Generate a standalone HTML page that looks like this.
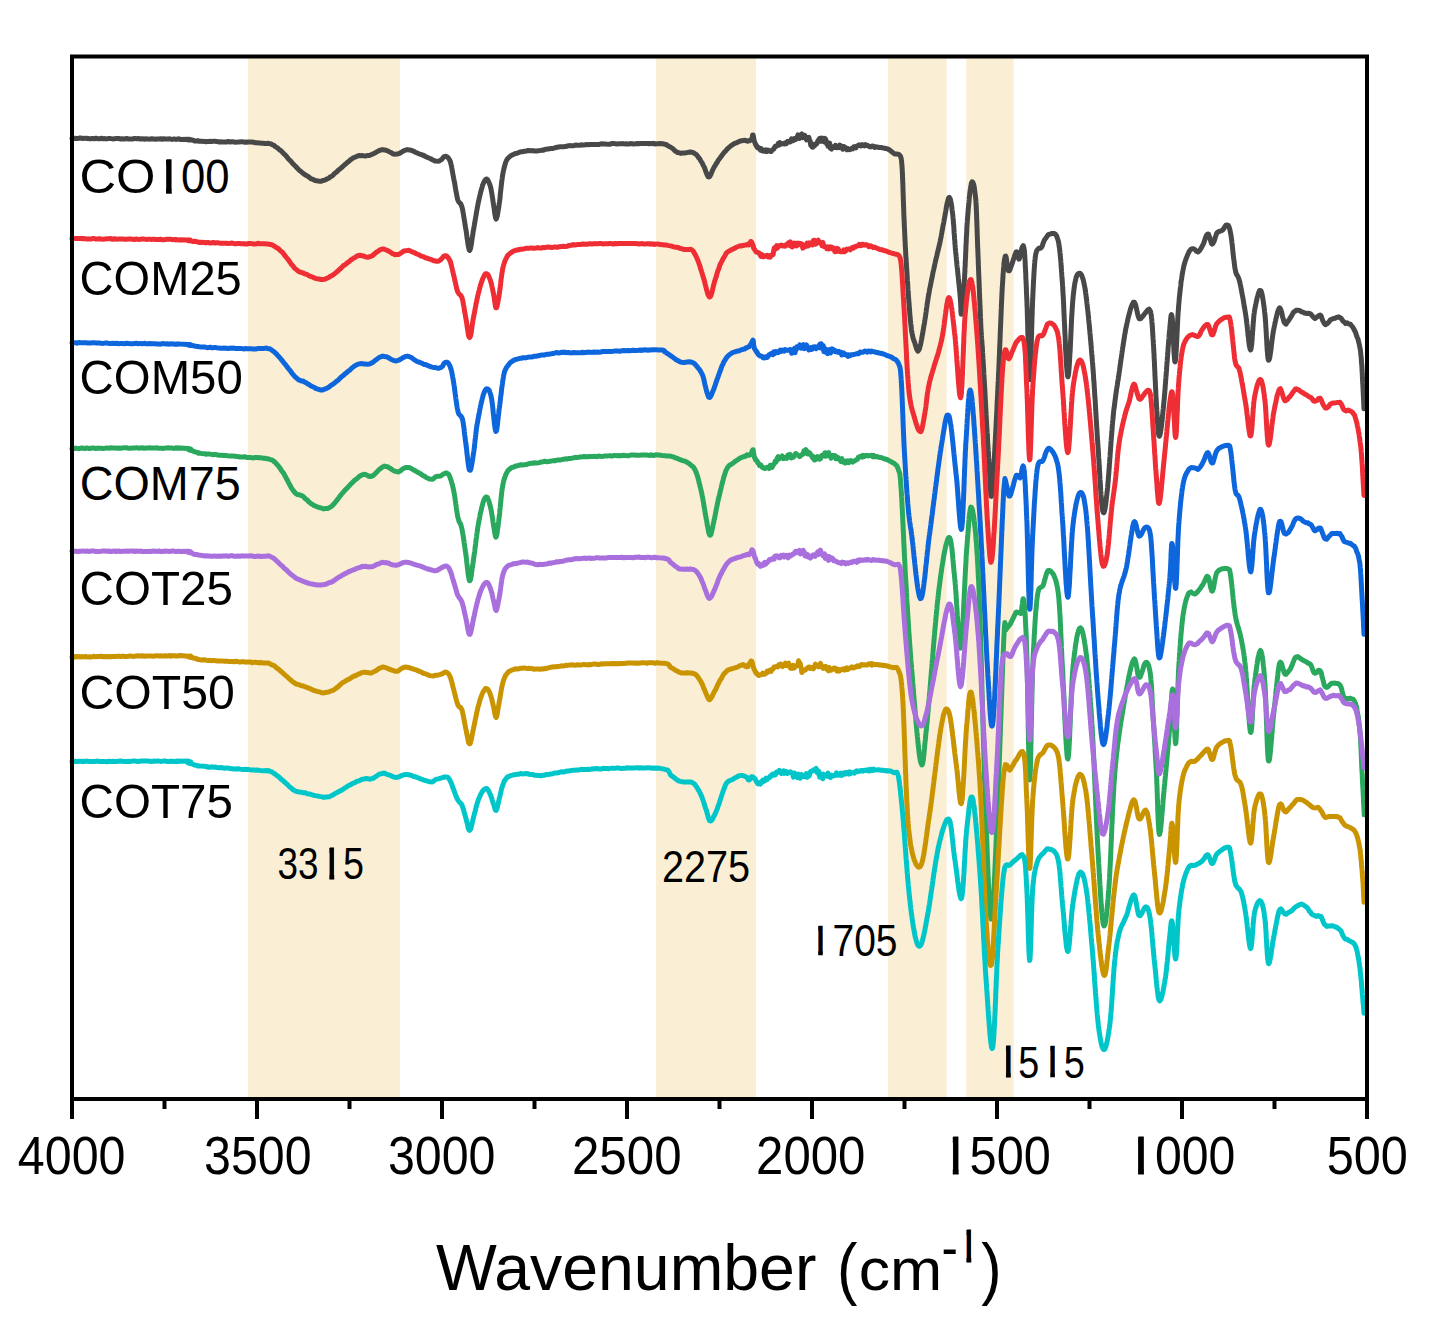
<!DOCTYPE html>
<html><head><meta charset="utf-8"><title>FTIR spectra</title>
<style>html,body{margin:0;padding:0;background:#fff;}svg{display:block;}</style>
</head><body>
<svg width="1433" height="1344" viewBox="0 0 1433 1344">
<rect width="1433" height="1344" fill="#fff"/>
<rect x="247.9" y="58" width="152.1" height="1040" fill="#faefd4"/>
<rect x="655.9" y="58" width="100.2" height="1040" fill="#faefd4"/>
<rect x="887.9" y="58" width="58.7" height="1040" fill="#faefd4"/>
<rect x="966.4" y="58" width="47.2" height="1040" fill="#faefd4"/>
<g fill="none" stroke-width="5" stroke-linejoin="round" stroke-linecap="round">
<path stroke="#484848" d="M72.0,138.3 L72.8,138.5 L73.7,138.6 L74.7,138.2 L75.8,138.5 L76.9,138.5 L78.0,138.5 L79.2,138.1 L80.5,138.0 L81.9,138.3 L83.2,138.6 L84.7,138.2 L86.1,138.4 L87.7,138.3 L89.2,138.7 L90.8,138.8 L92.5,138.4 L94.2,138.8 L95.9,138.2 L97.6,138.7 L99.4,138.8 L101.2,138.3 L103.1,138.7 L104.9,138.6 L106.8,138.9 L108.7,138.4 L110.7,138.6 L112.6,138.9 L114.6,138.7 L116.5,138.5 L118.5,138.4 L120.5,139.0 L122.5,138.7 L124.5,139.1 L126.5,138.5 L128.5,139.0 L130.5,139.0 L132.5,139.1 L134.5,138.4 L136.5,138.7 L138.4,138.5 L140.4,139.0 L142.3,138.7 L144.2,139.2 L146.1,138.8 L148.0,139.1 L149.9,139.2 L151.7,138.7 L153.5,139.0 L155.3,139.3 L157.1,139.0 L158.8,138.9 L160.5,138.8 L162.1,139.2 L163.7,138.8 L165.3,139.1 L166.8,139.1 L168.3,139.1 L169.7,138.8 L171.1,139.2 L172.4,139.4 L173.6,139.0 L174.9,139.0 L176.0,139.4 L177.1,139.2 L178.1,139.0 L179.1,138.8 L180.0,139.4 L188.1,139.2 L190.6,139.4 L189.9,139.4 L188.2,139.7 L188.0,139.9 L190.5,139.9 L192.5,140.0 L194.5,140.9 L197.0,141.1 L197.8,140.6 L198.3,141.1 L199.1,141.3 L201.1,141.2 L205.0,141.6 L206.1,141.7 L207.2,141.5 L208.6,141.4 L210.0,141.3 L211.5,141.4 L213.2,141.3 L214.9,141.3 L216.7,141.4 L218.5,141.9 L220.4,141.7 L222.3,141.9 L224.3,142.0 L226.2,142.0 L228.2,141.5 L230.2,142.1 L232.1,141.6 L234.0,142.1 L235.9,142.2 L237.7,142.1 L239.5,141.9 L241.2,141.7 L242.7,141.8 L244.2,142.2 L245.6,142.0 L246.9,142.2 L248.0,142.0 L251.3,142.1 L253.7,142.3 L255.4,142.7 L256.5,142.7 L257.5,142.8 L258.6,143.0 L260.0,143.1 L261.6,143.2 L263.3,143.2 L264.9,143.4 L266.4,143.4 L268.0,143.3 L269.6,143.6 L271.2,144.0 L272.6,144.8 L274.0,145.3 L275.4,146.6 L276.8,147.5 L278.1,148.4 L279.5,149.8 L280.9,150.7 L282.3,152.1 L283.4,153.3 L284.5,154.3 L285.7,155.5 L286.8,156.7 L287.9,158.3 L289.0,159.5 L290.1,160.5 L291.3,161.8 L292.4,163.2 L293.5,164.3 L294.7,165.5 L295.9,166.6 L297.1,168.0 L298.3,169.2 L299.5,170.4 L300.7,171.3 L302.0,172.4 L303.3,173.4 L304.6,174.4 L306.0,175.3 L307.5,176.1 L309.0,177.1 L310.5,178.4 L312.1,179.2 L313.6,179.7 L315.1,180.5 L316.6,180.7 L318.0,181.0 L319.7,181.2 L321.3,181.2 L322.8,180.5 L324.4,180.2 L325.9,179.7 L327.5,178.7 L329.2,177.9 L330.5,176.7 L331.7,176.2 L333.1,175.1 L334.4,173.5 L335.8,172.6 L337.1,171.5 L338.5,170.0 L339.9,169.0 L341.3,167.9 L342.6,166.7 L343.9,165.5 L345.3,164.2 L346.6,163.2 L348.0,161.9 L349.3,160.9 L350.6,159.7 L352.0,158.8 L353.3,157.9 L354.7,157.3 L356.0,156.7 L357.7,155.9 L359.4,155.5 L361.0,155.8 L362.7,155.6 L364.4,155.9 L366.0,155.9 L367.7,155.5 L369.4,155.5 L370.9,154.8 L372.4,154.2 L373.9,153.4 L375.4,152.7 L376.8,151.7 L378.3,151.1 L379.8,150.3 L381.3,149.8 L382.8,149.7 L384.5,150.0 L386.2,150.3 L387.9,151.0 L389.6,151.9 L391.3,152.7 L393.0,153.8 L394.6,154.2 L396.2,154.1 L397.9,153.9 L399.5,153.4 L401.0,152.5 L402.5,151.5 L404.0,150.7 L405.6,150.2 L407.3,149.6 L408.9,149.9 L410.4,150.1 L412.1,150.7 L413.7,151.3 L415.4,152.2 L417.2,153.0 L418.9,153.8 L420.7,154.3 L422.2,155.0 L423.8,155.5 L425.5,156.5 L427.2,157.4 L428.9,158.0 L430.6,158.7 L432.1,159.7 L433.6,160.3 L434.9,160.9 L436.0,161.0 L439.0,161.2 L440.7,160.2 L442.3,158.8 L443.8,156.9 L445.4,156.2 L446.6,156.6 L447.8,157.3 L449.0,158.9 L450.1,161.0 L450.5,162.0 L450.8,163.6 L451.1,164.6 L451.5,166.2 L451.8,168.0 L452.1,169.4 L452.4,171.5 L452.7,173.1 L453.0,174.7 L453.4,176.7 L453.7,178.4 L454.0,179.9 L454.3,181.4 L454.7,183.2 L455.0,185.4 L455.3,187.3 L455.6,189.0 L455.9,191.0 L456.3,192.8 L456.6,194.3 L456.9,195.9 L457.2,197.8 L457.6,199.2 L457.9,200.2 L458.9,202.3 L459.9,203.0 L460.8,204.0 L461.8,206.6 L462.1,207.4 L462.4,208.8 L462.7,210.1 L463.0,212.0 L463.3,213.5 L463.6,215.5 L463.9,217.3 L464.2,219.1 L464.5,220.9 L464.8,222.8 L465.1,225.0 L465.4,226.8 L465.7,228.4 L466.0,230.0 L466.3,231.9 L466.6,234.1 L466.9,236.6 L467.2,238.9 L467.5,240.7 L467.8,243.0 L468.1,244.8 L468.4,246.6 L468.7,247.9 L469.0,249.3 L469.3,250.0 L469.6,250.4 L469.9,250.0 L470.2,249.3 L470.6,248.3 L470.9,246.6 L471.2,245.2 L471.5,243.2 L471.8,240.8 L472.1,238.6 L472.5,236.4 L472.8,234.3 L473.1,232.0 L473.5,229.8 L473.8,228.6 L474.0,227.0 L474.3,225.4 L474.6,223.5 L474.9,221.8 L475.2,220.0 L475.5,218.5 L475.8,216.5 L476.1,215.0 L476.4,212.8 L476.7,211.0 L477.0,209.5 L477.3,207.7 L477.6,206.2 L477.9,204.5 L478.2,203.1 L478.6,201.4 L479.0,199.4 L479.4,197.7 L479.8,196.0 L480.2,194.2 L480.6,192.5 L481.0,191.0 L481.4,189.4 L481.8,188.2 L482.2,187.0 L482.5,185.4 L482.9,184.6 L483.9,182.0 L484.9,180.4 L485.8,179.3 L486.8,179.0 L487.6,179.8 L488.4,181.2 L489.2,183.1 L490.0,185.2 L490.7,187.5 L491.0,189.0 L491.3,190.6 L491.6,192.2 L491.9,194.1 L492.2,195.9 L492.5,198.0 L492.8,199.4 L493.0,201.6 L493.3,203.0 L493.5,204.9 L493.8,206.2 L494.2,208.7 L494.5,211.3 L494.8,213.9 L495.2,215.6 L495.5,217.5 L495.8,218.4 L496.2,219.0 L496.5,218.3 L496.8,217.4 L497.2,216.3 L497.5,214.3 L497.9,212.7 L498.2,210.2 L498.6,208.3 L499.0,205.5 L499.3,203.1 L499.5,201.9 L499.7,200.3 L499.9,198.9 L500.1,197.1 L500.2,195.3 L500.4,193.4 L500.6,191.6 L500.8,189.8 L501.0,188.1 L501.2,186.5 L501.4,184.6 L501.6,182.7 L501.8,181.1 L502.0,179.7 L502.2,178.3 L502.4,176.5 L502.7,174.7 L503.1,172.6 L503.4,171.1 L503.8,169.3 L504.2,167.7 L504.5,166.2 L504.9,164.9 L505.4,163.2 L505.8,162.1 L506.3,160.9 L507.3,159.0 L508.3,158.0 L509.5,156.8 L510.8,155.7 L512.6,154.8 L513.9,154.2 L515.4,153.5 L517.1,153.3 L518.8,152.5 L520.6,151.8 L522.4,151.7 L524.2,151.3 L526.0,151.2 L527.5,150.6 L528.8,150.5 L530.1,150.7 L531.3,150.7 L532.8,150.6 L534.7,151.0 L537.0,150.9 L540.0,150.6 L541.1,150.4 L542.2,150.1 L543.4,150.2 L544.6,149.6 L545.8,149.3 L547.0,149.1 L548.3,149.1 L549.7,148.7 L551.0,148.6 L552.4,148.6 L553.9,148.2 L555.4,147.7 L557.0,147.3 L558.6,147.0 L560.2,146.8 L561.9,146.7 L563.7,146.7 L565.5,146.6 L567.4,146.0 L569.3,145.6 L571.3,145.7 L573.4,145.8 L575.5,145.0 L577.7,145.2 L580.0,145.3 L581.3,144.8 L582.6,144.9 L584.0,145.0 L585.5,144.8 L587.0,144.4 L588.5,144.8 L590.1,144.6 L591.7,144.6 L593.4,144.5 L595.1,144.6 L596.8,144.4 L598.6,144.6 L600.4,144.0 L602.2,143.8 L604.1,143.9 L605.9,144.1 L607.8,144.2 L609.7,144.3 L611.6,143.6 L613.5,143.6 L615.4,143.8 L617.3,144.0 L619.1,143.8 L621.0,143.7 L622.9,143.6 L624.8,143.9 L626.6,143.8 L628.5,144.1 L630.3,143.6 L632.1,143.7 L633.8,144.0 L635.6,143.8 L637.3,143.5 L638.9,143.8 L640.6,143.6 L642.1,143.4 L643.7,143.4 L645.2,143.6 L646.6,143.5 L648.0,143.5 L649.3,143.8 L650.6,143.5 L651.8,143.6 L652.9,143.7 L654.0,143.3 L655.0,143.9 L659.7,143.6 L662.8,143.8 L664.7,144.2 L665.8,144.4 L666.4,144.6 L666.8,145.1 L667.5,145.5 L668.6,146.2 L670.3,147.0 L671.8,148.0 L673.3,149.1 L674.7,150.6 L676.2,151.6 L677.7,152.5 L679.3,152.8 L681.1,153.4 L683.0,152.9 L684.9,153.0 L686.9,152.6 L688.8,152.2 L690.5,152.0 L692.0,152.2 L693.7,152.9 L695.2,153.9 L696.4,154.6 L697.5,156.0 L698.7,157.7 L699.7,158.8 L700.6,160.5 L701.5,162.0 L702.4,163.4 L703.3,165.5 L704.1,166.8 L704.9,168.8 L705.7,171.1 L706.5,173.3 L707.3,175.2 L708.0,176.6 L708.8,176.9 L709.6,176.5 L710.3,175.5 L711.0,174.1 L711.8,172.1 L712.6,170.1 L713.5,168.4 L714.4,166.7 L715.3,165.3 L716.2,163.7 L717.2,162.3 L718.2,160.4 L719.2,159.0 L720.2,157.7 L721.3,156.2 L722.4,154.7 L723.5,153.3 L724.7,151.7 L725.8,150.9 L726.9,149.3 L728.2,148.3 L729.5,147.0 L730.8,145.8 L732.2,145.0 L733.6,144.0 L735.1,143.2 L736.6,142.8 L738.1,142.0 L739.7,141.2 L741.4,140.8 L742.4,140.7 L743.5,140.4 L744.6,140.3 L745.8,140.4 L746.9,141.0 L748.0,141.2 L749.0,140.6 L749.9,140.7 L750.6,139.9 L751.5,139.6 L752.0,138.3 L752.3,137.1 L752.6,135.1 L752.9,135.4 L753.2,135.2 L753.4,136.8 L753.6,137.7 L753.8,139.1 L754.1,140.3 L754.4,141.3 L754.7,142.2 L755.2,143.5 L755.8,145.2 L756.4,145.3 L757.0,147.2 L757.8,147.9 L758.6,147.5 L759.4,148.7 L760.4,150.1 L761.4,148.7 L762.3,150.9 L763.3,150.3 L764.4,151.2 L765.6,149.8 L766.8,151.5 L767.9,150.1 L769.1,150.7 L770.2,151.5 L771.2,151.4 L772.1,150.2 L773.0,149.4 L773.7,149.1 L774.3,148.1 L774.8,146.9 L775.4,146.1 L776.0,146.0 L776.6,146.1 L777.4,145.6 L778.3,143.4 L779.1,145.1 L780.0,142.6 L781.0,144.2 L782.0,143.9 L783.1,143.6 L784.2,144.0 L785.3,142.8 L786.4,143.7 L787.5,141.4 L788.6,142.0 L789.6,142.1 L790.5,141.7 L791.5,138.8 L792.6,139.2 L793.5,140.5 L794.5,138.5 L795.4,139.6 L796.3,139.1 L797.1,137.5 L798.0,134.8 L798.9,136.1 L799.7,138.3 L800.7,135.0 L801.8,133.9 L802.8,137.6 L803.7,135.8 L804.7,135.3 L805.6,137.4 L806.5,140.0 L807.4,138.7 L808.1,137.5 L808.8,137.3 L809.5,140.4 L810.1,140.6 L810.7,145.3 L811.4,145.8 L812.0,147.0 L812.8,147.2 L813.6,144.2 L814.3,145.9 L815.1,145.1 L815.9,144.4 L816.8,143.7 L817.7,141.2 L818.6,140.0 L819.4,138.7 L820.3,141.3 L821.2,138.0 L822.0,141.2 L822.8,140.0 L823.6,138.4 L824.4,141.9 L825.1,138.4 L825.9,139.8 L826.6,143.8 L827.3,142.5 L828.0,146.2 L828.8,144.9 L829.6,143.0 L830.4,148.3 L831.4,149.0 L832.4,146.5 L833.4,147.5 L834.4,147.5 L835.5,145.3 L836.5,147.7 L837.6,146.7 L838.7,147.5 L839.7,145.1 L840.7,146.8 L841.7,146.3 L842.7,149.3 L843.6,146.5 L844.6,146.8 L845.6,148.4 L846.7,149.8 L847.7,148.5 L848.9,149.6 L849.8,149.8 L850.8,149.1 L851.8,148.3 L852.8,148.8 L853.8,146.8 L854.9,146.8 L856.0,147.8 L857.0,145.8 L858.1,145.5 L859.1,144.9 L860.1,145.5 L861.1,146.0 L862.2,144.6 L863.3,145.2 L864.3,145.8 L865.3,144.6 L866.3,145.4 L867.3,145.3 L868.4,145.9 L869.5,146.7 L870.7,146.9 L872.0,146.1 L872.9,146.0 L873.8,146.7 L874.8,147.5 L875.8,146.8 L876.9,146.9 L878.0,147.1 L879.1,147.6 L880.2,147.4 L881.3,147.5 L882.3,147.8 L883.4,148.1 L884.4,148.1 L885.3,148.6 L886.2,148.5 L887.1,148.9 L887.8,149.0 L889.8,150.2 L891.2,151.3 L892.4,152.2 L893.5,153.1 L894.5,153.9 L896.9,154.0 L898.9,154.4 L899.5,155.0 L900.0,155.6 L900.5,156.4 L901.0,157.8 L901.5,160.4 L901.9,165.0 L902.0,166.2 L902.1,167.3 L902.1,168.1 L902.2,169.3 L902.3,170.9 L902.3,172.4 L902.4,173.4 L902.5,175.1 L902.5,176.6 L902.6,178.5 L902.7,180.1 L902.7,181.4 L902.8,183.5 L902.9,184.8 L902.9,186.7 L903.0,188.8 L903.0,190.3 L903.1,192.5 L903.2,194.1 L903.2,196.0 L903.3,198.0 L903.3,199.7 L903.4,201.4 L903.5,203.3 L903.5,205.0 L903.6,206.8 L903.7,208.6 L903.7,210.5 L903.8,212.1 L903.8,213.6 L903.9,215.6 L904.0,217.1 L904.0,218.8 L904.1,220.1 L904.2,221.8 L904.3,223.9 L904.3,225.5 L904.4,227.2 L904.5,228.9 L904.6,230.4 L904.6,231.9 L904.7,233.4 L904.8,235.2 L904.9,236.8 L904.9,238.2 L905.0,240.1 L905.1,241.6 L905.2,242.9 L905.2,244.3 L905.3,245.8 L905.4,247.7 L905.5,249.3 L905.6,250.8 L905.7,252.6 L905.7,253.9 L905.8,255.7 L905.9,257.3 L906.1,259.0 L906.2,260.8 L906.3,263.1 L906.4,264.6 L906.5,266.0 L906.6,267.8 L906.7,269.2 L906.8,270.8 L906.9,272.2 L907.0,273.8 L907.1,275.7 L907.2,277.6 L907.3,279.0 L907.4,280.7 L907.6,282.8 L907.7,284.5 L907.8,286.2 L907.9,288.1 L908.0,289.7 L908.2,291.5 L908.3,293.3 L908.4,295.1 L908.5,297.1 L908.7,298.9 L908.8,300.7 L908.9,302.4 L909.1,303.9 L909.2,305.9 L909.3,307.3 L909.4,308.9 L909.6,310.7 L909.7,312.5 L909.8,313.8 L909.9,315.4 L910.1,316.9 L910.2,318.2 L910.3,319.3 L910.4,320.9 L910.6,322.1 L910.7,323.1 L910.8,324.1 L911.2,327.1 L911.5,330.1 L911.9,332.5 L912.2,334.0 L912.6,335.9 L912.9,337.5 L913.3,338.8 L913.6,339.9 L914.0,340.6 L914.3,341.7 L914.7,342.6 L915.0,343.7 L916.0,347.1 L916.9,349.5 L917.9,351.1 L919.0,349.7 L919.3,349.1 L919.6,348.2 L919.9,347.0 L920.2,345.8 L920.6,344.3 L920.9,342.9 L921.2,341.1 L921.6,339.5 L921.9,337.6 L922.2,335.7 L922.6,333.9 L922.9,331.8 L923.3,329.8 L923.6,327.7 L923.9,325.9 L924.2,324.3 L924.5,322.9 L924.7,321.2 L925.0,319.4 L925.2,317.9 L925.5,316.4 L925.7,314.6 L925.9,313.3 L926.2,311.3 L926.4,309.5 L926.6,308.2 L926.9,306.3 L927.1,304.5 L927.4,302.8 L927.6,301.3 L927.9,299.8 L928.1,297.8 L928.4,296.2 L928.7,294.8 L929.0,293.0 L929.3,291.4 L929.6,289.3 L929.9,288.0 L930.3,286.4 L930.6,284.3 L931.0,282.8 L931.3,280.8 L931.7,279.1 L932.0,277.7 L932.4,275.7 L932.7,274.1 L933.0,272.4 L933.4,270.7 L933.7,269.5 L934.1,267.6 L934.4,266.5 L934.7,264.7 L935.1,263.1 L935.5,261.1 L935.9,259.4 L936.3,257.8 L936.7,256.4 L937.1,254.6 L937.4,252.9 L937.8,251.5 L938.2,250.0 L938.5,248.7 L938.9,246.9 L939.2,245.7 L939.6,244.0 L939.9,242.7 L940.3,240.8 L940.6,239.1 L940.9,237.7 L941.2,236.2 L941.5,234.3 L941.8,232.9 L942.0,231.4 L942.3,230.1 L942.6,228.5 L942.9,226.5 L943.2,225.0 L943.6,223.2 L943.9,221.6 L944.2,219.7 L944.5,218.1 L944.8,216.5 L945.2,214.2 L945.5,212.5 L945.9,210.4 L946.2,208.3 L946.5,206.3 L946.9,204.5 L947.2,203.1 L947.6,201.5 L947.9,200.3 L948.2,199.0 L948.5,198.4 L948.8,197.7 L949.3,197.4 L949.7,198.0 L950.2,198.8 L950.6,200.4 L951.0,202.3 L951.4,204.4 L951.8,207.0 L952.1,210.0 L952.5,212.9 L952.6,214.1 L952.8,215.0 L952.9,216.4 L953.0,217.8 L953.2,219.0 L953.3,220.6 L953.4,222.3 L953.5,223.9 L953.7,225.1 L953.8,226.9 L953.9,228.6 L954.0,230.3 L954.1,232.2 L954.2,233.5 L954.4,235.7 L954.5,237.5 L954.6,239.0 L954.8,241.0 L954.9,242.8 L955.0,244.5 L955.2,246.1 L955.3,248.0 L955.5,250.1 L955.6,251.3 L955.8,253.1 L955.9,254.3 L956.1,256.3 L956.3,257.6 L956.4,259.5 L956.6,261.0 L956.8,263.0 L956.9,264.7 L957.1,266.6 L957.3,268.0 L957.5,269.8 L957.7,271.8 L957.8,273.4 L958.0,274.9 L958.2,276.6 L958.4,278.6 L958.6,280.0 L958.7,281.6 L958.9,283.4 L959.1,284.9 L959.2,286.6 L959.4,288.0 L959.5,289.6 L959.6,290.7 L959.8,292.4 L959.9,293.2 L960.0,294.7 L960.2,297.2 L960.4,299.9 L960.6,302.5 L960.7,304.8 L960.8,307.1 L960.9,309.4 L960.9,311.0 L961.0,312.4 L961.1,313.3 L961.2,314.3 L961.3,314.3 L961.5,313.8 L961.6,313.7 L961.7,312.7 L961.8,312.3 L962.0,311.3 L962.1,310.2 L962.2,308.7 L962.4,307.6 L962.5,305.9 L962.6,304.1 L962.8,302.6 L962.9,300.8 L963.1,298.9 L963.2,296.7 L963.4,294.8 L963.5,292.7 L963.7,290.7 L963.8,288.5 L964.0,286.4 L964.1,284.3 L964.3,282.0 L964.4,279.7 L964.5,278.3 L964.6,277.0 L964.6,275.6 L964.7,274.2 L964.8,272.6 L964.9,271.5 L964.9,269.7 L965.0,268.0 L965.1,266.7 L965.2,264.9 L965.2,263.3 L965.3,261.6 L965.4,260.0 L965.5,257.9 L965.6,256.3 L965.6,254.7 L965.7,252.7 L965.8,251.2 L965.9,249.0 L965.9,247.2 L966.0,245.5 L966.1,243.8 L966.2,242.0 L966.3,240.3 L966.3,238.7 L966.4,237.0 L966.5,235.2 L966.6,233.8 L966.7,232.2 L966.8,230.6 L966.8,228.9 L966.9,227.5 L967.0,225.8 L967.1,224.5 L967.2,222.8 L967.3,221.7 L967.4,219.9 L967.6,218.1 L967.7,216.0 L967.9,213.6 L968.1,211.8 L968.2,209.5 L968.4,207.7 L968.6,205.7 L968.8,203.4 L969.0,201.7 L969.2,199.4 L969.3,197.6 L969.5,196.1 L969.7,194.4 L969.9,192.5 L970.1,191.1 L970.3,189.6 L970.5,188.4 L970.7,186.9 L970.9,186.0 L971.1,185.1 L971.2,184.3 L971.4,183.2 L971.6,182.8 L972.1,181.9 L972.5,182.0 L973.0,182.7 L973.5,183.9 L974.0,185.7 L974.4,188.1 L974.8,191.2 L975.2,194.5 L975.6,197.9 L975.7,198.8 L975.8,199.8 L975.9,201.2 L976.0,202.1 L976.0,203.5 L976.1,204.8 L976.2,206.2 L976.3,207.5 L976.3,208.9 L976.4,210.8 L976.5,212.3 L976.5,213.4 L976.6,215.4 L976.6,217.0 L976.7,218.7 L976.8,220.3 L976.8,221.7 L976.9,223.7 L976.9,225.1 L977.0,227.1 L977.1,229.1 L977.1,230.5 L977.2,232.4 L977.2,234.7 L977.3,236.3 L977.4,238.1 L977.4,240.1 L977.5,242.0 L977.6,243.8 L977.6,246.1 L977.7,247.9 L977.8,250.0 L977.9,251.4 L977.9,253.0 L978.0,254.4 L978.0,255.7 L978.1,257.2 L978.2,258.9 L978.2,260.3 L978.3,261.8 L978.3,263.8 L978.4,265.6 L978.5,267.2 L978.5,268.5 L978.6,270.6 L978.7,272.3 L978.7,274.1 L978.8,275.7 L978.9,277.5 L979.0,279.4 L979.0,280.9 L979.1,282.8 L979.2,284.4 L979.2,286.5 L979.3,288.1 L979.4,290.1 L979.4,291.5 L979.5,293.7 L979.6,295.3 L979.6,297.0 L979.7,298.6 L979.8,300.4 L979.9,302.3 L979.9,303.8 L980.0,305.4 L980.1,307.0 L980.1,308.8 L980.2,310.1 L980.3,312.0 L980.3,313.4 L980.4,315.0 L980.4,316.2 L980.5,318.0 L980.6,319.0 L980.6,320.6 L980.7,321.9 L980.7,323.3 L980.8,324.4 L980.9,326.8 L981.0,328.9 L981.1,330.6 L981.2,332.2 L981.3,333.6 L981.4,335.2 L981.5,336.2 L981.5,337.2 L981.6,338.5 L981.7,339.3 L981.8,340.3 L981.8,341.3 L981.9,342.2 L982.0,343.7 L982.1,344.9 L982.2,346.8 L982.4,348.5 L982.5,350.4 L982.6,352.9 L982.8,355.9 L983.0,359.0 L983.1,359.9 L983.1,360.9 L983.2,362.1 L983.3,363.5 L983.3,364.5 L983.4,366.1 L983.5,367.4 L983.6,368.8 L983.7,370.4 L983.7,371.7 L983.8,373.4 L983.9,374.6 L984.0,376.5 L984.1,377.9 L984.2,379.5 L984.3,381.2 L984.4,382.8 L984.5,384.6 L984.6,386.1 L984.7,388.1 L984.8,389.9 L984.9,391.5 L985.0,393.4 L985.1,395.2 L985.2,396.9 L985.3,399.2 L985.4,401.0 L985.5,402.8 L985.6,404.4 L985.7,406.6 L985.8,408.1 L985.9,410.1 L986.0,411.8 L986.1,414.2 L986.2,415.6 L986.3,417.8 L986.4,419.7 L986.5,421.5 L986.6,423.4 L986.7,425.3 L986.8,426.9 L986.9,428.8 L987.0,430.5 L987.1,432.2 L987.3,433.9 L987.4,435.9 L987.5,437.6 L987.5,439.0 L987.6,440.8 L987.7,442.5 L987.8,444.0 L987.9,445.5 L988.0,447.2 L988.1,448.5 L988.2,450.4 L988.3,451.5 L988.4,453.1 L988.5,454.4 L988.5,455.9 L988.6,457.2 L988.7,458.1 L988.8,459.3 L988.9,460.9 L988.9,461.9 L989.0,462.7 L989.2,466.6 L989.4,469.9 L989.6,473.6 L989.8,477.0 L990.0,480.3 L990.1,483.1 L990.3,485.9 L990.4,488.4 L990.5,490.5 L990.6,492.3 L990.8,494.0 L990.9,495.4 L991.0,496.2 L991.2,496.2 L991.4,496.3 L991.6,495.3 L991.8,494.3 L992.0,492.7 L992.1,492.1 L992.1,491.5 L992.2,490.7 L992.3,489.9 L992.4,488.7 L992.4,488.1 L992.5,487.2 L992.6,486.1 L992.7,485.0 L992.8,484.0 L992.8,482.5 L992.9,481.7 L993.0,480.4 L993.1,478.8 L993.2,477.5 L993.3,476.3 L993.4,474.8 L993.5,473.1 L993.6,472.0 L993.7,470.2 L993.7,468.8 L993.8,467.2 L993.9,465.7 L994.0,463.7 L994.1,462.2 L994.2,460.6 L994.3,458.7 L994.4,456.8 L994.5,455.0 L994.6,453.3 L994.7,451.5 L994.8,449.6 L994.9,447.9 L995.0,445.7 L995.1,444.0 L995.2,442.3 L995.3,440.1 L995.4,438.1 L995.5,436.4 L995.6,434.4 L995.7,432.3 L995.8,430.4 L995.9,428.4 L996.0,426.4 L996.1,424.5 L996.2,422.6 L996.3,421.0 L996.4,418.9 L996.5,416.7 L996.6,415.1 L996.7,413.3 L996.8,411.3 L996.9,409.3 L997.0,407.3 L997.0,405.8 L997.1,403.8 L997.2,402.2 L997.3,400.4 L997.4,398.6 L997.5,396.8 L997.6,395.2 L997.7,393.2 L997.7,391.7 L997.8,390.3 L997.9,388.3 L998.0,387.0 L998.1,385.0 L998.1,383.3 L998.2,381.6 L998.3,380.4 L998.4,378.5 L998.5,376.9 L998.5,375.0 L998.6,373.3 L998.7,371.8 L998.8,369.8 L998.9,368.0 L998.9,366.2 L999.0,364.3 L999.1,362.7 L999.2,360.7 L999.2,359.1 L999.3,357.3 L999.4,355.6 L999.5,353.9 L999.5,351.8 L999.6,350.0 L999.7,348.3 L999.7,346.8 L999.8,344.8 L999.9,343.1 L1000.0,341.1 L1000.0,339.7 L1000.1,337.7 L1000.2,336.1 L1000.2,334.3 L1000.3,332.3 L1000.4,330.6 L1000.4,328.9 L1000.5,327.4 L1000.6,325.4 L1000.7,323.9 L1000.7,322.5 L1000.8,320.8 L1000.9,318.8 L1000.9,317.3 L1001.0,315.9 L1001.1,314.4 L1001.1,312.8 L1001.2,310.9 L1001.2,309.5 L1001.3,308.2 L1001.4,306.3 L1001.4,305.0 L1001.5,303.7 L1001.6,302.2 L1001.6,300.8 L1001.7,299.4 L1001.8,297.8 L1001.8,296.5 L1001.9,295.3 L1001.9,294.0 L1002.0,292.9 L1002.1,292.0 L1002.1,290.8 L1002.2,289.3 L1002.2,288.3 L1002.3,287.3 L1002.5,284.1 L1002.7,280.8 L1002.9,277.8 L1003.0,275.4 L1003.2,273.1 L1003.4,270.6 L1003.5,268.8 L1003.7,266.8 L1003.8,265.5 L1004.0,263.6 L1004.1,262.3 L1004.3,261.1 L1004.4,259.9 L1004.6,259.3 L1004.7,258.4 L1004.9,257.9 L1005.1,257.3 L1005.2,256.3 L1005.4,256.1 L1005.7,256.0 L1006.1,256.8 L1006.4,259.0 L1006.7,261.3 L1007.0,264.3 L1007.4,266.9 L1007.8,268.9 L1008.3,270.7 L1008.9,270.8 L1009.4,270.7 L1010.0,269.5 L1010.6,267.7 L1011.3,265.9 L1012.0,263.9 L1012.7,261.9 L1013.4,259.5 L1014.1,257.5 L1014.8,255.2 L1015.4,253.7 L1015.9,252.3 L1016.4,251.8 L1017.3,252.3 L1017.9,254.8 L1018.3,258.0 L1019.0,259.2 L1019.5,258.3 L1020.1,255.8 L1020.7,253.1 L1021.4,250.4 L1022.0,247.6 L1022.7,246.3 L1023.3,245.6 L1023.8,247.3 L1023.9,247.9 L1024.0,248.8 L1024.2,249.4 L1024.3,250.4 L1024.4,251.2 L1024.5,252.8 L1024.6,253.9 L1024.7,254.8 L1024.8,256.4 L1024.9,257.8 L1025.0,259.3 L1025.1,260.7 L1025.2,262.3 L1025.2,263.9 L1025.3,265.9 L1025.4,267.5 L1025.5,269.4 L1025.6,271.0 L1025.7,273.1 L1025.8,274.8 L1025.8,276.9 L1025.9,278.8 L1026.0,280.7 L1026.1,282.8 L1026.2,284.9 L1026.3,286.8 L1026.4,288.6 L1026.4,291.1 L1026.5,292.8 L1026.6,295.0 L1026.7,297.1 L1026.8,299.3 L1026.9,300.4 L1026.9,302.1 L1027.0,303.7 L1027.0,305.3 L1027.1,306.7 L1027.2,308.5 L1027.2,310.5 L1027.3,312.1 L1027.3,314.0 L1027.4,315.8 L1027.4,318.1 L1027.5,319.8 L1027.6,322.1 L1027.6,324.0 L1027.7,326.4 L1027.7,328.3 L1027.8,330.6 L1027.8,332.5 L1027.9,335.0 L1028.0,336.9 L1028.0,339.2 L1028.1,341.5 L1028.1,343.4 L1028.2,345.7 L1028.2,347.8 L1028.3,349.7 L1028.4,351.8 L1028.4,353.9 L1028.5,355.9 L1028.5,357.5 L1028.6,359.3 L1028.7,361.2 L1028.7,363.0 L1028.8,364.9 L1028.8,366.1 L1028.9,367.8 L1028.9,369.6 L1029.0,370.9 L1029.1,372.0 L1029.1,373.2 L1029.2,374.2 L1029.2,375.5 L1029.3,376.5 L1029.3,377.4 L1029.4,377.7 L1029.5,378.3 L1029.5,378.8 L1029.6,379.4 L1029.6,379.3 L1029.7,379.4 L1029.8,379.2 L1029.8,379.4 L1029.9,379.1 L1029.9,378.5 L1030.0,377.7 L1030.1,377.2 L1030.1,376.4 L1030.2,375.5 L1030.2,374.2 L1030.3,373.2 L1030.4,372.0 L1030.4,370.5 L1030.5,369.1 L1030.5,367.6 L1030.6,366.0 L1030.7,364.7 L1030.7,362.5 L1030.8,361.2 L1030.8,359.0 L1030.9,357.4 L1031.0,355.1 L1031.0,353.2 L1031.1,351.1 L1031.1,349.4 L1031.2,346.9 L1031.3,345.3 L1031.3,342.8 L1031.4,340.6 L1031.4,338.4 L1031.5,336.6 L1031.6,334.0 L1031.6,332.2 L1031.7,330.0 L1031.7,328.1 L1031.8,325.8 L1031.9,323.7 L1031.9,321.4 L1032.0,319.6 L1032.0,317.5 L1032.1,315.5 L1032.2,313.5 L1032.2,311.7 L1032.3,309.7 L1032.3,308.4 L1032.4,306.6 L1032.5,304.7 L1032.5,303.6 L1032.6,301.9 L1032.6,300.6 L1032.7,299.0 L1032.8,296.8 L1032.9,294.4 L1033.0,292.5 L1033.1,290.4 L1033.2,288.1 L1033.3,286.0 L1033.4,284.2 L1033.5,282.2 L1033.6,280.3 L1033.7,278.7 L1033.8,276.4 L1033.9,274.7 L1034.0,273.3 L1034.1,271.6 L1034.2,269.8 L1034.3,268.4 L1034.4,266.9 L1034.5,265.3 L1034.6,263.9 L1034.7,262.9 L1034.8,261.1 L1035.0,260.0 L1035.1,259.0 L1035.2,257.5 L1035.4,256.8 L1035.5,255.7 L1035.7,254.4 L1036.7,250.6 L1038.0,249.1 L1039.3,248.1 L1040.6,248.3 L1041.6,247.3 L1042.5,245.4 L1043.1,243.2 L1043.7,241.7 L1044.6,239.7 L1045.6,238.5 L1046.7,236.9 L1048.0,235.0 L1049.3,234.2 L1050.6,234.0 L1052.0,233.4 L1053.6,233.4 L1055.2,234.1 L1056.7,236.1 L1058.0,240.0 L1058.2,240.6 L1058.4,241.6 L1058.6,242.6 L1058.8,243.6 L1059.0,244.9 L1059.1,246.1 L1059.3,247.1 L1059.5,248.2 L1059.6,249.4 L1059.8,250.9 L1059.9,252.3 L1060.1,253.6 L1060.2,255.1 L1060.4,256.8 L1060.5,258.3 L1060.7,259.7 L1060.8,261.4 L1061.0,263.3 L1061.1,265.3 L1061.2,267.1 L1061.4,269.1 L1061.5,271.2 L1061.7,273.0 L1061.8,275.4 L1062.0,277.5 L1062.2,279.7 L1062.3,282.1 L1062.5,284.4 L1062.6,285.8 L1062.7,286.7 L1062.8,288.3 L1062.8,289.8 L1062.9,291.5 L1063.0,293.0 L1063.1,294.7 L1063.2,296.2 L1063.3,297.9 L1063.4,300.1 L1063.5,301.5 L1063.6,303.6 L1063.7,305.8 L1063.8,307.4 L1063.8,309.3 L1063.9,311.4 L1064.0,313.5 L1064.1,315.7 L1064.2,317.7 L1064.3,320.0 L1064.4,322.0 L1064.5,324.1 L1064.6,326.2 L1064.7,328.6 L1064.8,330.9 L1064.9,333.0 L1065.0,334.7 L1065.1,336.9 L1065.2,339.0 L1065.3,341.2 L1065.4,343.1 L1065.4,345.1 L1065.5,347.5 L1065.6,349.3 L1065.7,351.2 L1065.8,352.9 L1065.9,354.7 L1066.0,356.8 L1066.1,358.4 L1066.2,360.2 L1066.3,361.8 L1066.4,363.1 L1066.5,364.9 L1066.6,366.4 L1066.7,367.5 L1066.8,368.7 L1066.9,370.0 L1067.0,371.1 L1067.1,372.1 L1067.2,372.8 L1067.2,373.6 L1067.3,374.6 L1067.4,375.2 L1067.5,375.8 L1067.6,376.2 L1067.7,376.5 L1067.8,376.6 L1067.9,376.6 L1068.0,376.8 L1068.1,376.6 L1068.2,376.1 L1068.3,375.5 L1068.4,374.8 L1068.6,373.8 L1068.7,372.9 L1068.8,371.9 L1068.9,370.6 L1069.0,369.3 L1069.1,368.2 L1069.2,366.5 L1069.3,365.1 L1069.4,363.4 L1069.5,361.4 L1069.6,359.5 L1069.7,357.9 L1069.8,355.9 L1069.9,353.9 L1070.1,351.8 L1070.2,349.8 L1070.3,347.4 L1070.4,345.4 L1070.5,343.1 L1070.6,340.9 L1070.7,338.5 L1070.8,336.3 L1070.9,334.0 L1071.0,331.9 L1071.1,329.6 L1071.2,327.2 L1071.3,325.1 L1071.4,323.2 L1071.5,320.8 L1071.6,318.9 L1071.7,316.7 L1071.8,315.0 L1072.0,312.8 L1072.1,311.2 L1072.2,309.1 L1072.3,307.6 L1072.4,305.8 L1072.5,304.4 L1072.6,303.2 L1072.7,301.6 L1072.8,300.6 L1072.9,299.4 L1073.2,296.0 L1073.5,293.2 L1073.8,290.9 L1074.1,288.4 L1074.4,286.1 L1074.7,284.1 L1075.0,282.6 L1075.3,281.2 L1075.6,279.7 L1075.9,278.5 L1076.2,277.1 L1076.5,276.6 L1076.8,275.8 L1077.2,274.8 L1077.5,274.6 L1077.9,273.9 L1078.6,273.5 L1079.3,273.3 L1080.0,273.3 L1080.8,274.1 L1081.6,275.1 L1082.4,277.4 L1083.2,279.6 L1084.0,283.3 L1084.8,287.3 L1085.0,288.3 L1085.1,289.2 L1085.3,290.6 L1085.5,291.6 L1085.6,292.8 L1085.8,294.0 L1086.0,295.2 L1086.1,296.3 L1086.3,298.1 L1086.5,299.1 L1086.7,300.6 L1086.8,301.9 L1087.0,303.8 L1087.2,305.2 L1087.3,306.8 L1087.5,308.1 L1087.7,309.9 L1087.9,311.3 L1088.0,312.9 L1088.2,314.6 L1088.4,316.3 L1088.6,318.4 L1088.7,319.9 L1088.9,321.8 L1089.1,323.6 L1089.3,325.3 L1089.4,327.1 L1089.6,328.9 L1089.8,330.6 L1089.9,332.7 L1090.1,334.4 L1090.3,336.3 L1090.4,338.3 L1090.6,339.9 L1090.8,341.9 L1090.9,343.8 L1091.1,345.5 L1091.3,347.6 L1091.4,349.5 L1091.6,351.5 L1091.7,353.2 L1091.9,354.9 L1092.0,356.8 L1092.2,358.6 L1092.3,360.1 L1092.4,361.7 L1092.6,363.4 L1092.7,364.6 L1092.8,366.3 L1092.9,367.7 L1093.0,369.3 L1093.2,371.1 L1093.3,372.7 L1093.4,374.4 L1093.5,375.7 L1093.6,377.7 L1093.7,379.3 L1093.8,380.9 L1094.0,382.3 L1094.1,384.1 L1094.2,385.9 L1094.3,387.6 L1094.4,389.2 L1094.5,390.8 L1094.6,392.6 L1094.7,394.2 L1094.8,396.2 L1095.0,397.7 L1095.1,399.4 L1095.2,401.1 L1095.3,403.2 L1095.4,404.9 L1095.5,406.5 L1095.6,408.1 L1095.7,409.7 L1095.8,411.7 L1095.9,413.5 L1096.0,415.0 L1096.1,416.5 L1096.2,418.5 L1096.3,420.3 L1096.4,421.8 L1096.5,423.5 L1096.6,424.9 L1096.7,426.8 L1096.8,428.2 L1096.9,429.7 L1097.0,431.2 L1097.1,433.1 L1097.2,434.7 L1097.3,436.3 L1097.4,437.8 L1097.5,439.2 L1097.6,441.0 L1097.7,442.3 L1097.8,443.8 L1097.9,444.9 L1098.0,446.5 L1098.1,448.1 L1098.2,450.1 L1098.4,451.7 L1098.5,453.6 L1098.6,456.0 L1098.7,457.7 L1098.9,459.6 L1099.0,461.9 L1099.1,463.8 L1099.2,465.8 L1099.4,468.0 L1099.5,469.8 L1099.6,471.8 L1099.7,473.9 L1099.8,475.4 L1099.9,477.7 L1100.0,479.5 L1100.2,481.4 L1100.3,483.3 L1100.4,484.9 L1100.5,486.9 L1100.6,488.5 L1100.7,490.4 L1100.8,491.6 L1100.9,493.5 L1101.0,495.0 L1101.2,496.6 L1101.3,497.8 L1101.4,499.3 L1101.5,501.0 L1101.6,501.9 L1101.7,503.0 L1101.8,504.5 L1101.9,505.6 L1102.0,506.3 L1102.1,507.4 L1102.3,508.2 L1102.4,509.2 L1102.5,510.0 L1102.6,510.6 L1103.0,511.8 L1103.4,512.6 L1103.8,512.7 L1104.2,512.0 L1104.6,510.8 L1105.0,509.1 L1105.4,506.6 L1105.8,503.7 L1106.2,500.2 L1106.6,496.5 L1107.1,492.4 L1107.2,491.6 L1107.3,490.4 L1107.4,489.1 L1107.6,487.8 L1107.7,486.9 L1107.8,485.2 L1107.9,483.8 L1108.0,482.6 L1108.2,481.1 L1108.3,479.7 L1108.4,477.9 L1108.5,476.3 L1108.7,474.9 L1108.8,473.1 L1108.9,471.6 L1109.0,469.8 L1109.2,468.1 L1109.3,466.1 L1109.4,464.3 L1109.6,462.5 L1109.7,460.7 L1109.8,458.8 L1110.0,456.9 L1110.1,455.4 L1110.2,453.1 L1110.4,451.6 L1110.5,449.6 L1110.6,447.7 L1110.8,446.0 L1110.9,444.0 L1111.0,442.2 L1111.2,440.3 L1111.3,438.9 L1111.4,436.9 L1111.6,435.4 L1111.7,433.4 L1111.8,431.9 L1112.0,430.0 L1112.1,428.5 L1112.2,426.7 L1112.3,425.4 L1112.5,423.8 L1112.6,422.5 L1112.7,420.9 L1112.9,419.5 L1113.0,418.2 L1113.2,416.2 L1113.4,414.3 L1113.6,412.0 L1113.8,410.1 L1114.0,408.6 L1114.3,406.6 L1114.5,405.1 L1114.7,403.4 L1114.9,401.7 L1115.1,400.2 L1115.3,398.7 L1115.5,397.1 L1115.7,395.6 L1115.9,394.5 L1116.1,392.7 L1116.3,391.5 L1116.5,390.0 L1116.7,388.5 L1117.0,387.1 L1117.2,385.5 L1117.4,384.4 L1117.6,382.8 L1117.8,381.2 L1118.1,380.1 L1118.3,378.6 L1118.5,376.7 L1118.8,375.4 L1119.0,373.7 L1119.2,372.2 L1119.5,370.4 L1119.7,369.0 L1119.9,367.4 L1120.2,365.5 L1120.4,363.8 L1120.6,362.3 L1120.9,360.5 L1121.1,358.8 L1121.4,357.2 L1121.6,355.5 L1121.9,353.5 L1122.1,351.9 L1122.4,350.1 L1122.6,348.3 L1122.9,347.0 L1123.1,345.3 L1123.4,343.3 L1123.6,342.0 L1123.9,340.3 L1124.1,338.8 L1124.4,337.0 L1124.6,335.4 L1124.9,333.8 L1125.2,332.6 L1125.4,331.1 L1125.7,329.6 L1125.9,328.3 L1126.2,327.0 L1126.4,326.2 L1126.9,323.5 L1127.4,321.5 L1127.9,318.8 L1128.4,317.0 L1128.9,314.9 L1129.5,313.0 L1130.0,310.9 L1130.5,309.3 L1131.0,307.5 L1131.5,306.1 L1132.0,304.9 L1132.4,304.1 L1132.9,303.2 L1133.4,302.3 L1133.8,302.4 L1134.4,302.3 L1135.0,303.4 L1135.6,304.8 L1136.1,307.0 L1136.6,309.1 L1137.1,311.7 L1137.7,314.1 L1138.2,316.1 L1138.7,317.5 L1139.2,318.7 L1140.5,318.8 L1141.8,317.4 L1143.1,315.8 L1144.5,314.0 L1146.0,312.2 L1147.6,310.1 L1149.1,309.1 L1150.4,311.3 L1150.6,311.7 L1150.8,313.0 L1151.0,313.7 L1151.2,315.0 L1151.4,316.3 L1151.5,317.5 L1151.7,318.9 L1151.8,320.4 L1151.9,321.9 L1152.1,323.8 L1152.2,325.1 L1152.3,327.1 L1152.5,328.9 L1152.6,331.1 L1152.7,333.0 L1152.8,335.1 L1153.0,337.1 L1153.1,339.0 L1153.3,341.5 L1153.4,343.9 L1153.5,345.3 L1153.6,346.6 L1153.6,347.7 L1153.7,349.3 L1153.8,350.5 L1153.9,352.3 L1154.0,353.9 L1154.1,355.2 L1154.1,357.2 L1154.2,358.5 L1154.3,360.6 L1154.4,362.3 L1154.5,363.7 L1154.5,365.6 L1154.6,367.2 L1154.7,369.2 L1154.8,370.8 L1154.9,372.8 L1154.9,374.6 L1155.0,376.2 L1155.1,377.9 L1155.2,379.8 L1155.3,381.4 L1155.4,383.3 L1155.4,384.9 L1155.5,386.6 L1155.6,388.3 L1155.7,389.9 L1155.8,391.5 L1155.8,393.4 L1155.9,395.0 L1156.0,396.6 L1156.1,397.9 L1156.2,399.4 L1156.2,400.6 L1156.3,401.9 L1156.4,403.3 L1156.5,405.8 L1156.7,408.2 L1156.8,410.4 L1157.0,412.6 L1157.1,415.0 L1157.2,417.3 L1157.4,419.4 L1157.5,421.4 L1157.6,423.6 L1157.8,425.3 L1157.9,427.2 L1158.0,429.2 L1158.2,430.4 L1158.3,431.7 L1158.5,433.0 L1158.6,434.1 L1158.8,435.1 L1158.9,435.3 L1159.1,435.9 L1159.3,436.2 L1159.5,435.7 L1159.7,435.6 L1159.9,435.1 L1160.1,434.3 L1160.3,433.5 L1160.5,432.4 L1160.7,431.1 L1160.9,429.8 L1161.1,427.9 L1161.4,426.6 L1161.6,424.4 L1161.8,422.5 L1162.1,420.4 L1162.3,418.3 L1162.5,415.8 L1162.8,413.6 L1163.0,411.0 L1163.3,408.5 L1163.5,405.8 L1163.8,403.1 L1163.9,402.0 L1164.0,400.7 L1164.2,399.6 L1164.3,398.0 L1164.4,396.4 L1164.5,395.3 L1164.7,393.4 L1164.8,392.3 L1164.9,390.3 L1165.1,388.9 L1165.2,386.9 L1165.3,385.1 L1165.5,383.4 L1165.6,381.8 L1165.7,379.9 L1165.9,378.0 L1166.0,376.1 L1166.2,374.4 L1166.3,372.5 L1166.5,370.4 L1166.6,368.8 L1166.7,366.6 L1166.9,365.0 L1167.0,362.8 L1167.2,360.9 L1167.3,359.4 L1167.4,357.6 L1167.6,355.4 L1167.7,353.4 L1167.9,351.8 L1168.0,350.1 L1168.1,348.1 L1168.2,346.7 L1168.4,345.1 L1168.5,343.6 L1168.6,341.9 L1168.7,340.4 L1168.9,338.7 L1169.0,337.5 L1169.1,335.8 L1169.2,334.6 L1169.3,333.5 L1169.4,332.3 L1169.5,331.0 L1169.6,330.0 L1169.7,329.2 L1170.2,323.6 L1170.6,319.4 L1170.9,316.5 L1171.2,315.1 L1171.5,314.6 L1171.8,315.5 L1172.1,317.2 L1172.2,317.8 L1172.3,318.7 L1172.4,320.1 L1172.5,321.4 L1172.6,323.1 L1172.7,325.0 L1172.8,326.9 L1172.9,329.4 L1173.0,331.6 L1173.1,334.1 L1173.2,336.2 L1173.4,338.7 L1173.5,341.1 L1173.6,343.5 L1173.7,345.8 L1173.8,347.8 L1173.9,350.2 L1174.0,352.3 L1174.1,354.3 L1174.3,355.9 L1174.4,357.5 L1174.5,358.7 L1174.6,359.8 L1174.7,360.7 L1174.9,361.6 L1175.0,361.8 L1175.1,361.6 L1175.2,361.7 L1175.3,360.8 L1175.4,360.6 L1175.5,359.8 L1175.6,358.8 L1175.7,357.6 L1175.8,356.7 L1175.9,355.3 L1176.0,353.6 L1176.1,352.1 L1176.2,350.7 L1176.3,348.9 L1176.4,347.1 L1176.5,345.5 L1176.6,343.5 L1176.7,341.6 L1176.8,339.5 L1176.9,337.4 L1177.0,335.2 L1177.1,333.2 L1177.2,331.3 L1177.3,329.2 L1177.4,326.8 L1177.5,324.9 L1177.6,322.8 L1177.7,320.5 L1177.8,318.5 L1177.9,316.8 L1178.0,315.1 L1178.1,313.1 L1178.2,311.3 L1178.4,309.9 L1178.5,308.0 L1178.6,306.8 L1178.7,305.2 L1178.9,303.1 L1179.1,301.3 L1179.2,299.3 L1179.4,297.0 L1179.6,295.3 L1179.8,293.6 L1180.0,291.9 L1180.2,289.8 L1180.4,288.0 L1180.6,286.8 L1180.8,285.0 L1180.9,283.2 L1181.1,281.7 L1181.3,280.3 L1181.6,278.9 L1181.8,277.2 L1182.0,275.9 L1182.2,274.8 L1182.4,273.5 L1182.6,272.1 L1182.9,270.8 L1183.1,269.7 L1183.6,267.2 L1184.1,264.9 L1184.7,263.2 L1185.2,261.3 L1185.8,259.5 L1186.4,257.9 L1187.0,256.4 L1187.5,255.0 L1188.1,253.8 L1188.6,252.7 L1189.1,251.6 L1190.7,249.5 L1192.1,248.8 L1193.5,248.8 L1195.0,249.6 L1196.5,251.3 L1198.0,251.9 L1199.1,251.1 L1200.2,249.7 L1201.3,247.9 L1202.5,245.6 L1203.1,244.5 L1203.8,242.9 L1204.5,240.7 L1205.1,238.9 L1205.8,236.9 L1206.5,235.2 L1207.2,234.5 L1207.8,234.0 L1208.5,234.2 L1209.1,235.9 L1209.8,237.8 L1210.4,240.1 L1211.0,242.0 L1211.6,243.8 L1212.3,244.1 L1212.9,243.5 L1213.5,242.4 L1214.2,241.1 L1214.8,239.0 L1215.4,237.0 L1216.1,235.0 L1216.7,233.3 L1217.3,232.5 L1219.5,231.3 L1221.8,230.6 L1223.1,229.5 L1224.5,227.4 L1225.9,225.2 L1227.1,225.0 L1227.8,225.1 L1228.4,225.5 L1229.0,226.8 L1229.5,228.3 L1230.1,230.7 L1230.7,233.9 L1230.9,234.9 L1231.1,236.1 L1231.3,237.6 L1231.5,239.0 L1231.7,240.4 L1231.9,242.3 L1232.1,243.8 L1232.3,245.8 L1232.5,247.5 L1232.7,249.6 L1232.9,251.7 L1233.1,253.4 L1233.3,255.3 L1233.5,257.3 L1233.7,259.1 L1234.0,260.5 L1234.2,262.2 L1234.4,264.1 L1234.6,265.7 L1234.8,267.2 L1235.0,268.6 L1235.2,269.3 L1235.8,272.4 L1236.4,274.1 L1237.0,275.0 L1237.6,276.0 L1238.2,277.3 L1238.9,278.8 L1239.6,281.6 L1239.9,282.3 L1240.1,283.7 L1240.4,285.1 L1240.7,286.4 L1241.0,287.9 L1241.3,289.5 L1241.6,291.2 L1241.9,292.8 L1242.2,294.5 L1242.6,296.3 L1242.9,297.9 L1243.2,299.7 L1243.5,301.7 L1243.8,303.5 L1244.1,305.3 L1244.4,307.3 L1244.7,308.6 L1245.0,310.5 L1245.3,312.4 L1245.6,314.2 L1245.8,315.8 L1246.1,317.4 L1246.3,319.5 L1246.6,321.4 L1246.8,323.3 L1247.1,325.5 L1247.3,327.6 L1247.5,329.8 L1247.8,332.2 L1248.0,334.5 L1248.2,336.6 L1248.5,338.2 L1248.7,340.2 L1248.9,342.2 L1249.1,343.8 L1249.3,345.4 L1249.6,346.6 L1249.8,347.6 L1250.0,348.7 L1250.2,349.5 L1250.4,349.5 L1250.6,350.0 L1250.8,349.4 L1251.0,349.0 L1251.1,348.3 L1251.3,347.2 L1251.4,346.1 L1251.6,345.1 L1251.8,343.3 L1251.9,341.6 L1252.1,340.1 L1252.2,337.9 L1252.3,335.8 L1252.5,334.1 L1252.6,332.1 L1252.8,329.8 L1252.9,327.3 L1253.1,325.6 L1253.2,323.3 L1253.4,321.4 L1253.6,319.3 L1253.7,317.6 L1253.9,315.5 L1254.1,314.0 L1254.3,312.6 L1254.5,310.9 L1254.9,308.8 L1255.3,306.6 L1255.8,304.3 L1256.2,302.1 L1256.7,299.9 L1257.2,297.6 L1257.7,295.9 L1258.1,294.4 L1258.6,292.8 L1259.1,291.6 L1259.5,290.6 L1260.0,290.4 L1260.4,290.4 L1260.7,290.8 L1261.1,290.9 L1261.4,291.9 L1261.7,293.0 L1262.0,294.1 L1262.3,295.6 L1262.6,297.2 L1262.9,299.1 L1263.2,300.8 L1263.5,303.0 L1263.8,305.2 L1264.1,307.4 L1264.4,309.6 L1264.6,312.0 L1264.9,314.2 L1265.0,315.6 L1265.2,317.1 L1265.3,318.4 L1265.4,320.4 L1265.6,322.1 L1265.7,323.7 L1265.8,326.0 L1265.9,327.7 L1266.1,330.2 L1266.2,332.2 L1266.3,334.2 L1266.4,336.3 L1266.5,338.3 L1266.7,340.3 L1266.8,342.9 L1266.9,344.8 L1267.0,346.6 L1267.1,348.7 L1267.2,350.3 L1267.4,351.8 L1267.5,353.5 L1267.6,355.0 L1267.8,356.5 L1267.9,357.3 L1268.0,358.5 L1268.2,359.1 L1268.3,359.9 L1268.5,360.2 L1268.7,360.1 L1269.0,359.9 L1269.2,359.5 L1269.5,358.3 L1269.8,357.4 L1270.0,355.8 L1270.3,353.8 L1270.6,352.2 L1270.9,349.8 L1271.2,347.7 L1271.4,345.2 L1271.7,342.9 L1272.0,340.7 L1272.3,338.5 L1272.6,336.1 L1272.9,334.1 L1273.2,332.3 L1273.5,330.4 L1273.8,329.0 L1274.2,327.0 L1274.7,324.7 L1275.1,322.5 L1275.6,320.5 L1276.0,318.5 L1276.5,316.5 L1276.9,314.8 L1277.4,312.8 L1277.8,311.3 L1278.3,310.2 L1278.7,309.3 L1279.2,308.2 L1279.6,307.8 L1280.1,308.3 L1280.7,309.4 L1281.2,310.9 L1281.7,312.2 L1282.2,315.2 L1282.7,317.3 L1283.3,319.0 L1283.8,321.6 L1284.3,322.3 L1284.8,323.2 L1286.1,324.1 L1287.3,322.0 L1288.6,320.5 L1290.0,318.2 L1291.0,316.8 L1291.9,315.3 L1292.9,313.2 L1294.0,311.7 L1295.1,311.2 L1296.2,310.3 L1297.8,310.3 L1299.5,310.4 L1301.3,311.7 L1303.0,312.1 L1304.6,313.1 L1306.9,313.4 L1309.0,313.3 L1310.8,314.1 L1312.3,315.9 L1313.6,317.5 L1315.0,318.5 L1316.7,317.3 L1318.4,315.9 L1320.2,315.1 L1321.1,315.9 L1321.9,318.2 L1322.7,320.5 L1323.6,322.2 L1324.5,323.8 L1325.4,324.7 L1326.6,324.1 L1327.7,323.1 L1329.0,321.9 L1330.3,319.9 L1331.7,319.3 L1333.3,318.6 L1335.1,318.2 L1336.9,317.3 L1338.6,316.8 L1340.0,317.7 L1341.3,318.5 L1342.2,319.9 L1343.1,321.3 L1344.2,322.1 L1345.6,323.6 L1347.2,322.8 L1348.9,324.0 L1350.4,324.3 L1351.3,325.5 L1352.2,326.3 L1353.1,327.6 L1353.9,329.3 L1354.7,330.8 L1355.6,332.5 L1356.0,333.8 L1356.4,335.3 L1356.8,336.1 L1357.3,337.6 L1357.7,338.4 L1358.1,339.4 L1358.5,341.2 L1358.9,342.9 L1359.3,344.5 L1359.7,346.6 L1360.1,348.6 L1360.5,350.8 L1360.8,353.8 L1360.9,354.9 L1361.0,356.4 L1361.2,357.1 L1361.3,359.0 L1361.4,360.8 L1361.5,362.2 L1361.6,363.7 L1361.8,365.1 L1361.9,366.9 L1362.0,369.3 L1362.1,370.7 L1362.2,373.3 L1362.3,374.5 L1362.4,376.6 L1362.5,378.7 L1362.6,380.5 L1362.7,382.9 L1362.8,384.0 L1362.9,386.6 L1363.0,387.9 L1363.1,390.5 L1363.2,391.7 L1363.3,393.8 L1363.4,396.1 L1363.4,396.9 L1363.5,398.6 L1363.6,400.1 L1363.7,402.3 L1363.7,403.0 L1363.8,404.5 L1363.8,405.9 L1363.9,407.1 L1364.0,408.1 L1364.0,408.7"/>
<path stroke="#ee2e34" d="M72.0,238.4 L72.8,238.7 L73.7,238.5 L74.7,238.4 L75.8,238.6 L76.9,238.6 L78.0,238.6 L79.2,238.6 L80.5,238.5 L81.9,238.5 L83.2,238.8 L84.7,238.6 L86.1,238.9 L87.7,239.0 L89.2,239.0 L90.8,239.1 L92.5,238.6 L94.2,238.6 L95.9,239.0 L97.6,238.9 L99.4,238.7 L101.2,239.0 L103.1,239.2 L104.9,239.1 L106.8,238.7 L108.7,238.8 L110.7,238.6 L112.6,239.3 L114.6,238.8 L116.5,239.2 L118.5,239.1 L120.5,239.1 L122.5,239.1 L124.5,239.3 L126.5,239.2 L128.5,239.0 L130.5,238.9 L132.5,239.2 L134.5,239.5 L136.5,239.0 L138.4,239.4 L140.4,239.3 L142.3,239.0 L144.2,239.1 L146.1,239.4 L148.0,239.3 L149.9,239.3 L151.7,239.4 L153.5,239.1 L155.3,239.5 L157.1,239.5 L158.8,239.5 L160.5,239.3 L162.1,239.7 L163.7,239.7 L165.3,239.5 L166.8,239.2 L168.3,239.3 L169.7,239.3 L171.1,239.3 L172.4,239.7 L173.6,239.6 L174.9,239.4 L176.0,239.9 L177.1,239.7 L178.1,239.9 L179.1,239.9 L180.0,239.8 L188.1,239.9 L190.6,240.4 L189.9,239.9 L188.2,240.4 L188.0,240.7 L190.5,240.8 L192.5,241.4 L194.5,241.3 L197.0,241.8 L197.8,241.9 L198.3,242.1 L199.1,242.4 L201.1,242.2 L205.0,242.5 L206.1,242.9 L207.2,242.5 L208.6,242.5 L210.0,243.1 L211.5,242.9 L213.2,242.5 L214.9,243.0 L216.7,242.7 L218.5,242.8 L220.4,243.3 L222.3,243.3 L224.3,243.2 L226.2,243.3 L228.2,243.4 L230.2,243.3 L232.1,243.1 L234.0,243.7 L235.9,243.7 L237.7,243.5 L239.5,243.5 L241.2,243.7 L242.7,243.7 L244.2,243.7 L245.6,244.0 L246.9,244.1 L248.0,243.6 L251.3,243.6 L253.7,244.0 L255.4,244.1 L256.5,243.8 L257.5,243.5 L258.6,243.3 L260.0,243.8 L261.6,243.8 L263.3,243.8 L264.9,243.7 L266.4,243.9 L268.0,243.9 L269.6,244.4 L271.2,244.6 L272.6,245.1 L273.9,246.1 L275.3,246.8 L276.6,247.8 L278.0,248.4 L279.4,249.7 L280.8,251.1 L282.3,252.3 L283.3,253.4 L284.3,254.8 L285.3,256.2 L286.4,257.5 L287.5,258.8 L288.6,260.3 L289.7,261.8 L290.8,263.4 L291.8,264.9 L292.9,265.8 L293.9,267.4 L294.8,268.4 L295.7,269.0 L297.4,270.5 L298.7,271.4 L300.0,272.0 L301.3,272.4 L302.8,272.8 L304.6,273.8 L305.9,274.2 L307.4,274.7 L309.0,275.8 L310.6,276.5 L312.3,276.9 L314.0,277.8 L315.7,278.4 L317.3,278.8 L318.9,278.9 L320.3,279.4 L322.1,279.5 L323.7,279.4 L325.3,279.1 L326.7,278.2 L328.2,277.9 L329.7,276.7 L331.4,275.8 L332.6,275.1 L333.9,274.2 L335.3,273.1 L336.6,272.1 L338.0,270.8 L339.3,269.6 L340.7,268.3 L342.1,267.0 L343.4,265.6 L344.8,264.9 L346.1,264.0 L347.5,262.5 L348.9,261.9 L350.3,260.3 L351.6,259.5 L353.0,258.7 L354.3,257.8 L355.7,257.0 L356.9,256.2 L358.2,255.7 L359.9,255.3 L361.5,255.7 L363.0,255.8 L364.6,256.4 L366.1,257.1 L367.7,257.2 L369.4,256.8 L370.8,256.4 L372.2,255.8 L373.7,254.5 L375.2,253.3 L376.7,252.0 L378.3,251.1 L379.8,250.0 L381.3,249.3 L382.8,248.9 L384.3,249.2 L385.8,249.8 L387.4,250.3 L388.9,251.3 L390.4,252.1 L391.9,253.3 L393.4,253.8 L394.8,254.7 L396.2,254.5 L397.9,254.6 L399.5,254.1 L401.0,253.0 L402.5,251.9 L404.0,251.0 L405.6,250.7 L407.3,250.5 L408.7,250.3 L410.1,250.8 L411.5,251.6 L413.0,252.3 L414.5,252.6 L416.0,253.6 L417.6,254.3 L419.1,254.9 L420.7,255.9 L422.2,256.4 L423.8,256.8 L425.5,257.8 L427.2,258.2 L428.9,258.8 L430.6,259.4 L432.1,259.9 L433.6,260.7 L434.9,260.8 L436.0,261.3 L438.4,261.3 L439.5,260.5 L440.7,259.7 L442.3,258.0 L443.8,256.1 L445.4,255.7 L446.6,255.9 L447.8,257.3 L449.0,259.0 L450.1,261.0 L450.5,262.0 L450.9,263.8 L451.3,264.9 L451.7,266.8 L452.1,268.3 L452.5,270.2 L452.9,271.9 L453.2,273.2 L453.6,275.0 L454.0,276.7 L454.4,278.2 L454.8,280.2 L455.2,281.6 L455.6,283.4 L455.9,285.1 L456.3,286.7 L456.7,288.7 L457.1,289.8 L457.5,291.3 L457.9,292.2 L459.2,294.3 L460.5,294.9 L461.8,297.3 L462.1,298.0 L462.5,299.6 L462.8,301.1 L463.1,302.6 L463.4,304.5 L463.8,306.2 L464.1,308.2 L464.4,310.2 L464.7,312.1 L465.1,313.7 L465.4,315.5 L465.7,317.6 L466.0,319.1 L466.4,321.2 L466.7,323.4 L467.0,325.6 L467.3,327.9 L467.7,329.9 L468.0,332.1 L468.3,334.0 L468.6,335.7 L469.0,336.7 L469.3,337.3 L469.6,337.6 L469.9,337.3 L470.2,336.5 L470.6,335.5 L470.9,334.0 L471.2,332.5 L471.5,330.4 L471.8,328.4 L472.1,325.9 L472.5,323.5 L472.8,321.5 L473.1,319.4 L473.5,317.6 L473.8,315.7 L474.1,314.3 L474.5,312.7 L474.8,310.6 L475.1,308.9 L475.5,306.9 L475.8,305.4 L476.1,303.4 L476.5,302.0 L476.8,300.3 L477.2,298.6 L477.5,297.0 L477.9,295.1 L478.2,294.1 L478.7,292.1 L479.2,290.3 L479.6,288.5 L480.1,286.6 L480.6,285.1 L481.1,283.2 L481.5,282.2 L482.0,280.7 L482.5,279.5 L482.9,278.3 L484.3,275.5 L485.5,273.7 L486.8,273.8 L487.6,274.3 L488.4,275.4 L489.2,277.4 L490.0,279.3 L490.7,281.4 L491.1,282.9 L491.5,284.1 L491.8,285.8 L492.2,287.3 L492.5,288.9 L492.8,290.6 L493.2,292.4 L493.5,293.8 L493.8,295.3 L494.2,297.5 L494.5,300.1 L494.8,302.2 L495.2,304.7 L495.5,306.3 L495.8,307.8 L496.2,307.8 L496.5,307.8 L496.8,307.0 L497.2,305.8 L497.5,304.1 L497.9,302.2 L498.2,300.5 L498.6,298.0 L499.0,296.1 L499.3,293.9 L499.5,292.3 L499.7,290.9 L499.9,289.2 L500.2,287.7 L500.4,285.6 L500.6,284.1 L500.8,281.9 L501.0,280.0 L501.2,278.5 L501.5,276.9 L501.7,275.0 L501.9,273.2 L502.2,272.1 L502.4,270.6 L502.8,268.1 L503.3,266.3 L503.7,264.7 L504.2,263.2 L504.6,261.8 L505.1,260.6 L505.7,259.2 L506.3,258.2 L507.3,256.2 L508.3,254.8 L509.5,253.8 L510.8,252.9 L512.6,251.7 L513.8,250.9 L515.0,250.6 L516.2,250.1 L517.6,250.1 L519.2,249.4 L521.0,249.2 L523.3,249.0 L526.0,248.3 L527.2,248.2 L528.5,248.4 L529.9,248.1 L531.3,247.9 L532.9,248.3 L534.5,248.2 L536.1,248.0 L537.8,247.6 L539.6,248.0 L541.3,248.1 L543.1,247.4 L544.9,247.7 L546.7,247.2 L548.5,247.1 L550.3,247.2 L552.0,247.6 L553.8,247.1 L555.4,247.1 L557.0,247.3 L558.5,246.8 L560.0,246.7 L561.7,246.4 L563.3,246.3 L564.7,246.4 L565.9,246.4 L567.1,246.3 L568.3,245.6 L569.4,245.7 L570.5,245.2 L571.8,245.2 L573.1,244.6 L574.6,245.1 L576.2,244.8 L578.1,244.6 L580.3,244.4 L582.7,244.1 L585.5,244.3 L586.6,244.1 L587.8,244.2 L589.1,243.8 L590.4,243.8 L591.8,244.1 L593.3,243.8 L594.7,243.6 L596.3,243.7 L597.9,243.8 L599.5,243.6 L601.1,243.5 L602.8,243.9 L604.5,243.7 L606.3,243.7 L608.1,243.8 L609.9,243.4 L611.7,243.7 L613.5,244.0 L615.3,243.5 L617.2,243.8 L619.1,243.4 L620.9,243.5 L622.8,243.6 L624.6,243.4 L626.5,243.4 L628.3,243.5 L630.1,243.6 L632.0,243.5 L633.7,243.6 L635.5,243.5 L637.3,243.7 L639.0,243.9 L640.6,243.7 L642.3,243.6 L643.9,244.0 L645.5,243.9 L647.0,243.8 L648.5,243.7 L649.9,244.2 L651.3,243.7 L652.6,244.3 L653.8,243.9 L655.0,244.4 L657.7,243.9 L660.2,244.6 L662.5,244.7 L664.7,245.0 L666.8,245.1 L668.7,245.6 L670.5,245.9 L672.2,246.3 L673.7,246.8 L675.2,247.2 L676.6,247.3 L677.9,247.5 L679.2,247.9 L680.4,248.6 L681.5,248.7 L682.6,249.0 L683.7,249.4 L684.7,249.4 L688.1,249.6 L689.9,249.5 L690.8,249.2 L692.0,250.2 L693.0,250.8 L693.9,252.4 L694.8,253.9 L695.7,255.5 L696.5,257.2 L697.4,259.2 L697.9,260.7 L698.5,261.9 L699.0,263.5 L699.5,264.9 L700.0,266.4 L700.5,268.4 L701.1,270.1 L701.6,271.8 L702.2,273.6 L702.8,275.6 L703.2,276.9 L703.7,278.6 L704.2,280.1 L704.7,282.0 L705.2,284.3 L705.7,286.2 L706.2,288.0 L706.7,290.2 L707.2,291.8 L707.6,293.4 L708.1,294.9 L708.6,295.7 L709.1,296.7 L709.5,296.9 L710.1,296.9 L710.6,296.2 L711.2,294.8 L711.7,293.2 L712.2,291.4 L712.7,289.2 L713.2,286.9 L713.8,284.7 L714.3,282.5 L714.8,280.8 L715.3,279.3 L715.9,277.6 L716.4,276.1 L716.9,273.9 L717.4,272.3 L717.9,270.7 L718.5,269.5 L719.0,267.9 L719.6,266.0 L720.2,264.5 L721.0,262.9 L721.8,261.4 L722.6,259.7 L723.5,258.0 L724.3,256.7 L725.2,255.2 L726.1,253.5 L726.9,252.5 L728.6,251.3 L730.3,250.3 L731.9,249.6 L733.6,248.7 L735.2,248.1 L736.7,247.0 L738.2,246.5 L740.0,245.8 L740.9,246.0 L742.0,245.8 L743.1,245.5 L744.2,245.2 L745.3,245.1 L746.4,245.0 L747.4,244.4 L748.3,243.9 L749.0,244.9 L750.2,243.6 L750.7,241.5 L751.4,241.7 L751.7,242.2 L752.1,243.5 L752.4,243.7 L752.8,245.4 L753.2,245.6 L753.6,248.1 L754.1,248.8 L754.6,249.4 L755.2,250.5 L755.9,251.6 L756.6,252.1 L757.4,252.2 L758.3,252.6 L759.2,253.2 L760.1,255.0 L761.0,256.4 L762.0,254.7 L762.9,256.8 L763.9,256.8 L765.0,255.7 L766.1,256.2 L767.2,255.3 L768.3,257.0 L769.4,256.0 L770.4,257.0 L771.3,255.2 L772.1,254.9 L772.8,254.6 L773.2,254.5 L773.4,252.7 L773.5,251.8 L773.8,249.8 L774.3,248.0 L775.2,247.3 L775.9,248.9 L776.7,245.6 L777.6,248.0 L778.5,246.6 L779.5,245.6 L780.6,245.6 L781.7,245.1 L782.8,246.0 L784.0,245.7 L785.2,246.2 L786.3,244.5 L787.5,244.9 L788.4,242.8 L789.4,245.4 L790.4,241.9 L791.4,246.4 L792.4,246.9 L793.4,244.6 L794.4,243.1 L795.5,243.6 L796.5,246.0 L797.6,243.0 L798.6,244.8 L799.7,243.3 L800.7,243.7 L801.8,243.9 L802.8,248.1 L803.8,247.2 L804.9,245.4 L805.9,246.3 L807.0,243.0 L808.1,245.8 L809.2,242.9 L810.3,244.9 L811.3,242.8 L812.4,245.0 L813.4,240.5 L814.4,240.2 L815.4,244.2 L816.4,243.8 L817.3,241.2 L818.2,240.2 L819.2,242.5 L820.2,242.7 L821.1,242.7 L821.9,245.6 L822.7,242.4 L823.5,244.7 L824.2,246.8 L825.0,246.8 L825.9,247.1 L826.8,248.7 L827.8,246.9 L828.9,249.0 L829.8,246.9 L830.7,248.2 L831.7,247.2 L832.7,249.0 L833.8,248.2 L834.9,251.7 L836.0,251.6 L837.1,248.4 L838.2,248.8 L839.3,251.6 L840.4,251.7 L841.5,251.6 L842.6,251.8 L843.7,250.0 L844.8,251.6 L845.8,250.8 L846.9,249.1 L848.0,249.3 L849.0,249.0 L850.1,249.8 L851.2,248.6 L852.2,247.5 L853.3,248.2 L854.3,246.8 L855.4,247.0 L856.4,245.9 L857.4,245.9 L858.3,245.8 L859.3,244.4 L860.2,245.5 L861.1,245.7 L862.2,244.3 L863.3,244.5 L864.3,245.2 L865.2,244.9 L866.1,244.5 L867.0,245.1 L867.9,245.2 L868.8,246.7 L869.8,246.6 L870.8,245.8 L872.0,246.7 L872.9,247.6 L873.8,247.1 L874.8,247.2 L875.8,247.7 L876.8,248.1 L877.9,248.7 L879.0,249.1 L880.1,249.5 L881.1,249.8 L882.2,249.7 L883.3,250.4 L884.3,250.7 L885.2,250.8 L886.2,251.0 L887.0,251.5 L887.8,251.7 L890.0,252.7 L891.9,253.2 L893.5,253.5 L894.8,254.1 L896.0,254.2 L897.8,254.7 L898.9,255.7 L899.4,256.4 L899.8,257.2 L900.3,258.4 L900.7,260.8 L901.2,264.8 L901.3,265.7 L901.4,267.1 L901.5,268.2 L901.6,269.4 L901.7,270.4 L901.8,271.4 L901.9,273.1 L902.0,274.1 L902.1,275.7 L902.2,277.1 L902.3,278.8 L902.4,280.3 L902.5,282.1 L902.6,283.8 L902.7,285.2 L902.8,286.9 L902.9,288.9 L903.0,290.9 L903.1,292.8 L903.2,294.5 L903.3,296.4 L903.5,298.4 L903.6,300.7 L903.7,302.6 L903.8,305.1 L904.0,307.4 L904.1,309.5 L904.2,310.7 L904.3,312.2 L904.3,313.5 L904.4,314.9 L904.5,316.3 L904.6,317.8 L904.7,319.2 L904.7,320.7 L904.8,322.6 L904.9,323.9 L905.0,325.8 L905.1,327.4 L905.2,329.3 L905.3,331.0 L905.3,332.9 L905.4,334.5 L905.5,336.2 L905.6,337.9 L905.7,339.7 L905.8,341.6 L905.9,343.5 L906.0,345.3 L906.1,347.0 L906.2,348.8 L906.3,351.0 L906.4,352.7 L906.5,354.3 L906.5,356.1 L906.6,358.0 L906.7,359.6 L906.8,361.7 L906.9,363.4 L907.0,365.1 L907.1,366.9 L907.2,368.6 L907.3,370.2 L907.4,372.0 L907.5,373.5 L907.6,374.8 L907.8,376.7 L907.9,378.3 L908.0,379.7 L908.1,380.7 L908.2,382.5 L908.3,383.7 L908.4,384.9 L908.5,386.3 L908.6,387.4 L908.7,388.7 L909.0,391.5 L909.3,394.2 L909.6,396.6 L909.9,398.7 L910.2,400.5 L910.6,402.7 L910.9,404.4 L911.2,406.0 L911.6,407.6 L911.9,408.9 L912.2,410.0 L912.6,411.2 L912.9,412.3 L913.3,413.8 L913.6,414.6 L913.9,415.7 L914.3,417.3 L914.6,418.3 L915.3,420.7 L916.0,423.2 L916.7,424.9 L917.3,427.1 L918.0,428.7 L918.7,430.3 L919.4,430.9 L920.0,431.5 L920.6,431.7 L921.0,431.4 L921.4,430.5 L921.8,429.2 L922.2,427.9 L922.5,426.3 L922.9,424.6 L923.2,422.7 L923.6,420.8 L923.9,418.8 L924.3,416.5 L924.6,414.4 L925.0,412.5 L925.2,410.8 L925.5,409.7 L925.7,407.9 L925.9,406.5 L926.0,405.3 L926.2,403.6 L926.4,402.0 L926.6,400.4 L926.8,398.6 L927.0,397.1 L927.2,395.3 L927.4,393.5 L927.7,392.0 L928.0,390.2 L928.3,388.1 L928.7,386.2 L929.1,384.3 L929.5,382.3 L929.8,381.0 L930.2,379.8 L930.5,378.3 L930.9,376.8 L931.3,375.6 L931.7,374.2 L932.2,372.7 L932.6,371.2 L933.1,369.6 L933.6,368.0 L934.0,366.5 L934.5,364.7 L935.0,363.4 L935.5,361.4 L936.0,360.2 L936.5,358.3 L937.0,357.0 L937.5,355.4 L938.0,353.8 L938.5,352.1 L938.9,350.4 L939.4,348.7 L939.8,347.0 L940.2,345.8 L940.6,343.9 L941.0,342.4 L941.4,340.8 L941.8,339.1 L942.1,337.5 L942.4,335.9 L942.8,333.8 L943.1,331.8 L943.4,329.6 L943.7,327.9 L944.0,325.7 L944.3,323.5 L944.5,321.4 L944.8,319.5 L945.1,317.6 L945.3,315.2 L945.6,313.6 L945.9,311.4 L946.1,309.5 L946.4,307.9 L946.6,306.0 L946.8,304.5 L947.1,303.4 L947.3,302.2 L947.6,300.7 L947.8,299.8 L948.1,299.1 L948.3,298.4 L948.6,297.8 L948.8,297.6 L949.1,297.9 L949.4,297.9 L949.7,298.3 L949.9,299.1 L950.2,300.1 L950.5,301.2 L950.7,302.3 L951.0,303.7 L951.3,305.2 L951.5,307.1 L951.8,308.8 L952.0,310.5 L952.3,312.5 L952.5,314.6 L952.8,316.9 L953.0,319.0 L953.3,321.3 L953.5,323.6 L953.8,325.7 L954.0,327.9 L954.3,330.3 L954.5,332.5 L954.8,334.8 L955.0,335.9 L955.1,337.6 L955.3,339.0 L955.4,340.7 L955.6,342.5 L955.7,344.4 L955.9,346.5 L956.0,348.6 L956.2,350.5 L956.4,352.6 L956.5,354.9 L956.7,356.8 L956.8,359.2 L957.0,361.5 L957.1,363.6 L957.3,365.8 L957.5,368.2 L957.6,370.3 L957.8,372.7 L957.9,374.6 L958.1,376.8 L958.2,379.1 L958.4,380.8 L958.5,382.8 L958.7,384.6 L958.8,386.2 L959.0,387.9 L959.1,389.6 L959.3,390.8 L959.4,392.5 L959.6,393.8 L959.7,394.7 L959.9,395.7 L960.0,396.4 L960.2,396.9 L960.3,397.1 L960.4,397.5 L960.6,397.7 L960.7,397.4 L960.8,397.4 L960.9,396.8 L961.0,396.1 L961.1,395.6 L961.2,394.8 L961.3,394.2 L961.4,393.2 L961.5,391.9 L961.5,391.0 L961.6,390.0 L961.7,388.4 L961.8,387.0 L961.9,385.6 L962.0,384.3 L962.1,382.7 L962.1,380.8 L962.2,379.2 L962.3,377.4 L962.4,375.7 L962.5,373.6 L962.5,372.0 L962.6,369.8 L962.7,367.8 L962.8,365.7 L962.9,363.7 L962.9,361.9 L963.0,359.7 L963.1,357.4 L963.2,355.7 L963.3,353.5 L963.4,351.3 L963.4,349.2 L963.5,347.2 L963.6,344.9 L963.7,343.1 L963.8,340.7 L963.8,338.7 L963.9,336.8 L964.0,334.8 L964.1,332.8 L964.2,331.0 L964.3,329.3 L964.4,327.3 L964.4,325.8 L964.5,323.9 L964.6,322.2 L964.7,321.0 L964.8,319.4 L964.9,317.8 L965.0,316.4 L965.1,315.4 L965.2,314.2 L965.5,311.2 L965.7,308.4 L966.0,306.1 L966.2,303.4 L966.5,300.7 L966.8,298.2 L967.1,295.8 L967.3,293.6 L967.6,291.6 L967.9,289.3 L968.2,287.6 L968.5,285.6 L968.8,284.3 L969.1,283.0 L969.4,281.5 L969.7,280.7 L970.0,280.4 L970.2,279.8 L970.5,279.7 L970.8,279.6 L971.1,279.7 L971.3,280.3 L971.4,280.9 L971.6,281.3 L971.8,281.9 L972.0,282.6 L972.1,283.8 L972.3,284.7 L972.5,285.7 L972.7,287.0 L972.8,288.2 L973.0,289.5 L973.2,291.1 L973.4,292.5 L973.5,294.2 L973.7,295.6 L973.9,297.2 L974.0,299.0 L974.2,301.1 L974.4,303.0 L974.6,304.8 L974.7,306.7 L974.9,308.9 L975.1,310.6 L975.3,312.8 L975.4,314.8 L975.6,316.8 L975.8,319.4 L976.0,321.4 L976.1,323.5 L976.3,325.6 L976.5,328.0 L976.7,330.4 L976.8,332.6 L977.0,334.7 L977.1,336.1 L977.2,337.3 L977.3,338.8 L977.4,340.1 L977.5,341.3 L977.6,342.8 L977.7,343.9 L977.8,345.6 L977.9,346.8 L978.0,348.3 L978.1,349.9 L978.2,351.5 L978.3,352.8 L978.4,354.3 L978.5,356.0 L978.6,357.6 L978.7,359.2 L978.8,360.8 L978.9,362.0 L979.0,363.8 L979.1,365.2 L979.2,367.1 L979.3,368.7 L979.4,370.6 L979.5,371.8 L979.6,373.5 L979.7,375.3 L979.8,376.8 L979.9,378.6 L980.0,380.7 L980.1,382.0 L980.2,384.0 L980.3,385.7 L980.4,387.1 L980.5,388.9 L980.6,390.6 L980.7,392.5 L980.8,394.2 L980.9,395.7 L981.0,397.7 L981.1,399.1 L981.2,401.1 L981.3,402.7 L981.4,404.7 L981.5,406.4 L981.6,408.1 L981.7,409.6 L981.8,411.7 L981.9,413.1 L982.0,414.8 L982.1,416.8 L982.2,418.2 L982.3,419.7 L982.4,421.8 L982.4,423.3 L982.5,425.1 L982.6,426.6 L982.7,428.2 L982.8,430.0 L982.9,431.6 L983.0,433.1 L983.1,434.5 L983.2,436.3 L983.3,438.0 L983.4,439.8 L983.4,441.1 L983.5,443.3 L983.6,444.9 L983.7,446.5 L983.8,448.0 L983.9,450.0 L984.0,451.5 L984.1,453.4 L984.1,455.1 L984.2,457.0 L984.3,458.8 L984.4,460.5 L984.5,462.3 L984.6,463.9 L984.7,465.8 L984.7,467.6 L984.8,469.5 L984.9,471.5 L985.0,472.9 L985.1,474.8 L985.2,476.6 L985.3,478.4 L985.3,480.0 L985.4,482.0 L985.5,483.9 L985.6,485.3 L985.7,487.3 L985.7,488.8 L985.8,490.7 L985.9,492.4 L986.0,494.0 L986.1,495.7 L986.2,497.3 L986.2,499.3 L986.3,500.8 L986.4,502.4 L986.5,504.1 L986.5,505.5 L986.6,507.1 L986.7,508.4 L986.8,510.1 L986.9,511.9 L986.9,513.1 L987.0,514.7 L987.1,515.9 L987.2,517.6 L987.2,518.9 L987.3,520.1 L987.4,521.4 L987.5,522.8 L987.6,524.2 L987.6,525.4 L987.7,526.4 L987.8,527.5 L987.9,528.7 L987.9,529.7 L988.0,530.7 L988.3,534.5 L988.5,538.1 L988.7,541.3 L989.0,544.9 L989.2,548.0 L989.4,550.7 L989.6,553.2 L989.8,555.9 L990.1,558.0 L990.3,559.6 L990.5,560.5 L990.7,561.7 L990.9,562.2 L991.2,561.8 L991.4,561.5 L991.7,559.9 L992.0,558.6 L992.1,557.6 L992.2,557.1 L992.2,556.4 L992.3,555.8 L992.4,554.8 L992.5,554.0 L992.6,552.5 L992.7,551.8 L992.8,550.7 L992.9,549.3 L993.0,548.2 L993.1,546.9 L993.2,545.6 L993.3,544.5 L993.4,543.0 L993.4,541.6 L993.5,539.8 L993.6,538.4 L993.7,537.1 L993.8,535.1 L993.9,533.5 L994.1,531.8 L994.2,530.4 L994.3,528.6 L994.4,526.7 L994.5,524.9 L994.6,523.1 L994.7,521.3 L994.8,519.5 L994.9,517.7 L995.0,516.0 L995.1,514.0 L995.2,511.9 L995.3,510.3 L995.4,508.1 L995.5,506.1 L995.6,504.1 L995.7,502.2 L995.8,500.4 L995.9,498.3 L996.0,496.3 L996.1,494.4 L996.2,492.8 L996.3,491.0 L996.4,488.7 L996.5,487.0 L996.6,485.1 L996.7,483.1 L996.8,481.5 L996.9,479.3 L997.0,477.4 L997.1,475.8 L997.2,474.1 L997.3,472.4 L997.4,470.6 L997.5,468.8 L997.6,467.1 L997.6,465.5 L997.7,464.1 L997.8,462.5 L997.9,460.8 L998.0,459.3 L998.1,457.4 L998.2,455.7 L998.3,453.8 L998.4,452.0 L998.5,450.3 L998.6,448.7 L998.6,446.9 L998.7,444.7 L998.8,443.1 L998.9,441.1 L999.0,439.7 L999.1,437.5 L999.2,435.9 L999.3,434.3 L999.4,432.3 L999.4,430.7 L999.5,428.4 L999.6,427.0 L999.7,425.3 L999.8,423.0 L999.9,421.5 L999.9,419.9 L1000.0,418.1 L1000.1,416.0 L1000.2,414.6 L1000.3,412.6 L1000.4,410.8 L1000.4,409.0 L1000.5,407.6 L1000.6,405.9 L1000.7,404.1 L1000.8,402.5 L1000.8,401.0 L1000.9,399.1 L1001.0,397.7 L1001.1,396.1 L1001.1,394.7 L1001.2,392.9 L1001.3,391.4 L1001.4,389.8 L1001.4,388.5 L1001.5,387.2 L1001.6,385.9 L1001.7,384.6 L1001.7,382.9 L1001.8,382.0 L1001.9,380.2 L1001.9,379.4 L1002.0,377.9 L1002.1,376.9 L1002.2,375.9 L1002.2,374.9 L1002.3,373.6 L1002.5,370.0 L1002.8,366.8 L1003.0,364.2 L1003.2,362.0 L1003.4,359.9 L1003.6,358.1 L1003.8,356.2 L1004.0,354.9 L1004.2,354.0 L1004.4,353.1 L1004.6,352.0 L1004.8,351.5 L1005.0,350.7 L1005.2,350.2 L1005.4,349.8 L1006.0,349.9 L1006.6,352.1 L1007.2,355.3 L1007.9,358.2 L1008.9,358.8 L1009.4,358.1 L1010.0,357.1 L1010.7,355.7 L1011.3,353.9 L1012.0,352.0 L1012.8,350.4 L1013.5,348.5 L1014.3,346.7 L1015.0,344.9 L1015.7,343.3 L1016.4,342.2 L1018.4,339.8 L1020.4,337.8 L1022.3,337.4 L1023.8,340.6 L1024.0,341.4 L1024.1,342.7 L1024.3,343.7 L1024.4,344.8 L1024.6,345.8 L1024.7,346.9 L1024.8,348.6 L1024.9,349.7 L1025.1,351.0 L1025.2,352.6 L1025.3,354.1 L1025.4,355.8 L1025.5,357.5 L1025.5,359.0 L1025.6,361.1 L1025.7,362.7 L1025.8,364.5 L1025.9,366.3 L1025.9,368.6 L1026.0,370.1 L1026.1,372.4 L1026.2,374.3 L1026.3,376.1 L1026.3,378.3 L1026.4,380.3 L1026.5,382.6 L1026.6,384.6 L1026.7,386.3 L1026.8,388.4 L1026.9,389.9 L1026.9,391.4 L1027.0,393.2 L1027.1,394.4 L1027.1,396.6 L1027.2,398.2 L1027.3,400.0 L1027.3,401.7 L1027.4,403.9 L1027.5,406.1 L1027.5,408.1 L1027.6,410.3 L1027.7,412.2 L1027.7,414.5 L1027.8,416.5 L1027.9,418.9 L1027.9,420.7 L1028.0,423.0 L1028.1,425.2 L1028.1,427.2 L1028.2,429.4 L1028.2,431.7 L1028.3,433.7 L1028.4,435.7 L1028.4,437.9 L1028.5,439.6 L1028.6,441.7 L1028.6,443.4 L1028.7,445.1 L1028.8,446.8 L1028.8,448.6 L1028.9,449.8 L1029.0,451.3 L1029.0,452.6 L1029.1,454.3 L1029.2,455.0 L1029.2,456.1 L1029.3,456.9 L1029.4,457.8 L1029.4,458.7 L1029.5,458.9 L1029.6,459.4 L1029.6,459.5 L1029.7,459.9 L1029.8,459.6 L1029.8,459.6 L1029.9,459.0 L1030.0,458.7 L1030.0,458.1 L1030.1,457.1 L1030.2,456.3 L1030.2,455.1 L1030.3,454.2 L1030.3,452.7 L1030.4,451.4 L1030.5,450.1 L1030.5,448.2 L1030.6,446.7 L1030.7,445.3 L1030.7,443.2 L1030.8,441.6 L1030.8,439.8 L1030.9,437.8 L1031.0,435.9 L1031.0,433.7 L1031.1,431.3 L1031.2,429.4 L1031.2,427.6 L1031.3,425.3 L1031.4,422.9 L1031.4,420.9 L1031.5,418.6 L1031.6,416.6 L1031.6,414.4 L1031.7,412.3 L1031.8,410.2 L1031.8,408.1 L1031.9,406.1 L1032.0,404.1 L1032.1,402.2 L1032.1,400.2 L1032.2,398.1 L1032.3,396.6 L1032.4,394.4 L1032.5,393.2 L1032.5,391.6 L1032.6,389.7 L1032.7,388.4 L1032.8,386.5 L1033.0,384.3 L1033.1,382.4 L1033.2,380.6 L1033.4,378.3 L1033.5,376.5 L1033.7,374.2 L1033.8,372.4 L1033.9,370.3 L1034.1,368.9 L1034.2,366.7 L1034.4,364.7 L1034.5,363.2 L1034.7,361.7 L1034.8,359.5 L1035.0,358.0 L1035.2,356.4 L1035.3,354.7 L1035.5,353.1 L1035.7,351.6 L1035.8,350.4 L1036.0,348.8 L1036.2,347.4 L1036.3,346.3 L1036.5,345.0 L1036.7,344.1 L1036.8,342.6 L1037.0,341.9 L1037.2,340.6 L1038.3,336.9 L1039.5,335.7 L1040.7,335.6 L1041.9,335.9 L1043.1,334.7 L1043.8,333.6 L1044.5,331.7 L1045.2,329.8 L1045.9,328.1 L1046.6,326.0 L1047.3,324.3 L1048.1,323.6 L1049.0,323.1 L1049.9,322.9 L1050.9,323.1 L1051.9,323.5 L1053.0,324.5 L1054.1,325.3 L1055.2,327.0 L1056.2,329.2 L1057.2,331.4 L1058.0,334.8 L1058.2,336.0 L1058.4,337.0 L1058.6,338.2 L1058.8,339.4 L1058.9,340.5 L1059.1,341.9 L1059.2,343.2 L1059.4,344.8 L1059.5,346.3 L1059.7,347.6 L1059.8,349.1 L1059.9,350.9 L1060.1,352.5 L1060.2,354.3 L1060.3,356.0 L1060.4,357.5 L1060.5,359.3 L1060.7,361.1 L1060.8,362.9 L1060.9,364.7 L1061.0,366.4 L1061.1,368.4 L1061.2,370.3 L1061.3,372.1 L1061.5,374.0 L1061.6,375.6 L1061.7,377.4 L1061.8,379.2 L1061.9,381.3 L1062.1,383.1 L1062.2,385.1 L1062.4,386.8 L1062.5,388.7 L1062.6,390.2 L1062.7,391.4 L1062.9,393.5 L1063.0,394.8 L1063.1,397.1 L1063.3,398.6 L1063.4,400.5 L1063.5,402.9 L1063.6,404.8 L1063.8,406.8 L1063.9,408.9 L1064.0,411.2 L1064.2,413.2 L1064.3,415.2 L1064.4,417.4 L1064.6,419.6 L1064.7,421.4 L1064.8,423.7 L1065.0,425.8 L1065.1,427.7 L1065.2,429.6 L1065.4,431.7 L1065.5,433.8 L1065.7,435.7 L1065.8,437.4 L1065.9,439.0 L1066.1,440.9 L1066.2,442.1 L1066.3,443.8 L1066.5,445.1 L1066.6,446.4 L1066.7,447.6 L1066.9,448.8 L1067.0,449.8 L1067.1,450.4 L1067.3,451.2 L1067.4,451.5 L1067.5,452.1 L1067.7,452.3 L1067.8,452.6 L1067.9,452.5 L1068.1,452.1 L1068.2,451.5 L1068.3,451.3 L1068.4,450.1 L1068.6,449.3 L1068.7,448.4 L1068.8,447.1 L1068.9,445.9 L1069.0,444.5 L1069.2,442.9 L1069.3,441.3 L1069.4,439.7 L1069.5,437.9 L1069.7,436.2 L1069.8,434.5 L1069.9,432.5 L1070.0,430.5 L1070.1,428.2 L1070.3,426.0 L1070.4,424.1 L1070.5,422.1 L1070.6,419.9 L1070.7,417.7 L1070.9,415.6 L1071.0,413.3 L1071.1,411.2 L1071.3,409.1 L1071.4,407.0 L1071.5,405.0 L1071.6,403.1 L1071.8,401.0 L1071.9,399.1 L1072.0,397.2 L1072.2,395.4 L1072.3,394.0 L1072.5,392.5 L1072.6,390.8 L1072.8,389.6 L1072.9,388.5 L1073.2,386.0 L1073.6,383.5 L1073.9,381.3 L1074.3,379.0 L1074.7,376.7 L1075.1,374.7 L1075.4,372.4 L1075.8,370.8 L1076.2,368.9 L1076.6,367.2 L1077.0,365.8 L1077.4,364.5 L1077.8,363.5 L1078.2,362.2 L1078.6,361.4 L1078.9,360.7 L1079.3,360.5 L1079.7,360.1 L1080.2,360.1 L1080.6,360.3 L1081.1,360.6 L1081.6,361.5 L1082.0,362.3 L1082.5,363.9 L1083.0,365.2 L1083.4,366.9 L1083.9,369.0 L1084.3,371.3 L1084.8,373.7 L1085.3,376.4 L1085.7,379.3 L1086.2,382.5 L1086.4,383.7 L1086.5,384.6 L1086.7,385.9 L1086.8,387.3 L1087.0,388.5 L1087.1,389.7 L1087.3,391.0 L1087.4,392.6 L1087.6,393.9 L1087.8,395.5 L1087.9,396.8 L1088.1,398.2 L1088.3,400.0 L1088.4,401.8 L1088.6,403.3 L1088.7,404.8 L1088.9,406.3 L1089.1,408.0 L1089.2,409.8 L1089.4,411.8 L1089.6,413.2 L1089.7,415.2 L1089.9,416.7 L1090.0,418.9 L1090.2,420.4 L1090.4,422.1 L1090.5,423.9 L1090.7,425.7 L1090.8,427.7 L1091.0,429.2 L1091.1,431.2 L1091.3,432.7 L1091.4,434.6 L1091.6,436.3 L1091.7,438.3 L1091.9,439.8 L1092.0,441.5 L1092.2,443.2 L1092.3,445.1 L1092.5,446.9 L1092.6,448.4 L1092.7,450.2 L1092.9,451.3 L1093.0,453.1 L1093.1,454.8 L1093.3,456.5 L1093.4,458.4 L1093.6,459.8 L1093.7,461.5 L1093.8,463.5 L1093.9,464.9 L1094.1,467.0 L1094.2,468.7 L1094.3,470.1 L1094.4,471.8 L1094.6,473.7 L1094.7,475.4 L1094.8,477.1 L1094.9,478.8 L1095.0,480.3 L1095.2,482.4 L1095.3,483.8 L1095.4,485.6 L1095.5,487.2 L1095.6,488.7 L1095.7,490.5 L1095.8,492.3 L1095.9,493.8 L1096.0,495.7 L1096.1,497.2 L1096.3,498.6 L1096.4,500.2 L1096.5,501.8 L1096.6,503.2 L1096.7,504.9 L1096.8,506.4 L1096.9,507.8 L1097.0,509.6 L1097.1,510.8 L1097.2,512.4 L1097.4,514.2 L1097.5,515.6 L1097.6,516.7 L1097.7,518.4 L1097.9,520.0 L1098.0,522.3 L1098.2,524.0 L1098.4,526.4 L1098.5,528.4 L1098.7,530.1 L1098.9,532.4 L1099.0,534.5 L1099.2,536.3 L1099.3,538.0 L1099.5,540.2 L1099.7,542.0 L1099.8,543.6 L1100.0,545.6 L1100.2,547.1 L1100.3,549.3 L1100.5,550.7 L1100.7,552.2 L1100.8,553.7 L1101.0,555.4 L1101.1,556.4 L1101.3,557.8 L1101.5,559.2 L1101.6,560.2 L1101.8,561.5 L1102.0,562.3 L1102.1,563.1 L1102.3,564.0 L1103.2,566.2 L1104.2,566.0 L1105.1,564.0 L1106.1,560.5 L1107.0,555.5 L1107.2,554.6 L1107.3,553.4 L1107.5,552.4 L1107.6,551.0 L1107.8,549.7 L1108.0,548.2 L1108.1,546.4 L1108.3,545.0 L1108.5,543.2 L1108.6,541.7 L1108.8,539.6 L1109.0,537.7 L1109.1,536.3 L1109.3,534.4 L1109.4,532.4 L1109.6,530.5 L1109.8,528.9 L1109.9,526.9 L1110.1,525.2 L1110.2,522.9 L1110.4,521.4 L1110.6,519.8 L1110.7,517.7 L1110.9,516.4 L1111.0,514.8 L1111.2,513.1 L1111.3,511.7 L1111.5,510.3 L1111.6,508.9 L1111.8,506.8 L1112.1,504.7 L1112.3,502.8 L1112.5,501.1 L1112.8,499.3 L1113.0,497.9 L1113.2,496.7 L1113.4,495.1 L1113.6,493.6 L1113.8,492.4 L1114.0,490.9 L1114.2,489.3 L1114.4,487.7 L1114.7,486.3 L1114.9,484.4 L1115.1,482.9 L1115.3,481.1 L1115.5,479.4 L1115.6,478.2 L1115.8,476.5 L1115.9,474.9 L1116.1,473.1 L1116.2,471.8 L1116.4,470.2 L1116.5,468.4 L1116.7,466.7 L1116.8,465.2 L1117.0,463.0 L1117.1,461.4 L1117.3,459.9 L1117.4,458.1 L1117.6,456.2 L1117.7,454.5 L1117.9,453.0 L1118.1,451.3 L1118.2,449.8 L1118.4,448.4 L1118.6,446.6 L1118.8,445.4 L1119.0,444.0 L1119.3,442.0 L1119.6,439.8 L1119.9,438.0 L1120.2,436.3 L1120.6,434.5 L1120.9,432.9 L1121.3,430.8 L1121.6,429.2 L1122.0,427.7 L1122.3,426.0 L1122.7,424.2 L1123.0,422.9 L1123.4,421.4 L1123.7,419.8 L1124.1,418.7 L1124.4,417.3 L1124.7,415.7 L1125.3,413.8 L1125.8,411.7 L1126.3,410.3 L1126.8,408.4 L1127.3,407.2 L1127.8,405.7 L1128.3,404.1 L1128.8,402.8 L1129.3,401.2 L1129.8,399.0 L1130.2,397.2 L1130.7,395.1 L1131.1,392.8 L1131.6,390.6 L1132.1,388.8 L1132.5,386.8 L1133.0,385.8 L1133.5,384.6 L1134.0,384.1 L1134.6,384.5 L1135.1,385.7 L1135.7,387.9 L1136.3,390.2 L1136.9,392.2 L1137.6,394.5 L1138.2,396.7 L1138.8,398.6 L1139.5,399.3 L1140.5,399.2 L1141.7,397.8 L1142.8,396.0 L1144.0,394.6 L1145.0,392.9 L1146.0,391.9 L1147.7,390.3 L1149.1,390.4 L1150.4,394.2 L1150.6,395.3 L1150.7,396.3 L1150.8,397.3 L1151.0,398.9 L1151.1,400.2 L1151.2,401.4 L1151.4,402.8 L1151.5,404.6 L1151.6,406.1 L1151.7,407.6 L1151.9,409.4 L1152.0,410.9 L1152.1,412.8 L1152.2,414.8 L1152.3,416.8 L1152.5,418.3 L1152.6,420.1 L1152.7,422.1 L1152.8,424.0 L1152.9,425.8 L1153.0,427.8 L1153.2,429.6 L1153.3,431.2 L1153.4,433.0 L1153.5,434.4 L1153.6,436.4 L1153.7,437.8 L1153.8,439.6 L1154.0,441.2 L1154.1,442.8 L1154.2,444.9 L1154.3,446.5 L1154.4,448.1 L1154.5,449.9 L1154.6,452.0 L1154.7,453.7 L1154.9,455.3 L1155.0,456.9 L1155.1,458.9 L1155.2,460.5 L1155.3,462.4 L1155.4,464.2 L1155.5,465.9 L1155.6,467.6 L1155.7,468.8 L1155.9,470.5 L1156.0,472.0 L1156.1,473.6 L1156.2,475.0 L1156.3,476.2 L1156.4,477.5 L1156.6,479.9 L1156.8,482.7 L1157.0,485.3 L1157.1,487.7 L1157.3,490.2 L1157.5,492.5 L1157.7,494.6 L1157.8,496.5 L1158.0,498.4 L1158.2,500.0 L1158.4,501.7 L1158.6,502.6 L1158.8,503.2 L1159.1,503.4 L1159.3,502.9 L1159.4,502.4 L1159.6,502.1 L1159.8,501.4 L1159.9,500.7 L1160.1,499.7 L1160.2,498.5 L1160.4,496.9 L1160.6,495.8 L1160.7,494.0 L1160.9,492.4 L1161.1,490.7 L1161.3,489.3 L1161.5,487.0 L1161.6,485.2 L1161.8,483.6 L1162.0,481.3 L1162.2,479.4 L1162.4,477.2 L1162.6,475.2 L1162.8,473.0 L1163.0,471.1 L1163.2,469.0 L1163.4,466.6 L1163.6,464.6 L1163.8,462.8 L1163.9,461.3 L1164.1,459.9 L1164.2,458.6 L1164.4,457.1 L1164.5,455.4 L1164.7,453.7 L1164.9,451.9 L1165.0,450.4 L1165.2,448.4 L1165.4,446.6 L1165.5,445.2 L1165.7,442.9 L1165.9,441.3 L1166.1,439.5 L1166.2,437.5 L1166.4,436.0 L1166.6,434.0 L1166.8,432.0 L1166.9,430.4 L1167.1,428.2 L1167.3,426.8 L1167.4,424.9 L1167.6,422.9 L1167.8,421.1 L1168.0,419.5 L1168.1,417.9 L1168.3,416.4 L1168.4,414.6 L1168.6,413.0 L1168.7,411.9 L1168.9,410.4 L1169.0,408.8 L1169.2,407.4 L1169.3,406.4 L1169.4,405.2 L1169.6,404.4 L1169.7,403.1 L1170.5,397.7 L1171.1,393.8 L1171.6,391.8 L1172.1,391.8 L1172.7,394.6 L1172.8,395.0 L1172.9,396.3 L1173.0,397.3 L1173.1,399.1 L1173.3,400.4 L1173.4,402.1 L1173.5,404.1 L1173.6,406.5 L1173.7,408.5 L1173.8,410.7 L1173.9,412.9 L1174.0,415.6 L1174.1,417.5 L1174.3,420.0 L1174.4,422.2 L1174.5,424.3 L1174.6,426.4 L1174.7,428.4 L1174.8,430.3 L1174.9,431.8 L1175.0,433.4 L1175.1,435.0 L1175.3,436.1 L1175.4,436.5 L1175.5,437.1 L1175.6,437.4 L1175.7,437.3 L1175.8,437.0 L1175.9,436.6 L1176.0,436.0 L1176.0,435.4 L1176.1,434.4 L1176.2,433.6 L1176.3,432.4 L1176.4,431.1 L1176.5,429.5 L1176.5,428.2 L1176.6,426.5 L1176.7,424.5 L1176.8,422.8 L1176.9,420.7 L1176.9,419.2 L1177.0,416.9 L1177.1,414.9 L1177.2,413.1 L1177.3,410.7 L1177.4,408.7 L1177.5,406.4 L1177.5,404.4 L1177.6,402.5 L1177.7,400.1 L1177.8,398.4 L1177.9,396.1 L1178.0,394.2 L1178.1,392.3 L1178.2,390.2 L1178.3,388.9 L1178.4,387.0 L1178.5,385.5 L1178.6,384.1 L1178.7,382.6 L1178.9,380.3 L1179.0,378.2 L1179.2,376.4 L1179.4,374.4 L1179.5,372.8 L1179.7,370.7 L1179.9,368.9 L1180.1,367.0 L1180.2,365.3 L1180.4,363.6 L1180.6,361.8 L1180.8,360.2 L1181.0,358.6 L1181.2,357.3 L1181.4,355.7 L1181.6,354.3 L1181.9,353.1 L1182.1,351.7 L1182.3,350.2 L1182.6,349.0 L1182.8,347.9 L1183.1,346.6 L1183.9,343.9 L1184.8,342.0 L1185.7,340.1 L1186.7,338.6 L1187.7,337.3 L1188.7,336.3 L1189.6,335.7 L1190.6,335.1 L1192.5,334.6 L1194.5,335.3 L1196.4,336.2 L1198.0,336.6 L1199.1,335.5 L1200.0,334.1 L1200.8,332.0 L1201.6,330.4 L1202.5,329.2 L1203.8,327.2 L1205.1,325.8 L1206.5,324.5 L1207.8,324.4 L1208.5,325.6 L1209.1,326.8 L1209.8,329.3 L1210.4,331.1 L1211.0,333.3 L1211.6,334.7 L1212.3,334.8 L1212.9,334.6 L1213.4,333.2 L1213.9,331.8 L1214.5,330.2 L1215.1,327.8 L1215.7,326.1 L1216.4,324.2 L1217.3,323.0 L1218.5,321.8 L1219.9,320.5 L1221.5,319.3 L1223.1,318.3 L1224.6,317.6 L1226.0,317.3 L1227.1,317.2 L1228.4,316.9 L1229.2,317.0 L1229.9,318.8 L1230.7,323.1 L1230.9,324.1 L1231.0,325.3 L1231.2,326.5 L1231.4,327.9 L1231.6,329.3 L1231.8,330.8 L1231.9,332.9 L1232.1,334.7 L1232.3,336.2 L1232.5,338.1 L1232.7,340.2 L1232.9,341.9 L1233.1,344.0 L1233.3,346.1 L1233.5,347.8 L1233.7,349.7 L1233.9,351.6 L1234.1,353.3 L1234.3,355.1 L1234.4,356.6 L1234.6,358.1 L1234.8,359.3 L1235.0,360.9 L1235.2,361.7 L1235.9,364.6 L1236.6,365.8 L1237.3,366.5 L1238.0,367.1 L1238.8,368.0 L1239.6,370.7 L1239.9,371.8 L1240.1,372.7 L1240.4,374.1 L1240.7,375.5 L1241.0,377.0 L1241.3,378.4 L1241.6,380.1 L1241.9,382.0 L1242.2,383.6 L1242.6,385.4 L1242.9,387.4 L1243.2,389.2 L1243.5,390.9 L1243.8,392.5 L1244.1,394.6 L1244.4,396.6 L1244.7,398.0 L1245.0,400.0 L1245.3,401.5 L1245.6,403.5 L1245.9,404.9 L1246.1,406.7 L1246.4,408.7 L1246.7,411.2 L1246.9,413.3 L1247.2,415.1 L1247.5,417.8 L1247.7,419.9 L1248.0,421.8 L1248.2,424.2 L1248.5,426.3 L1248.7,427.9 L1249.0,429.9 L1249.2,431.6 L1249.5,432.7 L1249.7,434.0 L1249.9,435.2 L1250.1,435.8 L1250.4,436.0 L1250.6,435.9 L1250.8,435.5 L1251.0,435.0 L1251.1,434.5 L1251.3,433.4 L1251.4,432.4 L1251.6,430.6 L1251.8,429.2 L1251.9,427.8 L1252.1,425.8 L1252.2,424.1 L1252.3,421.9 L1252.5,420.1 L1252.6,417.8 L1252.8,415.6 L1252.9,413.7 L1253.1,411.6 L1253.2,409.3 L1253.4,407.4 L1253.6,405.2 L1253.7,403.6 L1253.9,401.6 L1254.1,400.4 L1254.3,398.7 L1254.5,397.4 L1255.0,395.0 L1255.5,392.5 L1256.0,390.2 L1256.6,387.6 L1257.1,385.7 L1257.7,383.8 L1258.3,382.4 L1258.8,380.9 L1259.4,380.1 L1259.9,379.6 L1260.4,379.6 L1260.8,379.7 L1261.2,380.2 L1261.6,381.3 L1261.9,382.2 L1262.3,383.8 L1262.6,385.1 L1263.0,386.7 L1263.3,389.0 L1263.6,390.8 L1264.0,393.4 L1264.3,395.4 L1264.6,398.1 L1264.9,400.2 L1265.0,401.7 L1265.2,402.9 L1265.3,404.9 L1265.5,406.3 L1265.6,408.4 L1265.7,410.1 L1265.9,412.3 L1266.0,414.5 L1266.1,416.3 L1266.2,418.3 L1266.3,420.5 L1266.5,423.0 L1266.6,425.2 L1266.7,427.2 L1266.8,429.3 L1267.0,431.1 L1267.1,433.0 L1267.2,434.8 L1267.3,436.5 L1267.5,438.2 L1267.6,439.7 L1267.7,441.1 L1267.9,442.6 L1268.0,443.4 L1268.2,443.9 L1268.3,444.5 L1268.5,444.9 L1268.7,445.1 L1269.0,444.8 L1269.2,444.3 L1269.4,443.0 L1269.7,441.8 L1269.9,440.6 L1270.2,439.0 L1270.5,437.2 L1270.7,435.0 L1271.0,433.0 L1271.3,430.6 L1271.6,428.2 L1271.8,425.9 L1272.1,423.6 L1272.4,421.7 L1272.7,419.5 L1273.0,417.5 L1273.2,415.5 L1273.5,413.7 L1273.8,412.1 L1274.2,410.0 L1274.6,407.9 L1275.0,406.1 L1275.4,403.8 L1275.9,402.1 L1276.3,399.9 L1276.7,397.9 L1277.1,395.8 L1277.6,394.3 L1278.0,392.9 L1278.4,391.8 L1278.8,390.4 L1279.2,389.7 L1279.6,389.2 L1280.4,388.7 L1281.1,390.1 L1281.9,392.7 L1282.6,394.7 L1283.3,397.4 L1284.1,399.3 L1284.8,400.8 L1286.1,400.4 L1287.3,399.7 L1288.6,397.6 L1290.0,396.6 L1291.0,394.9 L1291.9,394.0 L1292.9,392.1 L1294.0,391.0 L1295.1,389.3 L1296.2,388.7 L1297.5,389.6 L1299.0,390.0 L1300.4,391.4 L1301.9,392.2 L1303.3,393.0 L1304.6,394.1 L1306.3,394.8 L1308.0,396.0 L1309.4,397.0 L1310.8,397.4 L1312.3,399.2 L1313.6,401.1 L1315.0,401.2 L1316.7,400.6 L1318.4,398.7 L1320.2,398.2 L1321.1,399.8 L1321.9,401.7 L1322.7,403.7 L1323.6,405.4 L1324.5,406.7 L1325.4,408.0 L1326.9,407.9 L1328.4,406.7 L1330.0,404.4 L1331.7,403.4 L1333.3,402.9 L1335.1,402.9 L1336.9,402.6 L1338.6,402.5 L1340.0,402.3 L1341.1,403.7 L1341.9,405.3 L1342.6,407.0 L1343.3,408.8 L1344.2,410.0 L1346.2,410.9 L1348.3,410.0 L1350.4,411.1 L1351.5,411.5 L1352.6,412.5 L1353.6,414.0 L1354.6,415.2 L1355.6,418.6 L1355.9,419.6 L1356.2,420.7 L1356.5,421.9 L1356.8,422.8 L1357.1,423.9 L1357.4,426.1 L1357.7,427.1 L1358.0,428.5 L1358.3,430.1 L1358.6,432.0 L1358.9,433.3 L1359.2,435.8 L1359.5,437.6 L1359.8,439.3 L1360.0,441.5 L1360.3,443.5 L1360.6,445.7 L1360.8,447.0 L1360.9,448.4 L1361.1,449.9 L1361.2,451.9 L1361.4,452.9 L1361.5,454.5 L1361.6,456.9 L1361.8,458.7 L1361.9,460.4 L1362.0,461.7 L1362.1,463.5 L1362.3,465.8 L1362.4,467.9 L1362.5,469.5 L1362.6,471.6 L1362.7,473.9 L1362.8,475.2 L1362.9,476.8 L1363.0,478.8 L1363.1,481.1 L1363.2,482.4 L1363.3,483.8 L1363.4,486.0 L1363.5,487.1 L1363.6,489.1 L1363.7,490.2 L1363.7,491.4 L1363.8,492.4 L1363.9,494.4 L1363.9,494.8 L1364.0,495.5"/>
<path stroke="#0d66dc" d="M72.0,342.9 L72.8,343.0 L73.7,342.8 L74.7,342.8 L75.8,342.8 L76.9,343.2 L78.0,342.7 L79.2,342.6 L80.5,342.7 L81.9,342.8 L83.2,342.8 L84.7,342.8 L86.1,342.7 L87.7,342.9 L89.2,342.9 L90.8,343.1 L92.5,342.8 L94.2,342.8 L95.9,342.9 L97.6,343.1 L99.4,343.1 L101.2,343.3 L103.1,343.4 L104.9,343.1 L106.8,342.9 L108.7,343.4 L110.7,343.4 L112.6,343.2 L114.6,343.4 L116.5,343.2 L118.5,343.7 L120.5,343.6 L122.5,343.6 L124.5,343.8 L126.5,343.3 L128.5,343.5 L130.5,343.7 L132.5,343.7 L134.5,343.5 L136.5,343.3 L138.4,343.7 L140.4,343.4 L142.3,343.8 L144.2,343.3 L146.1,343.7 L148.0,343.7 L149.9,343.5 L151.7,343.8 L153.5,343.8 L155.3,343.7 L157.1,344.1 L158.8,344.1 L160.5,344.2 L162.1,343.7 L163.7,343.6 L165.3,343.9 L166.8,343.7 L168.3,344.2 L169.7,343.9 L171.1,343.8 L172.4,343.9 L173.6,344.0 L174.9,344.3 L176.0,344.1 L177.1,344.0 L178.1,344.3 L179.1,343.9 L180.0,344.0 L188.1,344.5 L190.6,344.7 L189.9,344.4 L188.2,344.5 L188.0,345.0 L190.5,345.5 L192.5,345.4 L194.5,346.1 L197.0,346.4 L197.8,346.4 L198.3,346.6 L199.1,346.8 L201.1,347.1 L205.0,347.0 L206.1,347.4 L207.2,347.7 L208.6,347.6 L210.0,347.2 L211.5,347.7 L213.2,347.7 L214.9,347.4 L216.7,347.7 L218.5,347.9 L220.4,348.2 L222.3,348.3 L224.3,348.1 L226.2,348.2 L228.2,348.5 L230.2,348.1 L232.1,348.3 L234.0,348.1 L235.9,348.6 L237.7,348.6 L239.5,348.4 L241.2,348.4 L242.7,348.7 L244.2,348.9 L245.6,348.5 L246.9,348.7 L248.0,348.8 L251.3,348.7 L253.7,349.1 L255.4,348.9 L256.5,348.9 L257.5,348.6 L258.6,348.6 L260.0,348.4 L261.6,348.5 L263.3,348.4 L264.9,348.3 L266.4,348.1 L268.0,348.7 L269.6,348.7 L271.2,349.6 L272.4,350.6 L273.6,351.3 L274.8,352.6 L276.0,353.5 L277.2,354.9 L278.4,356.2 L279.7,357.7 L281.0,359.2 L282.3,360.8 L283.3,362.1 L284.3,363.4 L285.3,364.3 L286.4,366.0 L287.5,367.4 L288.6,368.8 L289.7,370.1 L290.8,371.6 L291.8,373.0 L292.9,374.3 L293.9,375.6 L294.8,376.5 L295.7,377.4 L297.4,378.8 L298.7,380.0 L300.0,380.3 L301.3,380.9 L302.8,381.0 L304.6,382.1 L305.9,382.7 L307.4,383.7 L309.0,384.5 L310.6,385.7 L312.3,386.5 L314.0,387.2 L315.7,388.4 L317.3,389.0 L318.9,389.4 L320.3,389.9 L322.1,390.0 L323.7,389.5 L325.3,388.9 L326.7,388.2 L328.2,387.5 L329.7,386.4 L331.4,385.1 L332.6,384.4 L333.9,383.5 L335.3,382.4 L336.6,381.2 L338.0,380.2 L339.3,378.9 L340.7,377.5 L342.1,376.3 L343.4,375.4 L344.8,374.0 L346.1,373.0 L347.5,371.8 L348.9,370.7 L350.3,369.7 L351.6,368.2 L353.0,367.2 L354.3,366.1 L355.7,365.3 L356.9,364.7 L358.2,364.1 L360.2,363.8 L362.0,363.6 L363.8,364.0 L365.6,364.1 L367.4,364.3 L369.4,364.0 L370.8,363.4 L372.2,362.8 L373.7,361.6 L375.2,360.3 L376.7,359.4 L378.3,358.1 L379.8,357.2 L381.3,356.7 L382.8,356.1 L384.5,356.5 L386.2,356.7 L387.9,357.3 L389.6,358.4 L391.3,359.5 L393.0,360.1 L394.6,360.8 L396.2,361.0 L397.9,360.4 L399.5,359.8 L401.0,359.0 L402.5,357.9 L404.0,357.3 L405.6,356.4 L407.3,356.1 L408.7,356.4 L410.0,357.0 L411.4,357.5 L412.8,358.6 L414.3,359.8 L415.8,360.7 L417.4,361.6 L419.0,362.1 L420.7,362.8 L422.2,363.4 L423.9,364.4 L425.6,364.6 L427.4,365.3 L429.3,366.2 L431.1,366.9 L432.9,367.2 L434.6,367.4 L436.2,367.7 L437.7,368.3 L438.9,368.3 L441.0,367.4 L442.5,366.3 L443.6,364.2 L444.6,362.7 L445.6,362.3 L447.3,362.2 L448.8,363.8 L450.1,366.3 L450.5,367.7 L450.9,368.7 L451.2,369.9 L451.6,371.5 L451.9,372.7 L452.3,374.9 L452.6,376.7 L453.0,378.5 L453.4,381.0 L453.6,382.1 L453.8,383.7 L454.0,385.0 L454.3,386.6 L454.5,388.4 L454.7,389.9 L455.0,392.2 L455.2,393.9 L455.5,395.5 L455.7,397.5 L455.9,399.1 L456.2,400.9 L456.4,402.7 L456.7,404.6 L456.9,405.8 L457.2,407.7 L457.4,408.8 L457.7,410.0 L457.9,411.2 L458.8,414.1 L459.8,415.1 L460.7,415.9 L461.6,417.0 L462.4,419.0 L462.7,420.1 L462.9,421.3 L463.2,422.9 L463.4,424.5 L463.6,426.1 L463.9,427.5 L464.1,429.2 L464.3,431.5 L464.5,433.2 L464.7,435.1 L465.0,437.0 L465.2,438.6 L465.4,440.4 L465.7,442.6 L465.9,444.2 L466.1,445.5 L466.4,447.7 L466.6,449.6 L466.8,451.4 L467.0,453.7 L467.3,455.9 L467.5,457.8 L467.7,459.7 L468.0,462.0 L468.2,463.7 L468.4,465.1 L468.7,466.8 L468.9,468.2 L469.1,469.0 L469.4,469.9 L469.6,470.1 L470.0,470.3 L470.4,470.2 L470.8,469.1 L471.2,467.6 L471.6,465.3 L472.0,463.3 L472.4,460.8 L472.8,458.2 L473.1,456.1 L473.5,453.4 L473.7,452.0 L473.9,450.8 L474.1,449.2 L474.3,447.8 L474.5,446.3 L474.6,444.6 L474.8,443.1 L475.0,441.2 L475.2,439.3 L475.4,437.8 L475.6,435.8 L475.8,434.3 L476.0,432.3 L476.2,430.8 L476.4,429.0 L476.6,427.6 L476.9,425.5 L477.2,423.9 L477.5,422.2 L477.8,420.5 L478.1,418.7 L478.4,417.2 L478.8,415.3 L479.1,413.5 L479.5,411.5 L479.8,409.8 L480.2,408.0 L480.5,406.1 L480.9,404.5 L481.2,402.9 L481.6,401.7 L481.9,400.3 L482.2,398.7 L482.5,397.7 L483.3,394.8 L484.1,392.7 L484.8,390.9 L485.5,389.8 L486.2,389.0 L486.9,388.8 L487.6,389.0 L488.4,389.7 L489.2,390.4 L489.9,392.5 L490.7,394.7 L491.4,397.9 L491.6,398.8 L491.8,400.2 L492.0,402.0 L492.3,403.7 L492.5,405.2 L492.7,407.1 L492.9,409.1 L493.1,411.2 L493.3,413.6 L493.6,415.4 L493.8,417.4 L494.0,419.7 L494.2,421.5 L494.4,423.5 L494.6,425.1 L494.8,426.5 L495.0,427.7 L495.2,429.1 L495.4,430.1 L495.6,430.8 L495.8,431.4 L496.1,431.3 L496.3,431.1 L496.6,430.5 L496.8,429.4 L497.0,428.0 L497.3,426.0 L497.5,424.4 L497.7,422.3 L497.9,419.9 L498.2,417.7 L498.4,415.6 L498.7,413.3 L498.9,410.8 L499.2,408.9 L499.4,407.6 L499.6,405.9 L499.8,404.6 L500.0,403.0 L500.2,401.2 L500.4,399.7 L500.6,397.6 L500.8,395.8 L501.1,394.3 L501.3,392.3 L501.5,390.2 L501.7,388.7 L501.9,386.9 L502.2,385.4 L502.4,383.8 L502.6,381.8 L502.8,380.6 L503.1,379.2 L503.3,377.5 L503.5,376.5 L503.7,375.2 L504.4,372.2 L505.1,370.2 L505.8,368.8 L506.5,367.4 L507.2,366.6 L508.1,365.4 L509.2,363.9 L510.2,362.7 L511.4,361.8 L512.9,360.8 L514.8,359.8 L516.0,359.5 L517.3,359.0 L518.7,358.7 L520.2,358.3 L521.8,358.2 L523.5,357.6 L525.5,357.9 L527.6,357.3 L530.0,356.9 L531.3,357.0 L532.7,356.7 L534.3,356.3 L535.9,356.3 L537.5,355.8 L539.3,355.7 L541.1,355.0 L542.9,355.1 L544.7,354.9 L546.5,354.3 L548.4,354.2 L550.2,354.1 L552.0,353.6 L553.7,353.5 L555.4,352.8 L557.0,352.6 L558.6,353.0 L560.0,352.8 L561.8,352.2 L563.3,352.6 L564.4,352.1 L565.4,352.6 L566.3,352.7 L567.2,352.5 L568.3,352.4 L569.6,352.8 L571.4,352.9 L573.6,352.5 L576.4,352.7 L580.0,352.7 L581.1,352.8 L582.2,352.2 L583.5,352.7 L584.7,352.5 L586.1,352.6 L587.5,352.1 L589.0,352.2 L590.6,352.3 L592.2,352.4 L593.8,352.0 L595.5,352.3 L597.3,352.0 L599.0,352.2 L600.8,352.1 L602.7,351.4 L604.5,351.4 L606.4,351.4 L608.3,351.5 L610.3,351.6 L612.2,351.4 L614.2,351.1 L616.1,350.9 L618.1,351.0 L620.0,351.3 L622.0,350.7 L623.9,350.6 L625.8,350.8 L627.7,350.5 L629.6,350.8 L631.5,350.5 L633.3,350.2 L635.1,350.4 L636.9,350.5 L638.6,350.3 L640.3,350.0 L641.9,350.5 L643.5,349.9 L645.1,349.8 L646.6,349.9 L648.0,350.3 L649.3,350.0 L650.6,350.1 L651.8,349.8 L653.0,349.8 L654.0,349.9 L655.0,349.7 L659.9,350.0 L662.7,350.0 L664.0,350.6 L664.4,350.8 L664.4,351.0 L664.7,352.0 L665.9,352.4 L667.2,353.5 L668.6,354.1 L670.0,355.3 L671.4,356.2 L672.9,357.3 L674.4,358.4 L675.8,359.5 L677.3,360.4 L678.7,361.0 L680.0,361.8 L681.9,362.3 L683.7,362.6 L685.6,362.2 L687.3,362.0 L689.0,361.8 L690.5,362.0 L691.9,362.3 L693.5,363.0 L694.8,363.8 L695.9,365.4 L696.9,366.2 L697.9,367.8 L699.0,368.9 L700.0,370.4 L700.9,371.9 L701.8,373.6 L702.6,375.2 L703.1,376.8 L703.6,378.3 L704.0,380.4 L704.4,381.9 L704.7,384.0 L705.2,385.5 L705.6,387.1 L706.2,389.5 L706.7,391.6 L707.3,393.4 L707.9,395.3 L708.6,397.0 L709.2,397.4 L710.0,397.4 L710.8,396.2 L711.6,394.5 L712.4,392.3 L713.3,390.3 L713.8,389.2 L714.3,387.5 L714.8,386.2 L715.4,384.6 L715.9,382.7 L716.5,381.2 L717.0,379.5 L717.6,378.2 L718.1,376.7 L718.7,375.0 L719.3,373.2 L719.9,371.8 L720.5,370.1 L721.1,368.5 L721.7,366.6 L722.3,365.3 L722.9,364.3 L723.8,362.0 L724.7,360.6 L725.6,359.2 L726.6,357.5 L727.6,356.4 L729.0,355.0 L730.4,354.0 L731.9,353.0 L733.6,352.1 L735.0,351.9 L736.6,351.2 L738.2,351.1 L739.8,350.5 L741.4,349.8 L742.3,349.5 L743.3,349.2 L744.4,349.1 L745.4,348.4 L746.4,347.4 L747.4,347.4 L748.3,347.0 L749.1,346.7 L749.8,345.5 L750.6,344.8 L751.3,343.3 L751.7,342.4 L752.1,341.5 L752.5,341.3 L752.9,340.2 L753.2,340.6 L753.3,341.3 L753.5,342.7 L753.6,344.6 L753.8,346.0 L754.0,346.5 L754.3,348.4 L754.7,348.7 L755.2,349.8 L755.7,350.4 L756.4,351.7 L757.1,352.1 L757.8,353.9 L758.7,354.9 L759.5,355.5 L760.4,356.1 L761.2,356.0 L762.1,356.5 L762.9,357.7 L763.7,357.3 L764.6,357.9 L765.5,356.8 L766.3,357.4 L767.1,357.5 L768.0,356.5 L768.9,355.0 L769.9,354.4 L770.9,353.6 L772.1,353.2 L772.9,354.7 L773.8,351.8 L774.8,353.3 L775.8,351.5 L776.9,352.4 L778.0,352.7 L779.0,351.3 L780.1,350.2 L781.2,351.3 L782.2,350.1 L783.2,350.7 L784.2,351.1 L785.1,349.5 L785.9,350.1 L787.3,350.3 L788.6,350.3 L789.7,349.6 L790.7,349.6 L791.7,353.3 L792.6,349.9 L793.6,349.6 L794.4,348.5 L795.1,352.7 L795.7,348.3 L796.3,349.7 L796.9,346.9 L797.7,347.7 L798.6,346.8 L799.7,345.0 L800.5,345.5 L801.3,348.2 L802.3,347.3 L803.3,344.7 L804.3,348.6 L805.4,346.8 L806.6,345.0 L807.7,348.1 L808.8,350.0 L809.9,349.1 L810.9,347.7 L811.9,349.4 L812.8,347.0 L813.6,347.0 L814.9,346.7 L816.0,348.7 L817.0,348.0 L818.0,346.6 L818.8,347.1 L819.7,344.3 L820.4,348.0 L821.2,343.7 L822.0,345.4 L822.6,347.3 L823.2,345.6 L823.8,351.4 L824.3,347.7 L825.0,352.1 L825.8,349.2 L826.7,351.6 L827.5,353.7 L828.5,352.0 L829.5,349.6 L830.6,353.0 L832.0,348.9 L833.5,349.5 L834.3,350.9 L835.1,351.6 L835.9,350.9 L836.8,351.8 L837.7,352.2 L838.7,351.4 L839.7,352.6 L840.7,352.2 L841.8,355.0 L842.8,354.5 L843.8,353.0 L844.9,354.4 L845.9,354.3 L846.9,355.6 L847.9,356.4 L848.9,354.8 L849.9,355.7 L850.9,354.7 L852.0,354.8 L853.0,354.8 L854.0,354.4 L855.0,354.2 L856.0,353.9 L857.1,353.5 L858.1,353.8 L859.1,353.6 L860.1,351.9 L861.1,352.1 L862.2,352.3 L863.2,352.3 L864.2,351.3 L865.2,351.0 L866.3,351.7 L867.3,352.1 L868.4,350.9 L869.4,351.2 L870.5,351.9 L871.6,351.1 L872.6,351.4 L873.7,351.7 L874.7,351.8 L875.7,352.3 L876.7,352.4 L877.7,352.4 L878.7,352.9 L879.6,353.0 L880.7,353.4 L881.7,353.3 L882.8,354.0 L883.8,354.1 L884.8,354.6 L885.8,354.9 L886.7,355.5 L887.7,355.8 L888.6,356.0 L889.4,356.4 L890.3,356.6 L891.1,357.0 L891.8,357.4 L893.5,358.6 L895.0,359.2 L896.2,360.0 L897.3,361.5 L898.3,363.0 L898.7,364.0 L899.1,364.9 L899.4,365.9 L899.7,366.4 L900.0,367.4 L900.2,368.7 L900.4,370.2 L900.7,372.6 L900.9,375.5 L901.2,379.4 L901.3,380.4 L901.3,381.6 L901.4,382.8 L901.5,384.0 L901.5,385.1 L901.6,386.4 L901.7,387.8 L901.8,389.6 L901.8,390.9 L901.9,392.2 L902.0,393.9 L902.0,395.3 L902.1,397.3 L902.2,399.0 L902.2,400.5 L902.3,402.1 L902.4,403.7 L902.4,405.8 L902.5,407.3 L902.6,409.2 L902.6,411.2 L902.7,413.1 L902.8,414.5 L902.9,416.4 L902.9,418.5 L903.0,420.3 L903.1,422.0 L903.1,423.9 L903.2,425.7 L903.3,427.7 L903.4,429.5 L903.4,431.3 L903.5,433.0 L903.6,434.7 L903.7,436.5 L903.7,438.0 L903.8,439.9 L903.9,441.5 L904.0,443.1 L904.0,444.6 L904.1,446.2 L904.2,447.8 L904.3,449.7 L904.4,451.6 L904.5,453.1 L904.6,454.9 L904.7,456.8 L904.8,458.3 L904.9,460.4 L905.0,462.0 L905.1,463.5 L905.2,465.4 L905.3,467.3 L905.4,469.2 L905.5,470.6 L905.6,472.4 L905.7,474.2 L905.8,475.7 L906.0,477.3 L906.1,479.4 L906.2,480.7 L906.3,482.7 L906.4,484.4 L906.5,486.0 L906.6,487.2 L906.7,489.0 L906.8,490.3 L906.9,491.9 L907.0,493.5 L907.2,495.1 L907.3,496.5 L907.4,497.8 L907.5,499.3 L907.6,500.8 L907.7,501.9 L907.8,503.4 L907.9,504.5 L908.0,505.9 L908.2,508.2 L908.4,510.1 L908.5,511.8 L908.7,513.4 L908.9,514.8 L909.0,516.0 L909.2,517.5 L909.3,518.8 L909.5,519.8 L909.6,521.0 L909.8,522.4 L910.0,523.4 L910.2,524.8 L910.4,526.6 L910.7,528.2 L911.0,529.8 L911.3,532.1 L911.6,534.6 L911.8,535.7 L911.9,537.3 L912.1,538.8 L912.3,539.9 L912.5,541.8 L912.7,543.3 L912.9,545.3 L913.1,546.9 L913.3,549.2 L913.5,550.9 L913.7,552.9 L913.9,555.3 L914.1,557.1 L914.4,559.4 L914.6,561.4 L914.8,563.8 L915.1,565.8 L915.3,568.1 L915.5,570.4 L915.8,572.4 L916.0,574.6 L916.3,576.7 L916.5,578.4 L916.7,580.4 L917.0,582.3 L917.2,584.4 L917.5,586.1 L917.7,587.6 L918.0,589.2 L918.2,590.6 L918.5,592.1 L918.7,593.3 L919.0,594.5 L919.2,595.6 L919.4,596.6 L919.7,597.2 L919.9,597.8 L920.1,598.1 L920.4,598.6 L920.6,598.4 L920.8,598.4 L921.0,598.2 L921.3,598.2 L921.5,597.3 L921.7,597.1 L921.9,596.4 L922.1,595.6 L922.3,594.6 L922.6,593.4 L922.8,592.0 L923.0,590.8 L923.2,589.7 L923.4,588.3 L923.6,586.7 L923.8,585.0 L924.0,583.6 L924.2,581.6 L924.4,579.9 L924.7,578.3 L924.9,576.1 L925.1,574.3 L925.3,572.2 L925.5,570.3 L925.7,568.3 L925.9,565.8 L926.2,563.9 L926.4,562.1 L926.6,559.9 L926.8,557.5 L927.1,555.2 L927.3,553.0 L927.5,551.3 L927.8,549.0 L928.0,546.6 L928.2,544.9 L928.5,542.4 L928.7,540.5 L929.0,538.6 L929.2,536.3 L929.5,534.6 L929.7,533.2 L929.9,531.9 L930.1,530.3 L930.3,528.9 L930.5,527.3 L930.7,525.7 L930.9,524.3 L931.1,522.6 L931.3,521.1 L931.5,519.4 L931.7,517.9 L931.9,516.2 L932.2,514.3 L932.4,512.8 L932.6,511.1 L932.8,509.3 L933.0,507.4 L933.3,505.5 L933.5,504.2 L933.7,502.3 L933.9,500.2 L934.2,498.8 L934.4,496.9 L934.6,494.9 L934.9,493.1 L935.1,491.7 L935.3,489.5 L935.5,487.8 L935.8,486.1 L936.0,484.3 L936.2,482.4 L936.5,480.9 L936.7,478.9 L936.9,477.1 L937.1,475.6 L937.4,474.0 L937.6,472.4 L937.8,470.3 L938.0,468.7 L938.2,467.1 L938.5,465.5 L938.7,463.9 L938.9,462.5 L939.1,460.9 L939.3,459.7 L939.5,457.9 L939.7,456.7 L939.9,455.5 L940.1,453.7 L940.3,452.3 L940.5,451.3 L940.7,450.2 L940.9,448.7 L941.0,447.5 L941.2,446.6 L941.4,445.3 L941.9,442.3 L942.4,439.3 L942.8,436.4 L943.3,433.6 L943.7,431.1 L944.1,428.8 L944.5,426.5 L944.8,424.1 L945.2,422.0 L945.6,420.5 L945.9,418.9 L946.3,417.5 L946.6,416.7 L947.0,415.4 L947.3,415.2 L947.7,414.9 L948.0,415.0 L948.4,415.2 L948.8,415.7 L949.0,416.1 L949.2,416.8 L949.4,417.3 L949.6,418.1 L949.8,419.2 L950.0,420.4 L950.2,421.6 L950.4,422.7 L950.6,423.9 L950.9,425.3 L951.1,427.0 L951.3,428.8 L951.5,430.0 L951.7,431.8 L951.9,433.5 L952.1,435.6 L952.3,437.4 L952.5,439.2 L952.7,440.9 L952.9,443.1 L953.1,445.3 L953.3,447.1 L953.5,449.3 L953.7,451.2 L953.9,453.3 L954.1,454.9 L954.3,457.2 L954.5,459.1 L954.7,461.2 L954.9,463.0 L955.1,465.0 L955.3,466.9 L955.5,468.6 L955.7,470.1 L955.8,471.9 L956.0,473.6 L956.2,475.3 L956.4,476.9 L956.6,478.8 L956.8,480.8 L957.0,482.7 L957.1,485.0 L957.3,486.9 L957.5,489.5 L957.7,491.8 L957.8,494.0 L958.0,496.3 L958.2,498.8 L958.4,501.2 L958.5,503.3 L958.7,505.8 L958.8,507.7 L959.0,510.1 L959.2,512.0 L959.3,514.3 L959.5,516.2 L959.6,518.0 L959.8,519.8 L959.9,521.3 L960.1,523.2 L960.3,524.5 L960.4,525.9 L960.6,526.9 L960.7,527.7 L960.9,528.2 L961.0,528.9 L961.2,529.0 L961.3,529.4 L961.5,529.1 L961.6,528.8 L961.7,528.4 L961.8,528.0 L961.9,527.4 L961.9,526.5 L962.0,525.7 L962.1,524.9 L962.2,524.2 L962.3,523.1 L962.4,521.8 L962.5,520.7 L962.5,519.6 L962.6,518.3 L962.7,516.8 L962.8,515.6 L962.9,513.7 L962.9,512.3 L963.0,510.8 L963.1,508.9 L963.2,507.2 L963.2,505.7 L963.3,503.6 L963.4,501.9 L963.5,499.8 L963.6,497.8 L963.6,495.9 L963.7,494.1 L963.8,492.3 L963.9,490.3 L963.9,488.2 L964.0,485.9 L964.1,484.1 L964.2,481.9 L964.2,479.8 L964.3,477.6 L964.4,475.9 L964.5,473.6 L964.5,471.8 L964.6,469.7 L964.7,467.5 L964.8,465.5 L964.9,463.6 L964.9,461.8 L965.0,459.9 L965.1,457.9 L965.2,456.2 L965.3,454.5 L965.3,452.7 L965.4,451.3 L965.5,449.4 L965.6,448.1 L965.7,446.5 L965.7,444.7 L965.8,443.4 L965.9,442.3 L966.0,440.9 L966.2,438.6 L966.3,436.0 L966.5,433.5 L966.6,430.9 L966.8,428.2 L966.9,425.8 L967.1,423.2 L967.2,420.7 L967.4,417.7 L967.5,415.1 L967.7,412.7 L967.8,410.5 L968.0,407.9 L968.1,405.7 L968.3,403.6 L968.4,401.2 L968.6,399.5 L968.8,397.5 L968.9,396.0 L969.1,394.2 L969.3,393.2 L969.4,391.9 L969.6,391.3 L969.8,390.6 L970.0,390.4 L970.2,390.0 L970.4,390.5 L970.6,391.0 L970.9,391.6 L971.1,392.9 L971.2,393.5 L971.3,393.9 L971.4,394.6 L971.5,395.3 L971.6,396.0 L971.7,396.8 L971.8,397.3 L971.9,398.2 L972.0,399.6 L972.1,400.3 L972.2,401.5 L972.3,402.4 L972.4,403.5 L972.5,404.5 L972.6,405.9 L972.7,406.9 L972.8,408.3 L972.9,409.4 L973.0,410.8 L973.1,412.2 L973.2,413.5 L973.3,414.9 L973.5,416.1 L973.6,417.8 L973.7,419.3 L973.8,421.0 L973.9,422.3 L974.0,424.2 L974.1,425.8 L974.3,427.2 L974.4,428.7 L974.5,430.6 L974.6,432.6 L974.7,434.1 L974.9,436.0 L975.0,437.7 L975.1,439.7 L975.2,441.0 L975.3,442.9 L975.5,445.1 L975.6,446.8 L975.7,448.5 L975.8,450.7 L975.9,452.6 L976.1,454.4 L976.2,456.3 L976.3,458.4 L976.4,460.0 L976.6,462.3 L976.7,464.1 L976.8,466.2 L976.9,467.8 L977.0,470.2 L977.2,471.8 L977.3,473.9 L977.4,476.0 L977.5,478.1 L977.6,479.7 L977.8,482.1 L977.9,483.8 L978.0,486.1 L978.1,487.8 L978.2,489.9 L978.3,491.6 L978.5,493.7 L978.6,495.6 L978.7,497.8 L978.8,499.4 L978.9,501.4 L979.0,503.3 L979.1,505.2 L979.2,507.1 L979.4,509.2 L979.5,510.6 L979.6,512.5 L979.7,514.4 L979.8,516.5 L979.9,517.9 L980.0,519.9 L980.1,521.4 L980.2,522.7 L980.3,524.6 L980.4,526.0 L980.4,527.2 L980.5,528.9 L980.6,530.5 L980.7,532.3 L980.8,533.7 L980.9,535.3 L981.0,536.8 L981.1,538.8 L981.1,540.3 L981.2,542.1 L981.3,543.6 L981.4,545.4 L981.5,547.0 L981.6,548.5 L981.7,550.1 L981.8,551.8 L981.8,553.7 L981.9,555.7 L982.0,557.0 L982.1,558.7 L982.2,560.4 L982.3,562.4 L982.4,564.2 L982.4,566.1 L982.5,567.7 L982.6,569.3 L982.7,571.4 L982.8,572.7 L982.9,574.9 L983.0,576.6 L983.0,578.5 L983.1,579.9 L983.2,581.6 L983.3,583.3 L983.4,585.2 L983.5,586.9 L983.5,589.0 L983.6,590.9 L983.7,592.5 L983.8,594.0 L983.9,596.0 L984.0,597.5 L984.0,599.6 L984.1,601.4 L984.2,603.1 L984.3,604.6 L984.4,606.6 L984.4,608.0 L984.5,609.7 L984.6,611.4 L984.7,613.2 L984.8,614.9 L984.8,616.7 L984.9,618.5 L985.0,619.8 L985.1,621.7 L985.2,623.4 L985.2,625.1 L985.3,626.4 L985.4,628.4 L985.5,629.9 L985.5,631.2 L985.6,633.2 L985.7,634.7 L985.8,636.4 L985.9,637.8 L985.9,639.0 L986.0,640.8 L986.1,642.0 L986.2,643.7 L986.2,645.2 L986.3,646.6 L986.4,647.9 L986.4,649.3 L986.5,650.7 L986.6,652.1 L986.7,653.5 L986.7,654.8 L986.8,656.1 L986.9,657.8 L986.9,659.2 L987.0,660.3 L987.1,661.7 L987.2,662.8 L987.2,664.1 L987.3,664.9 L987.4,666.5 L987.4,667.6 L987.5,668.3 L987.7,671.5 L987.8,674.4 L988.0,677.1 L988.2,680.2 L988.3,682.8 L988.5,685.4 L988.7,688.2 L988.8,690.7 L989.0,693.2 L989.1,695.8 L989.2,698.2 L989.4,700.6 L989.5,703.0 L989.7,705.3 L989.8,707.3 L989.9,709.5 L990.1,711.4 L990.2,713.5 L990.3,714.9 L990.5,716.9 L990.6,718.2 L990.7,719.6 L990.9,720.9 L991.0,722.2 L991.1,722.9 L991.2,724.0 L991.4,724.6 L991.5,725.3 L991.6,726.0 L991.8,726.1 L991.9,725.9 L992.1,726.0 L992.2,725.9 L992.4,725.6 L992.5,725.1 L992.6,724.8 L992.7,724.0 L992.7,723.7 L992.8,723.0 L992.9,722.4 L993.0,721.4 L993.1,720.8 L993.2,720.2 L993.2,719.1 L993.3,718.3 L993.4,717.0 L993.5,715.9 L993.6,715.1 L993.7,713.8 L993.7,712.3 L993.8,711.1 L993.9,710.1 L994.0,708.4 L994.1,707.2 L994.2,705.9 L994.3,704.2 L994.3,702.4 L994.4,701.3 L994.5,699.6 L994.6,697.8 L994.7,696.0 L994.8,694.2 L994.8,692.5 L994.9,691.0 L995.0,689.0 L995.1,687.5 L995.2,685.2 L995.3,683.5 L995.4,681.7 L995.4,679.5 L995.5,677.9 L995.6,676.0 L995.7,674.0 L995.8,672.0 L995.9,669.9 L996.0,667.9 L996.0,665.6 L996.1,663.9 L996.2,661.7 L996.3,659.5 L996.4,657.7 L996.5,655.8 L996.6,653.5 L996.7,651.3 L996.7,649.6 L996.8,647.3 L996.9,645.2 L997.0,643.5 L997.1,641.2 L997.2,639.2 L997.3,637.4 L997.4,635.6 L997.5,633.3 L997.5,631.6 L997.6,629.7 L997.7,627.5 L997.8,625.6 L997.9,623.8 L998.0,622.4 L998.0,620.9 L998.1,619.6 L998.2,618.0 L998.2,616.4 L998.3,614.9 L998.4,613.1 L998.5,611.5 L998.5,610.1 L998.6,608.4 L998.7,606.7 L998.8,604.9 L998.8,603.4 L998.9,601.6 L999.0,599.9 L999.1,598.1 L999.1,596.2 L999.2,594.6 L999.3,593.0 L999.4,591.0 L999.4,589.1 L999.5,587.5 L999.6,585.5 L999.7,583.8 L999.7,582.0 L999.8,580.1 L999.9,577.9 L1000.0,576.2 L1000.1,574.1 L1000.1,572.5 L1000.2,570.5 L1000.3,568.9 L1000.4,566.6 L1000.4,565.0 L1000.5,563.1 L1000.6,561.0 L1000.7,559.5 L1000.7,557.2 L1000.8,555.5 L1000.9,553.8 L1001.0,551.6 L1001.1,550.1 L1001.1,548.3 L1001.2,546.4 L1001.3,544.3 L1001.4,542.8 L1001.4,540.9 L1001.5,538.9 L1001.6,537.1 L1001.7,535.2 L1001.7,533.5 L1001.8,531.7 L1001.9,530.3 L1002.0,528.5 L1002.0,526.8 L1002.1,525.1 L1002.2,523.4 L1002.2,521.7 L1002.3,520.4 L1002.4,518.8 L1002.5,517.2 L1002.5,515.4 L1002.6,513.8 L1002.7,512.5 L1002.7,511.0 L1002.8,509.5 L1002.9,508.1 L1002.9,506.6 L1003.0,505.6 L1003.0,503.9 L1003.1,502.5 L1003.2,501.7 L1003.2,500.4 L1003.3,499.2 L1003.4,497.9 L1003.4,496.6 L1003.5,495.8 L1003.5,494.5 L1003.6,493.6 L1003.6,492.9 L1003.7,491.5 L1003.7,490.6 L1003.8,490.0 L1004.9,478.6 L1005.7,481.3 L1006.5,485.4 L1007.0,486.9 L1007.4,489.0 L1007.9,491.7 L1008.4,494.3 L1009.1,496.1 L1009.8,496.0 L1010.2,495.4 L1010.7,494.5 L1011.2,492.8 L1011.7,491.0 L1012.2,489.3 L1012.8,487.0 L1013.4,485.0 L1013.9,482.7 L1014.5,480.6 L1015.0,478.9 L1015.5,477.5 L1016.0,475.9 L1016.4,475.3 L1018.4,475.8 L1020.0,477.9 L1020.6,476.3 L1021.3,473.2 L1021.9,469.7 L1022.6,466.9 L1023.2,466.0 L1023.8,467.7 L1023.9,468.6 L1024.0,469.2 L1024.1,469.9 L1024.2,470.8 L1024.3,472.1 L1024.4,472.9 L1024.5,474.0 L1024.6,475.3 L1024.7,476.7 L1024.8,478.0 L1024.9,479.5 L1025.0,480.8 L1025.1,482.6 L1025.2,484.0 L1025.3,485.6 L1025.4,487.4 L1025.4,489.3 L1025.5,491.2 L1025.6,492.8 L1025.7,494.7 L1025.8,496.6 L1025.9,498.8 L1026.0,500.6 L1026.1,502.8 L1026.2,504.8 L1026.3,506.7 L1026.3,508.9 L1026.4,510.9 L1026.5,513.0 L1026.6,515.4 L1026.7,517.6 L1026.8,519.9 L1026.9,521.0 L1026.9,522.4 L1027.0,524.1 L1027.0,525.3 L1027.1,527.3 L1027.1,528.8 L1027.2,530.7 L1027.2,532.2 L1027.3,534.0 L1027.3,535.9 L1027.4,538.1 L1027.4,540.0 L1027.5,541.6 L1027.5,543.6 L1027.6,545.8 L1027.6,547.8 L1027.7,550.0 L1027.8,552.0 L1027.8,554.3 L1027.9,556.5 L1027.9,558.5 L1028.0,560.6 L1028.0,563.0 L1028.1,564.8 L1028.1,567.0 L1028.2,569.2 L1028.2,571.1 L1028.3,573.5 L1028.3,575.3 L1028.4,577.4 L1028.4,579.6 L1028.5,581.3 L1028.5,583.5 L1028.6,585.2 L1028.6,587.0 L1028.7,589.1 L1028.7,590.4 L1028.8,592.5 L1028.9,593.9 L1028.9,595.3 L1029.0,597.0 L1029.0,598.3 L1029.1,599.7 L1029.1,600.9 L1029.2,602.0 L1029.2,603.5 L1029.3,604.4 L1029.3,605.3 L1029.4,606.4 L1029.4,607.0 L1029.5,607.6 L1029.5,608.1 L1029.6,608.6 L1029.6,608.8 L1029.7,609.2 L1029.8,609.0 L1029.8,609.2 L1029.9,608.9 L1030.0,608.4 L1030.0,608.0 L1030.1,607.3 L1030.1,606.4 L1030.2,605.6 L1030.3,604.6 L1030.3,603.8 L1030.4,602.5 L1030.4,600.9 L1030.5,599.7 L1030.6,598.0 L1030.6,596.5 L1030.7,594.7 L1030.7,593.3 L1030.8,591.3 L1030.9,589.7 L1030.9,587.4 L1031.0,585.6 L1031.0,583.3 L1031.1,581.5 L1031.2,579.5 L1031.2,577.3 L1031.3,575.1 L1031.3,572.7 L1031.4,570.5 L1031.5,568.7 L1031.5,566.2 L1031.6,564.1 L1031.7,561.6 L1031.7,559.5 L1031.8,557.3 L1031.9,555.4 L1031.9,553.1 L1032.0,550.9 L1032.1,549.2 L1032.2,546.8 L1032.2,545.2 L1032.3,543.1 L1032.4,541.1 L1032.5,539.7 L1032.5,538.0 L1032.6,536.2 L1032.7,534.8 L1032.8,533.1 L1032.9,531.3 L1033.0,529.1 L1033.1,527.4 L1033.2,525.6 L1033.3,524.0 L1033.4,521.9 L1033.5,519.9 L1033.6,518.3 L1033.7,516.2 L1033.8,514.4 L1033.9,512.4 L1034.0,510.7 L1034.1,508.8 L1034.2,506.7 L1034.3,505.1 L1034.4,503.0 L1034.5,501.5 L1034.7,499.6 L1034.8,497.9 L1034.9,496.3 L1035.0,494.5 L1035.1,492.7 L1035.2,490.9 L1035.3,489.1 L1035.5,487.6 L1035.6,486.2 L1035.7,484.2 L1035.8,482.8 L1035.9,481.4 L1036.1,479.7 L1036.2,478.7 L1036.3,477.0 L1036.4,475.9 L1036.6,474.8 L1036.7,473.2 L1036.8,472.5 L1036.9,470.9 L1037.1,470.4 L1037.2,469.0 L1038.1,464.4 L1039.1,462.3 L1040.1,461.5 L1041.1,461.5 L1042.1,461.5 L1043.1,460.3 L1043.8,458.6 L1044.5,457.0 L1045.2,454.5 L1045.9,452.7 L1046.6,450.9 L1047.3,449.6 L1048.1,448.7 L1049.0,448.2 L1049.7,448.6 L1050.4,449.3 L1051.1,449.7 L1051.9,450.8 L1052.8,451.9 L1053.6,453.2 L1054.4,454.7 L1055.2,456.4 L1056.0,458.5 L1056.7,461.0 L1057.4,463.1 L1058.0,466.1 L1058.2,467.1 L1058.4,468.4 L1058.6,469.9 L1058.8,471.1 L1058.9,472.3 L1059.1,473.4 L1059.2,474.9 L1059.4,476.4 L1059.5,477.6 L1059.7,479.1 L1059.8,480.6 L1059.9,482.2 L1060.1,483.8 L1060.2,485.4 L1060.3,486.7 L1060.4,488.2 L1060.5,490.3 L1060.7,491.7 L1060.8,493.3 L1060.9,495.3 L1061.0,497.2 L1061.1,498.6 L1061.2,500.7 L1061.3,502.5 L1061.5,504.2 L1061.6,506.2 L1061.7,508.1 L1061.8,510.1 L1061.9,512.2 L1062.1,514.0 L1062.2,515.7 L1062.4,517.6 L1062.5,519.9 L1062.6,521.0 L1062.7,522.6 L1062.8,524.2 L1062.9,525.8 L1063.0,527.7 L1063.1,529.1 L1063.2,531.2 L1063.3,533.1 L1063.4,534.9 L1063.6,536.9 L1063.7,539.0 L1063.8,541.1 L1063.9,543.0 L1064.0,545.0 L1064.1,547.0 L1064.2,549.2 L1064.3,551.6 L1064.4,553.7 L1064.5,556.0 L1064.7,557.9 L1064.8,560.1 L1064.9,562.0 L1065.0,564.4 L1065.1,566.2 L1065.2,568.3 L1065.3,570.3 L1065.5,572.5 L1065.6,574.1 L1065.7,576.3 L1065.8,578.2 L1065.9,579.6 L1066.0,581.5 L1066.1,583.0 L1066.2,584.6 L1066.4,586.2 L1066.5,587.5 L1066.6,588.9 L1066.7,590.5 L1066.8,591.6 L1066.9,592.4 L1067.0,593.3 L1067.1,594.4 L1067.3,595.2 L1067.4,595.9 L1067.5,596.3 L1067.6,596.7 L1067.7,597.0 L1067.8,597.3 L1067.9,597.0 L1068.0,597.1 L1068.1,596.7 L1068.3,596.3 L1068.4,595.5 L1068.5,594.4 L1068.6,593.9 L1068.7,592.8 L1068.8,591.3 L1068.9,590.0 L1069.0,588.9 L1069.2,587.3 L1069.3,585.7 L1069.4,584.1 L1069.5,582.2 L1069.6,580.4 L1069.7,578.3 L1069.8,576.6 L1069.9,574.4 L1070.0,572.5 L1070.1,570.5 L1070.3,568.3 L1070.4,566.3 L1070.5,563.8 L1070.6,561.5 L1070.7,559.3 L1070.8,557.1 L1070.9,555.1 L1071.0,552.8 L1071.2,550.8 L1071.3,548.8 L1071.4,546.2 L1071.5,544.4 L1071.6,542.4 L1071.8,540.4 L1071.9,538.5 L1072.0,536.4 L1072.1,534.6 L1072.2,532.8 L1072.4,531.3 L1072.5,529.9 L1072.6,528.5 L1072.8,527.1 L1072.9,525.5 L1073.2,523.2 L1073.5,520.5 L1073.8,518.0 L1074.2,515.7 L1074.5,513.5 L1074.8,511.5 L1075.2,509.3 L1075.5,507.3 L1075.9,505.3 L1076.2,503.4 L1076.6,501.8 L1076.9,500.4 L1077.3,498.9 L1077.6,497.9 L1078.0,496.6 L1078.3,495.7 L1078.7,494.6 L1079.0,493.8 L1079.4,493.2 L1079.7,493.1 L1080.2,492.5 L1080.7,492.5 L1081.2,492.5 L1081.7,492.9 L1082.2,493.7 L1082.7,494.7 L1083.3,496.0 L1083.8,497.8 L1084.2,500.3 L1084.7,502.9 L1085.2,506.2 L1085.7,509.5 L1086.2,514.0 L1086.3,515.0 L1086.4,515.7 L1086.5,516.9 L1086.6,518.2 L1086.7,519.5 L1086.8,520.7 L1086.9,521.6 L1087.0,522.9 L1087.1,524.5 L1087.2,525.5 L1087.4,527.1 L1087.5,528.5 L1087.6,529.7 L1087.7,531.3 L1087.8,533.1 L1087.9,534.5 L1088.0,535.8 L1088.1,537.5 L1088.2,539.0 L1088.3,540.6 L1088.4,542.5 L1088.5,544.2 L1088.6,545.8 L1088.7,547.6 L1088.8,549.1 L1088.9,550.9 L1089.0,552.8 L1089.1,554.4 L1089.2,556.0 L1089.3,558.0 L1089.4,559.9 L1089.5,561.8 L1089.6,563.2 L1089.7,565.3 L1089.8,566.9 L1089.9,568.9 L1090.0,570.5 L1090.1,572.6 L1090.2,574.6 L1090.3,576.0 L1090.4,577.8 L1090.5,579.7 L1090.6,581.7 L1090.7,583.6 L1090.8,585.2 L1090.9,587.1 L1091.0,588.9 L1091.1,590.6 L1091.2,592.2 L1091.3,594.0 L1091.4,595.8 L1091.5,597.5 L1091.6,599.2 L1091.7,601.0 L1091.8,602.4 L1091.9,604.3 L1092.0,606.0 L1092.1,607.2 L1092.2,609.0 L1092.3,610.4 L1092.4,612.6 L1092.5,614.1 L1092.6,615.6 L1092.7,617.3 L1092.9,619.0 L1093.0,621.2 L1093.1,622.8 L1093.2,624.5 L1093.3,626.3 L1093.4,627.8 L1093.5,629.4 L1093.6,631.3 L1093.7,633.2 L1093.8,635.1 L1093.9,636.6 L1094.1,638.6 L1094.2,640.0 L1094.3,642.1 L1094.4,643.6 L1094.5,645.2 L1094.6,647.2 L1094.7,648.7 L1094.8,650.9 L1094.9,652.4 L1095.0,653.9 L1095.2,655.8 L1095.3,657.7 L1095.4,659.0 L1095.5,660.9 L1095.6,662.5 L1095.7,664.0 L1095.8,666.0 L1095.9,667.7 L1096.0,669.0 L1096.1,670.8 L1096.2,672.2 L1096.3,674.1 L1096.4,675.6 L1096.6,677.2 L1096.7,678.8 L1096.8,680.4 L1096.9,682.0 L1097.0,683.1 L1097.1,684.7 L1097.2,686.3 L1097.3,687.7 L1097.4,689.2 L1097.5,690.5 L1097.6,691.7 L1097.7,693.2 L1097.8,694.4 L1097.9,695.7 L1098.0,697.1 L1098.1,698.4 L1098.3,700.5 L1098.5,703.0 L1098.7,705.6 L1098.9,707.6 L1099.1,710.0 L1099.2,712.2 L1099.4,714.6 L1099.6,716.9 L1099.8,718.7 L1100.0,720.9 L1100.2,722.9 L1100.3,725.2 L1100.5,727.2 L1100.7,729.0 L1100.9,730.3 L1101.0,732.3 L1101.2,733.9 L1101.4,735.3 L1101.6,736.9 L1101.8,738.0 L1101.9,739.1 L1102.1,740.4 L1102.3,741.3 L1102.5,742.1 L1102.6,743.0 L1102.8,743.6 L1103.0,744.1 L1103.2,744.3 L1103.5,744.6 L1103.7,744.2 L1104.0,743.9 L1104.3,743.3 L1104.6,742.4 L1104.8,741.2 L1105.1,740.1 L1105.4,738.4 L1105.7,736.6 L1105.9,734.8 L1106.2,732.8 L1106.5,730.5 L1106.8,728.2 L1107.1,726.1 L1107.3,723.2 L1107.6,720.8 L1107.9,718.2 L1108.2,715.7 L1108.5,713.3 L1108.6,712.0 L1108.8,710.6 L1108.9,709.4 L1109.1,707.7 L1109.2,706.3 L1109.3,705.0 L1109.5,703.7 L1109.6,702.1 L1109.8,700.7 L1109.9,699.1 L1110.1,697.2 L1110.2,696.0 L1110.4,694.1 L1110.5,692.4 L1110.7,690.9 L1110.8,688.8 L1111.0,687.4 L1111.1,685.4 L1111.3,683.6 L1111.4,681.8 L1111.5,679.9 L1111.7,678.2 L1111.8,676.5 L1112.0,674.9 L1112.1,673.0 L1112.3,671.4 L1112.4,669.4 L1112.6,667.7 L1112.7,665.7 L1112.9,664.1 L1113.0,662.3 L1113.2,660.3 L1113.3,658.7 L1113.4,657.1 L1113.6,655.4 L1113.7,654.0 L1113.9,652.4 L1114.0,650.8 L1114.1,648.9 L1114.2,647.4 L1114.4,646.1 L1114.5,644.6 L1114.7,642.8 L1114.8,640.7 L1115.0,639.1 L1115.1,637.1 L1115.3,635.0 L1115.4,633.2 L1115.6,631.8 L1115.7,629.6 L1115.8,628.0 L1116.0,626.0 L1116.1,624.3 L1116.2,623.0 L1116.3,621.1 L1116.5,619.5 L1116.6,617.8 L1116.7,615.8 L1116.9,614.4 L1117.0,612.6 L1117.1,611.0 L1117.2,609.5 L1117.4,608.1 L1117.5,606.3 L1117.7,604.8 L1117.8,603.7 L1118.0,601.9 L1118.1,600.7 L1118.3,599.3 L1118.5,597.9 L1118.6,596.7 L1118.8,595.2 L1119.0,594.0 L1119.4,592.2 L1119.7,590.0 L1120.1,588.3 L1120.5,586.3 L1121.0,585.0 L1121.4,583.7 L1121.8,582.4 L1122.3,580.9 L1122.7,579.8 L1123.2,578.5 L1123.7,577.1 L1124.1,576.0 L1124.6,574.1 L1125.1,572.7 L1125.5,571.0 L1126.0,569.2 L1126.4,567.5 L1126.7,565.9 L1126.9,564.5 L1127.2,563.1 L1127.5,561.4 L1127.7,559.8 L1128.0,557.7 L1128.3,555.8 L1128.6,554.1 L1128.8,552.4 L1129.1,550.5 L1129.4,548.5 L1129.7,546.5 L1130.0,544.3 L1130.2,542.3 L1130.5,540.6 L1130.8,538.9 L1131.0,536.7 L1131.3,535.2 L1131.6,533.4 L1131.8,531.8 L1132.1,530.2 L1132.3,528.9 L1132.6,527.3 L1132.8,526.3 L1133.1,525.0 L1133.3,524.3 L1133.6,523.1 L1133.8,522.5 L1134.5,521.7 L1135.1,522.1 L1135.7,523.8 L1136.3,525.8 L1136.8,528.4 L1137.4,531.3 L1138.0,533.4 L1138.6,535.4 L1139.2,536.2 L1140.2,535.9 L1141.4,534.2 L1142.5,531.9 L1143.6,529.6 L1144.7,527.9 L1145.7,527.1 L1146.8,526.9 L1147.8,527.4 L1148.7,528.3 L1149.6,530.7 L1150.4,534.8 L1150.5,535.7 L1150.7,536.5 L1150.8,538.2 L1150.9,539.2 L1151.1,540.7 L1151.2,542.0 L1151.3,543.4 L1151.4,544.9 L1151.5,546.7 L1151.6,548.3 L1151.7,550.0 L1151.8,551.6 L1152.0,553.5 L1152.1,555.5 L1152.2,557.1 L1152.3,559.0 L1152.4,560.7 L1152.5,562.9 L1152.6,564.7 L1152.7,566.6 L1152.8,568.5 L1152.9,570.1 L1153.0,572.1 L1153.1,573.9 L1153.2,575.5 L1153.3,577.6 L1153.4,579.4 L1153.5,580.7 L1153.6,582.7 L1153.7,583.9 L1153.8,585.5 L1153.9,587.6 L1154.0,589.0 L1154.1,590.9 L1154.2,592.3 L1154.3,594.1 L1154.4,596.2 L1154.5,597.7 L1154.6,599.5 L1154.8,601.3 L1154.9,602.9 L1155.0,604.9 L1155.1,606.2 L1155.2,608.2 L1155.3,609.8 L1155.4,611.3 L1155.5,613.0 L1155.6,614.8 L1155.7,616.5 L1155.8,617.8 L1155.9,619.4 L1156.0,620.8 L1156.1,622.8 L1156.2,623.8 L1156.3,625.5 L1156.4,626.7 L1156.6,629.0 L1156.7,631.2 L1156.8,633.3 L1157.0,635.5 L1157.1,637.7 L1157.3,639.8 L1157.4,641.9 L1157.5,644.0 L1157.7,646.1 L1157.8,647.7 L1158.0,649.8 L1158.1,651.2 L1158.3,652.9 L1158.4,654.4 L1158.6,655.6 L1158.8,656.5 L1158.9,657.1 L1159.1,657.8 L1159.3,658.0 L1159.6,657.9 L1159.8,657.6 L1160.1,657.3 L1160.3,656.2 L1160.6,654.7 L1160.9,653.1 L1161.2,651.6 L1161.5,649.7 L1161.8,647.8 L1162.1,645.5 L1162.5,643.1 L1162.8,640.5 L1163.1,638.0 L1163.5,635.6 L1163.8,632.9 L1164.0,631.7 L1164.1,630.3 L1164.3,628.9 L1164.5,627.7 L1164.7,626.0 L1164.8,624.7 L1165.0,622.9 L1165.2,621.4 L1165.4,619.8 L1165.6,617.8 L1165.8,616.4 L1166.0,614.6 L1166.2,613.1 L1166.4,611.3 L1166.6,609.4 L1166.8,607.3 L1167.0,605.9 L1167.2,603.9 L1167.4,602.2 L1167.6,600.4 L1167.8,598.7 L1167.9,597.0 L1168.1,595.1 L1168.3,593.5 L1168.5,591.6 L1168.7,589.9 L1168.8,588.3 L1169.0,586.7 L1169.1,585.3 L1169.3,583.5 L1169.4,582.2 L1169.6,580.5 L1169.7,579.3 L1169.9,577.2 L1170.0,574.9 L1170.2,572.8 L1170.3,570.7 L1170.5,568.5 L1170.6,566.2 L1170.7,563.5 L1170.8,561.4 L1170.9,559.2 L1171.0,557.0 L1171.0,555.2 L1171.1,553.4 L1171.2,551.6 L1171.3,549.7 L1171.4,548.1 L1171.5,546.9 L1171.5,546.1 L1171.6,545.1 L1171.7,544.5 L1171.8,543.6 L1172.0,543.8 L1172.1,543.8 L1172.2,543.8 L1172.3,544.6 L1172.5,545.4 L1172.6,546.7 L1172.7,548.4 L1172.8,550.1 L1173.0,552.1 L1173.1,554.5 L1173.2,556.4 L1173.4,558.9 L1173.5,561.3 L1173.7,563.9 L1173.8,566.2 L1173.9,568.7 L1174.1,571.3 L1174.2,573.8 L1174.4,575.9 L1174.5,578.2 L1174.6,580.5 L1174.8,582.5 L1174.9,584.2 L1175.1,585.6 L1175.2,586.7 L1175.3,587.7 L1175.4,588.1 L1175.6,588.2 L1175.7,588.3 L1175.8,587.9 L1175.9,587.6 L1175.9,586.7 L1176.0,586.3 L1176.1,585.0 L1176.2,584.4 L1176.3,583.2 L1176.3,582.0 L1176.4,580.6 L1176.5,579.1 L1176.5,577.8 L1176.6,576.2 L1176.7,574.4 L1176.8,572.9 L1176.8,571.2 L1176.9,569.3 L1177.0,567.2 L1177.0,565.4 L1177.1,563.5 L1177.2,561.3 L1177.3,559.1 L1177.3,557.3 L1177.4,555.2 L1177.5,553.1 L1177.5,551.1 L1177.6,549.2 L1177.7,546.9 L1177.8,545.1 L1177.8,542.7 L1177.9,540.7 L1178.0,539.0 L1178.1,537.1 L1178.2,535.0 L1178.3,533.7 L1178.3,531.6 L1178.4,530.2 L1178.5,528.5 L1178.6,526.9 L1178.7,525.8 L1178.8,523.9 L1179.0,521.7 L1179.1,519.6 L1179.3,518.0 L1179.4,516.0 L1179.6,514.3 L1179.7,512.3 L1179.9,510.6 L1180.1,508.6 L1180.2,506.9 L1180.4,505.4 L1180.5,503.8 L1180.7,501.8 L1180.9,500.1 L1181.1,498.9 L1181.2,497.2 L1181.4,495.8 L1181.6,494.3 L1181.8,492.7 L1181.9,491.2 L1182.1,490.3 L1182.3,489.0 L1182.5,487.8 L1182.7,486.2 L1182.9,485.2 L1183.1,483.9 L1183.6,481.7 L1184.2,479.2 L1184.8,477.2 L1185.4,475.4 L1186.0,474.4 L1186.6,472.8 L1187.3,472.0 L1187.9,470.8 L1188.5,469.9 L1189.1,469.0 L1191.2,467.5 L1193.3,467.7 L1195.0,467.9 L1196.6,468.8 L1198.0,469.4 L1199.0,468.3 L1200.1,467.0 L1201.3,465.4 L1202.5,463.2 L1203.2,461.8 L1204.0,460.1 L1204.8,458.1 L1205.5,455.9 L1206.3,454.5 L1207.1,453.0 L1207.8,452.6 L1208.5,453.5 L1209.1,454.9 L1209.8,457.3 L1210.4,459.5 L1211.0,461.5 L1211.6,462.7 L1212.3,463.1 L1212.9,462.8 L1213.4,461.2 L1213.9,459.4 L1214.4,457.7 L1215.0,455.4 L1215.7,453.3 L1216.4,451.4 L1217.3,450.1 L1218.6,448.5 L1220.1,447.7 L1221.8,446.8 L1223.5,446.1 L1225.1,445.6 L1226.6,445.6 L1227.7,445.2 L1228.9,445.5 L1229.6,445.9 L1230.0,447.1 L1230.7,451.3 L1230.9,452.2 L1231.0,453.4 L1231.2,454.9 L1231.4,456.4 L1231.5,457.6 L1231.7,459.6 L1231.9,461.1 L1232.1,463.0 L1232.3,464.8 L1232.5,466.7 L1232.7,468.4 L1232.9,470.5 L1233.1,472.3 L1233.3,474.5 L1233.5,476.4 L1233.7,477.9 L1233.8,480.1 L1234.0,481.5 L1234.2,483.1 L1234.4,484.7 L1234.6,486.5 L1234.8,487.6 L1235.0,489.1 L1235.2,490.2 L1235.9,493.2 L1236.6,494.2 L1237.3,494.9 L1238.0,495.4 L1238.8,496.6 L1239.6,499.1 L1239.9,500.0 L1240.2,501.1 L1240.5,502.3 L1240.8,503.7 L1241.2,505.5 L1241.5,506.7 L1241.9,508.3 L1242.2,509.9 L1242.6,511.7 L1242.9,513.3 L1243.3,515.0 L1243.6,517.2 L1244.0,518.7 L1244.3,520.9 L1244.6,522.8 L1245.0,524.6 L1245.3,526.9 L1245.6,528.5 L1245.8,530.0 L1246.0,531.9 L1246.2,533.4 L1246.4,534.9 L1246.6,536.9 L1246.8,539.1 L1247.0,540.9 L1247.2,543.1 L1247.4,544.9 L1247.6,547.3 L1247.8,549.1 L1248.0,551.6 L1248.1,553.2 L1248.3,555.4 L1248.5,557.6 L1248.7,559.6 L1248.9,561.3 L1249.1,563.1 L1249.2,564.7 L1249.4,566.2 L1249.6,567.1 L1249.8,568.5 L1249.9,569.4 L1250.1,570.3 L1250.3,571.1 L1250.4,571.7 L1250.6,571.7 L1250.8,571.8 L1251.0,571.3 L1251.1,570.6 L1251.3,569.7 L1251.5,568.6 L1251.6,567.4 L1251.8,566.1 L1252.0,564.4 L1252.1,562.7 L1252.3,560.6 L1252.4,558.5 L1252.6,556.5 L1252.7,554.1 L1252.9,551.9 L1253.0,549.9 L1253.2,547.8 L1253.4,545.3 L1253.5,543.4 L1253.7,541.3 L1253.9,539.3 L1254.1,537.9 L1254.3,535.9 L1254.5,534.7 L1254.8,532.7 L1255.2,530.3 L1255.5,528.2 L1255.9,526.2 L1256.2,523.9 L1256.6,522.2 L1257.0,519.9 L1257.4,517.9 L1257.8,516.2 L1258.2,514.6 L1258.6,513.2 L1259.0,512.0 L1259.4,510.9 L1259.7,509.8 L1260.1,509.3 L1260.4,509.3 L1260.7,509.4 L1261.0,510.0 L1261.3,510.6 L1261.6,511.5 L1261.9,512.3 L1262.2,513.9 L1262.5,515.0 L1262.8,516.7 L1263.1,518.3 L1263.3,520.6 L1263.6,522.7 L1263.9,524.6 L1264.1,527.1 L1264.4,529.7 L1264.6,532.0 L1264.9,534.4 L1265.0,536.0 L1265.1,537.0 L1265.2,538.8 L1265.3,540.4 L1265.4,541.5 L1265.5,543.4 L1265.6,545.4 L1265.7,546.9 L1265.8,548.8 L1265.9,551.0 L1266.0,553.0 L1266.1,554.7 L1266.2,556.8 L1266.3,559.1 L1266.4,561.2 L1266.5,563.0 L1266.6,565.3 L1266.7,567.4 L1266.7,569.2 L1266.8,571.2 L1266.9,573.4 L1267.0,575.2 L1267.1,576.9 L1267.2,578.9 L1267.3,580.7 L1267.4,582.5 L1267.5,583.6 L1267.6,585.2 L1267.7,586.6 L1267.8,588.1 L1267.9,589.0 L1268.0,589.9 L1268.1,591.0 L1268.3,591.6 L1268.4,592.4 L1268.5,592.8 L1268.7,592.7 L1268.9,592.8 L1269.2,592.7 L1269.4,591.9 L1269.6,591.1 L1269.9,589.8 L1270.1,587.9 L1270.4,586.2 L1270.6,584.3 L1270.9,582.3 L1271.1,580.2 L1271.4,578.0 L1271.7,575.5 L1271.9,573.4 L1272.2,571.1 L1272.5,568.9 L1272.7,566.6 L1273.0,564.4 L1273.3,562.0 L1273.5,560.2 L1273.8,558.2 L1274.0,556.7 L1274.3,555.3 L1274.5,553.5 L1274.8,551.4 L1275.0,549.6 L1275.3,547.9 L1275.5,545.8 L1275.8,543.9 L1276.1,541.8 L1276.3,539.9 L1276.6,537.9 L1276.8,536.3 L1277.1,534.5 L1277.4,532.3 L1277.6,530.7 L1277.9,529.2 L1278.1,527.9 L1278.4,526.3 L1278.6,525.0 L1278.9,524.1 L1279.1,522.9 L1279.4,522.3 L1279.6,521.5 L1280.3,521.3 L1280.9,521.4 L1281.6,523.1 L1282.2,526.1 L1282.9,528.4 L1283.5,531.4 L1284.2,533.2 L1284.8,533.7 L1286.1,534.1 L1287.3,533.1 L1288.6,532.2 L1290.0,529.7 L1290.7,528.7 L1291.4,527.2 L1292.2,526.1 L1292.9,524.3 L1293.7,522.1 L1294.5,520.7 L1295.4,519.1 L1296.2,518.4 L1297.8,518.0 L1299.5,518.2 L1301.3,519.2 L1303.0,521.1 L1304.6,521.9 L1306.3,522.7 L1308.0,522.8 L1309.4,524.0 L1310.8,524.4 L1312.0,526.2 L1313.0,527.9 L1313.9,529.8 L1315.0,530.8 L1316.7,529.9 L1318.4,528.2 L1320.2,527.9 L1320.9,528.7 L1321.7,531.0 L1322.4,532.8 L1323.1,534.7 L1323.8,536.7 L1324.6,538.3 L1325.4,538.8 L1326.6,539.2 L1327.7,538.0 L1329.0,536.3 L1330.3,535.2 L1331.7,533.6 L1333.3,533.6 L1335.1,533.6 L1336.9,533.3 L1338.6,533.7 L1340.0,533.6 L1341.1,535.6 L1341.9,536.4 L1342.6,538.4 L1343.3,539.9 L1344.2,541.4 L1345.6,542.1 L1347.2,542.4 L1348.9,543.2 L1350.4,543.3 L1351.8,544.6 L1353.1,545.6 L1354.4,546.3 L1355.6,548.2 L1356.1,549.5 L1356.6,551.4 L1357.2,552.7 L1357.7,553.5 L1358.1,555.2 L1358.6,556.5 L1359.0,559.0 L1359.4,561.0 L1359.8,563.0 L1360.0,564.8 L1360.1,565.6 L1360.2,567.2 L1360.4,568.8 L1360.5,569.7 L1360.6,571.9 L1360.7,573.5 L1360.8,574.4 L1360.9,576.3 L1361.0,578.5 L1361.1,579.9 L1361.2,581.9 L1361.3,584.0 L1361.4,585.8 L1361.5,587.0 L1361.6,589.1 L1361.7,591.0 L1361.8,592.4 L1361.9,594.8 L1362.0,596.1 L1362.1,598.1 L1362.2,599.6 L1362.3,600.9 L1362.4,603.1 L1362.5,604.5 L1362.6,606.6 L1362.7,608.7 L1362.8,610.6 L1362.9,612.1 L1363.0,613.9 L1363.1,616.0 L1363.2,617.8 L1363.3,620.0 L1363.4,621.4 L1363.5,623.1 L1363.5,625.2 L1363.6,627.1 L1363.7,628.1 L1363.8,630.0 L1363.8,630.9 L1363.9,632.2 L1364.0,633.0 L1364.0,634.3"/>
<path stroke="#2aa85e" d="M72.0,448.6 L72.8,448.4 L73.7,448.5 L74.7,448.6 L75.8,448.1 L76.9,448.4 L78.0,448.6 L79.2,448.5 L80.5,448.3 L81.9,448.0 L83.2,448.2 L84.7,448.6 L86.1,448.0 L87.7,448.1 L89.2,448.6 L90.8,448.2 L92.5,448.0 L94.2,448.1 L95.9,448.5 L97.6,448.1 L99.4,448.2 L101.2,448.3 L103.1,448.4 L104.9,448.2 L106.8,447.9 L108.7,448.2 L110.7,447.8 L112.6,447.9 L114.6,447.9 L116.5,448.3 L118.5,448.0 L120.5,448.3 L122.5,447.9 L124.5,447.8 L126.5,447.8 L128.5,448.2 L130.5,448.3 L132.5,447.9 L134.5,447.9 L136.5,447.7 L138.4,448.2 L140.4,447.9 L142.3,447.8 L144.2,448.2 L146.1,448.1 L148.0,448.0 L149.9,447.8 L151.7,448.1 L153.5,448.1 L155.3,448.0 L157.1,447.8 L158.8,448.3 L160.5,448.3 L162.1,448.2 L163.7,448.4 L165.3,448.1 L166.8,447.9 L168.3,447.8 L169.7,448.1 L171.1,448.1 L172.4,448.0 L173.6,448.4 L174.9,448.3 L176.0,447.8 L177.1,448.3 L178.1,447.7 L179.1,448.2 L180.0,448.0 L188.1,448.4 L190.6,448.9 L189.9,448.9 L188.2,449.4 L188.0,449.3 L190.5,450.4 L192.5,450.8 L194.5,451.8 L197.0,452.4 L197.8,452.5 L198.3,453.2 L199.2,453.0 L201.2,453.4 L205.0,453.7 L206.0,454.2 L207.2,454.1 L208.5,454.0 L209.9,454.1 L211.4,454.4 L212.9,454.7 L214.6,454.5 L216.3,454.6 L218.1,455.2 L220.0,455.3 L221.8,455.2 L223.7,455.4 L225.6,455.4 L227.5,455.7 L229.5,455.9 L231.3,456.0 L233.2,456.1 L235.0,456.2 L236.8,456.4 L238.5,456.7 L240.1,457.1 L241.7,457.0 L243.2,457.0 L244.5,456.8 L245.8,457.0 L246.9,457.4 L249.9,457.4 L252.2,457.8 L253.9,457.9 L255.3,457.4 L256.4,457.5 L257.4,457.4 L258.6,457.8 L260.0,457.6 L261.6,457.9 L263.3,458.3 L264.9,458.2 L266.6,458.8 L268.2,458.8 L269.7,459.4 L271.2,459.8 L272.7,460.4 L273.9,461.5 L275.1,462.2 L276.2,463.6 L277.2,464.7 L278.3,465.8 L279.3,467.4 L280.4,468.7 L281.4,470.5 L282.6,472.0 L283.4,472.9 L284.2,474.3 L285.0,476.0 L285.8,477.2 L286.7,479.2 L287.5,480.4 L288.4,482.4 L289.2,483.9 L290.1,485.4 L290.9,487.0 L291.7,488.4 L292.5,489.5 L293.3,490.6 L294.0,491.5 L295.8,493.6 L297.5,494.5 L299.1,494.7 L300.7,495.3 L302.4,495.9 L303.6,496.8 L304.7,498.1 L305.9,499.2 L307.2,500.0 L308.4,501.6 L309.7,502.4 L311.0,503.7 L312.3,504.3 L313.9,505.5 L315.5,506.1 L317.2,506.8 L318.9,507.3 L320.5,507.9 L322.1,508.3 L323.6,508.9 L325.4,508.6 L327.0,508.5 L328.5,508.2 L330.2,507.2 L332.1,506.0 L333.0,504.8 L333.9,504.1 L334.9,502.8 L335.9,501.5 L336.9,500.2 L338.0,498.9 L339.1,497.3 L340.2,495.9 L341.3,494.4 L342.5,493.1 L343.7,491.7 L344.9,490.2 L346.0,489.2 L347.2,488.0 L348.4,486.6 L349.6,485.5 L350.9,483.9 L352.2,482.8 L353.5,481.4 L354.8,480.1 L356.1,479.2 L357.4,478.2 L358.6,477.0 L359.7,476.1 L360.8,475.6 L361.8,475.0 L363.8,474.3 L365.5,474.5 L367.0,475.2 L368.4,476.0 L370.0,476.5 L371.7,476.2 L372.9,475.7 L374.1,474.8 L375.3,473.6 L376.6,472.3 L377.9,470.9 L379.2,469.5 L380.6,468.5 L381.9,467.4 L383.2,466.7 L384.5,466.1 L386.1,466.5 L387.7,466.7 L389.3,467.9 L390.9,468.8 L392.5,470.0 L394.1,471.0 L395.7,471.4 L397.2,471.8 L398.8,471.9 L400.2,471.0 L401.6,469.8 L403.0,468.8 L404.6,467.9 L406.4,467.5 L408.5,467.5 L409.7,467.8 L410.9,468.3 L412.3,469.2 L413.8,470.1 L415.4,470.8 L417.0,471.8 L418.6,472.8 L420.2,473.5 L421.8,474.8 L423.4,475.7 L424.9,476.5 L426.3,477.6 L427.5,478.0 L428.7,478.7 L429.7,479.1 L432.4,479.3 L433.9,478.4 L434.9,477.3 L436.0,476.6 L438.4,476.3 L440.7,476.0 L442.5,474.6 L444.5,473.5 L446.2,472.9 L447.6,473.5 L448.9,474.7 L450.1,477.4 L450.5,478.9 L451.0,480.1 L451.4,481.5 L451.8,483.1 L452.3,484.4 L452.7,486.2 L453.1,488.2 L453.6,490.2 L454.0,492.3 L454.3,493.7 L454.5,495.5 L454.8,496.8 L455.0,498.7 L455.3,500.7 L455.6,502.2 L455.8,504.1 L456.1,506.0 L456.3,507.8 L456.6,509.9 L456.9,511.7 L457.1,513.0 L457.4,514.5 L457.6,516.2 L457.9,517.4 L458.5,519.3 L459.0,521.3 L459.6,522.5 L460.1,523.4 L460.7,524.4 L461.2,526.0 L461.8,528.5 L462.1,529.6 L462.3,530.9 L462.6,532.6 L462.8,533.7 L463.1,535.6 L463.4,537.3 L463.6,539.1 L463.9,540.5 L464.1,542.6 L464.4,544.3 L464.7,546.2 L464.9,547.8 L465.2,550.0 L465.4,551.8 L465.7,553.1 L465.9,555.0 L466.2,556.7 L466.4,558.6 L466.6,560.5 L466.8,562.5 L467.1,564.8 L467.3,566.8 L467.5,568.8 L467.8,570.8 L468.0,572.6 L468.2,574.6 L468.5,576.2 L468.7,577.3 L468.9,578.5 L469.1,579.6 L469.4,580.3 L469.6,580.8 L469.9,580.8 L470.2,579.9 L470.5,579.5 L470.8,577.9 L471.1,576.7 L471.4,575.0 L471.6,572.8 L471.9,570.7 L472.2,568.4 L472.5,566.3 L472.9,564.2 L473.2,561.5 L473.5,559.7 L473.7,558.1 L473.9,557.0 L474.1,555.3 L474.3,553.6 L474.6,551.9 L474.8,550.5 L475.0,548.6 L475.2,547.0 L475.5,545.2 L475.7,543.5 L475.9,541.4 L476.1,539.6 L476.4,537.8 L476.6,536.3 L476.8,534.3 L477.1,532.6 L477.3,531.1 L477.5,529.7 L477.7,527.9 L478.0,526.5 L478.2,525.0 L478.6,523.3 L478.9,521.2 L479.3,519.2 L479.7,517.1 L480.0,515.1 L480.4,513.2 L480.8,511.6 L481.2,510.2 L481.5,508.5 L481.9,506.8 L482.2,505.9 L482.6,504.6 L482.9,503.1 L483.9,500.0 L484.9,498.1 L485.8,497.0 L486.8,497.2 L487.4,497.5 L487.9,498.9 L488.5,500.1 L489.1,501.7 L489.6,504.0 L490.2,506.0 L490.7,508.1 L491.0,509.3 L491.3,511.3 L491.6,512.7 L491.9,514.6 L492.2,516.6 L492.5,518.1 L492.8,520.0 L493.0,522.1 L493.3,523.7 L493.5,525.5 L493.8,526.9 L494.2,529.2 L494.6,532.0 L495.0,534.0 L495.4,536.2 L495.8,537.1 L496.2,536.8 L496.4,536.2 L496.6,535.4 L496.9,534.3 L497.1,532.9 L497.3,531.1 L497.6,529.4 L497.8,527.6 L498.1,526.0 L498.3,523.8 L498.6,521.8 L498.8,520.0 L499.1,517.5 L499.3,516.0 L499.5,514.5 L499.7,512.7 L499.8,511.2 L500.0,509.1 L500.2,507.6 L500.4,505.6 L500.5,504.1 L500.7,502.5 L500.9,500.6 L501.1,498.6 L501.2,497.0 L501.4,495.2 L501.6,493.2 L501.8,491.8 L502.0,490.2 L502.2,489.0 L502.4,487.6 L502.8,485.2 L503.2,483.2 L503.6,481.5 L503.9,480.1 L504.4,478.7 L504.8,477.3 L505.3,476.1 L505.8,474.6 L506.3,473.5 L507.3,471.7 L508.3,470.2 L509.5,469.3 L510.8,468.1 L512.6,467.2 L513.8,467.0 L515.0,466.3 L516.2,466.0 L517.6,465.7 L519.2,465.1 L521.0,464.7 L523.3,464.9 L526.0,464.5 L527.2,464.2 L528.5,463.8 L529.8,463.4 L531.3,463.2 L532.8,463.2 L534.4,462.8 L536.1,462.9 L537.8,462.9 L539.5,462.6 L541.3,461.9 L543.0,461.7 L544.8,461.3 L546.6,461.7 L548.4,461.5 L550.2,461.2 L552.0,460.9 L553.7,460.6 L555.3,460.7 L557.0,460.0 L558.5,460.0 L560.0,460.1 L561.8,459.6 L563.4,459.3 L564.8,458.9 L566.2,458.8 L567.4,459.0 L568.6,458.6 L569.8,458.5 L571.1,458.4 L572.4,458.1 L573.8,457.8 L575.4,457.3 L577.2,457.6 L579.2,457.1 L581.4,456.9 L584.0,456.6 L586.9,456.8 L588.1,456.8 L589.3,456.4 L590.6,456.4 L591.9,456.5 L593.3,456.5 L594.8,456.3 L596.3,456.7 L597.9,456.3 L599.5,456.1 L601.2,456.4 L602.9,456.4 L604.6,456.0 L606.4,455.9 L608.2,455.9 L610.0,455.6 L611.8,456.1 L613.7,455.6 L615.6,455.5 L617.5,455.8 L619.4,455.6 L621.3,455.7 L623.2,455.3 L625.1,455.6 L627.0,455.8 L628.9,455.7 L630.7,455.0 L632.6,455.1 L634.5,455.1 L636.3,455.3 L638.1,455.2 L639.8,455.2 L641.6,455.0 L643.3,454.9 L645.0,455.1 L646.6,454.9 L648.2,455.2 L649.7,455.4 L651.2,454.8 L652.6,455.4 L654.0,455.4 L655.3,455.0 L656.5,454.8 L657.7,455.1 L658.8,455.0 L662.2,455.5 L665.0,455.8 L667.5,456.1 L669.6,456.0 L671.4,456.4 L672.9,456.8 L674.2,457.2 L675.3,457.8 L676.4,458.2 L677.4,458.3 L678.4,458.9 L679.4,459.4 L680.6,459.8 L682.7,460.6 L684.5,461.0 L686.0,461.7 L687.4,462.6 L688.6,463.2 L689.7,464.0 L690.7,465.1 L692.2,466.2 L693.4,467.0 L694.3,468.7 L695.2,470.1 L695.8,471.7 L696.3,472.7 L696.8,474.2 L697.3,475.6 L697.8,477.3 L698.3,479.0 L698.8,481.1 L699.1,482.7 L699.5,483.8 L699.9,485.4 L700.3,487.3 L700.7,488.9 L701.1,490.7 L701.5,492.3 L701.9,494.0 L702.3,496.2 L702.6,497.6 L702.8,498.9 L703.1,500.7 L703.4,502.3 L703.7,503.8 L703.9,505.5 L704.2,507.2 L704.5,508.9 L704.8,510.5 L705.0,511.9 L705.3,513.8 L705.6,515.4 L705.9,516.9 L706.2,518.8 L706.6,520.4 L707.0,523.0 L707.3,525.2 L707.7,527.1 L708.1,529.1 L708.4,531.2 L708.8,532.9 L709.2,534.0 L709.5,534.7 L709.9,535.2 L710.3,535.2 L710.8,534.6 L711.2,533.4 L711.7,531.3 L712.1,529.4 L712.6,527.5 L713.0,525.2 L713.5,523.1 L713.9,521.4 L714.2,519.5 L714.6,518.2 L714.9,516.5 L715.2,514.9 L715.6,513.0 L715.9,511.6 L716.2,509.7 L716.5,508.1 L716.9,506.5 L717.2,504.8 L717.5,503.1 L717.9,501.5 L718.3,499.5 L718.7,498.0 L719.1,496.4 L719.5,494.8 L719.9,492.9 L720.3,491.3 L720.7,489.7 L721.1,488.1 L721.5,486.2 L722.0,484.4 L722.4,482.5 L722.9,480.7 L723.3,479.4 L723.7,477.4 L724.2,475.9 L724.6,474.9 L725.3,472.5 L725.9,470.7 L726.6,469.2 L727.4,467.9 L728.2,466.7 L729.4,465.3 L730.6,464.7 L732.0,463.8 L733.6,462.7 L735.0,461.5 L736.5,460.4 L738.1,459.6 L739.8,458.2 L741.4,457.6 L742.5,456.9 L743.6,456.8 L744.7,456.1 L745.9,456.2 L747.0,454.8 L748.1,454.9 L749.0,455.2 L749.8,455.0 L750.8,454.0 L751.5,452.7 L752.0,451.4 L752.4,450.2 L752.9,449.7 L753.2,449.7 L753.3,451.1 L753.5,452.3 L753.6,453.1 L753.8,453.7 L754.0,455.7 L754.3,457.0 L754.7,457.8 L755.2,458.5 L755.7,460.2 L756.4,460.2 L757.1,460.9 L757.8,462.8 L758.7,463.6 L759.5,465.4 L760.4,464.6 L761.2,465.5 L762.1,467.3 L762.9,467.3 L763.7,468.3 L764.8,468.5 L765.9,468.2 L767.0,467.2 L768.1,467.7 L769.1,468.5 L770.2,465.2 L771.2,467.0 L772.1,467.4 L772.8,466.0 L773.5,464.4 L774.1,464.1 L774.7,462.6 L775.2,461.1 L775.8,462.3 L776.5,461.1 L777.3,457.9 L778.2,456.7 L779.1,458.9 L780.0,457.4 L781.1,457.5 L782.2,456.0 L783.3,458.6 L784.5,458.3 L785.6,457.3 L786.8,458.3 L787.9,455.1 L789.0,457.0 L790.0,454.3 L791.2,458.0 L792.4,456.2 L793.5,457.0 L794.6,455.1 L795.7,453.5 L796.8,454.1 L797.8,455.3 L798.8,455.7 L799.7,456.7 L800.9,455.4 L802.0,454.6 L802.9,454.2 L803.9,450.9 L804.8,451.6 L805.9,449.6 L806.6,451.0 L807.3,453.9 L808.0,451.8 L808.7,452.4 L809.4,453.9 L810.1,453.2 L810.9,455.5 L811.7,455.4 L812.6,457.8 L813.6,456.7 L814.5,460.0 L815.4,458.4 L816.4,459.2 L817.5,456.5 L818.6,457.4 L819.7,459.1 L820.8,458.2 L821.9,455.3 L823.0,455.9 L824.0,455.5 L824.9,452.7 L825.8,456.3 L826.9,453.3 L827.9,454.4 L828.7,452.5 L829.4,456.1 L830.2,456.3 L831.1,458.2 L832.2,455.4 L833.5,455.4 L834.3,455.5 L835.1,455.7 L835.9,458.8 L836.8,457.4 L837.7,457.3 L838.7,459.0 L839.7,458.8 L840.7,461.4 L841.8,458.6 L842.8,461.9 L843.8,461.7 L844.9,463.0 L845.9,461.1 L846.9,462.3 L847.9,460.9 L848.9,462.6 L849.9,461.0 L850.8,460.6 L851.8,461.6 L852.7,462.1 L853.7,461.2 L854.6,460.9 L855.6,460.2 L856.6,459.6 L857.5,459.4 L858.5,457.0 L859.4,457.1 L860.4,456.5 L861.3,456.0 L862.3,457.0 L863.2,455.4 L864.2,456.6 L865.2,455.4 L866.3,455.7 L867.3,455.4 L868.4,455.9 L869.4,455.6 L870.5,455.4 L871.6,455.2 L872.6,456.6 L873.7,455.5 L874.7,456.7 L875.7,456.7 L876.7,456.5 L877.7,456.8 L878.7,457.1 L879.6,457.5 L880.7,457.5 L881.7,457.7 L882.8,458.3 L883.8,458.7 L884.8,458.7 L885.8,459.4 L886.7,459.3 L887.7,459.9 L888.6,460.3 L889.4,460.9 L890.3,461.4 L891.1,461.6 L891.8,462.1 L893.3,463.0 L894.5,463.5 L895.6,464.8 L896.6,465.5 L897.5,467.1 L898.3,469.4 L898.6,470.4 L898.9,471.1 L899.2,471.6 L899.4,472.3 L899.6,473.0 L899.8,473.8 L900.0,474.8 L900.1,476.2 L900.3,478.1 L900.5,480.3 L900.7,483.1 L900.9,486.3 L901.2,490.0 L901.3,490.8 L901.3,492.2 L901.4,493.3 L901.5,494.2 L901.5,495.4 L901.6,497.0 L901.7,498.1 L901.8,499.3 L901.8,500.8 L901.9,501.8 L902.0,503.3 L902.0,505.1 L902.1,506.3 L902.2,508.0 L902.3,509.5 L902.4,511.0 L902.4,512.5 L902.5,514.1 L902.6,515.7 L902.7,517.5 L902.7,519.1 L902.8,520.5 L902.9,522.4 L903.0,524.2 L903.1,526.0 L903.1,527.6 L903.2,529.4 L903.3,531.4 L903.4,533.1 L903.5,534.7 L903.6,536.4 L903.6,538.6 L903.7,540.3 L903.8,541.8 L903.9,543.9 L904.0,545.8 L904.1,547.8 L904.2,549.3 L904.2,551.0 L904.3,553.0 L904.4,554.7 L904.5,556.8 L904.6,558.3 L904.7,560.5 L904.8,561.8 L904.9,563.9 L905.0,565.8 L905.0,567.2 L905.1,569.0 L905.2,570.6 L905.3,572.6 L905.4,574.3 L905.5,575.8 L905.6,577.6 L905.7,579.2 L905.8,580.9 L905.9,582.6 L906.0,584.0 L906.1,585.8 L906.2,587.5 L906.3,588.9 L906.4,590.6 L906.5,592.4 L906.6,593.6 L906.6,595.3 L906.7,597.1 L906.8,598.9 L906.9,600.1 L907.0,602.0 L907.1,603.2 L907.2,604.9 L907.3,606.6 L907.4,608.2 L907.5,609.8 L907.6,611.6 L907.7,613.2 L907.8,614.8 L907.9,616.4 L908.0,617.7 L908.1,619.7 L908.2,621.3 L908.3,622.6 L908.4,624.4 L908.5,625.8 L908.6,627.4 L908.7,629.3 L908.8,630.9 L908.9,632.7 L909.1,634.1 L909.2,635.5 L909.3,637.3 L909.4,638.9 L909.5,640.4 L909.6,642.5 L909.7,643.8 L909.8,645.7 L910.0,647.0 L910.1,648.9 L910.2,650.4 L910.3,651.9 L910.4,653.7 L910.6,655.2 L910.7,656.9 L910.8,658.8 L910.9,660.2 L911.1,662.1 L911.2,663.7 L911.3,665.3 L911.5,667.0 L911.6,668.7 L911.7,669.9 L911.9,671.7 L912.0,673.5 L912.1,675.1 L912.3,676.7 L912.4,678.6 L912.6,680.6 L912.7,682.2 L912.9,683.9 L913.0,686.0 L913.2,687.9 L913.3,689.8 L913.5,691.8 L913.6,693.8 L913.8,695.5 L913.9,697.6 L914.1,699.6 L914.3,701.3 L914.4,703.1 L914.6,705.5 L914.8,707.5 L914.9,709.1 L915.1,711.4 L915.3,713.2 L915.4,715.0 L915.6,716.9 L915.8,718.8 L915.9,721.1 L916.1,722.7 L916.3,724.9 L916.4,726.4 L916.6,728.3 L916.8,730.4 L916.9,731.9 L917.1,733.8 L917.3,735.6 L917.4,737.0 L917.6,738.7 L917.8,740.5 L917.9,742.1 L918.1,743.6 L918.3,745.3 L918.4,746.4 L918.6,748.0 L918.7,749.4 L918.9,750.9 L919.0,752.1 L919.2,753.2 L919.3,754.6 L919.5,755.6 L919.6,756.6 L919.8,757.6 L919.9,758.5 L920.1,759.0 L920.2,759.9 L920.3,760.6 L920.5,761.1 L920.6,761.6 L920.9,762.8 L921.3,763.8 L921.6,764.3 L921.8,764.9 L922.1,764.8 L922.3,764.4 L922.6,763.7 L922.8,762.6 L923.0,761.2 L923.3,760.1 L923.5,758.3 L923.7,755.9 L924.0,753.9 L924.2,751.2 L924.5,748.4 L924.7,745.5 L925.0,742.6 L925.4,739.2 L925.7,735.6 L926.1,732.0 L926.5,728.1 L926.6,726.9 L926.7,726.0 L926.8,724.5 L926.9,723.8 L927.1,722.3 L927.2,721.1 L927.3,720.0 L927.4,718.6 L927.5,717.3 L927.7,715.9 L927.8,714.4 L927.9,713.0 L928.0,711.9 L928.2,710.1 L928.3,708.8 L928.4,707.2 L928.6,705.7 L928.7,704.2 L928.8,702.6 L929.0,701.1 L929.1,699.4 L929.3,697.7 L929.4,695.7 L929.5,694.2 L929.7,692.6 L929.8,690.8 L930.0,689.2 L930.1,687.1 L930.3,685.6 L930.4,683.5 L930.6,681.8 L930.7,680.1 L930.9,678.1 L931.0,676.2 L931.2,674.5 L931.3,672.5 L931.5,671.0 L931.6,668.9 L931.8,667.2 L931.9,665.4 L932.1,663.4 L932.2,661.5 L932.4,659.8 L932.6,657.7 L932.7,655.6 L932.9,654.1 L933.0,652.0 L933.2,650.4 L933.3,648.5 L933.5,646.6 L933.6,644.7 L933.8,642.7 L934.0,641.0 L934.1,638.9 L934.3,637.5 L934.4,635.3 L934.6,633.4 L934.7,631.7 L934.9,630.3 L935.0,628.5 L935.2,626.5 L935.4,625.1 L935.5,623.3 L935.7,621.5 L935.8,619.7 L936.0,618.4 L936.1,616.4 L936.3,614.8 L936.4,613.4 L936.6,611.6 L936.7,610.4 L936.9,608.8 L937.0,607.4 L937.1,605.6 L937.3,604.2 L937.4,603.2 L937.6,601.4 L937.7,600.2 L937.9,598.8 L938.0,597.7 L938.1,596.5 L938.3,595.3 L938.4,594.0 L938.7,591.2 L939.0,588.8 L939.4,586.0 L939.7,583.7 L940.0,581.2 L940.3,578.8 L940.6,576.3 L941.0,574.0 L941.3,571.6 L941.6,569.6 L941.9,567.5 L942.2,565.2 L942.6,563.2 L942.9,561.3 L943.2,559.5 L943.5,557.4 L943.8,555.6 L944.1,554.1 L944.4,552.5 L944.7,551.0 L945.0,549.6 L945.3,548.2 L945.6,546.7 L945.9,545.3 L946.2,544.1 L946.5,543.3 L946.8,542.2 L947.0,541.6 L947.3,540.7 L947.6,540.0 L947.8,539.0 L948.1,538.5 L948.3,538.5 L948.6,537.7 L948.8,537.4 L949.1,537.4 L949.4,537.5 L949.7,537.8 L950.0,538.5 L950.2,538.9 L950.5,540.0 L950.7,540.9 L951.0,542.3 L951.2,543.6 L951.4,545.4 L951.7,547.1 L951.9,548.8 L952.1,550.4 L952.3,552.5 L952.5,554.6 L952.7,556.6 L952.9,559.2 L953.1,561.2 L953.3,563.7 L953.5,565.8 L953.7,568.3 L953.9,570.4 L954.1,572.7 L954.4,574.9 L954.6,577.0 L954.8,579.3 L954.9,580.6 L955.1,582.0 L955.2,583.7 L955.4,585.5 L955.5,587.2 L955.6,589.0 L955.8,590.8 L955.9,593.0 L956.1,594.9 L956.2,597.5 L956.3,599.3 L956.5,601.8 L956.6,603.9 L956.8,606.1 L956.9,608.5 L957.1,610.9 L957.2,613.1 L957.3,615.2 L957.5,617.6 L957.6,619.8 L957.7,622.3 L957.9,624.4 L958.0,626.3 L958.2,628.8 L958.3,630.6 L958.4,632.5 L958.6,634.5 L958.7,636.0 L958.9,637.9 L959.0,639.3 L959.2,640.9 L959.3,642.4 L959.4,643.3 L959.6,644.3 L959.7,645.7 L959.9,646.6 L960.0,646.9 L960.1,647.3 L960.3,647.7 L960.4,648.1 L960.6,647.8 L960.7,647.7 L960.8,647.4 L960.9,647.2 L961.0,646.4 L961.1,645.8 L961.2,645.0 L961.3,644.2 L961.4,643.6 L961.5,642.7 L961.6,641.7 L961.7,640.5 L961.8,639.1 L961.9,638.2 L962.0,636.9 L962.1,635.0 L962.2,633.9 L962.3,632.5 L962.4,630.6 L962.5,629.3 L962.6,627.6 L962.7,625.9 L962.8,624.2 L962.9,622.0 L963.0,620.1 L963.1,618.3 L963.2,616.5 L963.3,614.5 L963.4,612.4 L963.5,610.6 L963.6,608.6 L963.7,606.7 L963.8,604.2 L963.9,602.1 L964.0,600.0 L964.1,598.2 L964.2,595.8 L964.3,593.7 L964.4,591.6 L964.5,589.5 L964.6,587.5 L964.7,585.4 L964.8,583.5 L964.9,581.4 L965.0,579.3 L965.1,577.4 L965.2,575.6 L965.3,573.5 L965.4,571.6 L965.5,569.7 L965.6,567.7 L965.7,565.9 L965.8,564.3 L965.9,562.7 L966.0,561.0 L966.1,559.4 L966.1,557.4 L966.2,556.1 L966.3,554.5 L966.4,553.1 L966.5,551.8 L966.6,550.7 L966.7,549.3 L966.9,546.8 L967.1,544.0 L967.3,541.6 L967.5,538.6 L967.7,536.5 L967.9,533.8 L968.1,531.3 L968.3,529.0 L968.4,526.4 L968.6,524.4 L968.8,522.2 L969.0,519.9 L969.1,517.9 L969.3,516.2 L969.5,514.5 L969.7,512.9 L969.9,511.8 L970.1,510.6 L970.3,509.5 L970.4,508.5 L970.6,507.7 L970.8,507.2 L971.0,507.3 L971.3,507.2 L971.5,507.5 L971.7,507.8 L971.8,508.0 L972.0,508.5 L972.1,509.2 L972.3,509.6 L972.4,510.3 L972.5,510.8 L972.7,511.3 L972.8,512.0 L973.0,512.9 L973.1,513.7 L973.3,514.3 L973.4,515.2 L973.6,516.2 L973.7,517.3 L973.9,518.3 L974.1,519.7 L974.2,521.0 L974.4,521.8 L974.5,523.5 L974.7,524.8 L974.8,526.2 L975.0,527.7 L975.2,529.3 L975.3,530.9 L975.5,532.4 L975.7,534.1 L975.8,536.1 L976.0,537.9 L976.1,540.3 L976.3,542.0 L976.5,544.2 L976.6,546.5 L976.8,548.7 L976.9,551.1 L977.1,553.8 L977.3,556.2 L977.4,558.6 L977.6,561.7 L977.7,564.0 L977.9,567.1 L978.0,569.9 L978.2,572.9 L978.3,576.3 L978.5,579.0 L978.6,580.2 L978.6,581.2 L978.7,582.7 L978.7,583.4 L978.8,585.0 L978.8,586.1 L978.9,587.0 L978.9,588.2 L979.0,589.6 L979.0,590.7 L979.1,592.1 L979.1,593.2 L979.2,594.9 L979.2,595.9 L979.3,597.5 L979.3,598.9 L979.4,600.3 L979.4,601.6 L979.5,603.0 L979.5,604.4 L979.6,605.7 L979.6,607.1 L979.7,609.0 L979.7,610.0 L979.8,611.9 L979.8,613.3 L979.9,614.7 L979.9,616.3 L980.0,617.9 L980.0,619.5 L980.1,621.0 L980.1,622.8 L980.2,624.0 L980.2,625.8 L980.3,627.5 L980.3,629.0 L980.4,630.5 L980.4,632.3 L980.5,633.9 L980.5,635.5 L980.6,637.4 L980.6,639.2 L980.7,640.8 L980.7,642.4 L980.8,644.4 L980.8,646.0 L980.9,647.8 L980.9,649.5 L981.0,651.0 L981.0,653.1 L981.1,654.7 L981.1,656.2 L981.2,658.0 L981.2,659.6 L981.3,661.5 L981.3,663.6 L981.4,665.1 L981.4,666.8 L981.5,668.9 L981.5,670.7 L981.6,672.3 L981.6,674.4 L981.7,675.9 L981.7,678.0 L981.8,679.8 L981.8,681.6 L981.8,683.2 L981.9,685.0 L981.9,686.7 L982.0,688.7 L982.0,690.8 L982.1,692.6 L982.1,694.2 L982.2,696.2 L982.2,697.7 L982.3,699.7 L982.3,701.4 L982.4,703.3 L982.4,704.9 L982.5,707.0 L982.5,708.9 L982.6,710.7 L982.6,712.1 L982.7,714.2 L982.7,715.8 L982.8,717.6 L982.8,719.3 L982.9,721.4 L982.9,723.1 L983.0,724.9 L983.0,726.8 L983.1,728.2 L983.1,730.1 L983.2,731.9 L983.2,733.5 L983.3,735.6 L983.3,737.2 L983.4,738.8 L983.4,740.4 L983.5,742.4 L983.5,744.0 L983.6,745.6 L983.6,747.4 L983.7,749.1 L983.7,750.8 L983.8,752.1 L983.8,753.9 L983.9,755.3 L983.9,757.4 L983.9,759.0 L984.0,760.5 L984.0,761.8 L984.1,763.6 L984.1,765.0 L984.2,766.6 L984.2,768.2 L984.3,769.5 L984.3,771.1 L984.4,772.6 L984.4,774.3 L984.5,775.5 L984.5,777.0 L984.6,778.7 L984.6,780.0 L984.7,781.6 L984.7,782.9 L984.8,784.1 L984.8,785.4 L984.9,787.0 L984.9,788.4 L985.0,789.5 L985.0,790.7 L985.1,792.9 L985.2,794.8 L985.2,797.4 L985.3,799.2 L985.4,801.6 L985.5,803.9 L985.5,805.6 L985.6,808.0 L985.7,810.0 L985.8,812.3 L985.9,814.7 L985.9,816.6 L986.0,818.9 L986.1,821.0 L986.2,823.0 L986.2,825.2 L986.3,827.8 L986.4,829.5 L986.5,832.0 L986.5,834.1 L986.6,836.1 L986.7,838.3 L986.8,840.5 L986.8,842.6 L986.9,844.4 L987.0,846.8 L987.1,848.7 L987.1,850.6 L987.2,853.0 L987.3,854.8 L987.4,856.6 L987.4,859.0 L987.5,860.8 L987.6,862.6 L987.7,864.5 L987.7,866.4 L987.8,868.7 L987.9,870.6 L988.0,872.1 L988.0,874.1 L988.1,876.1 L988.2,877.6 L988.3,879.3 L988.3,881.2 L988.4,883.0 L988.5,884.6 L988.5,886.2 L988.6,887.8 L988.7,889.6 L988.8,891.1 L988.8,892.5 L988.9,893.9 L989.0,895.5 L989.1,897.0 L989.1,898.3 L989.2,899.7 L989.3,900.8 L989.4,902.5 L989.4,903.6 L989.5,904.9 L989.6,905.9 L989.7,907.1 L989.7,907.7 L989.8,908.9 L989.9,909.9 L990.0,910.9 L990.0,911.7 L990.1,912.7 L990.2,913.5 L990.3,914.2 L990.3,914.7 L990.4,915.7 L990.5,916.3 L990.6,916.7 L990.6,917.0 L990.7,917.4 L990.8,918.0 L990.9,918.5 L990.9,918.3 L991.0,918.9 L991.1,919.1 L991.2,918.9 L991.3,918.9 L991.4,918.9 L991.5,918.6 L991.6,918.8 L991.7,918.0 L991.8,917.6 L991.9,917.1 L992.0,916.9 L992.1,915.8 L992.2,915.2 L992.3,914.3 L992.4,913.6 L992.5,912.2 L992.6,911.1 L992.6,910.4 L992.7,908.9 L992.8,907.8 L992.9,906.6 L993.0,904.9 L993.1,903.7 L993.2,902.3 L993.3,900.5 L993.4,899.0 L993.5,897.5 L993.6,895.6 L993.7,894.0 L993.8,891.9 L993.9,890.1 L994.0,888.1 L994.1,886.4 L994.2,884.5 L994.3,882.2 L994.4,880.2 L994.5,878.4 L994.6,875.9 L994.7,873.7 L994.8,871.6 L994.9,869.5 L995.0,867.2 L995.1,865.2 L995.2,862.8 L995.3,860.4 L995.4,858.0 L995.5,855.8 L995.6,853.8 L995.7,851.3 L995.8,849.2 L995.9,846.5 L996.0,844.4 L996.1,841.7 L996.2,839.4 L996.3,837.2 L996.4,834.6 L996.5,832.3 L996.6,830.1 L996.7,827.5 L996.8,825.3 L996.9,823.1 L997.0,820.6 L997.1,819.6 L997.1,818.0 L997.2,817.1 L997.2,815.6 L997.3,814.3 L997.3,812.7 L997.4,811.6 L997.5,810.2 L997.5,808.5 L997.6,807.0 L997.6,805.7 L997.7,804.0 L997.8,802.7 L997.8,801.3 L997.9,799.7 L998.0,798.0 L998.0,796.3 L998.1,794.6 L998.2,793.3 L998.2,791.5 L998.3,789.6 L998.3,787.8 L998.4,786.4 L998.5,784.5 L998.5,782.7 L998.6,780.9 L998.7,779.6 L998.7,777.7 L998.8,775.6 L998.9,773.9 L998.9,772.2 L999.0,770.4 L999.1,768.6 L999.1,766.7 L999.2,764.9 L999.3,763.2 L999.3,761.2 L999.4,759.2 L999.5,757.2 L999.5,755.7 L999.6,753.6 L999.7,751.5 L999.7,750.0 L999.8,747.8 L999.9,746.2 L999.9,744.2 L1000.0,742.4 L1000.1,740.6 L1000.1,738.7 L1000.2,736.4 L1000.3,734.7 L1000.3,732.8 L1000.4,731.0 L1000.5,728.9 L1000.5,726.9 L1000.6,725.3 L1000.7,723.2 L1000.7,721.6 L1000.8,719.3 L1000.9,717.6 L1000.9,715.4 L1001.0,713.9 L1001.1,712.2 L1001.1,710.2 L1001.2,708.0 L1001.3,706.3 L1001.3,704.7 L1001.4,702.6 L1001.4,700.8 L1001.5,699.1 L1001.6,697.5 L1001.6,695.8 L1001.7,693.9 L1001.8,692.2 L1001.8,690.4 L1001.9,688.4 L1001.9,686.6 L1002.0,685.3 L1002.1,683.2 L1002.1,681.7 L1002.2,680.3 L1002.2,678.4 L1002.3,676.7 L1002.4,675.4 L1002.4,673.7 L1002.5,672.0 L1002.5,670.4 L1002.6,669.0 L1002.6,667.4 L1002.7,665.9 L1002.8,664.4 L1002.8,662.9 L1002.9,661.8 L1002.9,660.0 L1003.0,658.7 L1003.0,657.3 L1003.1,656.3 L1003.1,654.8 L1003.2,653.8 L1003.2,652.1 L1003.3,650.9 L1003.3,649.8 L1003.4,648.8 L1003.4,647.6 L1003.5,646.6 L1003.5,645.3 L1003.5,644.6 L1003.6,643.5 L1003.6,642.4 L1003.7,641.4 L1003.7,640.4 L1003.8,639.8 L1003.8,638.8 L1004.5,625.8 L1004.9,622.5 L1005.2,624.7 L1005.5,628.6 L1006.0,629.8 L1006.9,628.1 L1008.0,626.9 L1009.1,625.6 L1010.4,623.8 L1011.1,622.4 L1011.8,620.9 L1012.6,619.2 L1013.4,617.7 L1014.2,615.9 L1015.0,614.3 L1015.7,612.7 L1016.4,612.0 L1018.8,612.6 L1020.8,613.5 L1021.2,611.9 L1021.6,609.4 L1022.0,606.3 L1022.4,603.6 L1022.7,600.9 L1023.1,598.8 L1023.4,598.8 L1023.8,600.3 L1023.9,600.7 L1024.0,601.5 L1024.1,602.4 L1024.2,602.8 L1024.3,604.0 L1024.3,604.8 L1024.4,605.9 L1024.5,606.8 L1024.6,608.1 L1024.7,609.0 L1024.8,610.5 L1024.9,611.5 L1025.0,612.9 L1025.1,614.3 L1025.2,615.6 L1025.3,617.3 L1025.4,618.8 L1025.4,620.4 L1025.5,622.2 L1025.6,624.3 L1025.7,626.1 L1025.8,627.8 L1025.9,629.9 L1026.0,631.8 L1026.1,634.0 L1026.2,636.1 L1026.3,638.3 L1026.4,641.0 L1026.4,643.0 L1026.5,645.7 L1026.6,648.5 L1026.7,650.9 L1026.8,653.7 L1026.8,654.8 L1026.9,656.0 L1026.9,657.5 L1027.0,658.6 L1027.0,660.3 L1027.0,661.6 L1027.1,663.0 L1027.1,664.8 L1027.1,666.4 L1027.2,668.0 L1027.2,669.6 L1027.3,671.4 L1027.3,673.4 L1027.3,675.2 L1027.4,677.0 L1027.4,678.6 L1027.4,680.5 L1027.5,682.8 L1027.5,684.7 L1027.5,686.4 L1027.6,688.7 L1027.6,690.6 L1027.7,692.6 L1027.7,694.8 L1027.7,696.8 L1027.8,698.8 L1027.8,701.4 L1027.8,703.3 L1027.9,705.3 L1027.9,707.6 L1028.0,709.9 L1028.0,712.1 L1028.0,714.2 L1028.1,716.1 L1028.1,718.3 L1028.1,720.8 L1028.2,722.7 L1028.2,725.0 L1028.2,727.1 L1028.3,729.3 L1028.3,731.2 L1028.4,733.1 L1028.4,735.5 L1028.4,737.1 L1028.5,739.6 L1028.5,741.4 L1028.5,743.5 L1028.6,745.3 L1028.6,747.1 L1028.7,748.8 L1028.7,750.6 L1028.7,752.7 L1028.8,754.3 L1028.8,756.1 L1028.8,757.6 L1028.9,759.5 L1028.9,761.0 L1029.0,762.7 L1029.0,763.9 L1029.0,765.6 L1029.1,766.6 L1029.1,768.0 L1029.1,769.2 L1029.2,770.3 L1029.2,771.6 L1029.2,772.5 L1029.3,773.5 L1029.3,774.5 L1029.4,775.5 L1029.4,776.6 L1029.4,777.2 L1029.5,777.6 L1029.5,778.2 L1029.5,778.9 L1029.6,779.3 L1029.6,779.6 L1029.7,779.9 L1029.7,779.6 L1029.7,779.6 L1029.8,779.6 L1029.8,779.8 L1029.9,779.6 L1029.9,778.8 L1030.0,778.5 L1030.0,778.0 L1030.0,777.4 L1030.1,776.5 L1030.1,776.1 L1030.2,775.2 L1030.2,774.3 L1030.2,773.1 L1030.3,771.8 L1030.3,770.5 L1030.4,769.2 L1030.4,768.1 L1030.4,766.7 L1030.5,765.2 L1030.5,763.5 L1030.6,762.3 L1030.6,760.6 L1030.6,758.9 L1030.7,757.2 L1030.7,755.3 L1030.8,753.3 L1030.8,751.6 L1030.8,749.7 L1030.9,747.9 L1030.9,745.7 L1031.0,743.5 L1031.0,741.7 L1031.0,739.4 L1031.1,737.4 L1031.1,735.7 L1031.2,733.3 L1031.2,731.1 L1031.2,729.1 L1031.3,726.9 L1031.3,724.5 L1031.4,722.7 L1031.4,720.4 L1031.5,718.1 L1031.5,715.9 L1031.5,713.7 L1031.6,711.5 L1031.6,709.2 L1031.7,706.8 L1031.7,704.7 L1031.8,702.6 L1031.8,700.4 L1031.9,698.6 L1031.9,696.3 L1031.9,694.5 L1032.0,692.2 L1032.0,690.3 L1032.1,688.6 L1032.1,686.3 L1032.2,684.6 L1032.2,683.0 L1032.3,681.2 L1032.3,679.5 L1032.4,677.4 L1032.4,676.0 L1032.5,674.1 L1032.5,672.5 L1032.6,671.5 L1032.6,669.8 L1032.7,668.6 L1032.8,666.6 L1032.9,664.6 L1033.0,662.2 L1033.0,660.1 L1033.1,658.4 L1033.2,656.2 L1033.3,654.1 L1033.4,652.4 L1033.5,650.2 L1033.6,648.6 L1033.7,646.6 L1033.8,644.7 L1033.9,642.4 L1034.0,640.9 L1034.1,638.7 L1034.2,636.9 L1034.3,635.1 L1034.4,633.3 L1034.5,632.0 L1034.6,630.2 L1034.7,628.4 L1034.8,626.8 L1034.9,624.9 L1035.0,623.4 L1035.1,621.6 L1035.2,619.9 L1035.3,618.4 L1035.4,617.0 L1035.5,615.5 L1035.6,614.0 L1035.7,612.7 L1035.8,611.4 L1035.9,610.0 L1036.1,608.7 L1036.2,607.4 L1036.3,606.2 L1036.4,604.6 L1036.5,603.3 L1036.6,602.5 L1036.7,601.3 L1036.8,600.1 L1037.0,599.1 L1037.1,598.3 L1037.2,597.2 L1037.9,592.8 L1038.6,589.8 L1039.3,588.3 L1040.1,587.8 L1040.8,587.3 L1041.6,586.9 L1042.4,586.3 L1043.1,585.4 L1043.7,583.7 L1044.2,581.7 L1044.8,579.8 L1045.3,577.8 L1045.9,575.7 L1046.4,573.9 L1047.0,572.5 L1047.6,571.1 L1048.3,570.5 L1049.0,570.3 L1049.6,570.7 L1050.2,570.8 L1050.8,571.2 L1051.5,572.1 L1052.2,572.7 L1052.9,573.7 L1053.6,574.7 L1054.3,576.5 L1055.0,578.2 L1055.7,580.1 L1056.3,582.4 L1056.9,585.0 L1057.5,587.9 L1058.0,591.3 L1058.1,591.9 L1058.3,593.3 L1058.4,594.1 L1058.5,595.6 L1058.7,596.7 L1058.8,597.9 L1058.9,599.1 L1059.0,600.5 L1059.1,602.0 L1059.2,603.5 L1059.3,604.7 L1059.4,605.9 L1059.5,607.8 L1059.6,608.9 L1059.7,610.6 L1059.8,612.4 L1059.9,613.6 L1060.0,615.6 L1060.1,617.0 L1060.2,618.7 L1060.2,620.5 L1060.3,622.2 L1060.4,623.5 L1060.5,625.2 L1060.6,627.0 L1060.6,628.9 L1060.7,630.9 L1060.8,632.6 L1060.9,634.3 L1061.0,636.1 L1061.0,638.1 L1061.1,639.5 L1061.2,641.3 L1061.3,643.4 L1061.3,645.0 L1061.4,647.2 L1061.5,648.6 L1061.6,650.7 L1061.7,652.5 L1061.8,654.0 L1061.8,655.9 L1061.9,657.8 L1062.0,659.7 L1062.1,661.5 L1062.2,663.3 L1062.3,665.0 L1062.4,666.6 L1062.5,668.4 L1062.6,669.9 L1062.7,671.5 L1062.8,673.0 L1062.9,675.2 L1062.9,676.7 L1063.0,678.7 L1063.1,680.3 L1063.2,682.6 L1063.3,684.1 L1063.4,686.3 L1063.5,688.1 L1063.6,690.2 L1063.7,692.3 L1063.8,694.3 L1063.9,696.7 L1064.0,698.7 L1064.1,700.9 L1064.2,703.0 L1064.2,705.0 L1064.3,707.4 L1064.4,709.5 L1064.5,711.7 L1064.6,713.7 L1064.7,715.9 L1064.8,718.0 L1064.9,719.8 L1065.0,721.9 L1065.1,723.9 L1065.2,726.0 L1065.3,728.1 L1065.4,730.4 L1065.5,732.2 L1065.6,733.9 L1065.7,735.8 L1065.8,737.4 L1065.9,739.6 L1066.0,741.0 L1066.1,742.7 L1066.2,744.1 L1066.3,745.7 L1066.4,747.1 L1066.5,748.6 L1066.6,749.7 L1066.7,751.0 L1066.8,752.2 L1066.9,753.2 L1067.0,754.5 L1067.0,755.2 L1067.1,756.1 L1067.2,756.7 L1067.3,757.5 L1067.4,758.1 L1067.5,758.2 L1067.6,758.6 L1067.7,758.8 L1067.8,758.8 L1067.9,758.9 L1068.0,758.3 L1068.1,758.0 L1068.2,757.8 L1068.3,757.3 L1068.3,756.5 L1068.4,755.7 L1068.5,755.2 L1068.6,753.9 L1068.7,752.7 L1068.8,751.7 L1068.9,750.3 L1069.0,749.3 L1069.0,747.7 L1069.1,746.5 L1069.2,744.6 L1069.3,742.9 L1069.4,741.4 L1069.5,739.7 L1069.6,737.7 L1069.7,736.0 L1069.7,734.2 L1069.8,732.2 L1069.9,729.9 L1070.0,727.9 L1070.1,726.3 L1070.2,723.9 L1070.3,721.7 L1070.3,719.4 L1070.4,717.7 L1070.5,715.2 L1070.6,713.2 L1070.7,711.1 L1070.8,709.0 L1070.9,706.5 L1071.0,704.5 L1071.1,702.5 L1071.1,700.2 L1071.2,698.0 L1071.3,695.9 L1071.4,693.7 L1071.5,691.7 L1071.6,689.9 L1071.7,687.9 L1071.8,685.7 L1071.9,684.0 L1072.0,682.1 L1072.1,680.5 L1072.2,678.4 L1072.3,677.0 L1072.4,675.4 L1072.5,673.9 L1072.6,672.3 L1072.7,671.1 L1072.8,669.9 L1072.9,668.3 L1073.1,665.7 L1073.4,663.6 L1073.6,660.9 L1073.9,658.7 L1074.2,656.0 L1074.4,654.0 L1074.7,651.5 L1075.0,649.6 L1075.2,647.8 L1075.5,645.8 L1075.8,643.7 L1076.1,641.9 L1076.4,640.2 L1076.6,638.5 L1076.9,637.1 L1077.2,635.8 L1077.5,634.4 L1077.8,633.2 L1078.1,632.1 L1078.3,631.2 L1078.6,630.4 L1078.9,629.8 L1079.2,629.0 L1079.4,628.7 L1079.7,628.5 L1080.1,628.0 L1080.5,627.8 L1080.9,628.4 L1081.4,628.8 L1081.8,629.5 L1082.2,631.0 L1082.6,632.4 L1083.0,633.7 L1083.4,635.5 L1083.8,637.7 L1084.2,639.7 L1084.6,642.4 L1085.0,644.7 L1085.4,647.5 L1085.8,650.4 L1086.2,653.5 L1086.3,654.7 L1086.5,655.8 L1086.6,656.8 L1086.7,658.1 L1086.9,659.4 L1087.0,660.4 L1087.1,661.9 L1087.3,663.0 L1087.4,664.3 L1087.5,665.6 L1087.7,667.0 L1087.8,668.2 L1087.9,669.6 L1088.1,671.3 L1088.2,672.7 L1088.3,673.9 L1088.5,675.4 L1088.6,676.9 L1088.7,678.3 L1088.9,679.7 L1089.0,681.6 L1089.1,683.2 L1089.2,684.5 L1089.4,686.2 L1089.5,688.2 L1089.6,689.5 L1089.8,691.1 L1089.9,693.1 L1090.0,694.9 L1090.1,696.5 L1090.3,698.5 L1090.4,700.2 L1090.5,702.0 L1090.7,704.0 L1090.8,706.0 L1090.9,707.7 L1091.0,709.6 L1091.2,711.4 L1091.3,713.5 L1091.4,715.3 L1091.6,717.2 L1091.7,719.3 L1091.8,721.6 L1091.9,723.5 L1092.1,725.9 L1092.2,728.0 L1092.3,729.4 L1092.4,730.8 L1092.4,732.0 L1092.5,733.2 L1092.6,734.7 L1092.7,736.0 L1092.7,737.8 L1092.8,739.2 L1092.9,740.3 L1093.0,742.2 L1093.1,743.6 L1093.1,745.0 L1093.2,746.9 L1093.3,748.4 L1093.4,749.8 L1093.4,751.6 L1093.5,752.9 L1093.6,754.5 L1093.7,756.6 L1093.7,758.2 L1093.8,759.7 L1093.9,761.5 L1094.0,763.3 L1094.1,764.8 L1094.1,766.7 L1094.2,768.5 L1094.3,769.9 L1094.4,771.7 L1094.4,773.7 L1094.5,775.1 L1094.6,777.1 L1094.7,778.6 L1094.7,780.5 L1094.8,782.5 L1094.9,783.9 L1095.0,786.0 L1095.1,787.7 L1095.1,789.3 L1095.2,791.0 L1095.3,792.7 L1095.4,794.8 L1095.4,796.4 L1095.5,798.4 L1095.6,799.9 L1095.7,801.9 L1095.7,803.8 L1095.8,805.3 L1095.9,806.8 L1096.0,808.7 L1096.0,810.3 L1096.1,812.1 L1096.2,813.7 L1096.3,815.8 L1096.3,817.5 L1096.4,819.1 L1096.5,820.5 L1096.6,822.1 L1096.7,823.9 L1096.7,825.9 L1096.8,827.1 L1096.9,828.8 L1097.0,830.5 L1097.0,832.0 L1097.1,833.7 L1097.2,835.1 L1097.3,836.6 L1097.3,838.3 L1097.4,839.9 L1097.5,841.4 L1097.6,842.6 L1097.6,844.1 L1097.7,845.4 L1097.8,846.9 L1097.9,848.1 L1097.9,849.5 L1098.0,851.0 L1098.1,853.0 L1098.2,855.0 L1098.4,857.4 L1098.5,859.4 L1098.6,861.7 L1098.7,863.5 L1098.9,865.7 L1099.0,867.9 L1099.1,869.9 L1099.2,872.5 L1099.3,874.6 L1099.5,876.4 L1099.6,878.5 L1099.7,880.6 L1099.8,882.4 L1099.9,884.4 L1100.1,886.7 L1100.2,888.6 L1100.3,890.4 L1100.4,892.6 L1100.5,894.2 L1100.6,895.9 L1100.8,897.7 L1100.9,899.8 L1101.0,901.4 L1101.1,903.1 L1101.2,904.6 L1101.4,906.4 L1101.5,907.7 L1101.6,909.5 L1101.7,910.9 L1101.8,912.3 L1102.0,913.6 L1102.1,914.6 L1102.2,915.8 L1102.3,917.3 L1102.4,918.3 L1102.5,919.0 L1102.7,920.4 L1102.8,921.0 L1102.9,921.8 L1103.0,922.6 L1103.1,923.3 L1103.3,923.8 L1103.4,924.3 L1103.5,924.8 L1103.7,925.6 L1104.0,925.9 L1104.2,926.0 L1104.4,925.6 L1104.6,925.3 L1104.9,924.6 L1105.1,924.0 L1105.3,922.8 L1105.5,921.9 L1105.8,920.4 L1106.0,918.8 L1106.2,917.1 L1106.4,915.3 L1106.7,913.0 L1106.9,911.2 L1107.1,908.8 L1107.4,906.1 L1107.6,903.5 L1107.8,900.8 L1108.1,898.2 L1108.3,895.0 L1108.5,891.9 L1108.8,889.2 L1109.0,885.8 L1109.1,884.6 L1109.2,883.7 L1109.2,882.4 L1109.3,881.3 L1109.4,880.0 L1109.5,878.9 L1109.6,877.3 L1109.6,875.7 L1109.7,874.4 L1109.8,873.2 L1109.9,871.7 L1109.9,870.3 L1110.0,868.6 L1110.1,867.3 L1110.2,865.6 L1110.2,864.2 L1110.3,862.6 L1110.4,860.8 L1110.5,859.4 L1110.5,857.9 L1110.6,856.0 L1110.7,854.4 L1110.8,852.7 L1110.8,851.0 L1110.9,849.2 L1111.0,847.4 L1111.1,845.7 L1111.1,844.1 L1111.2,842.4 L1111.3,840.2 L1111.4,838.5 L1111.5,837.0 L1111.5,835.1 L1111.6,833.4 L1111.7,831.5 L1111.8,829.4 L1111.8,827.7 L1111.9,825.9 L1112.0,824.1 L1112.1,822.2 L1112.2,820.1 L1112.2,818.5 L1112.3,816.8 L1112.4,814.9 L1112.5,813.2 L1112.6,811.0 L1112.7,809.6 L1112.7,807.5 L1112.8,805.9 L1112.9,803.8 L1113.0,802.3 L1113.1,800.6 L1113.2,798.9 L1113.3,797.1 L1113.4,795.5 L1113.5,793.5 L1113.6,791.7 L1113.7,790.4 L1113.8,788.7 L1113.8,786.8 L1113.9,785.5 L1114.0,784.1 L1114.1,782.5 L1114.3,780.6 L1114.4,779.4 L1114.5,777.5 L1114.6,776.3 L1114.7,775.0 L1114.8,773.6 L1114.9,772.1 L1115.0,770.9 L1115.2,768.8 L1115.4,766.7 L1115.5,764.6 L1115.7,762.9 L1115.9,760.9 L1116.1,758.9 L1116.3,756.6 L1116.5,755.0 L1116.7,752.9 L1117.0,751.1 L1117.2,749.2 L1117.4,747.5 L1117.6,745.6 L1117.8,744.0 L1118.0,742.0 L1118.3,740.7 L1118.5,738.6 L1118.7,737.1 L1119.0,735.5 L1119.2,733.6 L1119.4,732.1 L1119.7,730.6 L1119.9,728.8 L1120.1,727.2 L1120.4,725.9 L1120.6,724.1 L1120.8,722.6 L1121.1,721.4 L1121.3,719.7 L1121.5,718.3 L1121.8,717.1 L1122.0,715.5 L1122.2,713.9 L1122.5,712.8 L1122.7,711.1 L1122.9,710.1 L1123.1,708.6 L1123.4,707.4 L1123.6,705.6 L1123.8,704.5 L1124.0,703.4 L1124.3,701.9 L1124.5,700.7 L1124.7,699.6 L1124.9,698.3 L1125.3,695.8 L1125.7,693.6 L1126.1,691.5 L1126.5,689.0 L1126.9,687.1 L1127.3,685.0 L1127.7,682.9 L1128.1,680.5 L1128.5,678.7 L1128.9,676.8 L1129.2,675.0 L1129.6,673.3 L1130.0,671.3 L1130.4,670.0 L1130.8,668.1 L1131.1,666.8 L1131.5,665.5 L1131.8,664.2 L1132.2,663.1 L1132.5,662.1 L1132.9,661.5 L1133.2,660.6 L1133.5,660.0 L1133.8,659.7 L1134.4,659.0 L1135.0,659.6 L1135.5,661.2 L1136.0,663.1 L1136.4,665.5 L1136.9,668.0 L1137.3,670.9 L1137.7,673.4 L1138.2,675.5 L1138.7,676.8 L1139.2,677.3 L1139.8,677.2 L1140.5,676.2 L1141.1,674.5 L1141.8,672.6 L1142.5,670.5 L1143.2,668.1 L1143.8,665.8 L1144.5,664.1 L1145.1,663.2 L1145.7,662.6 L1146.5,662.2 L1147.2,663.0 L1147.9,663.9 L1148.6,665.4 L1149.2,667.8 L1149.8,670.4 L1150.4,674.3 L1150.5,675.4 L1150.7,676.6 L1150.8,678.0 L1150.9,679.3 L1151.0,680.2 L1151.1,682.0 L1151.2,683.4 L1151.4,684.9 L1151.5,686.3 L1151.6,688.0 L1151.7,689.9 L1151.8,691.4 L1151.9,692.9 L1152.0,694.8 L1152.1,696.6 L1152.1,698.7 L1152.2,700.4 L1152.3,702.2 L1152.4,703.9 L1152.5,705.8 L1152.6,707.7 L1152.7,709.6 L1152.8,711.1 L1152.9,713.1 L1153.0,714.7 L1153.1,716.9 L1153.2,718.6 L1153.3,720.4 L1153.4,721.9 L1153.5,723.8 L1153.6,725.3 L1153.7,726.9 L1153.8,728.3 L1153.9,729.9 L1154.0,731.4 L1154.1,733.1 L1154.2,734.8 L1154.3,736.2 L1154.4,737.8 L1154.5,739.1 L1154.6,741.0 L1154.7,742.5 L1154.8,744.1 L1154.9,745.7 L1155.0,747.2 L1155.1,748.5 L1155.1,750.3 L1155.2,751.9 L1155.3,753.4 L1155.4,755.3 L1155.5,756.7 L1155.6,758.6 L1155.7,760.4 L1155.8,762.0 L1155.9,763.6 L1156.0,765.5 L1156.1,767.3 L1156.2,768.8 L1156.3,770.5 L1156.4,772.3 L1156.5,773.9 L1156.6,775.4 L1156.6,777.1 L1156.7,779.0 L1156.8,780.8 L1156.8,782.9 L1156.9,784.5 L1157.0,786.7 L1157.1,788.8 L1157.1,790.5 L1157.2,792.4 L1157.3,794.6 L1157.3,796.9 L1157.4,798.7 L1157.5,800.9 L1157.5,802.9 L1157.6,805.0 L1157.7,807.2 L1157.7,809.3 L1157.8,811.0 L1157.9,813.0 L1158.0,814.9 L1158.0,816.9 L1158.1,818.7 L1158.2,820.4 L1158.3,822.2 L1158.3,823.3 L1158.4,824.8 L1158.5,826.4 L1158.6,827.6 L1158.7,828.7 L1158.7,829.8 L1158.8,831.0 L1158.9,831.9 L1159.0,832.6 L1159.1,833.3 L1159.2,833.5 L1159.3,834.1 L1159.4,834.4 L1159.6,834.3 L1159.7,833.9 L1159.9,833.2 L1160.0,832.8 L1160.2,832.1 L1160.4,831.0 L1160.5,829.5 L1160.7,827.9 L1160.9,826.3 L1161.0,824.9 L1161.2,823.2 L1161.4,821.4 L1161.6,819.2 L1161.7,817.1 L1161.9,814.8 L1162.1,813.0 L1162.3,810.6 L1162.5,808.2 L1162.7,806.2 L1162.9,803.7 L1163.0,801.6 L1163.2,799.4 L1163.4,797.1 L1163.6,794.9 L1163.8,792.6 L1164.0,790.7 L1164.1,789.2 L1164.3,787.9 L1164.4,786.4 L1164.6,784.9 L1164.7,783.7 L1164.8,781.7 L1165.0,780.3 L1165.1,778.8 L1165.3,776.9 L1165.5,775.3 L1165.6,773.9 L1165.8,772.3 L1165.9,770.2 L1166.1,768.5 L1166.2,767.0 L1166.4,765.3 L1166.6,763.5 L1166.7,761.9 L1166.9,760.1 L1167.0,758.1 L1167.2,756.6 L1167.3,754.8 L1167.5,752.8 L1167.7,751.3 L1167.8,749.6 L1168.0,748.0 L1168.1,746.3 L1168.3,744.2 L1168.4,743.0 L1168.5,740.9 L1168.7,739.6 L1168.8,738.0 L1169.0,736.6 L1169.1,734.8 L1169.2,733.3 L1169.3,732.2 L1169.5,730.5 L1169.6,729.4 L1169.7,728.1 L1169.9,725.5 L1170.0,723.6 L1170.2,721.3 L1170.4,719.2 L1170.5,716.5 L1170.6,714.6 L1170.8,712.0 L1170.9,709.8 L1171.0,707.4 L1171.1,705.6 L1171.3,703.4 L1171.4,701.3 L1171.5,699.4 L1171.6,697.6 L1171.7,695.9 L1171.8,694.4 L1171.9,692.9 L1172.0,691.7 L1172.1,690.8 L1172.2,690.0 L1172.3,689.8 L1172.5,689.2 L1172.6,689.0 L1172.7,689.2 L1172.8,689.8 L1172.9,690.3 L1173.0,691.3 L1173.1,692.3 L1173.2,693.9 L1173.2,695.4 L1173.3,697.1 L1173.4,698.9 L1173.5,700.7 L1173.6,703.2 L1173.7,705.3 L1173.8,707.4 L1173.9,709.7 L1174.0,712.6 L1174.1,714.8 L1174.2,717.5 L1174.2,719.7 L1174.3,722.1 L1174.4,724.9 L1174.5,726.8 L1174.6,729.5 L1174.7,731.3 L1174.8,733.7 L1174.9,735.1 L1175.0,737.2 L1175.1,738.5 L1175.2,740.0 L1175.2,741.1 L1175.3,742.4 L1175.4,743.1 L1175.5,743.2 L1175.6,743.6 L1175.7,743.4 L1175.8,743.0 L1175.8,742.4 L1175.9,742.2 L1176.0,741.3 L1176.0,740.5 L1176.1,739.6 L1176.1,738.8 L1176.2,737.6 L1176.3,736.6 L1176.3,735.5 L1176.4,733.9 L1176.4,732.7 L1176.5,730.9 L1176.6,729.3 L1176.6,727.7 L1176.7,726.0 L1176.7,724.0 L1176.8,722.3 L1176.9,720.6 L1176.9,718.8 L1177.0,716.9 L1177.1,714.5 L1177.1,712.4 L1177.2,710.4 L1177.2,708.4 L1177.3,706.5 L1177.4,704.1 L1177.4,702.4 L1177.5,700.4 L1177.6,698.3 L1177.6,696.1 L1177.7,693.7 L1177.8,691.7 L1177.8,689.5 L1177.9,687.7 L1178.0,685.6 L1178.0,683.6 L1178.1,682.0 L1178.2,680.0 L1178.2,678.0 L1178.3,676.4 L1178.4,674.9 L1178.5,673.0 L1178.5,671.4 L1178.6,669.8 L1178.7,668.4 L1178.8,666.6 L1178.9,664.7 L1179.0,662.9 L1179.2,660.7 L1179.3,659.1 L1179.4,657.0 L1179.5,655.0 L1179.6,653.4 L1179.8,651.7 L1179.9,649.6 L1180.0,648.1 L1180.1,646.2 L1180.3,644.2 L1180.4,642.6 L1180.5,640.8 L1180.6,639.1 L1180.8,637.5 L1180.9,635.8 L1181.0,634.3 L1181.2,632.6 L1181.3,631.2 L1181.5,629.5 L1181.6,628.0 L1181.7,626.9 L1181.9,625.3 L1182.0,623.8 L1182.2,622.4 L1182.3,621.0 L1182.5,619.7 L1182.6,618.3 L1182.8,617.4 L1182.9,615.8 L1183.1,615.0 L1183.5,612.2 L1183.9,610.0 L1184.3,607.6 L1184.7,605.8 L1185.1,603.6 L1185.6,601.9 L1186.0,600.2 L1186.5,598.9 L1186.9,597.5 L1187.3,596.4 L1187.8,595.5 L1188.2,594.1 L1188.7,593.3 L1189.1,592.8 L1191.0,591.9 L1192.9,593.4 L1195.0,594.0 L1196.0,593.4 L1197.1,592.2 L1198.2,591.0 L1199.4,589.5 L1200.5,588.1 L1201.5,586.4 L1202.5,585.2 L1203.5,583.4 L1204.5,581.4 L1205.3,579.5 L1206.2,577.5 L1207.0,576.3 L1207.8,576.4 L1208.3,577.3 L1208.8,578.7 L1209.3,580.7 L1209.8,582.9 L1210.3,585.8 L1210.8,587.9 L1211.3,589.7 L1211.8,591.0 L1212.3,591.2 L1212.7,590.4 L1213.0,589.5 L1213.4,588.4 L1213.7,586.7 L1214.1,584.5 L1214.4,582.5 L1214.8,580.3 L1215.2,578.3 L1215.7,576.1 L1216.1,574.4 L1216.7,572.8 L1217.3,572.0 L1218.8,570.3 L1220.6,569.4 L1222.6,568.7 L1224.6,568.6 L1226.3,568.5 L1227.7,568.7 L1228.7,569.2 L1229.4,569.5 L1229.7,570.4 L1230.1,572.4 L1230.7,576.5 L1230.9,577.4 L1231.0,578.7 L1231.2,579.9 L1231.3,581.1 L1231.5,582.6 L1231.7,584.3 L1231.9,586.0 L1232.0,587.2 L1232.2,588.9 L1232.4,590.8 L1232.6,592.9 L1232.8,594.7 L1233.0,596.6 L1233.1,598.2 L1233.3,600.1 L1233.5,601.8 L1233.7,603.6 L1233.9,605.5 L1234.1,607.4 L1234.4,609.2 L1234.6,610.4 L1234.8,611.9 L1235.0,613.5 L1235.2,615.1 L1235.6,616.8 L1235.9,619.0 L1236.3,620.3 L1236.7,622.2 L1237.1,623.5 L1237.5,625.4 L1237.9,626.4 L1238.4,628.1 L1238.8,629.3 L1239.2,630.9 L1239.6,632.3 L1240.0,633.6 L1240.4,635.5 L1240.7,637.1 L1241.1,638.5 L1241.4,639.9 L1241.7,641.6 L1241.9,642.9 L1242.2,644.0 L1242.4,645.5 L1242.7,646.8 L1242.9,648.5 L1243.2,649.5 L1243.4,651.0 L1243.6,652.4 L1243.9,653.9 L1244.1,655.6 L1244.4,657.7 L1244.6,659.5 L1244.8,661.5 L1245.1,663.7 L1245.3,665.9 L1245.6,668.7 L1245.7,669.9 L1245.8,671.0 L1246.0,672.7 L1246.1,674.1 L1246.2,675.9 L1246.3,677.5 L1246.5,679.1 L1246.6,680.9 L1246.7,682.7 L1246.8,684.5 L1247.0,686.9 L1247.1,688.8 L1247.2,691.0 L1247.4,692.9 L1247.5,694.9 L1247.6,696.9 L1247.7,699.3 L1247.9,701.4 L1248.0,703.2 L1248.1,705.6 L1248.3,707.6 L1248.4,709.5 L1248.5,711.5 L1248.7,713.2 L1248.8,715.2 L1248.9,717.1 L1249.0,718.7 L1249.2,720.3 L1249.3,722.2 L1249.4,723.5 L1249.5,725.0 L1249.7,726.3 L1249.8,727.8 L1249.9,728.8 L1250.0,729.4 L1250.1,730.5 L1250.3,731.0 L1250.4,731.9 L1250.5,732.2 L1250.6,732.2 L1250.7,732.4 L1250.9,732.2 L1251.0,731.9 L1251.2,731.5 L1251.3,730.8 L1251.4,729.7 L1251.5,728.4 L1251.7,727.2 L1251.8,725.4 L1251.9,723.9 L1252.0,721.9 L1252.1,720.2 L1252.3,718.2 L1252.4,716.2 L1252.5,713.7 L1252.6,711.9 L1252.7,709.5 L1252.8,707.2 L1253.0,704.9 L1253.1,702.4 L1253.2,700.2 L1253.3,698.4 L1253.5,696.0 L1253.6,693.8 L1253.7,691.9 L1253.9,690.1 L1254.0,688.1 L1254.2,686.4 L1254.3,684.9 L1254.5,683.5 L1254.8,681.0 L1255.0,679.0 L1255.3,677.1 L1255.6,674.4 L1255.9,672.4 L1256.2,670.4 L1256.5,668.2 L1256.8,665.8 L1257.1,664.1 L1257.4,661.9 L1257.7,659.8 L1258.0,658.1 L1258.4,656.5 L1258.7,655.3 L1259.0,653.7 L1259.3,652.6 L1259.6,652.0 L1259.9,651.4 L1260.1,650.8 L1260.4,650.4 L1260.7,650.7 L1260.9,651.1 L1261.2,651.7 L1261.4,652.3 L1261.6,653.3 L1261.9,654.2 L1262.1,655.7 L1262.3,656.8 L1262.6,658.6 L1262.8,660.2 L1263.0,661.8 L1263.2,664.1 L1263.4,666.0 L1263.7,668.0 L1263.9,670.5 L1264.1,673.0 L1264.3,675.2 L1264.5,677.9 L1264.7,680.8 L1264.9,683.4 L1265.0,684.7 L1265.1,685.8 L1265.1,687.1 L1265.2,688.6 L1265.3,690.2 L1265.4,691.5 L1265.5,693.5 L1265.5,695.0 L1265.6,697.0 L1265.7,698.5 L1265.8,700.7 L1265.8,702.4 L1265.9,704.4 L1266.0,706.4 L1266.0,708.2 L1266.1,710.7 L1266.2,712.3 L1266.2,714.7 L1266.3,716.8 L1266.4,718.9 L1266.4,720.7 L1266.5,723.0 L1266.6,725.1 L1266.7,727.2 L1266.7,728.8 L1266.8,730.9 L1266.9,733.1 L1266.9,735.1 L1267.0,737.0 L1267.1,738.8 L1267.1,740.9 L1267.2,742.5 L1267.3,744.3 L1267.4,745.9 L1267.4,747.7 L1267.5,749.2 L1267.6,750.5 L1267.7,751.9 L1267.7,753.1 L1267.8,754.7 L1267.9,755.4 L1268.0,756.6 L1268.1,757.5 L1268.1,758.6 L1268.2,759.3 L1268.3,759.6 L1268.4,760.4 L1268.5,760.8 L1268.7,761.0 L1268.8,761.0 L1269.0,760.9 L1269.1,760.5 L1269.3,760.0 L1269.5,759.1 L1269.7,757.9 L1269.8,756.5 L1270.0,755.1 L1270.2,753.5 L1270.4,752.1 L1270.5,749.9 L1270.7,748.0 L1270.9,746.0 L1271.1,743.8 L1271.3,741.5 L1271.5,739.1 L1271.7,737.0 L1271.9,734.3 L1272.1,732.2 L1272.3,729.7 L1272.4,727.4 L1272.6,725.4 L1272.8,723.0 L1273.0,720.6 L1273.2,718.7 L1273.4,716.8 L1273.6,715.0 L1273.8,713.1 L1274.0,711.3 L1274.2,710.0 L1274.3,708.1 L1274.5,706.6 L1274.7,704.8 L1274.9,702.7 L1275.1,700.9 L1275.3,698.7 L1275.5,696.9 L1275.7,695.0 L1275.8,693.1 L1276.0,691.1 L1276.2,689.1 L1276.4,687.5 L1276.6,685.4 L1276.8,683.7 L1277.0,682.0 L1277.2,680.1 L1277.4,678.4 L1277.6,676.6 L1277.8,675.0 L1277.9,673.7 L1278.1,671.8 L1278.3,670.5 L1278.5,669.1 L1278.7,667.8 L1278.9,666.7 L1279.1,666.0 L1279.2,664.7 L1279.4,663.8 L1279.6,663.3 L1280.4,662.2 L1281.1,662.6 L1281.9,664.5 L1282.6,667.6 L1283.3,669.6 L1284.1,672.6 L1284.8,674.0 L1286.1,674.4 L1287.3,672.7 L1288.6,671.3 L1290.0,669.5 L1290.7,668.3 L1291.4,666.5 L1292.2,665.0 L1292.9,662.6 L1293.7,661.1 L1294.5,658.8 L1295.4,657.5 L1296.2,656.9 L1297.8,656.6 L1299.5,657.9 L1301.3,659.1 L1303.0,660.3 L1304.6,661.1 L1306.3,661.8 L1308.0,663.2 L1309.4,663.6 L1310.8,664.9 L1311.8,667.0 L1312.6,669.4 L1313.3,671.3 L1314.1,672.8 L1315.0,673.2 L1316.7,672.5 L1318.4,670.2 L1320.2,670.7 L1320.7,671.5 L1321.2,672.7 L1321.7,674.8 L1322.2,677.2 L1322.7,678.8 L1323.2,681.0 L1323.8,683.1 L1324.3,685.3 L1324.8,686.0 L1325.4,686.9 L1326.9,687.5 L1328.4,686.5 L1330.0,684.6 L1331.7,683.2 L1333.3,683.2 L1335.1,683.0 L1336.9,683.6 L1338.6,683.8 L1340.0,685.2 L1340.7,686.3 L1341.3,687.9 L1341.8,689.8 L1342.2,691.9 L1342.7,693.3 L1343.1,695.4 L1343.6,696.8 L1344.2,697.3 L1346.2,698.9 L1348.3,698.5 L1350.4,698.3 L1351.8,698.8 L1353.1,699.2 L1354.4,700.9 L1355.6,703.8 L1355.9,705.4 L1356.2,705.6 L1356.5,706.9 L1356.8,708.3 L1357.1,710.4 L1357.3,711.4 L1357.6,713.6 L1357.9,714.7 L1358.2,716.7 L1358.4,718.0 L1358.7,720.0 L1358.9,722.3 L1359.2,724.3 L1359.4,725.9 L1359.6,727.8 L1359.8,730.3 L1359.9,731.6 L1360.0,732.4 L1360.2,734.4 L1360.3,736.0 L1360.4,737.5 L1360.5,738.6 L1360.6,739.9 L1360.7,742.2 L1360.7,743.6 L1360.8,745.4 L1360.9,747.0 L1361.0,748.8 L1361.1,750.0 L1361.1,751.7 L1361.2,753.2 L1361.3,755.1 L1361.4,757.1 L1361.4,758.9 L1361.5,760.6 L1361.6,761.9 L1361.7,764.1 L1361.7,765.9 L1361.8,767.8 L1361.9,769.1 L1362.0,770.6 L1362.1,772.5 L1362.2,773.8 L1362.3,775.8 L1362.3,778.0 L1362.4,779.0 L1362.5,781.3 L1362.6,783.4 L1362.7,785.2 L1362.8,787.2 L1362.9,788.2 L1363.0,790.0 L1363.1,792.5 L1363.2,794.2 L1363.3,795.7 L1363.4,798.2 L1363.5,799.3 L1363.5,801.3 L1363.6,802.5 L1363.7,804.4 L1363.8,806.0 L1363.9,807.4 L1363.9,808.6 L1364.0,810.0 L1364.1,811.1 L1364.1,812.1 L1364.2,813.4 L1364.2,814.8"/>
<path stroke="#a86fdd" d="M72.0,551.1 L72.8,551.4 L73.7,551.4 L74.7,551.3 L75.8,551.1 L76.9,551.5 L78.0,551.5 L79.2,551.3 L80.5,551.3 L81.9,551.1 L83.2,550.9 L84.7,551.2 L86.1,551.3 L87.7,551.0 L89.2,551.5 L90.8,551.1 L92.5,551.1 L94.2,551.0 L95.9,551.6 L97.6,551.4 L99.4,551.5 L101.2,551.3 L103.1,550.9 L104.9,551.1 L106.8,551.3 L108.7,551.0 L110.7,551.6 L112.6,551.2 L114.6,551.0 L116.5,551.5 L118.5,551.0 L120.5,551.5 L122.5,551.2 L124.5,551.3 L126.5,551.1 L128.5,551.2 L130.5,551.0 L132.5,550.9 L134.5,551.5 L136.5,551.0 L138.4,551.4 L140.4,551.0 L142.3,551.5 L144.2,551.5 L146.1,551.4 L148.0,551.4 L149.9,551.3 L151.7,551.4 L153.5,551.0 L155.3,551.2 L157.1,551.4 L158.8,551.0 L160.5,551.5 L162.1,551.5 L163.7,551.2 L165.3,551.1 L166.8,551.2 L168.3,551.2 L169.7,551.6 L171.1,551.2 L172.4,550.9 L173.6,551.0 L174.9,551.4 L176.0,551.6 L177.1,551.3 L178.1,551.3 L179.1,551.3 L180.0,551.5 L188.1,551.3 L190.6,551.7 L189.9,552.0 L188.2,552.3 L188.0,552.2 L190.5,552.8 L192.5,553.4 L194.5,554.4 L197.0,554.6 L197.6,555.0 L197.7,555.0 L198.2,555.1 L200.3,555.3 L205.0,556.0 L206.0,556.0 L207.1,555.8 L208.3,556.0 L209.6,556.0 L211.0,556.2 L212.5,556.2 L214.0,555.9 L215.6,556.3 L217.3,556.3 L219.1,556.0 L220.9,556.2 L222.7,556.0 L224.6,555.9 L226.5,555.8 L228.4,556.3 L230.3,555.8 L232.3,555.7 L234.2,556.3 L236.2,556.2 L238.1,556.0 L240.0,556.3 L241.9,555.8 L243.8,555.9 L245.6,555.9 L247.4,556.0 L249.1,555.9 L250.7,555.8 L252.3,556.0 L253.8,556.4 L255.2,556.5 L256.6,556.3 L257.8,556.2 L259.0,556.0 L260.0,556.4 L263.9,556.2 L266.5,556.2 L268.0,555.8 L268.8,555.8 L269.4,556.2 L270.1,556.4 L271.3,557.0 L272.6,557.5 L273.8,558.3 L275.0,559.3 L276.2,560.6 L277.3,561.5 L278.6,562.8 L279.8,563.9 L281.2,565.4 L282.4,566.1 L283.6,567.6 L284.9,568.9 L286.2,569.7 L287.5,571.2 L288.8,572.4 L290.2,573.7 L291.5,574.7 L292.8,575.6 L294.0,576.6 L295.7,578.0 L297.3,578.9 L298.8,579.4 L300.3,580.1 L301.9,580.8 L303.6,581.4 L305.3,582.2 L306.9,582.6 L308.7,583.4 L310.5,583.8 L312.4,584.0 L314.2,584.6 L316.0,584.8 L317.8,585.0 L319.4,585.0 L321.1,584.9 L322.7,584.7 L324.3,584.5 L325.8,584.2 L327.3,583.6 L329.0,582.7 L330.7,582.3 L332.0,581.8 L333.3,581.0 L334.7,580.2 L336.0,578.9 L337.4,578.2 L338.9,577.1 L340.4,576.5 L341.8,575.3 L343.4,574.7 L344.9,573.7 L346.4,573.2 L347.9,572.2 L349.5,571.3 L351.1,570.8 L352.8,570.0 L354.4,569.6 L356.1,568.6 L357.6,568.1 L359.1,567.6 L360.5,567.3 L361.8,566.5 L363.8,566.4 L365.6,566.3 L367.1,566.6 L368.6,567.0 L370.0,566.8 L371.7,566.8 L373.2,566.3 L374.8,565.6 L376.4,564.6 L378.0,564.1 L379.6,563.5 L381.3,562.6 L383.0,562.3 L384.5,562.7 L386.1,562.6 L387.8,563.0 L389.4,563.5 L391.0,564.5 L392.7,564.9 L394.3,565.1 L395.8,565.4 L397.4,564.9 L398.8,564.7 L400.2,563.9 L401.5,563.3 L403.1,562.6 L404.9,562.3 L407.1,562.3 L408.4,562.4 L409.9,562.9 L411.5,563.2 L413.2,564.0 L415.0,564.6 L416.9,565.2 L418.7,565.7 L420.6,566.2 L422.4,566.9 L424.1,567.6 L425.7,568.3 L427.2,568.9 L428.6,568.9 L429.7,569.5 L433.1,570.4 L434.6,570.8 L436.0,570.7 L437.7,570.1 L439.1,569.1 L440.7,568.2 L442.5,567.2 L444.5,566.2 L446.2,565.9 L447.6,566.7 L448.9,568.0 L450.1,570.7 L450.6,571.6 L451.1,573.1 L451.6,574.8 L452.1,576.5 L452.5,578.2 L453.0,579.4 L453.5,581.3 L454.0,582.9 L454.5,584.6 L455.0,586.1 L455.5,588.0 L455.9,589.4 L456.4,591.2 L456.9,593.0 L457.4,594.4 L457.9,595.5 L458.9,597.1 L459.9,598.6 L460.8,599.7 L461.8,601.6 L462.2,602.8 L462.6,604.3 L463.0,605.8 L463.4,607.1 L463.8,609.1 L464.1,610.5 L464.5,612.2 L464.9,614.2 L465.3,615.6 L465.7,617.5 L466.1,619.1 L466.5,621.3 L466.9,623.4 L467.3,625.7 L467.7,628.2 L468.0,630.0 L468.4,631.7 L468.8,633.3 L469.2,634.0 L469.6,634.4 L470.0,634.3 L470.4,633.5 L470.7,632.3 L471.1,631.1 L471.5,628.8 L471.9,627.2 L472.3,625.2 L472.7,623.0 L473.1,620.6 L473.5,618.9 L473.8,617.2 L474.2,616.0 L474.5,614.5 L474.9,612.6 L475.2,610.8 L475.6,609.4 L476.0,607.5 L476.4,606.0 L476.7,604.4 L477.1,603.0 L477.5,601.3 L477.8,599.7 L478.2,598.7 L478.8,596.8 L479.4,594.7 L480.0,592.7 L480.6,591.2 L481.2,589.8 L481.8,588.5 L482.4,587.1 L482.9,586.3 L484.3,583.9 L485.5,582.6 L486.8,582.4 L487.6,582.6 L488.4,584.0 L489.2,585.3 L490.0,587.5 L490.7,589.3 L491.1,590.7 L491.5,591.9 L492.0,593.4 L492.3,595.5 L492.7,597.1 L493.1,598.8 L493.5,600.3 L493.8,601.9 L494.3,603.9 L494.8,606.4 L495.2,608.5 L495.7,609.9 L496.2,610.4 L496.6,609.9 L496.9,608.5 L497.3,607.0 L497.7,605.5 L498.1,603.6 L498.5,601.2 L498.9,599.1 L499.3,596.8 L499.6,595.3 L499.8,593.9 L500.1,592.3 L500.3,590.5 L500.6,588.3 L500.8,586.4 L501.1,585.0 L501.3,582.9 L501.6,581.1 L501.8,579.6 L502.1,578.1 L502.4,576.7 L503.0,574.2 L503.6,572.7 L504.2,570.8 L504.8,569.4 L505.5,568.4 L506.3,567.4 L507.5,566.2 L508.9,565.2 L510.5,564.9 L512.6,564.2 L513.9,563.7 L515.4,563.6 L517.1,563.2 L518.8,562.9 L520.6,562.5 L522.4,561.9 L524.2,562.1 L526.0,562.2 L527.7,562.1 L529.3,562.6 L530.9,563.1 L532.6,563.2 L534.3,564.1 L536.1,564.5 L538.0,564.7 L540.0,564.3 L541.4,564.4 L542.9,564.5 L544.4,564.3 L546.0,564.1 L547.6,563.8 L549.2,563.1 L550.9,563.3 L552.6,562.7 L554.4,562.6 L556.2,561.8 L558.1,562.0 L560.0,561.4 L561.4,561.4 L562.7,561.2 L564.0,561.0 L565.2,560.5 L566.4,560.0 L567.6,560.1 L568.9,559.7 L570.2,559.7 L571.6,559.7 L573.2,559.2 L574.9,558.8 L576.8,558.6 L579.0,558.7 L581.3,558.6 L584.0,558.1 L586.9,558.4 L588.1,558.1 L589.3,557.9 L590.6,558.5 L592.0,558.1 L593.4,558.4 L594.9,558.1 L596.4,557.7 L598.0,557.8 L599.7,557.9 L601.4,558.0 L603.1,558.0 L604.9,558.0 L606.7,557.9 L608.5,557.5 L610.4,557.6 L612.2,557.6 L614.1,557.6 L616.0,557.4 L618.0,557.6 L619.9,557.5 L621.8,557.2 L623.8,557.7 L625.7,557.5 L627.6,557.6 L629.5,557.6 L631.4,557.6 L633.3,557.7 L635.1,557.3 L637.0,557.3 L638.8,557.0 L640.5,557.5 L642.3,557.4 L643.9,557.4 L645.6,557.7 L647.2,557.2 L648.7,557.2 L650.2,557.6 L651.7,557.7 L653.0,557.5 L654.3,557.2 L655.6,557.5 L656.7,557.8 L657.8,557.6 L658.8,557.7 L663.2,558.0 L666.2,558.7 L668.0,559.3 L669.0,560.0 L669.5,560.9 L669.8,561.6 L670.3,562.2 L671.3,562.9 L672.9,564.1 L674.3,565.3 L675.6,566.5 L676.9,567.1 L678.3,568.4 L680.0,569.1 L681.5,569.0 L683.2,569.2 L685.0,569.3 L686.8,569.0 L688.7,569.2 L690.4,569.0 L692.0,569.3 L693.4,569.5 L694.9,570.2 L696.2,571.2 L697.2,572.5 L698.2,573.9 L699.1,575.2 L700.1,577.1 L700.8,578.2 L701.4,579.8 L702.0,581.2 L702.7,582.7 L703.3,584.3 L703.9,585.9 L704.4,587.8 L705.0,589.1 L705.5,590.2 L706.4,592.8 L707.1,594.9 L707.9,596.5 L708.6,598.1 L709.5,598.4 L710.3,597.9 L711.2,596.7 L712.1,595.3 L713.0,593.0 L713.9,591.1 L714.8,589.1 L715.4,587.6 L715.9,586.2 L716.5,585.0 L717.1,583.4 L717.6,581.8 L718.2,580.2 L718.8,578.5 L719.5,577.3 L720.2,575.4 L721.0,574.1 L721.8,572.4 L722.7,570.6 L723.6,569.2 L724.5,567.6 L725.4,565.8 L726.4,564.5 L727.3,563.1 L728.2,562.3 L729.8,560.7 L731.4,559.8 L733.1,559.1 L734.7,558.5 L736.3,558.0 L737.9,557.4 L739.6,557.0 L741.3,556.6 L742.8,555.8 L744.3,555.3 L745.6,555.2 L746.9,554.2 L748.1,554.4 L749.1,554.7 L750.0,553.3 L750.8,553.1 L751.4,551.5 L751.9,549.8 L752.4,549.9 L752.8,551.0 L753.1,551.0 L753.5,552.4 L753.9,554.3 L754.2,556.0 L754.6,556.8 L755.0,558.1 L755.4,558.1 L755.8,559.7 L756.2,560.8 L756.7,562.7 L757.2,562.7 L757.7,564.1 L758.5,563.3 L759.3,565.1 L760.4,566.3 L762.1,565.7 L762.7,564.9 L763.4,563.6 L764.1,565.0 L764.9,562.4 L765.8,564.0 L766.6,562.9 L767.6,562.2 L768.5,561.1 L769.4,559.6 L770.4,559.2 L771.3,559.8 L772.3,559.3 L773.3,557.9 L774.2,559.0 L775.1,556.0 L776.1,556.6 L777.1,555.7 L778.1,556.4 L779.1,557.9 L780.2,557.7 L781.2,555.4 L782.2,555.9 L783.3,555.2 L784.3,557.1 L785.3,556.2 L786.3,555.3 L787.3,555.6 L788.2,557.8 L789.3,555.2 L790.3,556.2 L791.4,555.5 L792.4,554.2 L793.5,554.2 L794.5,552.8 L795.5,551.5 L796.5,552.6 L797.5,551.3 L798.4,551.2 L799.4,550.3 L800.3,554.0 L801.3,551.7 L802.3,550.8 L803.2,550.4 L804.1,552.0 L805.0,556.0 L805.9,553.9 L806.8,556.3 L807.7,554.6 L808.6,557.3 L809.5,556.5 L810.4,558.1 L811.3,556.9 L812.3,555.8 L813.2,554.8 L814.1,555.8 L815.1,556.4 L816.0,555.0 L816.9,553.2 L817.8,551.8 L818.7,554.3 L819.6,553.8 L820.4,550.1 L821.2,553.0 L821.9,553.8 L822.6,553.8 L823.2,556.0 L823.8,556.2 L824.4,553.7 L825.2,558.4 L826.1,555.7 L827.1,556.7 L828.4,560.4 L829.1,556.5 L829.9,557.9 L830.8,559.4 L831.7,557.9 L832.7,558.6 L833.7,560.8 L834.7,560.5 L835.8,561.3 L836.8,561.8 L837.9,562.4 L839.1,562.7 L840.2,562.8 L841.3,563.6 L842.4,562.1 L843.5,563.0 L844.5,562.6 L845.6,563.8 L846.6,563.2 L847.6,562.8 L848.5,563.4 L849.6,562.5 L850.7,562.1 L851.7,562.6 L852.7,561.8 L853.7,561.3 L854.7,561.3 L855.6,561.9 L856.6,562.3 L857.5,560.3 L858.4,561.4 L859.4,559.9 L860.4,560.6 L861.4,560.0 L862.4,560.1 L863.5,560.3 L864.6,559.8 L865.5,559.7 L866.5,560.2 L867.5,559.2 L868.5,559.6 L869.6,560.1 L870.7,560.4 L871.7,560.6 L872.8,559.5 L873.9,560.1 L875.0,559.9 L876.1,560.2 L877.2,560.3 L878.2,560.1 L879.3,560.2 L880.3,560.6 L881.3,560.5 L882.2,560.7 L883.1,560.9 L883.9,560.8 L884.7,561.1 L887.0,561.3 L889.1,562.2 L890.8,562.9 L892.3,563.8 L893.6,564.4 L894.8,564.8 L897.0,564.4 L898.3,564.2 L898.7,565.0 L899.1,565.4 L899.5,566.1 L899.9,567.2 L900.3,568.9 L900.7,571.7 L901.2,576.4 L901.3,577.1 L901.4,578.6 L901.5,579.4 L901.6,580.5 L901.7,581.7 L901.8,583.1 L901.9,584.6 L902.0,586.1 L902.1,587.4 L902.2,588.9 L902.3,590.2 L902.4,591.8 L902.5,593.4 L902.6,595.1 L902.8,596.9 L902.9,598.7 L903.0,599.9 L903.1,602.1 L903.2,603.9 L903.3,605.4 L903.4,607.3 L903.6,609.1 L903.7,610.6 L903.8,612.7 L903.9,614.7 L904.0,616.4 L904.2,618.3 L904.3,619.7 L904.4,621.8 L904.5,623.5 L904.7,625.4 L904.8,626.8 L904.9,628.8 L905.0,630.3 L905.2,632.3 L905.3,634.0 L905.4,635.3 L905.6,637.0 L905.7,638.5 L905.8,640.4 L906.0,642.1 L906.1,643.5 L906.3,645.7 L906.4,647.4 L906.5,648.8 L906.7,650.6 L906.8,652.3 L907.0,654.2 L907.1,655.8 L907.3,657.6 L907.4,659.5 L907.6,661.0 L907.7,662.8 L907.9,664.7 L908.0,666.2 L908.2,667.9 L908.3,670.0 L908.5,671.3 L908.6,673.2 L908.8,674.8 L909.0,676.4 L909.1,678.1 L909.3,679.8 L909.5,681.2 L909.6,683.0 L909.8,684.3 L910.0,685.8 L910.1,687.4 L910.3,688.9 L910.5,690.4 L910.7,691.7 L910.8,693.3 L911.0,694.6 L911.2,695.8 L911.4,697.1 L911.6,698.3 L912.0,700.6 L912.5,703.2 L913.0,705.5 L913.4,707.6 L913.9,709.8 L914.5,711.8 L915.0,713.8 L915.5,715.2 L916.0,717.1 L916.6,718.7 L917.1,719.9 L917.6,721.3 L918.1,722.0 L918.6,723.3 L919.1,723.9 L919.6,724.8 L920.0,725.2 L920.9,725.9 L921.6,725.9 L922.3,725.5 L923.0,724.7 L923.8,722.9 L924.5,720.4 L925.4,717.0 L926.5,713.0 L926.8,712.3 L927.0,710.9 L927.3,709.9 L927.6,708.7 L927.8,707.4 L928.1,706.1 L928.4,704.9 L928.7,703.3 L929.1,701.6 L929.4,700.1 L929.7,698.5 L930.0,697.0 L930.3,695.4 L930.7,693.5 L931.0,692.0 L931.3,690.1 L931.7,688.1 L932.0,686.5 L932.4,684.7 L932.7,682.8 L933.1,681.2 L933.4,679.5 L933.8,677.7 L934.1,675.7 L934.5,674.0 L934.8,672.0 L935.1,670.2 L935.5,668.6 L935.8,666.4 L936.2,664.8 L936.5,663.1 L936.8,661.4 L937.1,659.8 L937.5,658.0 L937.8,656.7 L938.1,655.3 L938.4,653.5 L938.8,651.7 L939.1,649.9 L939.5,648.3 L939.8,646.1 L940.2,644.4 L940.6,642.1 L940.9,640.3 L941.3,638.4 L941.7,636.4 L942.0,634.1 L942.4,632.5 L942.7,630.5 L943.1,628.3 L943.4,626.6 L943.8,624.5 L944.1,622.5 L944.5,620.8 L944.8,619.2 L945.2,617.4 L945.5,615.6 L945.8,614.1 L946.1,612.6 L946.5,611.5 L946.8,610.2 L947.1,608.9 L947.4,607.9 L947.7,607.2 L948.0,606.1 L948.3,605.5 L948.5,604.8 L948.8,604.5 L949.2,604.0 L949.7,603.9 L950.1,604.4 L950.4,604.9 L950.8,606.0 L951.1,607.3 L951.5,608.7 L951.8,610.5 L952.1,612.2 L952.4,614.0 L952.7,616.5 L953.0,618.6 L953.3,621.1 L953.6,623.6 L953.9,625.7 L954.2,628.0 L954.5,630.4 L954.8,632.8 L955.0,634.0 L955.2,635.4 L955.3,637.1 L955.5,638.9 L955.7,640.8 L955.9,642.7 L956.1,644.7 L956.2,646.7 L956.4,648.7 L956.6,650.9 L956.8,652.8 L956.9,655.4 L957.1,657.6 L957.3,659.6 L957.5,661.9 L957.7,664.0 L957.8,666.4 L958.0,668.4 L958.2,670.6 L958.4,672.6 L958.6,674.5 L958.7,676.1 L958.9,677.7 L959.1,679.6 L959.3,681.0 L959.4,682.0 L959.6,683.2 L959.8,684.4 L960.0,685.2 L960.2,685.6 L960.3,686.1 L960.5,686.6 L960.7,686.1 L960.9,686.0 L961.0,685.8 L961.2,685.4 L961.3,684.8 L961.5,683.7 L961.6,683.0 L961.8,682.0 L961.9,680.5 L962.1,679.1 L962.3,677.8 L962.4,676.5 L962.6,674.6 L962.7,673.1 L962.9,671.6 L963.0,669.4 L963.2,667.7 L963.4,665.8 L963.5,664.0 L963.7,661.7 L963.8,659.7 L964.0,657.8 L964.1,655.6 L964.3,653.2 L964.5,651.4 L964.6,649.1 L964.8,647.3 L964.9,645.2 L965.1,642.9 L965.2,640.8 L965.4,638.7 L965.5,636.8 L965.7,634.9 L965.8,633.0 L966.0,631.5 L966.1,629.5 L966.3,628.1 L966.4,626.6 L966.6,625.2 L966.7,623.8 L966.9,621.8 L967.2,619.2 L967.4,616.8 L967.6,614.8 L967.8,612.3 L968.0,610.3 L968.2,608.0 L968.4,605.6 L968.6,603.5 L968.8,601.0 L969.0,599.1 L969.3,597.1 L969.5,595.2 L969.7,593.5 L969.9,592.0 L970.1,590.7 L970.3,589.2 L970.5,588.4 L970.7,587.4 L971.0,587.2 L971.2,586.6 L971.4,586.6 L971.7,586.6 L971.9,587.1 L972.1,587.5 L972.3,588.0 L972.5,588.4 L972.7,588.9 L972.9,589.9 L973.1,590.4 L973.3,591.7 L973.5,592.5 L973.7,593.8 L973.9,594.7 L974.1,596.2 L974.3,597.4 L974.5,598.7 L974.7,600.4 L974.9,602.3 L975.2,603.8 L975.4,605.6 L975.6,607.6 L975.8,609.7 L976.0,611.3 L976.3,613.6 L976.5,615.9 L976.7,618.1 L976.9,620.2 L977.2,622.7 L977.4,625.3 L977.6,627.6 L977.8,630.4 L978.1,633.2 L978.3,636.0 L978.5,638.6 L978.6,639.9 L978.7,640.9 L978.8,642.0 L978.9,643.4 L978.9,644.8 L979.0,646.1 L979.1,647.6 L979.2,648.5 L979.3,650.1 L979.4,651.5 L979.5,652.8 L979.6,654.6 L979.7,655.7 L979.8,657.3 L979.8,658.7 L979.9,660.6 L980.0,662.1 L980.1,663.5 L980.2,665.5 L980.3,667.0 L980.4,668.4 L980.5,670.5 L980.6,672.1 L980.7,673.5 L980.8,675.5 L980.9,676.9 L981.0,678.7 L981.1,680.5 L981.2,682.6 L981.3,684.0 L981.4,685.9 L981.4,687.6 L981.5,689.7 L981.6,691.2 L981.7,693.3 L981.8,694.9 L981.9,696.8 L982.0,698.8 L982.1,700.3 L982.2,702.3 L982.3,704.2 L982.4,706.0 L982.5,707.8 L982.6,709.7 L982.7,711.4 L982.8,713.2 L982.9,714.9 L983.0,717.1 L983.1,718.9 L983.1,720.8 L983.2,722.3 L983.3,724.3 L983.4,726.0 L983.5,727.8 L983.6,729.8 L983.7,731.4 L983.8,733.1 L983.9,734.9 L984.0,736.4 L984.1,738.5 L984.2,740.0 L984.3,741.5 L984.4,743.3 L984.4,745.2 L984.5,746.9 L984.6,748.2 L984.7,749.7 L984.8,751.6 L984.9,752.9 L985.0,754.2 L985.1,755.9 L985.2,757.5 L985.2,759.0 L985.3,760.1 L985.4,761.7 L985.5,763.3 L985.6,764.4 L985.7,765.7 L985.8,767.2 L985.8,768.3 L985.9,769.7 L986.0,770.8 L986.2,773.5 L986.4,775.9 L986.5,778.6 L986.7,781.1 L986.9,783.5 L987.0,785.9 L987.2,788.4 L987.4,790.7 L987.5,792.9 L987.7,795.7 L987.9,797.9 L988.0,800.2 L988.2,802.4 L988.4,804.4 L988.5,806.8 L988.7,808.6 L988.8,810.8 L989.0,812.3 L989.2,814.3 L989.3,816.2 L989.5,818.1 L989.6,819.6 L989.8,821.3 L989.9,822.5 L990.1,824.1 L990.2,825.4 L990.4,826.5 L990.5,827.3 L990.7,828.7 L990.8,829.2 L991.0,830.2 L991.1,830.8 L991.3,831.7 L991.4,831.8 L991.6,832.4 L991.7,832.3 L991.9,832.4 L992.0,832.6 L992.1,832.5 L992.2,831.8 L992.4,831.7 L992.5,831.0 L992.6,830.5 L992.7,829.5 L992.9,828.6 L993.0,827.6 L993.1,827.0 L993.2,825.7 L993.3,824.5 L993.4,822.9 L993.6,821.8 L993.7,820.5 L993.8,818.6 L993.9,817.3 L994.0,815.6 L994.1,814.0 L994.3,812.0 L994.4,810.2 L994.5,808.1 L994.6,806.4 L994.7,804.2 L994.8,802.4 L994.9,800.3 L995.0,798.4 L995.2,796.3 L995.3,793.8 L995.4,791.7 L995.5,789.7 L995.6,787.5 L995.7,785.6 L995.8,783.2 L995.9,781.2 L996.0,779.0 L996.1,776.8 L996.2,774.9 L996.4,772.7 L996.5,770.9 L996.6,768.4 L996.7,766.8 L996.8,764.7 L996.9,762.7 L997.0,760.6 L997.1,759.4 L997.2,758.0 L997.2,756.3 L997.3,754.9 L997.4,753.2 L997.5,751.4 L997.6,750.1 L997.7,748.2 L997.7,746.6 L997.8,745.0 L997.9,743.3 L998.0,741.5 L998.1,739.5 L998.1,738.0 L998.2,735.8 L998.3,734.2 L998.4,732.3 L998.5,730.7 L998.5,728.8 L998.6,726.9 L998.7,725.1 L998.8,723.1 L998.9,721.2 L998.9,719.2 L999.0,717.5 L999.1,715.6 L999.2,714.0 L999.2,711.8 L999.3,710.4 L999.4,708.4 L999.5,706.5 L999.6,704.6 L999.6,702.9 L999.7,701.2 L999.8,699.3 L999.9,697.9 L999.9,695.9 L1000.0,694.3 L1000.1,692.5 L1000.2,690.9 L1000.3,689.3 L1000.3,688.0 L1000.4,686.0 L1000.5,684.6 L1000.6,683.3 L1000.6,681.7 L1000.7,680.3 L1000.8,678.9 L1000.9,677.4 L1001.0,676.2 L1001.0,675.0 L1001.1,674.0 L1001.2,672.6 L1001.3,671.5 L1001.3,670.6 L1001.4,669.4 L1001.5,668.5 L1002.0,663.2 L1002.5,659.7 L1003.0,657.2 L1003.5,655.7 L1004.0,654.9 L1004.5,654.5 L1005.0,654.5 L1005.5,653.9 L1006.0,653.8 L1007.4,653.8 L1008.8,656.0 L1010.4,656.6 L1011.1,656.0 L1011.8,654.8 L1012.5,653.1 L1013.2,651.1 L1014.0,649.2 L1014.8,647.5 L1015.6,646.1 L1016.4,644.8 L1017.9,642.3 L1019.5,639.9 L1021.1,638.5 L1022.6,637.4 L1023.8,638.5 L1024.1,639.4 L1024.3,640.0 L1024.6,641.3 L1024.8,642.1 L1025.0,643.3 L1025.1,644.7 L1025.3,645.6 L1025.4,647.1 L1025.6,648.9 L1025.7,650.5 L1025.8,652.2 L1026.0,654.1 L1026.1,656.3 L1026.2,658.6 L1026.4,660.9 L1026.5,663.4 L1026.6,666.0 L1026.8,668.3 L1026.9,669.5 L1026.9,671.2 L1027.0,672.3 L1027.1,674.0 L1027.1,675.6 L1027.2,677.5 L1027.3,679.0 L1027.3,680.7 L1027.4,682.6 L1027.5,684.9 L1027.5,686.9 L1027.6,688.6 L1027.7,691.1 L1027.7,693.0 L1027.8,695.3 L1027.9,697.4 L1027.9,699.7 L1028.0,701.7 L1028.1,703.7 L1028.1,706.2 L1028.2,708.5 L1028.2,710.4 L1028.3,712.8 L1028.4,714.7 L1028.4,716.7 L1028.5,718.7 L1028.6,720.6 L1028.6,722.6 L1028.7,724.7 L1028.8,726.3 L1028.8,728.0 L1028.9,729.4 L1029.0,731.0 L1029.0,732.5 L1029.1,733.7 L1029.2,734.7 L1029.2,736.2 L1029.3,736.8 L1029.4,737.9 L1029.4,738.8 L1029.5,739.0 L1029.6,739.4 L1029.6,739.6 L1029.7,739.8 L1029.8,740.0 L1029.8,739.3 L1029.9,738.9 L1030.0,738.7 L1030.0,737.7 L1030.1,737.0 L1030.2,736.1 L1030.2,734.6 L1030.3,733.4 L1030.3,732.4 L1030.4,731.0 L1030.5,729.4 L1030.5,727.6 L1030.6,725.7 L1030.7,724.1 L1030.7,722.1 L1030.8,720.2 L1030.8,718.1 L1030.9,716.3 L1031.0,714.2 L1031.0,712.0 L1031.1,709.8 L1031.2,707.5 L1031.2,705.3 L1031.3,703.1 L1031.4,701.4 L1031.4,698.7 L1031.5,696.8 L1031.6,694.5 L1031.6,692.4 L1031.7,690.2 L1031.8,688.4 L1031.8,686.3 L1031.9,684.1 L1032.0,682.2 L1032.1,680.5 L1032.1,678.4 L1032.2,677.0 L1032.3,675.2 L1032.4,673.7 L1032.5,672.2 L1032.5,670.9 L1032.6,669.4 L1032.7,668.4 L1033.0,665.1 L1033.3,662.2 L1033.6,659.8 L1033.9,658.1 L1034.3,656.2 L1034.6,654.9 L1034.9,653.5 L1035.3,652.7 L1035.7,651.4 L1036.0,650.6 L1036.4,649.6 L1036.8,648.8 L1037.2,647.4 L1038.1,645.4 L1039.1,643.7 L1040.1,642.4 L1041.1,641.0 L1042.1,640.0 L1043.1,638.9 L1044.2,636.7 L1045.3,635.2 L1046.4,633.4 L1047.6,631.8 L1049.0,631.1 L1050.2,631.3 L1051.5,631.5 L1052.9,631.2 L1054.3,632.3 L1055.7,633.6 L1056.9,635.4 L1058.0,638.8 L1058.2,639.5 L1058.5,640.5 L1058.7,641.9 L1058.9,642.9 L1059.1,644.4 L1059.2,645.6 L1059.4,646.9 L1059.6,648.7 L1059.8,649.7 L1059.9,651.7 L1060.1,653.0 L1060.2,654.9 L1060.3,656.5 L1060.5,658.1 L1060.6,659.7 L1060.8,661.8 L1060.9,663.6 L1061.0,665.4 L1061.2,667.0 L1061.3,669.0 L1061.4,670.8 L1061.6,672.6 L1061.7,674.2 L1061.9,676.2 L1062.0,677.9 L1062.2,679.9 L1062.3,681.6 L1062.5,683.5 L1062.6,685.0 L1062.8,686.6 L1063.0,688.1 L1063.1,690.0 L1063.3,691.8 L1063.4,693.9 L1063.6,695.8 L1063.7,698.0 L1063.9,700.3 L1064.1,702.1 L1064.2,704.7 L1064.4,706.8 L1064.5,708.9 L1064.7,710.8 L1064.9,713.0 L1065.0,715.2 L1065.2,717.3 L1065.4,719.5 L1065.5,721.0 L1065.7,722.9 L1065.9,725.1 L1066.0,726.4 L1066.2,728.5 L1066.3,729.6 L1066.5,731.4 L1066.7,732.4 L1066.8,733.6 L1067.0,734.7 L1067.2,735.5 L1067.3,736.0 L1067.5,736.5 L1067.6,736.9 L1067.8,736.8 L1068.0,736.7 L1068.1,736.7 L1068.3,736.1 L1068.4,735.4 L1068.6,734.3 L1068.7,733.2 L1068.9,731.9 L1069.0,730.9 L1069.2,729.0 L1069.3,727.5 L1069.5,725.7 L1069.6,724.1 L1069.7,722.5 L1069.9,720.0 L1070.0,718.1 L1070.2,716.0 L1070.3,714.1 L1070.5,711.7 L1070.6,709.4 L1070.8,707.5 L1070.9,705.4 L1071.1,702.9 L1071.2,700.7 L1071.4,698.7 L1071.5,696.9 L1071.7,694.5 L1071.9,692.6 L1072.0,691.0 L1072.2,689.3 L1072.4,687.5 L1072.5,685.7 L1072.7,684.6 L1072.9,683.1 L1073.3,680.7 L1073.7,678.3 L1074.1,676.4 L1074.5,673.8 L1074.9,671.9 L1075.3,670.1 L1075.8,667.9 L1076.2,666.2 L1076.7,664.8 L1077.1,663.2 L1077.5,661.7 L1078.0,660.7 L1078.4,660.0 L1078.9,659.1 L1079.3,658.6 L1079.7,657.8 L1080.3,657.5 L1080.9,657.7 L1081.5,657.8 L1082.1,658.9 L1082.7,659.6 L1083.3,661.1 L1083.9,663.0 L1084.5,665.0 L1085.1,667.8 L1085.6,670.6 L1086.2,674.4 L1086.3,675.6 L1086.5,676.5 L1086.6,677.6 L1086.8,679.1 L1086.9,680.1 L1087.1,681.7 L1087.2,682.8 L1087.4,684.5 L1087.5,685.6 L1087.7,687.4 L1087.8,689.1 L1088.0,690.5 L1088.1,692.0 L1088.2,694.0 L1088.4,695.7 L1088.5,697.3 L1088.7,698.7 L1088.8,700.4 L1089.0,702.5 L1089.1,704.0 L1089.2,705.8 L1089.4,707.8 L1089.5,709.9 L1089.7,711.4 L1089.8,713.5 L1090.0,715.4 L1090.1,717.2 L1090.2,718.6 L1090.4,720.5 L1090.5,722.7 L1090.7,724.5 L1090.8,725.9 L1090.9,727.7 L1091.1,729.8 L1091.2,731.2 L1091.4,732.9 L1091.5,734.6 L1091.6,736.5 L1091.8,738.0 L1091.9,739.9 L1092.1,741.1 L1092.2,743.0 L1092.4,744.7 L1092.5,746.3 L1092.7,748.1 L1092.9,749.9 L1093.0,751.4 L1093.2,753.6 L1093.4,755.1 L1093.5,756.9 L1093.7,758.8 L1093.9,760.1 L1094.0,762.0 L1094.2,763.6 L1094.4,765.7 L1094.5,767.1 L1094.7,769.1 L1094.9,770.8 L1095.0,772.6 L1095.2,773.8 L1095.4,775.6 L1095.5,777.4 L1095.7,778.9 L1095.8,780.4 L1096.0,782.2 L1096.2,783.8 L1096.3,785.2 L1096.5,786.7 L1096.6,788.1 L1096.8,789.7 L1097.0,791.4 L1097.1,792.6 L1097.3,794.3 L1097.4,795.4 L1097.6,796.9 L1097.7,798.3 L1097.9,799.7 L1098.0,801.0 L1098.3,803.0 L1098.5,805.3 L1098.7,807.5 L1099.0,809.9 L1099.2,812.3 L1099.4,814.1 L1099.7,816.3 L1099.9,818.3 L1100.1,820.4 L1100.3,822.3 L1100.5,824.4 L1100.8,825.9 L1101.0,827.6 L1101.2,828.7 L1101.4,830.1 L1101.6,831.3 L1101.9,832.0 L1102.1,833.0 L1102.4,833.7 L1102.6,833.8 L1103.0,834.1 L1103.4,834.2 L1103.8,833.3 L1104.2,832.6 L1104.6,831.2 L1105.1,829.6 L1105.5,828.0 L1105.9,825.6 L1106.3,823.6 L1106.8,821.1 L1107.2,818.3 L1107.6,815.4 L1108.0,812.7 L1108.2,811.9 L1108.3,810.3 L1108.5,809.1 L1108.6,807.6 L1108.8,806.5 L1108.9,805.0 L1109.1,803.6 L1109.3,801.9 L1109.4,800.1 L1109.6,798.8 L1109.7,797.1 L1109.9,795.6 L1110.0,793.7 L1110.2,791.9 L1110.3,790.2 L1110.5,788.5 L1110.6,786.8 L1110.8,785.0 L1110.9,783.3 L1111.1,781.4 L1111.2,779.4 L1111.4,777.9 L1111.5,776.1 L1111.7,774.0 L1111.8,772.4 L1112.0,770.9 L1112.2,769.0 L1112.3,767.1 L1112.5,765.8 L1112.7,764.1 L1112.8,762.2 L1113.0,760.9 L1113.2,759.3 L1113.4,757.5 L1113.5,756.0 L1113.7,754.1 L1113.8,752.2 L1114.0,750.8 L1114.1,749.3 L1114.3,747.6 L1114.4,745.9 L1114.6,744.3 L1114.8,742.6 L1114.9,740.7 L1115.1,738.9 L1115.2,737.3 L1115.4,735.6 L1115.6,734.4 L1115.7,732.8 L1115.9,731.2 L1116.1,729.6 L1116.3,727.8 L1116.5,726.3 L1116.7,724.5 L1117.0,723.0 L1117.2,721.7 L1117.5,720.0 L1117.8,718.7 L1118.0,717.3 L1118.3,715.7 L1118.7,714.3 L1119.0,712.9 L1119.5,711.3 L1120.0,709.6 L1120.6,707.6 L1121.2,705.8 L1121.8,704.0 L1122.5,702.1 L1123.2,700.3 L1123.9,698.3 L1124.6,696.2 L1125.3,694.5 L1126.1,692.8 L1126.8,691.2 L1127.5,689.7 L1128.3,688.1 L1129.0,686.5 L1129.7,685.1 L1130.4,684.1 L1131.0,683.1 L1131.7,681.9 L1132.3,680.7 L1132.8,680.1 L1133.3,679.5 L1133.8,678.9 L1134.8,678.6 L1135.6,679.6 L1136.2,681.1 L1136.8,683.6 L1137.2,686.0 L1137.6,689.0 L1138.1,691.2 L1138.6,692.8 L1139.2,693.9 L1140.1,693.8 L1141.1,692.5 L1142.1,690.7 L1143.2,688.9 L1144.2,687.1 L1145.1,685.7 L1146.0,684.7 L1147.1,684.9 L1148.0,685.4 L1148.9,686.7 L1149.6,689.0 L1150.4,692.1 L1150.6,693.3 L1150.8,694.7 L1151.0,695.9 L1151.2,697.6 L1151.3,698.7 L1151.5,700.3 L1151.7,701.9 L1151.8,704.0 L1152.0,705.6 L1152.1,707.4 L1152.3,709.5 L1152.5,711.5 L1152.6,713.2 L1152.8,715.2 L1152.9,717.0 L1153.1,718.6 L1153.2,720.2 L1153.4,722.1 L1153.6,723.5 L1153.7,725.1 L1153.9,727.0 L1154.1,728.9 L1154.2,730.5 L1154.4,732.1 L1154.6,733.7 L1154.7,735.4 L1154.9,737.4 L1155.1,739.0 L1155.2,740.7 L1155.4,742.5 L1155.6,744.0 L1155.7,745.8 L1155.9,747.4 L1156.1,748.7 L1156.2,750.2 L1156.4,751.7 L1156.6,753.5 L1156.8,755.5 L1157.0,757.9 L1157.2,759.9 L1157.4,761.8 L1157.6,764.1 L1157.8,766.0 L1158.0,767.7 L1158.2,769.4 L1158.4,771.2 L1158.6,772.5 L1158.8,773.4 L1159.0,773.8 L1159.3,773.9 L1159.6,773.9 L1159.8,773.2 L1160.1,772.3 L1160.4,771.3 L1160.7,769.8 L1161.0,768.2 L1161.4,766.9 L1161.7,764.5 L1162.0,762.9 L1162.4,760.7 L1162.7,758.5 L1163.1,755.9 L1163.4,754.0 L1163.8,751.6 L1164.0,750.4 L1164.3,749.0 L1164.5,747.7 L1164.7,745.8 L1165.0,744.1 L1165.2,742.8 L1165.5,741.0 L1165.8,739.3 L1166.0,737.3 L1166.3,735.7 L1166.6,734.0 L1166.8,732.2 L1167.1,730.2 L1167.4,728.3 L1167.6,726.5 L1167.9,725.2 L1168.1,723.2 L1168.4,721.5 L1168.6,720.0 L1168.9,718.4 L1169.1,717.1 L1169.3,715.4 L1169.5,714.3 L1169.7,713.2 L1170.1,710.5 L1170.4,707.9 L1170.7,705.2 L1171.0,702.9 L1171.3,700.8 L1171.5,698.6 L1171.7,697.3 L1172.0,695.7 L1172.2,695.1 L1172.4,695.0 L1172.7,695.3 L1172.8,695.7 L1173.0,696.7 L1173.1,698.0 L1173.3,699.9 L1173.5,701.6 L1173.6,703.9 L1173.8,706.1 L1173.9,708.5 L1174.1,710.8 L1174.2,713.1 L1174.4,715.7 L1174.5,717.9 L1174.7,719.9 L1174.8,722.2 L1175.0,723.8 L1175.1,725.3 L1175.2,726.6 L1175.4,727.8 L1175.5,728.0 L1175.7,727.9 L1175.8,727.6 L1175.9,726.9 L1176.0,726.3 L1176.1,725.2 L1176.2,724.3 L1176.3,723.0 L1176.4,721.4 L1176.5,719.8 L1176.6,718.0 L1176.8,716.4 L1176.9,714.5 L1177.0,712.6 L1177.1,710.2 L1177.2,708.5 L1177.3,706.0 L1177.4,703.8 L1177.5,701.8 L1177.6,699.8 L1177.7,697.4 L1177.8,695.6 L1177.9,693.7 L1178.1,691.7 L1178.2,689.8 L1178.3,687.7 L1178.4,686.2 L1178.6,684.6 L1178.7,683.2 L1178.9,681.3 L1179.2,679.3 L1179.4,676.9 L1179.7,675.1 L1179.9,673.2 L1180.2,671.6 L1180.4,669.6 L1180.7,667.8 L1181.0,666.2 L1181.3,664.7 L1181.6,663.3 L1181.9,661.7 L1182.2,660.6 L1182.5,659.0 L1182.8,657.6 L1183.1,656.7 L1183.7,654.4 L1184.3,652.6 L1185.0,650.6 L1185.7,648.9 L1186.4,647.2 L1187.0,646.2 L1187.7,645.0 L1188.4,643.8 L1189.1,643.0 L1191.0,642.9 L1192.9,644.4 L1195.0,644.8 L1196.2,644.3 L1197.5,643.5 L1198.8,642.0 L1200.1,640.8 L1201.4,639.8 L1202.5,638.5 L1204.0,636.9 L1205.3,635.0 L1206.6,633.1 L1207.8,633.0 L1208.6,633.5 L1209.3,635.5 L1210.1,637.3 L1210.8,639.4 L1211.5,640.9 L1212.3,641.7 L1212.9,640.9 L1213.5,640.1 L1214.1,638.3 L1214.8,636.7 L1215.5,634.5 L1216.3,632.9 L1217.3,631.4 L1218.6,630.0 L1220.1,629.1 L1221.8,627.8 L1223.5,626.8 L1225.1,626.0 L1226.6,625.3 L1227.7,625.3 L1228.9,625.4 L1229.6,626.1 L1230.0,628.2 L1230.7,631.1 L1230.9,632.6 L1231.2,633.7 L1231.4,635.0 L1231.6,636.8 L1231.9,638.4 L1232.1,640.4 L1232.4,642.3 L1232.6,644.4 L1232.9,646.4 L1233.2,647.9 L1233.4,650.3 L1233.7,652.2 L1234.0,653.5 L1234.3,655.2 L1234.6,656.9 L1234.9,658.1 L1235.2,659.3 L1236.1,661.9 L1237.1,663.2 L1238.1,664.3 L1239.2,665.0 L1240.2,666.5 L1241.1,668.6 L1241.4,669.4 L1241.8,671.0 L1242.1,672.4 L1242.4,673.9 L1242.7,674.9 L1243.0,676.7 L1243.3,678.1 L1243.5,679.8 L1243.8,681.6 L1244.1,683.1 L1244.4,685.1 L1244.7,686.6 L1245.0,688.8 L1245.3,690.2 L1245.6,692.3 L1245.9,693.8 L1246.1,695.3 L1246.4,697.3 L1246.7,699.6 L1247.0,701.6 L1247.3,703.7 L1247.6,705.9 L1247.8,708.2 L1248.1,710.6 L1248.4,712.3 L1248.7,714.6 L1249.0,716.1 L1249.3,718.0 L1249.6,719.4 L1249.8,720.6 L1250.1,721.2 L1250.3,722.0 L1250.6,722.0 L1250.8,721.9 L1251.1,721.4 L1251.3,720.2 L1251.5,718.9 L1251.7,717.8 L1251.9,715.8 L1252.1,714.0 L1252.3,712.1 L1252.5,709.8 L1252.7,707.7 L1252.9,705.4 L1253.1,703.1 L1253.3,701.3 L1253.5,699.2 L1253.7,697.2 L1254.0,695.2 L1254.2,693.8 L1254.5,692.2 L1255.0,689.9 L1255.6,687.3 L1256.2,685.1 L1256.8,682.9 L1257.4,681.1 L1258.0,679.4 L1258.7,677.8 L1259.3,676.6 L1259.9,676.2 L1260.4,675.7 L1260.8,676.4 L1261.2,676.6 L1261.6,678.1 L1262.0,679.2 L1262.4,680.8 L1262.8,682.3 L1263.2,684.3 L1263.5,686.2 L1263.9,688.5 L1264.2,690.6 L1264.6,692.9 L1264.9,695.4 L1265.1,696.8 L1265.3,697.9 L1265.4,699.6 L1265.6,701.7 L1265.7,703.2 L1265.9,705.2 L1266.1,707.3 L1266.2,709.2 L1266.4,711.4 L1266.5,713.4 L1266.7,715.5 L1266.8,717.7 L1267.0,719.7 L1267.1,721.6 L1267.3,723.4 L1267.4,724.7 L1267.6,726.4 L1267.8,727.7 L1267.9,728.8 L1268.1,729.7 L1268.3,730.6 L1268.5,730.9 L1268.9,731.4 L1269.2,730.7 L1269.6,730.0 L1270.0,728.7 L1270.4,727.4 L1270.8,725.4 L1271.2,723.2 L1271.6,721.0 L1272.1,718.7 L1272.5,716.3 L1272.9,714.1 L1273.4,712.1 L1273.8,709.9 L1274.1,708.4 L1274.5,706.9 L1274.9,705.2 L1275.2,703.2 L1275.6,701.4 L1276.0,699.2 L1276.3,697.5 L1276.7,695.5 L1277.1,693.5 L1277.4,691.7 L1277.8,690.1 L1278.2,688.3 L1278.5,686.9 L1278.9,685.8 L1279.3,684.8 L1279.6,683.9 L1280.7,683.6 L1281.7,685.5 L1282.7,687.9 L1283.8,690.0 L1284.8,691.6 L1286.5,691.4 L1288.2,690.2 L1290.0,689.6 L1291.1,688.2 L1292.3,686.8 L1293.5,685.2 L1294.8,684.3 L1296.2,682.9 L1297.8,683.2 L1299.5,684.0 L1301.3,684.8 L1303.0,685.9 L1304.6,685.7 L1306.3,687.0 L1308.0,686.7 L1309.4,687.5 L1310.8,688.2 L1312.3,690.1 L1313.6,691.9 L1315.0,692.6 L1316.7,691.9 L1318.4,690.7 L1320.2,689.9 L1321.1,691.2 L1321.9,692.8 L1322.7,694.2 L1323.6,696.2 L1324.5,697.6 L1325.4,698.3 L1326.9,698.3 L1328.4,697.5 L1330.0,696.5 L1331.7,696.0 L1333.3,695.3 L1335.1,695.7 L1336.9,695.8 L1338.6,695.6 L1340.0,696.3 L1341.3,698.3 L1342.2,699.4 L1343.1,701.7 L1344.2,703.0 L1346.2,703.8 L1348.3,703.7 L1350.4,704.2 L1351.8,704.2 L1353.1,705.5 L1354.4,707.0 L1355.6,709.3 L1356.0,710.6 L1356.3,710.9 L1356.6,712.5 L1357.0,714.3 L1357.3,715.0 L1357.6,716.6 L1357.9,718.1 L1358.2,719.9 L1358.5,721.8 L1358.9,723.7 L1359.2,725.5 L1359.5,727.8 L1359.8,730.4 L1360.0,731.2 L1360.2,732.5 L1360.4,734.8 L1360.6,736.2 L1360.8,738.0 L1361.0,740.0 L1361.2,741.9 L1361.4,743.1 L1361.6,744.7 L1361.9,747.4 L1362.1,749.3 L1362.3,750.9 L1362.5,753.3 L1362.7,755.1 L1362.8,756.6 L1363.0,758.4 L1363.2,759.9 L1363.4,761.2 L1363.5,762.8 L1363.7,764.6 L1363.8,765.5 L1363.9,766.6 L1364.0,767.7"/>
<path stroke="#c99400" d="M72.0,657.1 L72.8,656.5 L73.7,656.4 L74.7,657.1 L75.8,656.5 L76.9,656.5 L78.0,656.8 L79.2,656.6 L80.5,657.0 L81.9,656.5 L83.2,657.0 L84.7,656.5 L86.1,656.7 L87.7,656.9 L89.2,656.8 L90.8,656.9 L92.5,656.7 L94.2,656.3 L95.9,656.8 L97.6,656.6 L99.4,656.4 L101.2,656.3 L103.1,656.7 L104.9,656.5 L106.8,656.7 L108.7,656.6 L110.7,656.7 L112.6,656.4 L114.6,656.5 L116.5,656.4 L118.5,656.1 L120.5,656.6 L122.5,656.1 L124.5,656.4 L126.5,656.5 L128.5,656.3 L130.5,655.9 L132.5,656.4 L134.5,656.3 L136.5,655.9 L138.4,655.8 L140.4,656.1 L142.3,655.7 L144.2,656.3 L146.1,656.0 L148.0,656.0 L149.9,655.9 L151.7,656.1 L153.5,656.3 L155.3,655.8 L157.1,655.8 L158.8,656.0 L160.5,655.8 L162.1,656.0 L163.7,655.9 L165.3,655.8 L166.8,656.0 L168.3,655.9 L169.7,655.5 L171.1,656.2 L172.4,655.7 L173.6,655.8 L174.9,655.7 L176.0,656.1 L177.1,656.1 L178.1,655.8 L179.1,655.7 L180.0,655.5 L188.1,656.2 L190.6,655.9 L189.9,656.4 L188.2,656.5 L188.0,656.8 L190.5,657.3 L192.5,657.7 L194.5,658.2 L197.0,659.0 L197.6,659.4 L197.7,659.5 L198.2,659.3 L200.3,659.9 L205.0,659.8 L206.0,660.1 L207.1,660.4 L208.3,660.6 L209.6,660.3 L211.0,660.7 L212.5,660.5 L214.0,660.6 L215.6,660.7 L217.3,661.1 L219.1,661.0 L220.9,660.9 L222.7,661.1 L224.6,661.2 L226.5,661.1 L228.4,661.4 L230.3,661.6 L232.3,661.5 L234.2,661.8 L236.2,661.3 L238.1,661.7 L240.0,661.9 L241.9,661.8 L243.8,661.7 L245.6,662.2 L247.4,662.1 L249.1,662.1 L250.7,662.0 L252.3,662.7 L253.8,662.3 L255.2,662.3 L256.6,662.4 L257.8,662.5 L259.0,663.0 L260.0,662.6 L263.9,662.9 L266.4,662.9 L267.9,663.1 L268.8,663.1 L269.3,663.3 L270.1,663.8 L271.3,664.5 L272.7,665.2 L274.1,665.7 L275.5,666.9 L276.9,668.2 L278.4,669.0 L279.8,670.3 L281.2,671.6 L282.6,672.7 L283.9,674.0 L285.1,675.1 L286.4,676.2 L287.7,677.3 L288.9,678.5 L290.2,679.7 L291.5,680.6 L292.7,681.9 L294.0,682.5 L295.6,683.8 L297.1,684.3 L298.6,684.6 L300.1,685.3 L301.7,685.8 L303.4,686.0 L305.3,686.9 L306.6,687.2 L308.1,688.1 L309.7,688.3 L311.3,689.3 L312.9,690.1 L314.6,690.7 L316.2,691.0 L317.8,691.6 L319.4,691.9 L320.8,692.3 L322.2,692.8 L324.1,692.9 L325.9,692.3 L327.5,692.2 L329.0,691.9 L330.5,691.1 L332.0,690.7 L333.6,690.0 L335.0,689.0 L336.3,688.0 L337.6,687.2 L338.9,685.9 L340.3,684.6 L341.7,683.4 L343.2,682.2 L344.9,681.5 L346.3,680.5 L347.7,679.7 L349.3,678.9 L350.9,678.1 L352.6,676.8 L354.3,676.0 L355.9,675.5 L357.5,674.6 L359.1,673.8 L360.5,673.3 L361.8,672.6 L363.8,672.2 L365.6,672.2 L367.1,672.6 L368.6,672.8 L370.0,673.0 L371.7,673.0 L373.2,672.0 L374.8,671.3 L376.4,670.4 L378.0,669.2 L379.6,668.2 L381.3,667.6 L383.0,666.9 L384.5,667.4 L386.1,667.7 L387.8,668.5 L389.4,669.3 L391.0,669.7 L392.7,670.4 L394.3,670.9 L395.8,671.3 L397.4,671.2 L398.8,670.5 L400.2,669.4 L401.5,668.5 L403.1,667.7 L404.9,667.0 L407.1,667.3 L408.3,667.5 L409.7,667.8 L411.2,668.3 L412.7,668.8 L414.4,669.4 L416.1,669.9 L417.8,670.6 L419.6,671.4 L421.3,672.0 L423.0,673.2 L424.5,673.5 L426.0,674.0 L427.4,674.7 L428.6,675.1 L429.7,675.6 L433.1,676.1 L434.6,675.5 L436.0,675.2 L438.4,674.9 L440.7,674.3 L442.5,673.6 L444.5,672.3 L446.2,672.1 L447.6,672.9 L448.9,674.4 L450.1,676.6 L450.5,677.6 L451.0,679.4 L451.4,680.7 L451.8,682.2 L452.3,683.8 L452.7,685.6 L453.1,687.4 L453.6,689.0 L454.0,690.6 L454.4,692.7 L454.9,694.3 L455.3,695.7 L455.7,697.6 L456.2,699.4 L456.6,700.9 L457.0,702.2 L457.5,703.7 L457.9,704.8 L459.2,706.8 L460.5,707.3 L461.8,709.5 L462.2,710.8 L462.5,711.9 L462.9,713.8 L463.2,715.6 L463.6,717.4 L463.9,719.1 L464.3,721.0 L464.6,722.8 L465.0,724.7 L465.3,726.5 L465.7,728.3 L466.1,730.3 L466.5,732.0 L466.9,734.2 L467.3,736.3 L467.7,738.3 L468.0,739.8 L468.4,741.8 L468.8,742.9 L469.2,743.5 L469.6,743.8 L470.0,743.7 L470.4,743.1 L470.7,741.6 L471.1,740.2 L471.5,738.5 L471.9,736.3 L472.3,734.4 L472.7,732.5 L473.1,730.3 L473.5,728.5 L473.8,726.7 L474.2,725.4 L474.5,723.7 L474.9,721.6 L475.2,720.0 L475.6,718.3 L476.0,716.4 L476.4,714.6 L476.7,712.6 L477.1,711.1 L477.5,709.3 L477.8,708.0 L478.2,706.3 L478.7,704.7 L479.3,702.6 L479.8,700.6 L480.3,699.0 L480.9,697.3 L481.4,696.1 L481.9,694.5 L482.4,693.5 L482.9,692.3 L484.3,690.1 L485.5,688.4 L486.8,688.6 L487.6,689.2 L488.4,690.1 L489.2,691.6 L490.0,693.5 L490.7,695.6 L491.1,696.7 L491.5,698.1 L492.0,699.9 L492.3,701.8 L492.7,703.1 L493.1,705.2 L493.5,706.6 L493.8,707.8 L494.2,709.8 L494.6,712.2 L495.0,714.5 L495.4,716.1 L495.8,717.1 L496.2,717.4 L496.5,716.7 L496.8,715.9 L497.1,714.6 L497.4,713.1 L497.7,711.2 L498.0,709.2 L498.3,707.1 L498.7,705.5 L499.0,703.2 L499.3,701.5 L499.6,699.8 L499.9,698.4 L500.2,696.5 L500.5,694.8 L500.8,692.8 L501.1,690.9 L501.4,689.2 L501.7,687.7 L502.1,685.9 L502.4,684.7 L503.0,682.3 L503.6,680.2 L504.2,678.6 L504.8,677.2 L505.5,675.5 L506.3,674.6 L507.5,673.0 L508.9,671.5 L510.5,670.7 L512.6,669.8 L513.9,669.4 L515.4,668.8 L517.1,669.0 L518.8,668.7 L520.6,668.3 L522.4,668.2 L524.2,667.9 L526.0,668.2 L527.7,668.4 L529.3,668.2 L530.9,668.4 L532.6,668.8 L534.3,669.2 L536.1,668.9 L538.0,669.1 L540.0,669.3 L541.4,668.8 L542.9,669.1 L544.4,668.6 L546.0,668.7 L547.6,668.1 L549.2,667.6 L550.9,667.2 L552.6,666.9 L554.4,666.7 L556.2,666.8 L558.1,666.5 L560.0,666.2 L561.4,665.8 L562.7,666.0 L564.0,665.9 L565.2,665.5 L566.4,665.2 L567.6,665.4 L568.9,665.1 L570.2,665.0 L571.6,665.1 L573.2,664.8 L574.9,665.3 L576.8,664.8 L579.0,665.1 L581.3,664.9 L584.0,664.4 L586.9,664.9 L588.1,664.8 L589.3,664.5 L590.6,664.7 L592.0,664.4 L593.4,664.1 L594.9,664.1 L596.4,664.2 L598.0,664.5 L599.7,664.4 L601.4,663.8 L603.1,664.0 L604.9,663.7 L606.7,663.8 L608.5,663.8 L610.4,663.8 L612.2,663.5 L614.1,663.8 L616.0,663.5 L618.0,663.9 L619.9,663.5 L621.8,663.4 L623.8,663.6 L625.7,663.3 L627.6,663.1 L629.5,663.0 L631.4,663.1 L633.3,663.0 L635.1,663.3 L637.0,663.0 L638.8,663.2 L640.5,662.9 L642.3,662.7 L643.9,662.8 L645.6,662.9 L647.2,663.2 L648.7,662.7 L650.2,662.7 L651.7,662.7 L653.0,662.7 L654.3,663.2 L655.6,663.2 L656.7,662.8 L657.8,662.7 L658.8,663.0 L663.2,663.3 L666.2,663.5 L668.0,664.2 L669.0,665.1 L669.5,665.4 L669.8,666.5 L670.3,667.1 L671.3,667.8 L673.0,668.6 L674.5,669.5 L675.9,670.5 L677.4,671.2 L678.9,672.2 L680.6,672.7 L682.1,673.0 L683.7,672.9 L685.4,673.0 L687.2,672.8 L688.9,673.0 L690.5,672.9 L692.1,673.2 L693.4,673.5 L695.2,674.2 L696.6,675.3 L697.8,676.9 L698.9,678.5 L700.1,680.3 L700.8,681.5 L701.6,683.0 L702.3,684.3 L703.0,686.1 L703.6,688.0 L704.3,689.3 L704.9,690.7 L705.5,692.2 L706.4,694.4 L707.1,696.1 L707.9,697.8 L708.6,699.2 L709.5,699.8 L710.3,699.1 L711.2,697.8 L712.1,696.5 L713.0,694.3 L713.9,692.5 L714.8,690.9 L715.6,689.6 L716.3,688.1 L717.0,686.3 L717.8,684.7 L718.6,683.2 L719.4,681.5 L720.2,680.1 L721.1,678.9 L721.9,677.5 L722.8,675.7 L723.8,674.1 L724.8,673.1 L725.8,672.0 L726.9,670.9 L728.3,669.8 L729.9,669.3 L731.6,668.8 L733.3,668.4 L734.9,667.8 L736.3,667.6 L738.2,666.7 L740.0,665.6 L741.6,665.1 L743.0,664.6 L744.2,665.0 L745.3,666.3 L746.2,666.5 L747.0,666.8 L748.0,666.6 L748.7,664.3 L749.5,663.6 L750.3,662.4 L751.0,661.0 L751.7,661.1 L752.0,662.0 L752.3,662.6 L752.5,663.2 L752.8,664.6 L753.1,665.6 L753.4,667.6 L753.7,668.0 L754.0,669.0 L754.5,669.8 L755.0,671.0 L755.6,672.5 L756.3,672.6 L757.0,674.1 L757.8,674.4 L758.6,675.5 L759.6,675.2 L760.7,674.9 L762.1,674.2 L762.8,673.1 L763.6,674.3 L764.4,674.2 L765.3,673.7 L766.2,673.3 L767.2,671.0 L768.2,672.0 L769.2,670.5 L770.2,670.1 L771.2,671.3 L772.2,669.2 L773.1,669.0 L774.0,667.0 L774.9,667.1 L775.9,666.7 L776.9,666.2 L777.8,666.9 L778.8,664.7 L779.8,664.4 L780.7,664.0 L781.7,666.0 L782.5,666.6 L783.4,665.6 L784.2,664.6 L785.4,663.1 L786.5,665.7 L787.6,663.7 L788.6,663.2 L789.5,665.9 L790.4,668.1 L791.4,665.5 L792.3,668.4 L793.3,665.3 L794.2,668.0 L795.2,666.1 L796.1,666.0 L797.0,665.8 L797.9,664.4 L798.6,660.8 L799.3,662.6 L799.8,663.2 L800.1,665.0 L800.4,663.6 L800.6,666.7 L800.8,666.6 L801.1,667.3 L801.4,669.9 L801.8,672.6 L802.3,671.8 L803.0,670.9 L803.7,670.0 L804.6,670.3 L805.4,670.0 L806.4,668.7 L807.4,668.2 L808.4,667.1 L809.4,666.9 L810.4,668.4 L811.3,667.8 L812.3,667.5 L813.3,668.8 L814.4,667.1 L815.4,664.1 L816.5,665.3 L817.5,665.7 L818.5,666.8 L819.5,665.6 L820.4,663.4 L821.4,665.6 L822.3,667.0 L823.0,668.3 L823.8,667.2 L824.6,666.6 L825.6,666.3 L826.8,669.2 L828.4,670.8 L829.1,667.5 L829.9,669.7 L830.8,670.2 L831.7,670.0 L832.7,668.7 L833.7,668.2 L834.7,667.9 L835.8,668.9 L836.8,671.0 L837.9,669.2 L839.1,671.2 L840.2,670.5 L841.3,669.6 L842.4,669.0 L843.5,669.3 L844.5,670.2 L845.6,668.5 L846.6,667.9 L847.6,669.6 L848.5,668.8 L849.6,668.0 L850.7,667.9 L851.7,666.9 L852.7,667.8 L853.7,668.0 L854.7,667.0 L855.6,667.2 L856.6,666.9 L857.5,665.7 L858.4,666.1 L859.4,666.6 L860.4,665.6 L861.4,664.5 L862.4,665.0 L863.5,664.8 L864.6,664.9 L865.5,664.8 L866.5,665.1 L867.5,665.1 L868.6,663.9 L869.6,664.3 L870.7,663.7 L871.8,665.2 L872.9,663.8 L874.0,664.4 L875.1,664.7 L876.2,664.6 L877.3,664.6 L878.4,664.9 L879.4,664.8 L880.4,665.0 L881.4,665.2 L882.3,665.1 L883.1,665.3 L884.0,665.5 L884.7,665.5 L887.2,666.0 L889.0,666.5 L890.5,667.1 L891.7,667.2 L893.0,667.8 L895.0,667.4 L896.7,667.4 L898.3,669.8 L898.6,670.9 L898.8,671.4 L899.1,672.2 L899.4,672.3 L899.6,673.2 L899.9,673.8 L900.1,674.7 L900.3,675.3 L900.6,676.3 L900.8,678.0 L901.1,679.5 L901.3,681.5 L901.6,683.9 L901.8,686.9 L902.1,690.1 L902.4,694.0 L902.7,698.4 L902.8,699.4 L902.8,700.2 L902.9,701.2 L903.0,702.4 L903.0,703.8 L903.1,705.0 L903.1,706.0 L903.2,707.5 L903.3,708.8 L903.3,709.8 L903.4,711.4 L903.4,712.9 L903.5,714.0 L903.6,715.6 L903.6,717.3 L903.7,718.8 L903.7,720.3 L903.8,721.7 L903.9,723.4 L903.9,725.3 L904.0,726.7 L904.1,728.5 L904.1,730.3 L904.2,731.8 L904.2,733.6 L904.3,735.4 L904.4,737.4 L904.4,739.2 L904.5,740.7 L904.6,742.7 L904.6,744.6 L904.7,746.5 L904.7,748.2 L904.8,750.1 L904.9,752.0 L904.9,753.9 L905.0,755.9 L905.1,757.8 L905.1,759.7 L905.2,761.2 L905.3,763.4 L905.3,765.1 L905.4,767.0 L905.5,768.8 L905.5,771.1 L905.6,773.0 L905.7,774.7 L905.8,776.6 L905.8,778.3 L905.9,780.5 L906.0,782.3 L906.0,783.8 L906.1,785.9 L906.2,787.9 L906.3,789.4 L906.4,791.2 L906.4,793.0 L906.5,794.8 L906.6,796.4 L906.7,798.4 L906.7,799.9 L906.8,801.8 L906.9,803.4 L907.0,805.2 L907.1,806.8 L907.2,808.4 L907.3,809.6 L907.3,811.5 L907.4,813.0 L907.5,814.3 L907.6,815.6 L907.7,817.0 L907.8,818.8 L907.9,820.2 L908.0,821.1 L908.1,822.5 L908.2,823.8 L908.3,824.8 L908.4,826.3 L908.5,827.5 L908.6,828.6 L908.7,829.3 L909.1,833.1 L909.5,836.3 L909.9,839.1 L910.3,842.4 L910.7,845.1 L911.2,847.7 L911.7,850.1 L912.1,852.3 L912.6,854.3 L913.1,855.9 L913.6,858.0 L914.1,859.6 L914.6,860.8 L915.2,862.1 L915.7,863.6 L916.2,864.6 L916.7,865.0 L917.2,865.6 L917.7,866.5 L918.2,866.7 L918.6,867.2 L919.1,867.0 L919.6,867.0 L920.0,866.5 L920.3,866.5 L920.6,865.8 L920.9,865.4 L921.2,864.8 L921.5,864.0 L921.8,863.0 L922.1,862.2 L922.4,860.9 L922.7,859.8 L922.9,858.5 L923.2,857.5 L923.5,855.8 L923.8,854.6 L924.0,853.0 L924.3,851.0 L924.6,849.6 L924.8,847.9 L925.1,845.8 L925.4,843.9 L925.7,842.1 L925.9,840.0 L926.2,837.9 L926.5,836.1 L926.8,833.8 L927.1,831.7 L927.4,829.4 L927.7,827.5 L927.9,825.5 L928.2,823.0 L928.6,820.9 L928.9,818.9 L929.2,816.6 L929.5,814.4 L929.7,813.1 L929.9,811.8 L930.1,810.8 L930.3,809.3 L930.5,807.9 L930.7,806.3 L930.9,805.0 L931.1,803.0 L931.3,801.6 L931.5,799.9 L931.8,798.5 L932.0,796.5 L932.2,795.0 L932.4,793.3 L932.6,791.6 L932.9,789.7 L933.1,787.7 L933.3,786.1 L933.5,784.3 L933.8,782.6 L934.0,780.4 L934.2,778.8 L934.4,777.0 L934.7,774.8 L934.9,772.9 L935.1,771.3 L935.4,769.5 L935.6,767.5 L935.8,765.8 L936.0,763.7 L936.3,762.1 L936.5,760.3 L936.7,758.6 L936.9,756.8 L937.2,754.7 L937.4,753.2 L937.6,751.3 L937.8,749.8 L938.0,748.2 L938.3,746.5 L938.5,744.6 L938.7,743.3 L938.9,741.5 L939.1,740.2 L939.3,738.7 L939.5,737.2 L939.7,736.0 L939.9,734.4 L940.1,733.2 L940.3,731.8 L940.5,730.5 L940.7,729.6 L940.9,728.2 L941.0,727.5 L941.2,726.3 L941.4,725.2 L942.4,720.4 L943.3,715.8 L944.2,712.8 L945.0,710.7 L945.8,709.1 L946.5,708.9 L947.2,709.2 L948.0,710.4 L948.8,711.9 L949.0,712.8 L949.3,713.7 L949.5,714.4 L949.7,715.3 L950.0,716.6 L950.2,718.1 L950.5,719.0 L950.7,720.8 L950.9,722.3 L951.2,724.0 L951.4,725.5 L951.7,727.6 L951.9,728.9 L952.1,730.9 L952.4,732.8 L952.6,734.8 L952.9,736.6 L953.1,738.7 L953.3,740.7 L953.6,742.9 L953.8,744.4 L954.0,746.5 L954.3,748.4 L954.5,750.6 L954.7,752.5 L954.9,754.0 L955.2,756.2 L955.4,758.0 L955.6,759.5 L955.8,761.1 L956.0,762.8 L956.2,764.3 L956.5,765.9 L956.7,768.3 L957.0,770.2 L957.2,772.6 L957.5,775.2 L957.7,777.5 L957.9,779.9 L958.2,782.2 L958.4,784.6 L958.6,786.8 L958.8,789.3 L959.0,791.7 L959.3,793.4 L959.5,795.3 L959.7,797.4 L959.9,799.1 L960.1,800.3 L960.3,801.3 L960.5,802.5 L960.7,803.2 L961.0,803.4 L961.2,803.7 L961.4,803.3 L961.6,802.8 L961.7,802.1 L961.8,801.6 L961.9,801.0 L962.0,800.3 L962.1,799.4 L962.3,798.5 L962.4,797.3 L962.5,795.7 L962.6,794.7 L962.7,793.5 L962.8,792.1 L962.9,790.4 L963.0,788.7 L963.1,787.3 L963.2,785.4 L963.3,783.8 L963.4,781.9 L963.5,780.4 L963.6,778.1 L963.8,776.4 L963.9,774.6 L964.0,772.5 L964.1,770.3 L964.2,768.4 L964.3,766.5 L964.4,764.4 L964.5,762.5 L964.6,760.4 L964.7,758.1 L964.8,755.9 L964.9,754.2 L965.0,752.0 L965.1,750.2 L965.2,748.0 L965.3,746.2 L965.4,744.0 L965.5,742.4 L965.6,740.7 L965.8,738.9 L965.9,737.1 L966.0,735.4 L966.1,733.5 L966.2,732.0 L966.3,730.5 L966.4,729.1 L966.5,727.9 L966.6,726.5 L966.7,725.5 L967.0,722.7 L967.2,719.8 L967.5,716.4 L967.7,713.7 L967.9,710.8 L968.2,707.9 L968.4,705.4 L968.6,702.9 L968.9,700.3 L969.1,698.3 L969.4,696.2 L969.6,694.7 L969.9,693.4 L970.2,692.7 L970.4,692.2 L970.7,692.0 L971.0,692.1 L971.4,693.0 L971.7,694.3 L971.8,694.8 L971.9,695.2 L972.1,696.0 L972.2,697.1 L972.3,697.7 L972.5,698.3 L972.6,699.3 L972.7,700.2 L972.9,701.2 L973.0,702.4 L973.2,703.5 L973.3,704.6 L973.4,706.0 L973.6,707.5 L973.7,708.6 L973.9,709.9 L974.1,711.3 L974.2,712.7 L974.4,714.2 L974.5,715.7 L974.7,717.4 L974.8,719.2 L975.0,720.5 L975.1,722.5 L975.3,724.0 L975.5,725.8 L975.6,727.4 L975.8,729.2 L975.9,731.2 L976.1,732.9 L976.3,734.6 L976.4,736.5 L976.6,738.5 L976.8,740.5 L976.9,742.3 L977.1,744.2 L977.2,746.2 L977.4,748.5 L977.5,750.4 L977.7,752.5 L977.9,754.5 L978.0,756.2 L978.2,758.4 L978.3,760.5 L978.5,762.5 L978.6,764.5 L978.8,766.6 L978.9,768.7 L979.0,770.5 L979.2,772.5 L979.3,774.6 L979.5,776.6 L979.6,778.7 L979.7,780.6 L979.9,782.7 L980.0,785.0 L980.1,786.1 L980.2,787.8 L980.3,789.0 L980.3,790.7 L980.4,792.0 L980.5,793.6 L980.6,794.9 L980.7,796.4 L980.8,798.2 L980.8,799.7 L980.9,801.1 L981.0,802.9 L981.1,804.5 L981.2,806.1 L981.2,807.4 L981.3,809.5 L981.4,810.8 L981.5,812.4 L981.5,814.3 L981.6,815.9 L981.7,817.7 L981.8,819.5 L981.8,821.3 L981.9,823.1 L982.0,825.0 L982.1,826.7 L982.1,828.5 L982.2,830.1 L982.3,831.8 L982.4,833.8 L982.4,835.8 L982.5,837.2 L982.6,839.2 L982.7,840.9 L982.7,843.0 L982.8,844.4 L982.9,846.4 L982.9,848.2 L983.0,850.0 L983.1,852.0 L983.2,853.4 L983.2,855.4 L983.3,857.5 L983.4,859.1 L983.4,860.7 L983.5,862.7 L983.6,864.5 L983.6,866.5 L983.7,868.2 L983.8,870.0 L983.8,871.4 L983.9,873.2 L984.0,875.1 L984.0,876.6 L984.1,878.4 L984.2,879.9 L984.2,881.7 L984.3,883.3 L984.4,885.1 L984.5,886.9 L984.5,888.2 L984.6,889.9 L984.7,891.4 L984.7,893.1 L984.8,894.8 L984.9,896.3 L984.9,897.8 L985.0,899.3 L985.1,900.8 L985.1,902.3 L985.2,903.8 L985.3,904.8 L985.3,906.6 L985.4,907.7 L985.5,909.3 L985.5,910.5 L985.6,911.6 L985.7,912.7 L985.7,913.9 L985.8,915.4 L985.9,916.2 L985.9,917.4 L986.0,918.8 L986.2,921.8 L986.4,924.9 L986.6,927.5 L986.8,930.8 L987.0,933.5 L987.1,935.8 L987.3,938.6 L987.5,941.0 L987.7,943.4 L987.9,945.9 L988.1,948.3 L988.3,949.9 L988.4,952.3 L988.6,954.2 L988.8,955.5 L989.0,957.5 L989.2,958.5 L989.3,960.0 L989.5,961.1 L989.7,962.2 L989.9,963.2 L990.1,964.1 L990.2,964.7 L990.4,965.4 L990.6,965.5 L990.8,965.3 L990.9,965.2 L991.1,965.1 L991.3,965.0 L991.4,964.6 L991.5,964.2 L991.6,963.6 L991.7,962.9 L991.8,962.1 L991.9,961.5 L992.0,960.6 L992.2,959.7 L992.3,958.7 L992.4,957.4 L992.5,956.1 L992.6,955.1 L992.7,953.9 L992.8,952.6 L992.9,951.1 L993.0,949.8 L993.1,948.2 L993.2,946.4 L993.3,945.1 L993.4,943.2 L993.5,941.5 L993.6,939.7 L993.7,937.9 L993.8,936.1 L993.9,934.4 L994.0,932.2 L994.1,930.4 L994.2,928.5 L994.3,926.7 L994.4,924.6 L994.5,922.5 L994.6,920.3 L994.7,918.4 L994.8,916.5 L994.9,913.9 L995.1,912.0 L995.2,909.8 L995.3,908.0 L995.4,905.8 L995.5,903.4 L995.6,901.7 L995.8,899.3 L995.9,897.1 L996.0,895.0 L996.1,892.9 L996.3,890.9 L996.4,888.8 L996.5,887.8 L996.6,886.1 L996.7,884.8 L996.8,883.5 L996.8,881.9 L996.9,880.3 L997.0,878.8 L997.1,877.2 L997.2,875.7 L997.3,874.1 L997.4,872.3 L997.5,870.8 L997.6,869.2 L997.7,867.5 L997.8,865.6 L997.9,863.7 L998.0,861.7 L998.1,860.1 L998.2,858.6 L998.3,856.8 L998.4,854.8 L998.5,852.7 L998.6,850.8 L998.7,849.0 L998.9,847.2 L999.0,845.6 L999.1,843.3 L999.2,841.7 L999.3,839.7 L999.4,837.7 L999.5,835.9 L999.6,833.8 L999.7,832.2 L999.8,830.4 L999.9,828.2 L1000.0,826.7 L1000.2,824.5 L1000.3,822.6 L1000.4,821.0 L1000.5,818.9 L1000.6,816.9 L1000.7,815.4 L1000.8,813.5 L1000.9,811.6 L1001.0,809.8 L1001.1,808.0 L1001.2,806.3 L1001.4,804.6 L1001.5,803.2 L1001.6,801.6 L1001.7,799.8 L1001.8,798.0 L1001.9,796.6 L1002.0,795.2 L1002.1,793.4 L1002.2,792.1 L1002.3,790.2 L1002.4,789.2 L1002.5,787.8 L1002.6,786.3 L1002.7,785.1 L1002.8,783.7 L1002.9,782.5 L1003.0,781.1 L1003.1,779.9 L1003.2,778.7 L1003.3,777.8 L1003.4,776.8 L1003.5,775.5 L1003.6,774.8 L1003.7,773.6 L1003.8,773.1 L1005.4,764.6 L1006.9,765.1 L1008.3,768.7 L1009.8,770.1 L1010.7,769.0 L1011.6,767.5 L1012.5,765.9 L1013.5,764.2 L1014.4,762.6 L1015.4,760.8 L1016.4,759.8 L1017.9,757.1 L1019.5,754.2 L1021.1,751.9 L1022.6,751.5 L1023.8,753.9 L1024.0,754.3 L1024.2,755.5 L1024.3,756.3 L1024.5,757.4 L1024.6,758.3 L1024.7,760.0 L1024.9,761.0 L1025.0,762.3 L1025.1,763.9 L1025.2,765.2 L1025.3,767.1 L1025.4,768.8 L1025.5,770.2 L1025.6,772.0 L1025.7,773.8 L1025.8,775.6 L1025.8,777.7 L1025.9,779.7 L1026.0,781.5 L1026.1,783.6 L1026.2,785.7 L1026.2,787.7 L1026.3,789.5 L1026.4,791.8 L1026.5,793.5 L1026.6,795.9 L1026.7,797.5 L1026.8,799.7 L1026.9,801.0 L1026.9,802.8 L1027.0,804.1 L1027.1,806.1 L1027.1,807.6 L1027.2,809.7 L1027.3,811.5 L1027.4,813.4 L1027.4,815.3 L1027.5,817.6 L1027.6,819.4 L1027.6,821.6 L1027.7,824.1 L1027.8,826.2 L1027.8,828.3 L1027.9,830.4 L1028.0,832.7 L1028.0,834.9 L1028.1,837.1 L1028.2,839.2 L1028.2,841.1 L1028.3,843.4 L1028.4,845.2 L1028.5,847.3 L1028.5,849.0 L1028.6,851.0 L1028.7,853.0 L1028.7,854.5 L1028.8,856.2 L1028.9,858.2 L1028.9,859.7 L1029.0,861.1 L1029.1,862.3 L1029.1,863.3 L1029.2,864.5 L1029.3,865.4 L1029.4,866.0 L1029.4,866.8 L1029.5,867.5 L1029.6,867.8 L1029.6,868.2 L1029.7,868.4 L1029.8,867.9 L1029.8,867.7 L1029.9,867.7 L1030.0,866.7 L1030.0,866.1 L1030.1,865.4 L1030.2,864.3 L1030.2,863.2 L1030.3,861.9 L1030.4,860.9 L1030.4,859.2 L1030.5,857.9 L1030.6,856.1 L1030.6,854.4 L1030.7,852.4 L1030.8,851.0 L1030.8,848.6 L1030.9,847.1 L1031.0,844.6 L1031.0,842.7 L1031.1,840.7 L1031.2,838.6 L1031.2,836.3 L1031.3,834.5 L1031.4,831.9 L1031.4,829.7 L1031.5,827.8 L1031.6,825.5 L1031.7,823.4 L1031.7,821.4 L1031.8,819.2 L1031.9,816.9 L1032.0,815.2 L1032.0,813.2 L1032.1,810.8 L1032.2,809.2 L1032.3,807.6 L1032.4,805.7 L1032.4,804.0 L1032.5,802.6 L1032.6,801.3 L1032.7,799.6 L1032.9,797.7 L1033.0,795.5 L1033.2,793.6 L1033.3,791.4 L1033.5,789.2 L1033.7,787.4 L1033.9,785.6 L1034.0,783.4 L1034.2,781.9 L1034.4,780.1 L1034.6,778.4 L1034.8,776.8 L1035.0,775.2 L1035.1,773.4 L1035.3,771.9 L1035.5,770.4 L1035.7,769.2 L1035.9,767.8 L1036.1,766.8 L1036.4,765.3 L1036.6,764.1 L1036.8,763.2 L1037.0,762.3 L1037.2,761.1 L1038.1,757.7 L1039.1,756.1 L1040.1,754.7 L1041.1,754.2 L1042.1,753.4 L1043.1,752.4 L1044.2,750.5 L1045.3,748.4 L1046.4,746.5 L1047.6,745.1 L1049.0,744.9 L1050.0,745.1 L1051.1,745.1 L1052.3,745.8 L1053.6,746.9 L1054.8,748.1 L1056.0,749.8 L1057.1,752.1 L1058.0,755.0 L1058.2,756.2 L1058.5,757.1 L1058.7,758.3 L1058.9,759.6 L1059.1,760.9 L1059.2,762.3 L1059.4,763.7 L1059.6,765.2 L1059.8,766.5 L1059.9,768.2 L1060.1,769.3 L1060.2,771.1 L1060.3,773.0 L1060.5,774.6 L1060.6,776.3 L1060.8,778.1 L1060.9,779.4 L1061.0,781.4 L1061.2,783.4 L1061.3,784.9 L1061.4,786.8 L1061.6,788.5 L1061.7,790.3 L1061.9,792.6 L1062.0,794.3 L1062.2,796.2 L1062.3,798.1 L1062.5,799.8 L1062.6,801.4 L1062.8,803.0 L1062.9,804.4 L1063.0,806.2 L1063.2,807.9 L1063.3,809.9 L1063.5,812.0 L1063.6,813.6 L1063.7,816.1 L1063.9,817.8 L1064.0,820.1 L1064.2,822.1 L1064.3,824.1 L1064.5,826.5 L1064.6,828.5 L1064.7,830.7 L1064.9,833.0 L1065.0,834.9 L1065.2,836.9 L1065.3,838.9 L1065.5,840.8 L1065.6,843.1 L1065.8,844.7 L1065.9,846.4 L1066.1,848.3 L1066.2,849.8 L1066.4,851.2 L1066.5,852.9 L1066.7,853.9 L1066.8,855.1 L1066.9,856.4 L1067.1,857.0 L1067.2,857.8 L1067.4,858.6 L1067.5,858.9 L1067.7,859.0 L1067.8,859.0 L1067.9,858.9 L1068.1,858.6 L1068.2,858.5 L1068.4,857.6 L1068.5,856.9 L1068.6,855.8 L1068.8,854.6 L1068.9,853.9 L1069.0,852.3 L1069.1,850.9 L1069.3,849.3 L1069.4,847.3 L1069.5,845.9 L1069.7,844.1 L1069.8,841.8 L1069.9,840.2 L1070.1,838.2 L1070.2,835.7 L1070.3,833.9 L1070.5,831.4 L1070.6,829.5 L1070.7,827.5 L1070.9,824.9 L1071.0,822.9 L1071.1,820.5 L1071.3,818.7 L1071.4,816.3 L1071.5,814.5 L1071.7,812.4 L1071.8,810.5 L1072.0,808.9 L1072.1,806.9 L1072.3,805.2 L1072.4,803.7 L1072.6,802.3 L1072.7,801.1 L1072.9,799.8 L1073.3,797.2 L1073.7,794.8 L1074.1,792.2 L1074.5,790.1 L1074.9,787.7 L1075.3,785.7 L1075.8,784.0 L1076.2,782.3 L1076.7,780.5 L1077.1,779.5 L1077.5,777.8 L1078.0,777.0 L1078.4,776.0 L1078.9,775.3 L1079.3,774.8 L1079.7,774.3 L1080.3,774.4 L1080.8,774.7 L1081.4,775.2 L1081.9,776.1 L1082.5,776.9 L1083.0,778.5 L1083.5,780.0 L1084.1,782.3 L1084.6,784.6 L1085.1,787.5 L1085.7,790.2 L1086.2,793.6 L1086.4,794.9 L1086.5,796.1 L1086.7,796.9 L1086.8,798.4 L1087.0,799.4 L1087.1,801.0 L1087.3,802.2 L1087.4,803.4 L1087.6,804.8 L1087.7,806.5 L1087.8,808.0 L1088.0,809.1 L1088.1,810.8 L1088.3,812.2 L1088.4,814.2 L1088.6,815.8 L1088.7,817.1 L1088.9,819.0 L1089.0,820.4 L1089.2,822.4 L1089.3,823.8 L1089.5,825.5 L1089.6,827.4 L1089.7,829.2 L1089.9,830.9 L1090.0,832.5 L1090.2,834.2 L1090.3,836.0 L1090.5,837.9 L1090.6,839.9 L1090.8,841.4 L1090.9,843.6 L1091.0,845.2 L1091.2,846.9 L1091.3,848.8 L1091.5,850.7 L1091.6,852.1 L1091.8,854.1 L1091.9,855.8 L1092.1,857.7 L1092.2,859.3 L1092.3,860.5 L1092.5,862.5 L1092.6,863.7 L1092.7,865.5 L1092.8,866.9 L1093.0,868.8 L1093.1,870.5 L1093.2,872.2 L1093.4,873.8 L1093.5,875.6 L1093.6,877.1 L1093.7,879.0 L1093.9,880.4 L1094.0,882.1 L1094.1,883.8 L1094.3,885.7 L1094.4,887.6 L1094.5,889.3 L1094.6,890.8 L1094.8,892.8 L1094.9,894.6 L1095.0,896.1 L1095.2,898.0 L1095.3,899.5 L1095.4,901.3 L1095.5,902.9 L1095.7,904.7 L1095.8,906.2 L1095.9,908.1 L1096.1,909.9 L1096.2,911.3 L1096.3,912.9 L1096.4,914.9 L1096.6,916.2 L1096.7,917.8 L1096.8,919.3 L1096.9,920.7 L1097.1,922.7 L1097.2,924.1 L1097.3,925.7 L1097.5,927.1 L1097.6,928.4 L1097.7,929.9 L1097.8,930.9 L1098.0,932.4 L1098.1,933.8 L1098.3,935.7 L1098.6,938.3 L1098.8,940.5 L1099.0,942.3 L1099.3,944.5 L1099.5,946.6 L1099.7,948.8 L1100.0,951.0 L1100.2,953.3 L1100.4,955.0 L1100.7,956.9 L1100.9,959.0 L1101.1,960.9 L1101.4,962.2 L1101.6,964.2 L1101.8,965.8 L1102.1,967.0 L1102.3,968.5 L1102.5,969.6 L1102.7,970.9 L1103.0,971.7 L1103.2,973.0 L1103.4,973.7 L1103.6,974.2 L1103.8,974.7 L1104.0,975.2 L1104.3,975.4 L1104.6,975.5 L1104.9,974.9 L1105.2,974.2 L1105.5,972.8 L1105.7,971.5 L1106.0,970.2 L1106.2,968.3 L1106.5,966.1 L1106.8,964.2 L1107.0,961.3 L1107.3,959.1 L1107.6,956.3 L1107.9,953.8 L1108.2,951.0 L1108.5,948.4 L1108.6,947.1 L1108.8,945.9 L1108.9,944.8 L1109.1,943.2 L1109.2,941.9 L1109.4,940.6 L1109.6,939.0 L1109.7,937.1 L1109.9,935.8 L1110.1,934.0 L1110.2,932.3 L1110.4,930.7 L1110.6,929.1 L1110.7,927.0 L1110.9,925.4 L1111.1,923.3 L1111.2,921.7 L1111.4,920.0 L1111.6,918.2 L1111.8,916.1 L1111.9,914.6 L1112.1,912.6 L1112.3,911.0 L1112.4,909.2 L1112.6,907.2 L1112.8,905.5 L1112.9,903.6 L1113.1,902.3 L1113.3,900.3 L1113.4,898.7 L1113.6,897.2 L1113.8,895.6 L1113.9,894.2 L1114.1,893.0 L1114.2,891.5 L1114.4,890.4 L1114.5,888.9 L1114.8,886.8 L1115.0,884.6 L1115.3,882.3 L1115.5,880.5 L1115.8,878.8 L1116.0,876.9 L1116.2,875.3 L1116.4,874.2 L1116.7,872.4 L1116.9,871.1 L1117.1,869.7 L1117.3,868.6 L1117.6,867.1 L1117.8,865.6 L1118.1,864.2 L1118.4,862.8 L1118.7,860.8 L1119.0,859.4 L1119.3,857.6 L1119.6,856.0 L1119.9,854.6 L1120.2,852.9 L1120.5,851.3 L1120.8,849.7 L1121.1,847.7 L1121.5,846.1 L1121.8,844.4 L1122.2,842.9 L1122.5,841.2 L1122.9,839.3 L1123.2,837.6 L1123.6,836.1 L1123.9,834.4 L1124.3,832.4 L1124.7,831.2 L1125.0,829.6 L1125.4,827.8 L1125.7,826.5 L1126.1,825.0 L1126.4,823.5 L1126.9,821.4 L1127.4,819.5 L1127.9,817.5 L1128.4,815.2 L1128.9,813.3 L1129.5,811.0 L1130.0,809.4 L1130.5,807.5 L1131.0,805.6 L1131.5,803.9 L1132.0,802.5 L1132.4,801.6 L1132.9,800.6 L1133.4,799.9 L1133.8,799.7 L1134.3,800.2 L1134.8,800.9 L1135.3,802.3 L1135.7,804.1 L1136.1,806.1 L1136.6,808.4 L1137.0,810.9 L1137.4,813.3 L1137.8,815.3 L1138.3,817.0 L1138.7,818.4 L1139.2,819.0 L1140.2,819.1 L1141.4,817.4 L1142.5,814.5 L1143.6,812.3 L1144.7,810.5 L1145.7,810.0 L1146.1,810.9 L1146.6,811.6 L1147.0,812.3 L1147.4,813.5 L1147.7,815.0 L1148.1,816.3 L1148.4,818.1 L1148.8,820.2 L1149.1,822.2 L1149.5,824.4 L1149.8,827.1 L1150.2,829.6 L1150.4,830.6 L1150.5,831.7 L1150.7,833.0 L1150.8,834.7 L1151.0,836.0 L1151.1,837.7 L1151.3,839.0 L1151.5,840.6 L1151.6,842.3 L1151.8,843.8 L1151.9,845.5 L1152.1,847.1 L1152.2,848.9 L1152.4,850.7 L1152.5,852.3 L1152.7,854.2 L1152.9,855.8 L1153.0,857.6 L1153.2,859.3 L1153.3,861.1 L1153.5,862.9 L1153.6,864.3 L1153.8,865.9 L1154.0,867.7 L1154.1,869.3 L1154.3,870.9 L1154.4,872.6 L1154.6,874.1 L1154.8,875.9 L1155.0,877.9 L1155.2,879.5 L1155.4,881.8 L1155.5,883.8 L1155.7,885.5 L1155.9,887.8 L1156.1,889.9 L1156.3,891.5 L1156.5,893.7 L1156.7,895.9 L1156.8,897.6 L1157.0,899.4 L1157.2,901.3 L1157.4,903.0 L1157.6,904.9 L1157.8,906.3 L1158.0,907.6 L1158.2,909.2 L1158.4,910.0 L1158.6,911.0 L1158.9,912.0 L1159.1,912.6 L1159.3,912.8 L1159.7,913.0 L1160.0,913.0 L1160.4,912.3 L1160.8,911.4 L1161.3,910.2 L1161.7,908.5 L1162.1,906.7 L1162.5,905.0 L1163.0,902.7 L1163.4,900.6 L1163.8,898.0 L1164.2,895.8 L1164.6,893.4 L1164.9,891.2 L1165.3,889.2 L1165.5,887.5 L1165.7,886.2 L1165.9,884.8 L1166.1,883.3 L1166.3,881.6 L1166.5,880.0 L1166.7,878.7 L1166.8,877.1 L1167.0,874.9 L1167.2,873.6 L1167.4,871.8 L1167.6,870.0 L1167.7,868.3 L1167.9,866.2 L1168.1,864.5 L1168.2,863.0 L1168.4,861.1 L1168.5,859.5 L1168.7,857.6 L1168.9,856.2 L1169.0,854.7 L1169.1,852.7 L1169.3,851.5 L1169.4,850.2 L1169.6,848.4 L1169.7,847.2 L1169.9,845.1 L1170.1,842.5 L1170.3,839.8 L1170.5,837.2 L1170.7,835.2 L1170.8,832.4 L1171.0,830.7 L1171.1,828.2 L1171.2,826.6 L1171.4,825.3 L1171.5,824.3 L1171.7,823.7 L1171.9,823.3 L1172.1,823.8 L1172.2,824.0 L1172.4,824.9 L1172.5,826.3 L1172.6,827.4 L1172.8,829.2 L1172.9,830.9 L1173.1,833.3 L1173.2,835.4 L1173.4,837.9 L1173.5,840.2 L1173.7,842.5 L1173.9,844.7 L1174.0,847.3 L1174.2,849.7 L1174.3,851.9 L1174.5,854.0 L1174.7,855.9 L1174.8,857.6 L1175.0,859.5 L1175.1,860.7 L1175.3,861.4 L1175.4,862.3 L1175.6,862.2 L1175.7,862.3 L1175.8,861.7 L1175.9,861.2 L1176.0,860.7 L1176.1,859.9 L1176.1,858.8 L1176.2,857.7 L1176.3,856.5 L1176.4,855.4 L1176.5,854.0 L1176.6,852.4 L1176.6,850.7 L1176.7,849.1 L1176.8,846.8 L1176.9,845.4 L1177.0,843.2 L1177.0,841.0 L1177.1,839.1 L1177.2,837.4 L1177.3,835.2 L1177.3,832.8 L1177.4,830.8 L1177.5,829.1 L1177.6,827.0 L1177.7,824.9 L1177.8,822.9 L1177.8,820.9 L1177.9,818.9 L1178.0,816.8 L1178.1,814.8 L1178.2,813.2 L1178.3,811.3 L1178.4,809.9 L1178.5,808.3 L1178.6,806.8 L1178.7,805.7 L1178.9,803.4 L1179.1,801.1 L1179.3,798.8 L1179.6,797.2 L1179.8,794.9 L1180.0,793.3 L1180.2,791.6 L1180.5,789.9 L1180.7,788.1 L1181.0,786.8 L1181.2,784.9 L1181.5,783.7 L1181.7,782.1 L1182.0,781.0 L1182.3,779.6 L1182.5,778.6 L1182.8,777.2 L1183.1,775.8 L1183.7,773.6 L1184.3,771.5 L1185.0,769.9 L1185.7,768.5 L1186.4,767.1 L1187.0,765.7 L1187.7,764.3 L1188.4,763.5 L1189.1,762.5 L1191.0,761.3 L1192.9,761.4 L1195.0,761.2 L1196.2,760.0 L1197.5,759.1 L1198.8,757.5 L1200.1,756.1 L1201.4,755.0 L1202.5,753.5 L1204.0,752.0 L1205.3,750.5 L1206.6,749.3 L1207.8,749.1 L1208.5,749.9 L1209.1,751.9 L1209.8,753.9 L1210.4,756.2 L1211.0,757.8 L1211.6,759.1 L1212.3,759.7 L1212.9,758.9 L1213.4,758.0 L1213.9,755.9 L1214.4,753.7 L1215.0,751.7 L1215.7,749.4 L1216.4,747.6 L1217.3,746.4 L1218.6,744.9 L1220.1,743.6 L1221.8,742.6 L1223.5,741.8 L1225.1,740.7 L1226.6,740.7 L1227.7,740.5 L1228.9,740.3 L1229.6,740.9 L1230.0,742.9 L1230.7,746.2 L1230.9,747.1 L1231.1,748.6 L1231.3,750.0 L1231.6,751.7 L1231.8,753.1 L1232.0,755.2 L1232.3,757.0 L1232.5,759.1 L1232.8,761.0 L1233.0,763.0 L1233.3,764.9 L1233.5,766.6 L1233.8,768.7 L1234.1,770.2 L1234.4,772.2 L1234.6,773.5 L1234.9,774.8 L1235.2,775.9 L1236.1,778.5 L1237.1,780.0 L1238.1,780.7 L1239.2,781.6 L1240.2,782.6 L1241.1,784.9 L1241.4,785.8 L1241.8,787.1 L1242.1,788.3 L1242.4,789.9 L1242.7,791.1 L1243.0,792.8 L1243.3,794.5 L1243.5,795.8 L1243.8,797.6 L1244.1,799.3 L1244.4,801.2 L1244.7,802.9 L1245.0,804.8 L1245.3,807.0 L1245.6,808.5 L1245.8,810.4 L1246.1,812.0 L1246.3,813.7 L1246.5,815.7 L1246.8,817.7 L1247.0,819.7 L1247.3,821.7 L1247.5,823.8 L1247.8,826.3 L1248.0,828.5 L1248.3,830.6 L1248.5,832.7 L1248.8,834.3 L1249.0,836.2 L1249.2,837.7 L1249.5,839.4 L1249.7,840.3 L1249.9,841.6 L1250.2,842.5 L1250.4,842.6 L1250.6,843.1 L1250.8,842.7 L1251.0,842.5 L1251.2,841.3 L1251.4,840.6 L1251.6,839.0 L1251.7,837.7 L1251.9,836.1 L1252.1,834.0 L1252.2,832.1 L1252.4,830.1 L1252.6,828.0 L1252.7,825.8 L1252.9,823.5 L1253.1,821.3 L1253.3,819.1 L1253.5,816.9 L1253.6,814.8 L1253.8,813.4 L1254.1,811.3 L1254.3,809.9 L1254.5,808.5 L1255.0,806.1 L1255.6,803.8 L1256.2,801.7 L1256.8,799.4 L1257.4,798.0 L1258.0,796.3 L1258.7,794.9 L1259.3,794.0 L1259.9,793.9 L1260.4,794.0 L1260.8,794.1 L1261.2,794.5 L1261.6,795.5 L1261.9,796.7 L1262.3,797.9 L1262.6,799.6 L1263.0,800.9 L1263.3,803.3 L1263.6,804.8 L1264.0,807.3 L1264.3,809.6 L1264.6,812.2 L1264.9,814.6 L1265.0,815.8 L1265.2,817.2 L1265.3,819.0 L1265.4,820.5 L1265.6,822.1 L1265.7,823.9 L1265.8,825.8 L1265.9,827.6 L1266.0,830.1 L1266.1,832.1 L1266.3,834.2 L1266.4,836.1 L1266.5,838.0 L1266.6,840.1 L1266.7,842.3 L1266.8,844.4 L1266.9,846.4 L1267.1,848.6 L1267.2,850.4 L1267.3,852.0 L1267.4,853.6 L1267.5,855.2 L1267.7,856.7 L1267.8,858.0 L1267.9,859.0 L1268.1,860.4 L1268.2,861.2 L1268.3,862.0 L1268.5,862.1 L1268.8,862.5 L1269.0,862.6 L1269.3,861.9 L1269.6,861.3 L1269.9,860.0 L1270.2,858.3 L1270.5,856.8 L1270.9,854.7 L1271.2,852.9 L1271.5,850.3 L1271.8,848.0 L1272.2,845.8 L1272.5,843.3 L1272.8,841.1 L1273.1,839.4 L1273.5,837.2 L1273.8,835.5 L1274.1,834.0 L1274.4,832.2 L1274.7,830.3 L1275.0,828.7 L1275.3,826.5 L1275.6,824.9 L1275.9,822.5 L1276.2,820.8 L1276.5,819.0 L1276.9,816.9 L1277.2,815.0 L1277.5,813.3 L1277.8,811.6 L1278.1,809.9 L1278.4,808.6 L1278.7,807.2 L1279.0,806.2 L1279.3,805.3 L1279.6,804.6 L1280.7,803.9 L1281.7,804.8 L1282.7,807.5 L1283.8,810.3 L1284.8,811.4 L1286.0,811.9 L1287.2,810.9 L1288.5,809.0 L1290.0,807.7 L1291.0,806.4 L1292.1,805.1 L1293.3,803.9 L1294.6,802.3 L1295.8,800.6 L1297.1,799.5 L1298.3,799.4 L1300.0,799.5 L1301.8,799.8 L1303.5,800.6 L1305.2,801.6 L1306.7,802.5 L1308.1,803.8 L1309.4,804.7 L1310.6,805.8 L1311.8,806.7 L1312.9,807.6 L1314.8,807.9 L1316.6,807.7 L1318.1,807.3 L1319.7,808.8 L1321.2,811.2 L1322.1,812.2 L1323.0,814.4 L1324.0,816.1 L1325.4,817.5 L1326.8,817.3 L1328.5,816.6 L1330.4,816.6 L1332.1,816.6 L1333.8,816.5 L1335.5,816.4 L1337.1,816.5 L1338.6,817.4 L1340.0,817.7 L1341.1,819.7 L1342.1,821.4 L1343.1,822.7 L1344.2,824.6 L1345.6,825.7 L1347.2,826.3 L1348.9,827.0 L1350.4,827.7 L1351.8,828.4 L1353.1,829.4 L1354.4,830.6 L1355.6,832.5 L1356.1,833.7 L1356.5,834.5 L1357.0,836.0 L1357.4,837.5 L1357.8,838.5 L1358.2,840.7 L1358.7,842.4 L1359.0,844.3 L1359.4,846.1 L1359.8,848.7 L1360.0,849.2 L1360.2,850.6 L1360.3,852.1 L1360.5,853.9 L1360.7,855.2 L1360.9,857.2 L1361.0,859.5 L1361.2,861.0 L1361.4,862.4 L1361.5,864.7 L1361.7,866.6 L1361.9,868.5 L1362.0,869.8 L1362.2,871.7 L1362.3,873.6 L1362.4,875.5 L1362.6,877.4 L1362.7,878.7 L1362.8,880.4 L1362.9,881.6 L1363.1,883.6 L1363.2,885.3 L1363.3,888.1 L1363.4,890.0 L1363.5,891.7 L1363.6,893.4 L1363.7,895.3 L1363.7,896.3 L1363.8,897.6 L1363.9,899.4 L1363.9,900.4 L1364.0,901.3 L1364.0,902.3"/>
<path stroke="#00c6c9" d="M72.0,761.8 L72.8,761.8 L73.7,761.8 L74.7,761.2 L75.8,761.6 L76.9,761.4 L78.0,761.5 L79.2,761.2 L80.5,761.3 L81.9,761.4 L83.2,761.3 L84.7,761.4 L86.1,761.1 L87.7,761.2 L89.2,761.6 L90.8,761.4 L92.5,761.4 L94.2,761.6 L95.9,761.3 L97.6,761.1 L99.4,761.6 L101.2,761.5 L103.1,761.5 L104.9,761.5 L106.8,761.7 L108.7,761.3 L110.7,761.5 L112.6,761.3 L114.6,761.4 L116.5,761.5 L118.5,761.2 L120.5,761.0 L122.5,761.3 L124.5,761.5 L126.5,761.4 L128.5,761.3 L130.5,761.4 L132.5,761.1 L134.5,761.1 L136.5,761.2 L138.4,761.5 L140.4,761.1 L142.3,761.0 L144.2,761.0 L146.1,760.9 L148.0,761.1 L149.9,761.3 L151.7,761.5 L153.5,761.1 L155.3,761.2 L157.1,761.1 L158.8,761.1 L160.5,761.4 L162.1,761.3 L163.7,761.1 L165.3,761.0 L166.8,761.4 L168.3,761.4 L169.7,761.5 L171.1,761.1 L172.4,761.3 L173.6,761.6 L174.9,761.3 L176.0,761.6 L177.1,761.0 L178.1,761.6 L179.1,761.0 L180.0,761.2 L188.1,761.1 L190.6,761.9 L189.9,762.2 L188.2,762.7 L188.0,762.8 L190.5,763.6 L192.5,764.0 L194.5,765.0 L197.0,765.4 L197.6,765.4 L197.7,766.0 L198.2,765.8 L200.3,766.0 L205.0,766.3 L206.0,766.7 L207.1,766.6 L208.3,767.2 L209.6,767.3 L211.0,766.8 L212.5,766.9 L214.0,767.3 L215.6,767.1 L217.3,767.5 L219.1,767.8 L220.9,767.6 L222.7,767.8 L224.6,768.3 L226.5,768.1 L228.4,768.1 L230.3,768.6 L232.3,768.7 L234.2,768.9 L236.2,768.9 L238.1,768.8 L240.0,769.1 L241.9,769.4 L243.8,769.4 L245.6,769.2 L247.4,769.4 L249.1,769.6 L250.7,769.9 L252.3,769.9 L253.8,770.0 L255.2,770.3 L256.6,769.9 L257.8,770.3 L259.0,770.2 L260.0,770.4 L263.9,770.8 L266.4,770.6 L267.9,771.0 L268.8,770.6 L269.3,771.0 L270.1,771.3 L271.3,771.7 L272.7,772.5 L274.1,773.4 L275.5,774.4 L276.9,775.6 L278.4,776.4 L279.8,777.8 L281.2,779.3 L282.6,780.1 L283.9,781.6 L285.1,782.4 L286.4,783.8 L287.7,784.8 L288.9,786.2 L290.2,787.3 L291.5,788.2 L292.7,789.5 L294.0,790.2 L295.5,791.1 L297.0,791.5 L298.4,791.9 L299.9,792.1 L301.5,792.2 L303.2,792.8 L305.3,792.8 L306.7,793.5 L308.2,793.9 L309.9,794.1 L311.6,794.7 L313.4,795.2 L315.2,795.6 L317.0,795.9 L318.8,796.3 L320.5,796.6 L322.2,796.9 L323.7,797.4 L325.1,797.1 L327.1,797.0 L328.8,796.7 L330.2,796.4 L331.6,795.6 L333.0,794.9 L334.6,793.9 L336.4,792.9 L337.6,792.2 L339.0,791.5 L340.4,790.7 L341.9,790.1 L343.4,789.0 L344.9,787.9 L346.4,787.1 L347.9,786.0 L349.4,785.3 L350.8,784.5 L352.2,783.9 L353.4,783.0 L355.4,782.3 L357.2,781.2 L358.9,780.9 L360.5,780.1 L362.0,779.3 L363.4,779.3 L364.7,778.7 L366.7,778.6 L368.2,778.7 L369.7,779.3 L371.7,778.6 L373.1,778.3 L374.6,777.3 L376.2,776.4 L377.8,775.1 L379.5,774.0 L381.3,773.7 L383.0,773.3 L384.5,773.1 L386.1,774.0 L387.8,774.6 L389.4,775.0 L391.0,775.7 L392.7,776.7 L394.3,777.0 L395.8,777.5 L397.4,777.3 L398.8,776.9 L400.2,776.2 L401.5,775.6 L403.1,775.0 L404.9,774.6 L407.1,774.6 L408.4,774.7 L409.9,775.0 L411.5,775.4 L413.2,776.4 L415.0,776.7 L416.9,777.4 L418.7,778.0 L420.6,778.9 L422.4,779.5 L424.1,780.3 L425.7,780.6 L427.2,781.0 L428.6,781.5 L429.7,781.8 L432.5,781.9 L434.0,780.8 L434.9,780.0 L436.0,779.3 L438.4,778.9 L440.7,778.1 L442.5,777.6 L444.5,777.0 L446.2,776.9 L447.6,777.1 L448.9,778.6 L450.1,780.7 L450.8,782.1 L451.4,783.6 L452.1,785.2 L452.7,787.2 L453.4,788.9 L454.0,790.7 L454.7,792.4 L455.3,794.3 L455.9,795.9 L456.6,797.4 L457.2,798.8 L457.9,800.1 L459.2,801.9 L460.5,802.9 L461.8,804.7 L462.3,806.2 L462.8,807.5 L463.3,809.2 L463.8,810.6 L464.2,812.4 L464.7,814.0 L465.2,815.8 L465.7,817.6 L466.2,819.4 L466.7,821.4 L467.2,823.4 L467.7,825.4 L468.1,827.7 L468.6,829.1 L469.1,830.1 L469.6,830.4 L470.1,830.0 L470.6,829.2 L471.0,828.0 L471.5,826.0 L472.0,823.9 L472.5,821.7 L473.0,819.3 L473.5,817.2 L473.9,816.0 L474.3,814.2 L474.7,812.8 L475.2,811.1 L475.6,809.4 L476.0,807.5 L476.5,805.8 L476.9,804.4 L477.3,802.7 L477.8,801.6 L478.2,800.1 L479.0,798.2 L479.8,796.4 L480.6,794.6 L481.4,793.1 L482.2,791.7 L482.9,790.7 L484.9,788.9 L486.8,788.4 L487.6,789.2 L488.4,790.5 L489.2,792.1 L490.0,793.9 L490.7,795.4 L491.3,797.2 L491.8,798.4 L492.3,800.4 L492.8,802.0 L493.3,803.7 L493.8,804.7 L494.6,807.7 L495.4,810.1 L496.2,810.4 L496.6,809.3 L497.0,808.4 L497.5,806.8 L497.9,804.4 L498.4,802.7 L498.9,800.3 L499.3,798.4 L499.7,797.2 L500.1,795.5 L500.4,794.0 L500.8,792.2 L501.2,790.5 L501.6,788.8 L502.0,787.5 L502.4,786.3 L503.1,784.2 L503.8,782.6 L504.5,780.7 L505.4,779.6 L506.3,778.4 L507.5,776.9 L508.9,776.5 L510.5,775.6 L512.6,775.1 L513.9,774.7 L515.4,774.7 L517.1,774.2 L518.8,774.3 L520.6,773.5 L522.4,773.9 L524.2,773.8 L526.0,773.6 L527.7,773.8 L529.3,774.2 L530.9,774.4 L532.6,774.4 L534.3,775.2 L536.1,775.2 L538.0,775.5 L540.0,775.5 L541.4,775.7 L542.9,775.2 L544.4,775.3 L546.0,774.5 L547.6,774.4 L549.2,774.3 L550.9,774.0 L552.6,773.8 L554.4,773.0 L556.2,773.1 L558.1,772.8 L560.0,772.1 L561.4,771.8 L562.7,772.0 L564.0,772.0 L565.2,771.5 L566.4,771.2 L567.6,771.0 L568.9,771.0 L570.2,770.6 L571.6,770.4 L573.2,770.3 L574.9,770.3 L576.8,770.0 L579.0,769.9 L581.3,769.3 L584.0,769.4 L586.9,769.4 L588.1,769.3 L589.3,769.4 L590.6,769.3 L592.0,768.7 L593.4,769.0 L594.9,768.8 L596.4,768.6 L598.0,768.8 L599.7,769.1 L601.4,768.9 L603.1,768.3 L604.9,768.4 L606.7,768.4 L608.5,768.7 L610.4,768.4 L612.2,768.1 L614.1,768.4 L616.0,768.1 L618.0,767.9 L619.9,768.3 L621.8,768.5 L623.8,768.3 L625.7,768.2 L627.6,767.8 L629.5,768.1 L631.4,768.1 L633.3,768.1 L635.1,767.9 L637.0,767.6 L638.8,768.2 L640.5,767.7 L642.3,768.1 L643.9,767.9 L645.6,768.1 L647.2,767.8 L648.7,767.7 L650.2,767.9 L651.7,768.0 L653.0,768.2 L654.3,768.0 L655.6,768.2 L656.7,768.1 L657.8,768.4 L658.8,768.1 L662.8,768.9 L665.6,769.6 L667.5,769.9 L668.6,771.2 L669.2,772.1 L669.6,773.0 L669.9,773.6 L670.4,774.8 L671.3,775.6 L673.0,776.7 L674.6,778.0 L676.0,779.2 L677.5,780.1 L679.0,781.1 L680.6,781.4 L682.2,781.8 L683.9,782.1 L685.7,782.0 L687.4,782.1 L689.1,781.9 L690.7,782.0 L692.0,782.4 L693.5,783.3 L694.6,784.1 L695.6,785.5 L696.5,786.8 L697.4,788.3 L698.2,789.6 L699.0,790.9 L699.8,792.4 L700.6,794.2 L701.4,795.8 L702.1,797.5 L702.7,799.3 L703.3,800.9 L703.9,802.9 L704.4,804.6 L705.0,806.3 L705.5,808.2 L706.1,809.6 L706.7,811.3 L707.2,813.6 L707.8,815.4 L708.3,817.8 L708.9,819.1 L709.5,820.6 L710.1,821.0 L711.0,820.8 L712.0,819.9 L712.9,818.3 L713.9,816.1 L714.8,814.6 L715.5,813.2 L716.2,811.4 L716.8,809.9 L717.5,808.2 L718.1,806.0 L718.8,804.4 L719.4,802.8 L719.9,801.1 L720.5,799.1 L721.1,797.4 L721.6,795.6 L722.2,794.1 L722.8,792.1 L723.4,790.5 L724.1,788.7 L724.7,787.2 L725.3,785.3 L726.1,783.9 L726.9,782.7 L728.4,781.3 L730.0,780.5 L731.8,779.9 L733.5,778.8 L735.2,777.7 L736.8,777.0 L738.5,776.0 L740.2,775.6 L741.4,775.6 L742.6,775.6 L743.8,775.9 L745.0,776.3 L746.1,777.1 L746.9,777.3 L747.9,778.8 L748.3,780.0 L748.9,780.0 L749.4,779.8 L750.0,779.1 L750.6,777.8 L751.4,776.8 L752.3,776.7 L752.9,777.1 L753.5,777.3 L754.2,778.4 L754.9,778.5 L755.7,780.3 L756.5,781.7 L757.2,782.9 L758.0,783.8 L758.8,783.2 L759.6,782.7 L760.4,784.0 L761.2,783.0 L762.0,781.3 L762.8,780.2 L763.8,781.4 L764.9,779.9 L766.1,778.1 L766.9,779.8 L767.7,778.3 L768.5,778.2 L769.5,777.8 L770.4,775.7 L771.4,776.0 L772.5,774.2 L773.5,775.2 L774.5,774.0 L775.5,774.8 L776.5,771.9 L777.5,771.8 L778.5,772.1 L779.4,770.4 L780.2,771.7 L781.4,773.5 L782.5,773.1 L783.5,770.8 L784.5,773.3 L785.5,771.4 L786.5,771.8 L787.4,773.5 L788.4,772.3 L789.3,772.2 L790.3,771.8 L791.3,772.6 L792.3,773.0 L793.4,777.1 L794.4,773.0 L795.4,776.0 L796.4,774.6 L797.5,777.6 L798.4,774.1 L799.4,776.2 L800.3,778.2 L801.4,774.5 L802.4,776.5 L803.4,775.8 L804.4,776.4 L805.3,776.8 L806.3,773.6 L807.3,777.3 L808.3,773.8 L809.2,776.0 L810.1,772.1 L811.1,771.3 L812.2,771.2 L813.2,770.0 L814.1,770.2 L815.1,769.1 L816.0,768.4 L816.7,772.2 L817.4,770.4 L818.1,770.7 L818.5,771.6 L818.7,774.4 L818.9,771.6 L819.2,772.9 L819.7,777.1 L820.4,774.2 L821.1,777.0 L821.8,777.6 L822.7,778.7 L823.5,774.1 L824.5,775.9 L825.6,775.2 L826.7,776.2 L827.9,773.1 L829.1,776.5 L830.5,777.4 L831.3,775.1 L832.1,775.4 L833.0,775.9 L833.8,775.8 L834.8,775.6 L835.7,774.3 L836.6,772.8 L837.6,775.2 L838.6,775.3 L839.6,774.7 L840.7,773.2 L841.7,775.5 L842.8,774.1 L843.9,772.8 L845.0,774.1 L846.2,772.6 L847.3,772.5 L848.5,774.0 L849.4,771.8 L850.3,773.7 L851.3,772.4 L852.3,772.7 L853.3,772.8 L854.3,773.2 L855.4,771.4 L856.4,770.9 L857.5,771.8 L858.6,771.0 L859.6,771.3 L860.7,770.7 L861.8,770.5 L862.9,771.1 L864.0,770.2 L865.0,770.4 L866.1,770.4 L867.1,769.8 L868.1,770.9 L869.1,770.9 L870.0,769.4 L871.0,770.6 L871.8,769.5 L872.7,770.4 L873.9,769.2 L875.2,770.1 L876.4,770.1 L877.5,769.8 L878.7,769.8 L879.8,770.0 L880.8,770.3 L881.9,770.3 L882.9,770.1 L883.8,770.6 L884.8,770.6 L885.6,770.8 L886.5,770.9 L887.3,770.6 L888.0,771.0 L888.7,770.8 L891.3,771.3 L892.7,772.1 L894.0,772.7 L895.5,772.3 L896.9,772.2 L898.3,776.0 L898.5,777.1 L898.7,777.9 L898.8,778.9 L899.0,780.1 L899.2,781.0 L899.4,782.5 L899.5,783.7 L899.7,785.1 L899.9,786.3 L900.0,787.8 L900.2,789.1 L900.4,790.8 L900.6,792.6 L900.7,794.4 L900.9,796.1 L901.1,797.7 L901.3,799.8 L901.5,801.8 L901.7,803.8 L901.9,805.8 L902.1,807.7 L902.3,810.2 L902.5,812.0 L902.7,814.6 L902.8,815.8 L902.9,817.3 L903.0,818.6 L903.2,819.7 L903.3,821.1 L903.4,822.5 L903.5,824.4 L903.6,825.9 L903.8,827.3 L903.9,828.8 L904.0,830.6 L904.2,832.1 L904.3,833.9 L904.4,835.5 L904.5,837.2 L904.7,839.1 L904.8,840.6 L904.9,842.4 L905.1,844.3 L905.2,846.3 L905.3,847.7 L905.5,849.5 L905.6,851.3 L905.7,853.1 L905.9,855.0 L906.0,857.0 L906.1,858.4 L906.3,860.5 L906.4,862.1 L906.6,863.9 L906.7,865.7 L906.8,867.4 L907.0,869.0 L907.1,870.9 L907.2,872.4 L907.4,874.3 L907.5,875.8 L907.6,877.3 L907.8,879.2 L907.9,880.3 L908.0,881.8 L908.2,883.3 L908.3,885.0 L908.4,886.1 L908.6,887.8 L908.7,888.8 L908.9,891.0 L909.1,893.2 L909.3,895.0 L909.5,897.2 L909.8,899.4 L910.0,901.2 L910.2,903.0 L910.4,905.1 L910.6,906.7 L910.8,908.6 L911.0,910.1 L911.2,911.9 L911.4,913.7 L911.7,915.3 L911.9,916.9 L912.1,918.2 L912.3,919.8 L912.5,921.2 L912.7,922.6 L912.9,923.9 L913.1,925.6 L913.3,926.6 L913.5,927.9 L913.8,929.0 L914.0,930.5 L914.2,931.6 L914.4,932.4 L914.6,933.8 L915.3,937.2 L916.1,940.0 L916.8,942.6 L917.5,944.5 L918.2,945.5 L919.0,946.3 L919.8,946.2 L920.6,945.3 L920.9,945.0 L921.3,944.2 L921.6,943.3 L921.9,942.5 L922.3,941.1 L922.6,939.9 L923.0,938.5 L923.3,937.1 L923.7,935.8 L924.0,934.0 L924.4,932.3 L924.8,930.6 L925.1,928.5 L925.5,926.4 L925.9,924.6 L926.3,921.9 L926.7,919.9 L927.1,917.8 L927.6,915.3 L928.0,912.7 L928.2,911.7 L928.4,910.4 L928.7,909.1 L928.9,907.4 L929.1,906.2 L929.4,904.7 L929.6,903.3 L929.8,901.5 L930.1,900.1 L930.3,898.4 L930.6,896.5 L930.8,894.9 L931.1,893.0 L931.3,891.5 L931.6,889.6 L931.8,888.1 L932.1,886.0 L932.4,884.4 L932.6,882.7 L932.9,880.6 L933.1,878.9 L933.4,876.9 L933.7,875.2 L933.9,873.4 L934.2,871.8 L934.5,869.9 L934.7,868.0 L935.0,866.5 L935.3,864.7 L935.5,863.1 L935.8,861.4 L936.1,860.0 L936.3,858.3 L936.6,856.8 L936.9,855.2 L937.1,853.7 L937.4,852.3 L937.6,851.1 L937.9,849.7 L938.1,848.3 L938.4,847.2 L939.0,844.5 L939.6,841.9 L940.2,839.6 L940.8,837.2 L941.4,834.8 L942.0,832.5 L942.6,830.3 L943.3,828.4 L943.9,826.5 L944.5,824.8 L945.1,823.4 L945.7,822.2 L946.2,820.7 L946.8,819.8 L947.3,819.4 L947.8,819.2 L948.3,819.0 L948.8,819.0 L949.1,819.7 L949.4,820.1 L949.7,820.9 L950.0,821.8 L950.3,822.5 L950.5,823.9 L950.8,825.6 L951.0,826.9 L951.3,828.8 L951.5,830.1 L951.7,832.3 L951.9,834.1 L952.1,835.9 L952.3,838.1 L952.6,840.0 L952.8,842.0 L953.0,843.9 L953.2,846.3 L953.4,848.0 L953.6,850.1 L953.8,851.9 L954.1,853.8 L954.3,855.7 L954.5,857.3 L954.8,859.2 L955.1,860.9 L955.3,862.6 L955.6,864.8 L955.9,866.9 L956.2,869.1 L956.5,871.5 L956.8,873.7 L957.1,875.9 L957.4,878.7 L957.7,881.1 L958.0,883.0 L958.3,885.4 L958.6,887.5 L958.8,889.3 L959.1,891.3 L959.4,892.9 L959.7,894.4 L960.0,895.8 L960.3,896.6 L960.6,897.5 L960.8,898.4 L961.1,898.6 L961.3,898.3 L961.6,898.1 L961.7,897.4 L961.9,897.1 L962.0,896.1 L962.1,895.6 L962.3,894.4 L962.4,893.6 L962.5,892.1 L962.7,891.0 L962.8,889.6 L962.9,888.4 L963.0,886.9 L963.2,884.9 L963.3,883.4 L963.4,881.5 L963.5,879.6 L963.6,877.8 L963.7,875.9 L963.9,874.0 L964.0,872.1 L964.1,870.3 L964.2,868.1 L964.3,866.1 L964.4,863.8 L964.5,861.7 L964.7,859.7 L964.8,857.5 L964.9,855.3 L965.0,853.4 L965.1,851.7 L965.2,849.2 L965.4,847.5 L965.5,845.4 L965.6,843.8 L965.7,841.5 L965.8,840.0 L965.9,838.4 L966.1,836.6 L966.2,834.8 L966.3,833.7 L966.4,831.8 L966.6,830.9 L966.7,829.7 L967.0,827.0 L967.3,824.3 L967.6,821.3 L967.9,818.7 L968.2,815.9 L968.5,813.3 L968.8,810.6 L969.1,808.4 L969.4,805.9 L969.7,803.9 L970.0,801.8 L970.3,800.1 L970.6,799.2 L970.9,797.8 L971.2,797.1 L971.6,797.1 L971.9,797.0 L972.3,797.2 L972.6,798.3 L972.7,798.8 L972.9,799.5 L973.0,800.0 L973.2,800.7 L973.3,801.9 L973.5,802.6 L973.6,803.6 L973.8,804.7 L973.9,805.8 L974.1,806.7 L974.3,808.2 L974.4,809.4 L974.6,810.6 L974.7,812.0 L974.9,813.8 L975.1,815.3 L975.2,816.9 L975.4,818.2 L975.6,820.0 L975.7,821.5 L975.9,823.4 L976.0,825.1 L976.2,826.8 L976.4,828.9 L976.5,830.5 L976.7,832.2 L976.9,834.4 L977.0,836.0 L977.2,838.1 L977.4,840.1 L977.5,842.0 L977.7,844.1 L977.9,846.1 L978.0,848.1 L978.2,850.2 L978.3,852.3 L978.5,854.0 L978.6,856.1 L978.8,858.1 L979.0,860.2 L979.1,862.3 L979.3,864.5 L979.4,866.0 L979.6,868.4 L979.7,870.1 L979.9,872.3 L980.0,874.3 L980.1,875.7 L980.2,876.9 L980.3,878.1 L980.4,879.7 L980.5,881.2 L980.6,882.9 L980.7,884.5 L980.8,886.0 L980.9,887.1 L981.0,888.7 L981.1,890.5 L981.2,891.9 L981.3,893.7 L981.4,895.3 L981.5,896.9 L981.6,898.5 L981.7,900.4 L981.7,901.7 L981.8,903.4 L981.9,905.0 L982.0,906.7 L982.1,908.4 L982.2,910.3 L982.3,911.7 L982.4,913.5 L982.5,915.5 L982.6,917.2 L982.7,918.7 L982.7,920.6 L982.8,922.4 L982.9,924.0 L983.0,925.7 L983.1,927.5 L983.2,929.0 L983.3,930.7 L983.4,932.4 L983.5,934.1 L983.5,936.0 L983.6,937.7 L983.7,939.2 L983.8,940.9 L983.9,942.5 L984.0,944.3 L984.1,945.9 L984.2,947.8 L984.3,949.6 L984.3,951.1 L984.4,952.8 L984.5,954.3 L984.6,955.7 L984.7,957.7 L984.8,959.2 L984.9,960.5 L985.0,962.1 L985.1,963.9 L985.2,965.4 L985.2,966.7 L985.3,968.3 L985.4,969.7 L985.5,971.3 L985.6,972.8 L985.7,973.9 L985.8,975.4 L985.9,977.1 L986.0,978.0 L986.1,980.1 L986.3,982.5 L986.4,984.6 L986.6,986.7 L986.7,988.9 L986.9,990.9 L987.0,993.5 L987.2,995.6 L987.3,998.0 L987.5,1000.5 L987.7,1002.6 L987.8,1004.9 L988.0,1007.2 L988.1,1009.4 L988.3,1011.9 L988.4,1014.2 L988.6,1016.1 L988.7,1018.3 L988.9,1020.6 L989.1,1022.6 L989.2,1024.9 L989.4,1026.7 L989.5,1028.8 L989.7,1030.7 L989.8,1032.8 L990.0,1034.2 L990.1,1035.9 L990.3,1037.5 L990.4,1039.2 L990.6,1040.4 L990.8,1041.7 L990.9,1043.2 L991.1,1044.2 L991.2,1044.9 L991.4,1046.2 L991.5,1046.6 L991.6,1047.3 L991.8,1047.9 L991.9,1048.2 L992.1,1048.6 L992.2,1048.3 L992.4,1048.4 L992.5,1047.9 L992.6,1047.6 L992.7,1047.5 L992.8,1047.1 L992.9,1046.2 L993.0,1045.5 L993.1,1044.9 L993.2,1044.3 L993.2,1043.1 L993.3,1042.6 L993.4,1041.1 L993.5,1040.4 L993.6,1039.3 L993.7,1037.8 L993.8,1036.8 L993.9,1035.1 L994.0,1034.0 L994.0,1032.4 L994.1,1031.0 L994.2,1029.4 L994.3,1027.8 L994.4,1026.2 L994.5,1024.2 L994.6,1022.3 L994.6,1020.6 L994.7,1019.1 L994.8,1017.1 L994.9,1015.2 L995.0,1013.3 L995.1,1011.1 L995.2,1009.6 L995.2,1007.4 L995.3,1005.4 L995.4,1003.4 L995.5,1001.5 L995.6,999.3 L995.7,997.3 L995.7,995.3 L995.8,992.9 L995.9,991.2 L996.0,989.0 L996.1,986.8 L996.2,984.7 L996.2,982.8 L996.3,980.6 L996.4,978.5 L996.5,976.9 L996.6,974.8 L996.7,972.9 L996.8,970.9 L996.8,968.8 L996.9,967.1 L997.0,964.9 L997.1,963.1 L997.2,961.4 L997.3,959.7 L997.4,957.7 L997.5,956.0 L997.5,954.8 L997.6,952.7 L997.7,951.6 L997.8,949.9 L997.9,948.7 L998.0,946.8 L998.1,944.7 L998.3,942.9 L998.4,941.1 L998.5,939.0 L998.6,937.0 L998.8,935.5 L998.9,933.4 L999.0,931.6 L999.1,929.6 L999.2,927.5 L999.4,925.6 L999.5,923.8 L999.6,922.3 L999.7,920.4 L999.9,918.3 L1000.0,916.5 L1000.1,914.9 L1000.2,912.9 L1000.4,911.0 L1000.5,909.3 L1000.6,907.3 L1000.7,905.8 L1000.9,903.8 L1001.0,902.3 L1001.1,900.5 L1001.3,898.8 L1001.4,897.5 L1001.5,895.7 L1001.6,894.0 L1001.8,892.6 L1001.9,891.3 L1002.0,889.5 L1002.1,888.0 L1002.3,886.7 L1002.4,885.5 L1002.5,884.0 L1002.7,882.7 L1002.8,881.5 L1002.9,880.1 L1003.0,879.2 L1003.2,877.7 L1003.3,876.6 L1003.4,875.7 L1003.5,874.8 L1003.7,873.8 L1003.8,872.9 L1004.8,867.3 L1005.8,865.3 L1006.8,864.8 L1007.8,864.9 L1008.8,865.4 L1009.8,865.1 L1011.1,863.7 L1012.4,862.4 L1013.7,861.3 L1015.0,860.3 L1016.4,859.2 L1018.3,857.4 L1020.3,855.4 L1022.2,854.6 L1023.8,856.5 L1024.0,857.2 L1024.3,858.0 L1024.5,858.7 L1024.7,859.8 L1024.9,860.9 L1025.0,862.5 L1025.2,863.7 L1025.3,864.8 L1025.5,866.4 L1025.6,868.0 L1025.7,869.7 L1025.8,871.7 L1025.9,873.2 L1026.0,875.3 L1026.2,877.2 L1026.3,879.6 L1026.4,881.7 L1026.5,884.1 L1026.7,886.5 L1026.8,889.1 L1026.9,890.4 L1026.9,891.5 L1027.0,893.0 L1027.1,894.6 L1027.1,896.3 L1027.2,898.0 L1027.3,899.6 L1027.3,901.6 L1027.4,903.5 L1027.5,905.4 L1027.5,907.4 L1027.6,909.3 L1027.7,911.4 L1027.7,913.6 L1027.8,915.7 L1027.9,918.1 L1027.9,920.5 L1028.0,922.5 L1028.1,924.9 L1028.1,927.0 L1028.2,929.3 L1028.2,931.3 L1028.3,933.6 L1028.4,935.6 L1028.4,937.3 L1028.5,939.2 L1028.6,941.7 L1028.6,943.2 L1028.7,945.2 L1028.8,947.1 L1028.8,948.8 L1028.9,950.2 L1029.0,951.6 L1029.0,953.1 L1029.1,954.5 L1029.2,955.4 L1029.2,956.8 L1029.3,957.4 L1029.4,958.4 L1029.4,959.3 L1029.5,959.9 L1029.6,960.3 L1029.6,960.5 L1029.7,960.4 L1029.8,960.3 L1029.8,960.1 L1029.9,959.7 L1030.0,959.0 L1030.0,958.3 L1030.1,957.6 L1030.2,956.4 L1030.2,955.5 L1030.3,954.1 L1030.3,953.0 L1030.4,951.3 L1030.5,949.9 L1030.5,948.4 L1030.6,946.8 L1030.7,945.2 L1030.7,943.2 L1030.8,941.3 L1030.8,939.2 L1030.9,937.2 L1031.0,935.1 L1031.0,933.2 L1031.1,931.0 L1031.2,928.4 L1031.2,926.6 L1031.3,924.4 L1031.4,922.3 L1031.4,920.1 L1031.5,917.6 L1031.6,915.5 L1031.6,913.2 L1031.7,911.1 L1031.8,909.3 L1031.8,907.2 L1031.9,905.2 L1032.0,903.0 L1032.1,901.3 L1032.1,899.1 L1032.2,897.6 L1032.3,895.8 L1032.4,894.3 L1032.5,893.1 L1032.5,891.2 L1032.6,890.4 L1032.7,889.1 L1032.9,886.3 L1033.2,883.3 L1033.4,881.2 L1033.7,878.8 L1033.9,876.8 L1034.2,875.0 L1034.5,873.1 L1034.8,871.7 L1035.1,870.1 L1035.3,868.7 L1035.6,867.9 L1035.9,866.4 L1036.2,865.7 L1036.6,864.3 L1036.9,863.5 L1037.2,862.1 L1038.1,859.7 L1039.1,857.7 L1040.1,856.5 L1041.1,855.1 L1042.1,854.2 L1043.1,853.2 L1044.5,851.8 L1045.9,850.0 L1047.3,848.7 L1049.0,849.0 L1050.0,849.4 L1051.1,849.4 L1052.3,850.2 L1053.6,850.8 L1054.8,852.1 L1056.0,853.7 L1057.1,856.0 L1058.0,859.2 L1058.2,860.1 L1058.5,861.2 L1058.7,862.3 L1058.9,863.6 L1059.1,865.2 L1059.2,866.3 L1059.4,868.1 L1059.6,869.2 L1059.8,870.7 L1059.9,872.4 L1060.1,874.1 L1060.2,875.7 L1060.3,877.4 L1060.5,879.3 L1060.6,881.0 L1060.8,882.6 L1060.9,884.6 L1061.0,886.2 L1061.2,888.1 L1061.3,889.8 L1061.4,891.8 L1061.6,893.5 L1061.7,895.2 L1061.9,896.8 L1062.0,898.5 L1062.2,900.3 L1062.3,902.3 L1062.5,904.0 L1062.7,905.4 L1062.8,907.0 L1063.0,908.9 L1063.2,911.2 L1063.4,912.8 L1063.5,915.0 L1063.7,917.0 L1063.9,919.3 L1064.1,921.4 L1064.3,923.9 L1064.5,926.1 L1064.6,928.1 L1064.8,930.4 L1065.0,932.4 L1065.2,934.4 L1065.4,936.5 L1065.6,938.1 L1065.8,940.0 L1066.0,942.1 L1066.1,943.6 L1066.3,945.2 L1066.5,946.5 L1066.7,947.9 L1066.9,948.7 L1067.1,949.5 L1067.3,950.3 L1067.4,951.1 L1067.6,951.3 L1067.8,951.5 L1068.0,951.4 L1068.2,950.8 L1068.3,950.5 L1068.5,949.7 L1068.7,948.6 L1068.8,947.5 L1069.0,946.1 L1069.2,944.7 L1069.3,943.0 L1069.5,941.4 L1069.7,939.7 L1069.8,937.5 L1070.0,935.6 L1070.2,933.5 L1070.3,931.4 L1070.5,929.5 L1070.7,927.2 L1070.9,924.7 L1071.0,922.7 L1071.2,920.4 L1071.4,918.3 L1071.6,916.1 L1071.7,914.2 L1071.9,912.1 L1072.1,910.4 L1072.3,908.3 L1072.5,906.8 L1072.7,905.2 L1072.9,903.9 L1073.2,901.5 L1073.5,899.7 L1073.9,897.5 L1074.2,895.2 L1074.6,893.0 L1074.9,891.3 L1075.3,888.8 L1075.7,887.1 L1076.0,885.0 L1076.4,883.2 L1076.8,881.8 L1077.1,879.7 L1077.5,878.2 L1077.9,876.7 L1078.3,875.7 L1078.6,874.5 L1079.0,873.6 L1079.3,873.2 L1079.7,872.8 L1080.3,872.0 L1080.9,872.2 L1081.5,872.7 L1082.1,873.1 L1082.7,874.2 L1083.3,876.0 L1083.9,877.6 L1084.5,880.2 L1085.1,882.9 L1085.6,885.9 L1086.2,888.8 L1086.4,890.1 L1086.5,891.2 L1086.7,892.3 L1086.9,893.3 L1087.0,894.8 L1087.2,895.9 L1087.4,897.5 L1087.5,898.5 L1087.7,899.9 L1087.9,901.8 L1088.0,903.0 L1088.2,904.5 L1088.3,906.1 L1088.5,907.7 L1088.7,909.1 L1088.8,911.1 L1089.0,912.8 L1089.2,914.2 L1089.3,915.9 L1089.5,917.6 L1089.6,919.5 L1089.8,921.2 L1090.0,923.0 L1090.1,924.8 L1090.3,926.5 L1090.4,928.4 L1090.6,930.2 L1090.8,932.1 L1090.9,933.9 L1091.1,935.9 L1091.2,937.4 L1091.4,939.4 L1091.6,941.3 L1091.7,942.9 L1091.9,944.8 L1092.0,946.6 L1092.2,948.5 L1092.3,950.1 L1092.5,951.4 L1092.6,953.0 L1092.7,954.4 L1092.8,956.1 L1093.0,958.1 L1093.1,959.7 L1093.2,961.1 L1093.4,962.8 L1093.5,964.4 L1093.6,966.5 L1093.7,968.2 L1093.9,969.6 L1094.0,971.5 L1094.1,973.3 L1094.3,975.0 L1094.4,977.0 L1094.5,978.9 L1094.6,980.4 L1094.8,982.6 L1094.9,984.2 L1095.0,985.8 L1095.2,987.8 L1095.3,989.3 L1095.4,991.2 L1095.5,993.0 L1095.7,994.6 L1095.8,996.3 L1095.9,998.1 L1096.1,1000.1 L1096.2,1001.4 L1096.3,1003.2 L1096.4,1004.9 L1096.6,1006.3 L1096.7,1007.9 L1096.8,1009.7 L1096.9,1011.2 L1097.1,1012.5 L1097.2,1014.0 L1097.3,1015.1 L1097.5,1016.6 L1097.6,1017.9 L1097.7,1019.1 L1097.8,1020.5 L1098.0,1021.7 L1098.1,1022.9 L1098.4,1025.8 L1098.8,1028.5 L1099.1,1031.2 L1099.5,1033.4 L1099.8,1035.7 L1100.2,1037.8 L1100.5,1039.8 L1100.9,1041.9 L1101.2,1043.3 L1101.6,1045.0 L1101.9,1046.0 L1102.3,1047.0 L1102.6,1048.0 L1103.0,1048.5 L1103.3,1049.2 L1103.7,1049.4 L1104.0,1049.6 L1104.4,1049.4 L1104.7,1049.2 L1105.1,1048.6 L1105.4,1047.4 L1105.8,1046.7 L1106.2,1045.4 L1106.5,1043.9 L1106.9,1042.3 L1107.3,1040.9 L1107.6,1038.7 L1108.0,1036.7 L1108.3,1034.6 L1108.7,1032.7 L1109.0,1030.2 L1109.4,1027.6 L1109.7,1025.2 L1110.0,1022.7 L1110.1,1021.8 L1110.3,1020.1 L1110.4,1018.9 L1110.6,1017.7 L1110.7,1016.0 L1110.8,1014.7 L1110.9,1013.3 L1111.1,1011.5 L1111.2,1010.0 L1111.3,1008.3 L1111.4,1006.8 L1111.6,1005.1 L1111.7,1003.2 L1111.8,1001.5 L1111.9,999.7 L1112.1,997.9 L1112.2,995.9 L1112.3,994.2 L1112.4,992.3 L1112.5,990.7 L1112.6,988.8 L1112.7,986.8 L1112.9,985.1 L1113.0,983.6 L1113.1,981.7 L1113.2,979.7 L1113.3,978.1 L1113.4,976.2 L1113.6,974.7 L1113.7,973.3 L1113.8,971.5 L1113.9,970.2 L1114.0,968.8 L1114.1,967.4 L1114.3,965.8 L1114.4,964.3 L1114.5,963.3 L1114.7,961.0 L1115.0,958.8 L1115.2,956.7 L1115.4,954.3 L1115.7,952.5 L1115.9,950.9 L1116.1,948.9 L1116.3,947.6 L1116.6,946.1 L1116.8,944.3 L1117.0,943.0 L1117.3,941.3 L1117.5,940.2 L1117.8,939.1 L1118.1,937.7 L1118.4,936.1 L1118.7,935.1 L1119.0,933.4 L1119.5,931.7 L1120.1,929.7 L1120.6,928.3 L1121.3,926.8 L1121.9,925.3 L1122.5,924.3 L1123.2,922.9 L1123.8,921.5 L1124.5,919.9 L1125.1,918.7 L1125.8,917.1 L1126.4,915.7 L1127.0,914.2 L1127.6,912.5 L1128.1,910.1 L1128.7,908.0 L1129.3,905.9 L1129.9,904.1 L1130.5,902.0 L1131.1,899.9 L1131.7,898.3 L1132.2,897.1 L1132.8,895.9 L1133.3,895.2 L1133.8,894.9 L1134.3,895.3 L1134.7,895.9 L1135.2,897.3 L1135.6,899.4 L1136.0,901.4 L1136.4,903.5 L1136.7,905.8 L1137.1,907.9 L1137.5,910.1 L1137.9,912.1 L1138.3,913.9 L1138.8,915.2 L1139.2,915.6 L1140.2,915.7 L1141.4,914.1 L1142.5,911.9 L1143.6,909.5 L1144.7,907.7 L1145.7,906.9 L1146.4,907.2 L1147.1,907.5 L1147.8,908.5 L1148.4,910.0 L1149.0,912.4 L1149.6,915.1 L1150.2,918.5 L1150.4,919.9 L1150.5,921.0 L1150.7,922.2 L1150.8,923.3 L1151.0,924.7 L1151.1,926.3 L1151.3,927.6 L1151.5,929.3 L1151.6,931.0 L1151.8,932.6 L1151.9,934.1 L1152.1,936.2 L1152.2,937.5 L1152.4,939.4 L1152.5,941.1 L1152.7,942.8 L1152.9,944.7 L1153.0,946.7 L1153.2,948.6 L1153.3,950.1 L1153.5,951.7 L1153.6,953.7 L1153.8,955.1 L1154.0,957.0 L1154.1,958.5 L1154.3,960.4 L1154.4,961.9 L1154.6,963.4 L1154.8,965.0 L1155.0,967.2 L1155.2,969.0 L1155.4,970.8 L1155.6,973.1 L1155.8,974.9 L1156.0,977.3 L1156.2,979.3 L1156.4,980.9 L1156.6,983.3 L1156.8,985.1 L1156.9,986.8 L1157.2,988.8 L1157.4,990.6 L1157.6,992.0 L1157.8,993.6 L1158.0,995.4 L1158.2,996.4 L1158.4,997.8 L1158.6,998.6 L1158.8,999.5 L1159.1,1000.0 L1159.3,1000.3 L1159.7,1000.9 L1160.1,1000.5 L1160.5,1000.0 L1161.0,999.1 L1161.4,997.7 L1161.9,996.0 L1162.3,994.1 L1162.8,992.4 L1163.2,990.2 L1163.7,987.6 L1164.1,985.4 L1164.5,983.1 L1164.9,980.4 L1165.3,978.2 L1165.5,977.1 L1165.7,975.6 L1165.9,974.2 L1166.1,972.7 L1166.3,970.9 L1166.5,969.2 L1166.7,967.6 L1166.8,965.9 L1167.0,964.2 L1167.2,962.2 L1167.4,960.8 L1167.6,958.8 L1167.7,957.0 L1167.9,955.2 L1168.1,953.5 L1168.2,951.5 L1168.4,949.7 L1168.5,947.9 L1168.7,946.2 L1168.9,945.0 L1169.0,943.3 L1169.1,941.8 L1169.3,940.4 L1169.4,938.9 L1169.6,937.8 L1169.7,936.4 L1170.0,933.6 L1170.3,930.5 L1170.6,927.5 L1170.8,925.5 L1171.1,923.3 L1171.3,921.6 L1171.5,920.9 L1171.8,920.8 L1172.1,921.7 L1172.2,922.1 L1172.4,923.3 L1172.5,924.7 L1172.7,926.2 L1172.8,927.8 L1173.0,929.9 L1173.1,931.7 L1173.3,933.8 L1173.4,936.1 L1173.6,938.5 L1173.8,941.2 L1173.9,943.3 L1174.1,945.9 L1174.3,948.1 L1174.4,950.2 L1174.6,952.3 L1174.8,953.9 L1174.9,955.5 L1175.1,956.9 L1175.3,957.9 L1175.4,958.5 L1175.6,959.0 L1175.7,958.7 L1175.8,958.8 L1175.9,957.9 L1176.0,957.7 L1176.1,956.6 L1176.3,955.7 L1176.4,954.3 L1176.5,952.8 L1176.6,951.3 L1176.7,949.7 L1176.8,947.7 L1176.9,946.2 L1177.0,944.0 L1177.1,942.0 L1177.2,940.0 L1177.2,938.0 L1177.3,935.7 L1177.4,933.5 L1177.5,931.5 L1177.7,929.2 L1177.8,927.1 L1177.9,925.3 L1178.0,923.1 L1178.1,921.2 L1178.2,919.0 L1178.3,917.7 L1178.4,915.6 L1178.6,914.3 L1178.7,912.6 L1178.9,910.6 L1179.1,908.8 L1179.3,906.7 L1179.6,905.1 L1179.8,902.8 L1180.0,901.3 L1180.2,899.6 L1180.5,897.6 L1180.7,896.2 L1181.0,894.3 L1181.2,893.0 L1181.5,891.2 L1181.7,889.9 L1182.0,888.5 L1182.3,887.2 L1182.5,885.5 L1182.8,884.1 L1183.1,882.9 L1183.6,880.9 L1184.2,878.6 L1184.8,876.6 L1185.4,874.9 L1186.0,873.0 L1186.6,871.7 L1187.3,870.0 L1187.9,868.8 L1188.5,867.9 L1189.1,866.5 L1191.0,865.2 L1192.9,865.5 L1195.0,865.3 L1196.4,864.5 L1198.0,863.7 L1199.6,862.9 L1201.1,861.9 L1202.5,860.6 L1204.0,858.9 L1205.3,856.7 L1206.6,855.1 L1207.8,854.7 L1208.6,855.6 L1209.3,857.5 L1210.1,859.4 L1210.8,861.6 L1211.5,863.3 L1212.3,863.5 L1212.9,863.0 L1213.5,861.9 L1214.1,860.4 L1214.8,858.7 L1215.5,856.4 L1216.3,854.7 L1217.3,853.4 L1218.6,852.3 L1220.1,851.1 L1221.8,850.0 L1223.5,848.6 L1225.1,847.9 L1226.6,847.3 L1227.7,847.1 L1228.9,847.3 L1229.6,848.0 L1230.0,849.9 L1230.7,853.5 L1230.9,854.2 L1231.1,855.9 L1231.3,857.2 L1231.6,858.5 L1231.8,860.5 L1232.0,862.0 L1232.3,863.9 L1232.5,866.1 L1232.8,867.8 L1233.0,870.0 L1233.3,871.8 L1233.5,873.8 L1233.8,875.5 L1234.1,877.4 L1234.4,878.8 L1234.6,880.7 L1234.9,882.0 L1235.2,882.9 L1236.1,885.6 L1237.1,886.9 L1238.1,888.1 L1239.2,888.8 L1240.2,890.3 L1241.1,891.8 L1241.5,892.9 L1241.9,894.6 L1242.2,895.8 L1242.6,897.1 L1242.9,898.3 L1243.2,899.9 L1243.6,901.6 L1243.9,903.0 L1244.2,905.1 L1244.6,906.8 L1244.9,908.5 L1245.2,910.7 L1245.6,912.8 L1245.8,914.3 L1246.0,915.8 L1246.3,917.7 L1246.5,919.5 L1246.7,921.3 L1247.0,923.2 L1247.2,925.8 L1247.4,927.6 L1247.7,929.9 L1247.9,932.2 L1248.1,934.0 L1248.4,936.0 L1248.6,938.4 L1248.8,940.3 L1249.1,941.7 L1249.3,943.4 L1249.5,945.0 L1249.8,946.2 L1250.0,947.3 L1250.2,947.9 L1250.4,948.2 L1250.6,948.6 L1250.8,948.3 L1251.0,947.7 L1251.2,946.9 L1251.3,945.9 L1251.5,944.6 L1251.7,943.1 L1251.9,941.6 L1252.0,939.6 L1252.2,937.7 L1252.3,935.9 L1252.5,933.5 L1252.7,931.6 L1252.8,929.0 L1253.0,926.9 L1253.1,924.7 L1253.3,922.8 L1253.5,920.7 L1253.7,918.9 L1253.9,917.0 L1254.1,915.6 L1254.3,913.8 L1254.5,912.8 L1255.2,909.8 L1255.9,907.4 L1256.6,905.5 L1257.4,903.4 L1258.2,901.9 L1259.0,901.5 L1259.7,900.6 L1260.4,901.0 L1260.9,901.1 L1261.3,902.0 L1261.8,903.0 L1262.2,903.9 L1262.6,905.7 L1263.0,907.2 L1263.4,908.8 L1263.8,911.0 L1264.2,913.4 L1264.5,916.1 L1264.9,918.9 L1265.0,919.8 L1265.2,921.5 L1265.3,922.9 L1265.5,924.3 L1265.6,926.3 L1265.7,928.1 L1265.9,930.2 L1266.0,932.3 L1266.1,934.0 L1266.2,936.1 L1266.3,938.2 L1266.5,940.6 L1266.6,942.8 L1266.7,944.7 L1266.8,947.0 L1267.0,949.1 L1267.1,950.9 L1267.2,952.5 L1267.3,954.2 L1267.5,955.9 L1267.6,957.8 L1267.7,959.2 L1267.9,960.0 L1268.0,961.4 L1268.2,962.4 L1268.3,962.8 L1268.5,963.5 L1268.8,963.7 L1269.0,963.3 L1269.3,962.7 L1269.6,962.1 L1269.9,960.6 L1270.2,958.9 L1270.5,957.1 L1270.9,955.5 L1271.2,953.4 L1271.5,951.0 L1271.8,949.1 L1272.2,946.6 L1272.5,944.3 L1272.8,942.1 L1273.1,940.3 L1273.5,938.4 L1273.8,936.8 L1274.1,934.8 L1274.5,933.3 L1274.8,931.4 L1275.1,929.4 L1275.5,927.9 L1275.8,925.7 L1276.2,923.8 L1276.5,922.4 L1276.9,920.2 L1277.2,918.6 L1277.6,916.9 L1277.9,915.3 L1278.3,914.2 L1278.6,912.5 L1278.9,911.3 L1279.3,910.5 L1279.6,909.8 L1280.9,908.9 L1282.2,910.5 L1283.5,912.7 L1284.8,913.9 L1286.4,914.3 L1288.0,912.7 L1290.0,911.8 L1291.1,910.8 L1292.4,910.3 L1293.8,908.5 L1295.3,907.2 L1296.7,906.3 L1298.1,905.6 L1299.4,904.7 L1301.4,904.0 L1303.3,904.9 L1305.0,906.0 L1306.7,907.3 L1308.0,908.5 L1309.3,911.1 L1310.5,912.2 L1311.7,914.1 L1312.9,914.8 L1314.8,915.5 L1316.6,916.4 L1318.1,915.6 L1319.7,916.4 L1321.2,916.6 L1321.9,918.3 L1322.6,920.2 L1323.4,922.3 L1324.3,924.2 L1325.4,925.0 L1326.8,926.4 L1328.5,925.9 L1330.4,926.0 L1332.1,925.7 L1333.8,926.1 L1335.5,927.0 L1337.1,927.5 L1338.6,928.8 L1340.0,929.9 L1340.9,930.8 L1341.7,932.6 L1342.5,934.7 L1343.3,936.3 L1344.2,937.8 L1345.6,939.1 L1347.2,939.4 L1348.9,940.6 L1350.4,941.4 L1351.8,942.0 L1353.1,942.7 L1354.4,944.2 L1355.6,946.2 L1356.0,947.2 L1356.3,948.6 L1356.7,950.0 L1357.0,951.0 L1357.3,952.2 L1357.7,954.6 L1358.0,955.9 L1358.3,957.6 L1358.6,958.8 L1358.9,961.0 L1359.2,963.1 L1359.5,965.4 L1359.8,966.9 L1360.0,968.0 L1360.2,970.2 L1360.3,971.9 L1360.5,973.3 L1360.7,975.2 L1360.9,976.6 L1361.0,978.4 L1361.2,980.1 L1361.4,982.0 L1361.5,984.5 L1361.7,986.4 L1361.9,988.0 L1362.0,989.8 L1362.2,991.6 L1362.3,993.5 L1362.4,994.5 L1362.6,996.1 L1362.7,997.5 L1362.8,999.7 L1362.9,1000.4 L1363.2,1003.6 L1363.4,1005.6 L1363.6,1008.1 L1363.7,1009.7 L1363.8,1010.7 L1363.9,1012.4 L1364.0,1013.3"/>
</g>
<rect x="72" y="56.5" width="1295" height="1042.5" fill="none" stroke="#000" stroke-width="4"/>
<path d="M72.0,1099 V1119 M257.0,1099 V1119 M442.0,1099 V1119 M627.0,1099 V1119 M812.0,1099 V1119 M997.0,1099 V1119 M1182.0,1099 V1119 M1367.0,1099 V1119 M164.5,1099 V1109 M349.5,1099 V1109 M534.5,1099 V1109 M719.5,1099 V1109 M904.5,1099 V1109 M1089.5,1099 V1109 M1274.5,1099 V1109" stroke="#000" stroke-width="4" fill="none"/>
<defs><clipPath id="c1_0"><rect x="952.80" y="1135.00" width="5.80" height="40.50"/></clipPath><clipPath id="c1_1"><rect x="1138.10" y="1135.00" width="5.80" height="40.50"/></clipPath><clipPath id="c1_2"><rect x="166.05" y="157.50" width="5.60" height="37.10"/></clipPath><clipPath id="c1_3"><rect x="329.40" y="846.30" width="4.80" height="34.20"/></clipPath><clipPath id="c1_4"><rect x="818.20" y="923.80" width="4.60" height="33.40"/></clipPath><clipPath id="c1_5"><rect x="1005.95" y="1044.90" width="4.80" height="34.10"/></clipPath><clipPath id="c1_6"><rect x="1050.30" y="1044.90" width="4.60" height="34.10"/></clipPath><clipPath id="c1_7"><rect x="966.45" y="1228.30" width="4.80" height="35.80"/></clipPath></defs>
<text x="17.80" y="1174.00" font-family="Liberation Sans, sans-serif" font-size="54" textLength="107.72" lengthAdjust="spacingAndGlyphs">4000</text>
<text x="204.01" y="1174.00" font-family="Liberation Sans, sans-serif" font-size="54" textLength="107.51" lengthAdjust="spacingAndGlyphs">3500</text>
<text x="387.91" y="1174.00" font-family="Liberation Sans, sans-serif" font-size="54" textLength="107.61" lengthAdjust="spacingAndGlyphs">3000</text>
<text x="571.96" y="1174.00" font-family="Liberation Sans, sans-serif" font-size="54" textLength="109.59" lengthAdjust="spacingAndGlyphs">2500</text>
<text x="756.07" y="1174.00" font-family="Liberation Sans, sans-serif" font-size="54" textLength="109.38" lengthAdjust="spacingAndGlyphs">2000</text>
<text x="1326.70" y="1174.00" font-family="Liberation Sans, sans-serif" font-size="54" textLength="81.20" lengthAdjust="spacingAndGlyphs">500</text>
<g clip-path="url(#c1_0)"><text x="939.77" y="0" transform="translate(0 1173.50) scale(1 0.9825)" font-family="Liberation Sans, sans-serif" font-size="54" stroke="#000" stroke-width="1.05">1</text></g>
<text x="969.60" y="1174.00" font-family="Liberation Sans, sans-serif" font-size="54" textLength="81.20" lengthAdjust="spacingAndGlyphs">500</text>
<g clip-path="url(#c1_1)"><text x="1125.07" y="0" transform="translate(0 1173.50) scale(1 0.9825)" font-family="Liberation Sans, sans-serif" font-size="54" stroke="#000" stroke-width="1.05">1</text></g>
<text x="1154.91" y="1174.00" font-family="Liberation Sans, sans-serif" font-size="54" textLength="80.47" lengthAdjust="spacingAndGlyphs">000</text>
<text x="79.40" y="193.10" font-family="Liberation Sans, sans-serif" font-size="49" textLength="75.99" lengthAdjust="spacingAndGlyphs">CO</text>
<g clip-path="url(#c1_2)"><text x="154.39" y="0" transform="translate(0 192.60) scale(1 0.9818)" font-family="Liberation Sans, sans-serif" font-size="49" stroke="#000" stroke-width="1.29">1</text></g>
<text x="181.02" y="193.10" font-family="Liberation Sans, sans-serif" font-size="49" textLength="48.53" lengthAdjust="spacingAndGlyphs">00</text>
<text x="79.62" y="295.00" font-family="Liberation Sans, sans-serif" font-size="49" textLength="162.14" lengthAdjust="spacingAndGlyphs">COM25</text>
<text x="79.60" y="394.40" font-family="Liberation Sans, sans-serif" font-size="49" textLength="163.17" lengthAdjust="spacingAndGlyphs">COM50</text>
<text x="79.64" y="500.20" font-family="Liberation Sans, sans-serif" font-size="49" textLength="161.11" lengthAdjust="spacingAndGlyphs">COM75</text>
<text x="79.59" y="604.80" font-family="Liberation Sans, sans-serif" font-size="49" textLength="153.29" lengthAdjust="spacingAndGlyphs">COT25</text>
<text x="79.55" y="709.30" font-family="Liberation Sans, sans-serif" font-size="49" textLength="155.36" lengthAdjust="spacingAndGlyphs">COT50</text>
<text x="79.59" y="817.80" font-family="Liberation Sans, sans-serif" font-size="49" textLength="153.29" lengthAdjust="spacingAndGlyphs">COT75</text>
<text x="277.62" y="879.00" font-family="Liberation Sans, sans-serif" font-size="44" textLength="41.01" lengthAdjust="spacingAndGlyphs">33</text>
<g clip-path="url(#c1_3)"><text x="318.82" y="0" transform="translate(0 878.50) scale(1 0.9976)" font-family="Liberation Sans, sans-serif" font-size="44" stroke="#000" stroke-width="0.93">1</text></g>
<text x="342.89" y="879.00" font-family="Liberation Sans, sans-serif" font-size="44" textLength="20.99" lengthAdjust="spacingAndGlyphs">5</text>
<text x="662.00" y="882.30" font-family="Liberation Sans, sans-serif" font-size="44" textLength="88.10" lengthAdjust="spacingAndGlyphs">2275</text>
<g clip-path="url(#c1_4)"><text x="807.52" y="0" transform="translate(0 955.20) scale(1 0.9712)" font-family="Liberation Sans, sans-serif" font-size="44" stroke="#000" stroke-width="0.73">1</text></g>
<text x="832.53" y="956.05" font-family="Liberation Sans, sans-serif" font-size="44" textLength="65.03" lengthAdjust="spacingAndGlyphs">705</text>
<g clip-path="url(#c1_5)"><text x="995.37" y="0" transform="translate(0 1077.00) scale(1 0.9943)" font-family="Liberation Sans, sans-serif" font-size="44" stroke="#000" stroke-width="0.93">1</text></g>
<text x="1018.29" y="1077.50" font-family="Liberation Sans, sans-serif" font-size="44" textLength="20.99" lengthAdjust="spacingAndGlyphs">5</text>
<g clip-path="url(#c1_6)"><text x="1039.62" y="0" transform="translate(0 1077.00) scale(1 0.9943)" font-family="Liberation Sans, sans-serif" font-size="44" stroke="#000" stroke-width="0.73">1</text></g>
<text x="1063.78" y="1077.50" font-family="Liberation Sans, sans-serif" font-size="44" textLength="21.10" lengthAdjust="spacingAndGlyphs">5</text>
<text x="435.90" y="1290.25" font-family="Liberation Sans, sans-serif" font-size="64.6" textLength="380.43" lengthAdjust="spacingAndGlyphs">Wavenumber</text>
<text x="0" y="0" transform="translate(837.06 1292.07) scale(1.1786 1.3122)" font-family="Liberation Sans, sans-serif" font-size="52">(</text>
<text x="858.67" y="1290.20" font-family="Liberation Sans, sans-serif" font-size="60" textLength="83.49" lengthAdjust="spacingAndGlyphs">cm</text>
<text x="941.45" y="1266.85" font-family="Liberation Sans, sans-serif" font-size="58" textLength="16.43" lengthAdjust="spacingAndGlyphs">-</text>
<text x="0" y="0" transform="translate(981.22 1292.07) scale(1.1769 1.3122)" font-family="Liberation Sans, sans-serif" font-size="52">)</text>
<g clip-path="url(#c1_7)"><text x="955.28" y="0" transform="translate(0 1262.10) scale(1 1.0048)" font-family="Liberation Sans, sans-serif" font-size="46" stroke="#000" stroke-width="0.75">1</text></g>
</svg>
</body></html>
